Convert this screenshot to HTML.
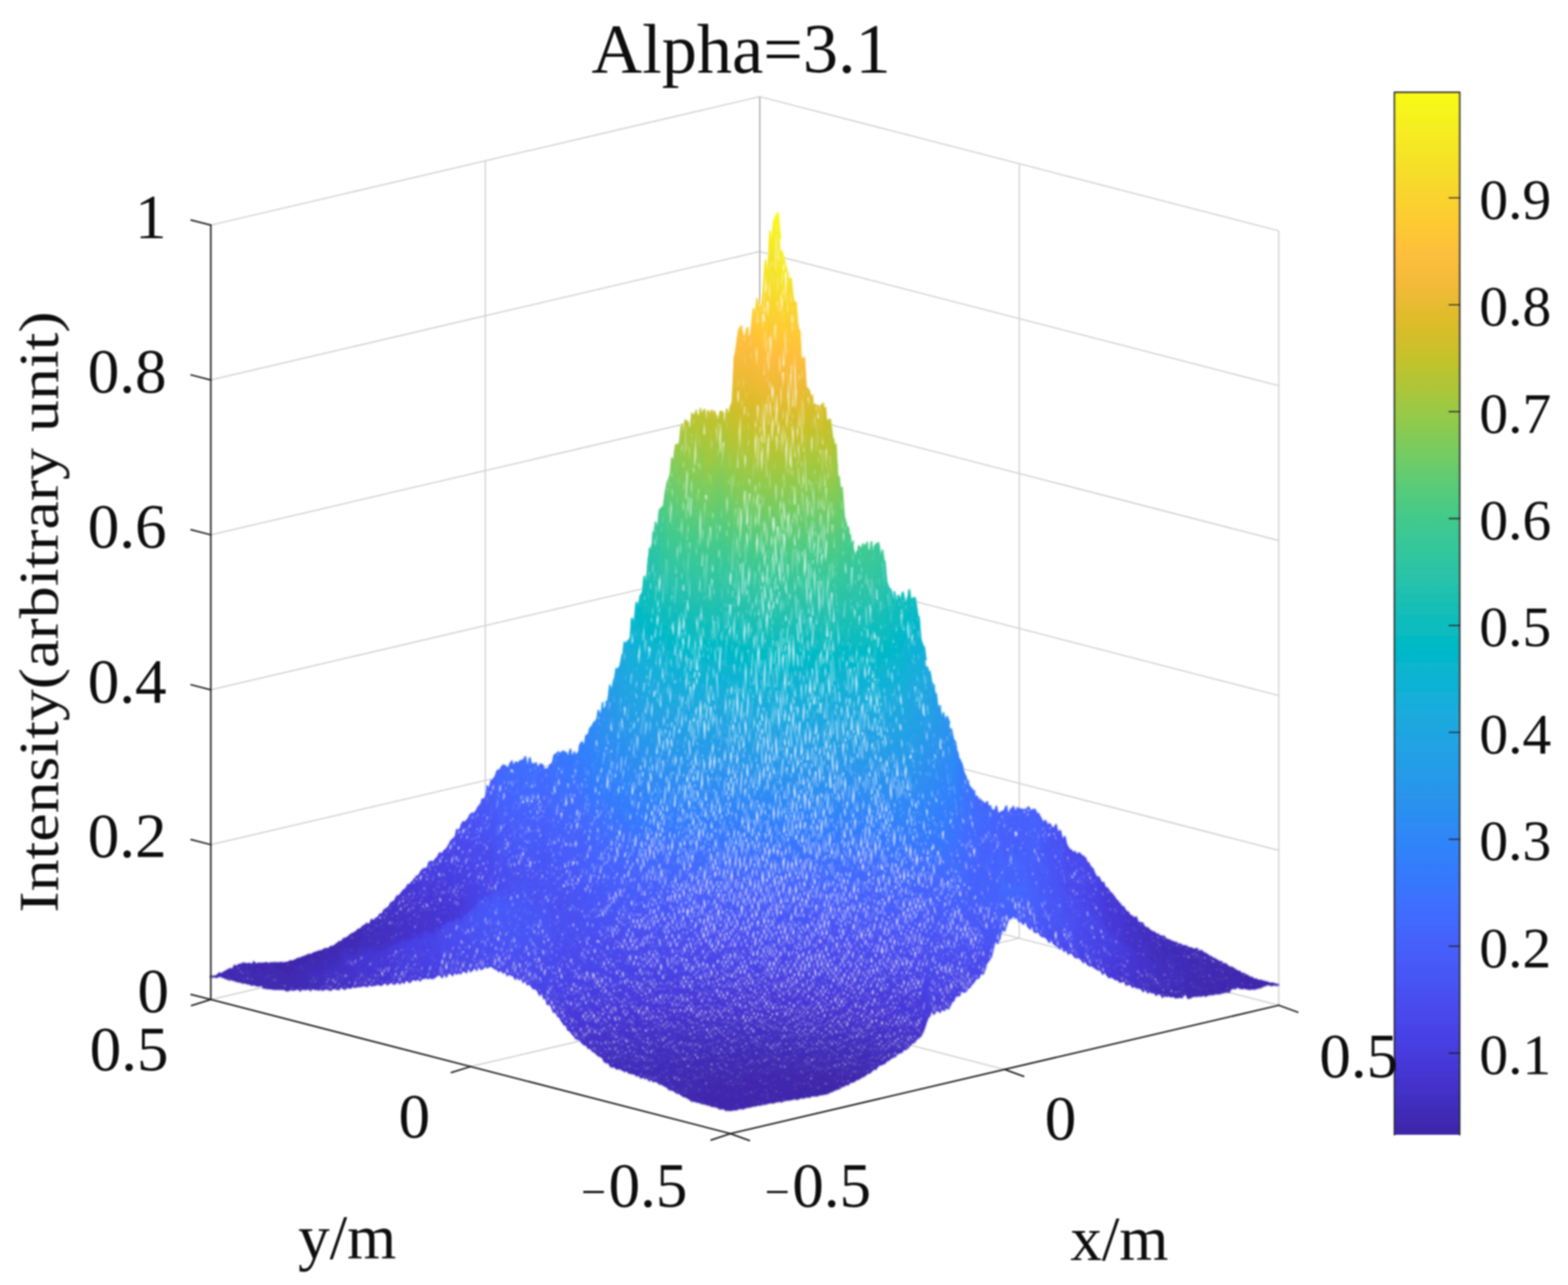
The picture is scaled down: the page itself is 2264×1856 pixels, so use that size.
<!DOCTYPE html>
<html><head><meta charset="utf-8"><title>Alpha=3.1</title><style>html,body{margin:0;padding:0;background:#fff}
svg{display:block}
.g{stroke:#d4d4d4;stroke-width:2;fill:none}
.g2{stroke:#b0b0b0;stroke-width:2;fill:none}
.a{stroke:#262626;stroke-width:2.3;fill:none;stroke-linecap:round}
text{font-family:"Liberation Serif","DejaVu Serif",serif;fill:#0a0a0a}
.tl{font-size:101.5px}
.tk{font-size:91px}
.cb{font-size:83px}
</style></head><body><svg width="2264" height="1856" viewBox="0 0 2264 1856"><defs><linearGradient id="gr" gradientUnits="userSpaceOnUse" x1="-5.87" y1="-25.02" x2="-248.42" y2="-1058.98"><stop offset="0" stop-color="#3e26a8"/><stop offset="0.03125" stop-color="#422ebf"/><stop offset="0.0625" stop-color="#4536d5"/><stop offset="0.09375" stop-color="#4741e5"/><stop offset="0.125" stop-color="#484cef"/><stop offset="0.1562" stop-color="#4757f7"/><stop offset="0.1875" stop-color="#4562fc"/><stop offset="0.2188" stop-color="#3f6efe"/><stop offset="0.25" stop-color="#347afd"/><stop offset="0.2812" stop-color="#2e85f8"/><stop offset="0.3125" stop-color="#2c90f0"/><stop offset="0.3438" stop-color="#269ae9"/><stop offset="0.375" stop-color="#21a3e3"/><stop offset="0.4062" stop-color="#1aacdd"/><stop offset="0.4375" stop-color="#0cb3d3"/><stop offset="0.4688" stop-color="#01b9c6"/><stop offset="0.5" stop-color="#12beb9"/><stop offset="0.5312" stop-color="#28c2ab"/><stop offset="0.5625" stop-color="#34c79c"/><stop offset="0.5938" stop-color="#44ca8a"/><stop offset="0.625" stop-color="#5ccc76"/><stop offset="0.6562" stop-color="#77cc60"/><stop offset="0.6875" stop-color="#94ca4a"/><stop offset="0.7188" stop-color="#afc637"/><stop offset="0.75" stop-color="#c8c129"/><stop offset="0.7812" stop-color="#debc2a"/><stop offset="0.8125" stop-color="#f1ba37"/><stop offset="0.8438" stop-color="#febe3c"/><stop offset="0.875" stop-color="#feca33"/><stop offset="0.9062" stop-color="#f9d62d"/><stop offset="0.9375" stop-color="#f5e327"/><stop offset="0.9688" stop-color="#f6ef20"/><stop offset="1" stop-color="#f9fb15"/></linearGradient><linearGradient id="gc" gradientUnits="userSpaceOnUse" x1="6.38" y1="-24.75" x2="269.99" y2="-1047.68"><stop offset="0" stop-color="#3e26a8"/><stop offset="0.03125" stop-color="#422ebf"/><stop offset="0.0625" stop-color="#4536d5"/><stop offset="0.09375" stop-color="#4741e5"/><stop offset="0.125" stop-color="#484cef"/><stop offset="0.1562" stop-color="#4757f7"/><stop offset="0.1875" stop-color="#4562fc"/><stop offset="0.2188" stop-color="#3f6efe"/><stop offset="0.25" stop-color="#347afd"/><stop offset="0.2812" stop-color="#2e85f8"/><stop offset="0.3125" stop-color="#2c90f0"/><stop offset="0.3438" stop-color="#269ae9"/><stop offset="0.375" stop-color="#21a3e3"/><stop offset="0.4062" stop-color="#1aacdd"/><stop offset="0.4375" stop-color="#0cb3d3"/><stop offset="0.4688" stop-color="#01b9c6"/><stop offset="0.5" stop-color="#12beb9"/><stop offset="0.5312" stop-color="#28c2ab"/><stop offset="0.5625" stop-color="#34c79c"/><stop offset="0.5938" stop-color="#44ca8a"/><stop offset="0.625" stop-color="#5ccc76"/><stop offset="0.6562" stop-color="#77cc60"/><stop offset="0.6875" stop-color="#94ca4a"/><stop offset="0.7188" stop-color="#afc637"/><stop offset="0.75" stop-color="#c8c129"/><stop offset="0.7812" stop-color="#debc2a"/><stop offset="0.8125" stop-color="#f1ba37"/><stop offset="0.8438" stop-color="#febe3c"/><stop offset="0.875" stop-color="#feca33"/><stop offset="0.9062" stop-color="#f9d62d"/><stop offset="0.9375" stop-color="#f5e327"/><stop offset="0.9688" stop-color="#f6ef20"/><stop offset="1" stop-color="#f9fb15"/></linearGradient><linearGradient id="gu" gradientUnits="userSpaceOnUse" x1="0" y1="1419.6" x2="0" y2="328.7"><stop offset="0" stop-color="#3e26a8"/><stop offset="0.03125" stop-color="#422ebf"/><stop offset="0.0625" stop-color="#4536d5"/><stop offset="0.09375" stop-color="#4741e5"/><stop offset="0.125" stop-color="#484cef"/><stop offset="0.1562" stop-color="#4757f7"/><stop offset="0.1875" stop-color="#4562fc"/><stop offset="0.2188" stop-color="#3f6efe"/><stop offset="0.25" stop-color="#347afd"/><stop offset="0.2812" stop-color="#2e85f8"/><stop offset="0.3125" stop-color="#2c90f0"/><stop offset="0.3438" stop-color="#269ae9"/><stop offset="0.375" stop-color="#21a3e3"/><stop offset="0.4062" stop-color="#1aacdd"/><stop offset="0.4375" stop-color="#0cb3d3"/><stop offset="0.4688" stop-color="#01b9c6"/><stop offset="0.5" stop-color="#12beb9"/><stop offset="0.5312" stop-color="#28c2ab"/><stop offset="0.5625" stop-color="#34c79c"/><stop offset="0.5938" stop-color="#44ca8a"/><stop offset="0.625" stop-color="#5ccc76"/><stop offset="0.6562" stop-color="#77cc60"/><stop offset="0.6875" stop-color="#94ca4a"/><stop offset="0.7188" stop-color="#afc637"/><stop offset="0.75" stop-color="#c8c129"/><stop offset="0.7812" stop-color="#debc2a"/><stop offset="0.8125" stop-color="#f1ba37"/><stop offset="0.8438" stop-color="#febe3c"/><stop offset="0.875" stop-color="#feca33"/><stop offset="0.9062" stop-color="#f9d62d"/><stop offset="0.9375" stop-color="#f5e327"/><stop offset="0.9688" stop-color="#f6ef20"/><stop offset="1" stop-color="#f9fb15"/></linearGradient><filter id="bl" x="-5%" y="-5%" width="110%" height="110%"><feGaussianBlur stdDeviation="1.60"/></filter><filter id="ba" x="-2%" y="-2%" width="104%" height="104%"><feGaussianBlur stdDeviation="1.00"/></filter><filter id="bt" x="-2%" y="-2%" width="104%" height="104%"><feGaussianBlur stdDeviation="0.90"/></filter></defs><rect width="2264" height="1856" fill="#fff"/><g filter="url(#ba)"><g><line x1="304.4" y1="1443.7" x2="1097.0" y2="1258.2" class="g"/><line x1="1097.0" y1="1258.2" x2="1846.4" y2="1452.0" class="g"/><line x1="304.4" y1="1220.0" x2="1097.0" y2="1034.5" class="g"/><line x1="1097.0" y1="1034.5" x2="1846.4" y2="1228.3" class="g"/><line x1="304.4" y1="996.3" x2="1097.0" y2="810.8" class="g"/><line x1="1097.0" y1="810.8" x2="1846.4" y2="1004.6" class="g"/><line x1="304.4" y1="772.5" x2="1097.0" y2="587.0" class="g"/><line x1="1097.0" y1="587.0" x2="1846.4" y2="780.8" class="g"/><line x1="304.4" y1="548.8" x2="1097.0" y2="363.3" class="g"/><line x1="1097.0" y1="363.3" x2="1846.4" y2="557.1" class="g"/><line x1="304.4" y1="325.1" x2="1097.0" y2="139.6" class="g"/><line x1="1097.0" y1="139.6" x2="1846.4" y2="333.4" class="g"/><line x1="700.7" y1="1351.0" x2="700.7" y2="232.4" class="g"/><line x1="1471.7" y1="1355.1" x2="1471.7" y2="236.5" class="g"/><line x1="1846.4" y1="1452.0" x2="1846.4" y2="333.4" class="g"/><line x1="1097.0" y1="1258.2" x2="1097.0" y2="139.6" class="g2"/><line x1="1450.5" y1="1544.7" x2="700.7" y2="1351.0" class="g"/><line x1="679.5" y1="1540.5" x2="1471.7" y2="1355.1" class="g"/></g></g><path d="M305 1410l2 0 2 0 2 0 2-2 2-2 2 0 2 0 2-1 2-1 2-2 2 0 2-2 2 0 2-1 2 1 2-4 2-1 2 1 2-2 2-1 2 0 2-1 2 0 2 0 2 0 2 0 2-1 2 1 2 0 2-2 2 0 2 2 2 0 2-1 2 1 2 0 2 0 2-1 2-1 2 0 2 2 2 0 2-1 2 0 2 0 2 0 2 0 2 0 2-1 2 0 2 0 2 2 2-2 2 0 2 0 2-2 2 0 2 0 2 0 2-2 2 0 2-2 2 0 2 0 2-1 2-1 2 0 2-1 2-1 2 0 2-1 2-1 2 0 2-2 2 0 2-1 2-1 2 0 2 0 2-2 2-1 2-1 2 0 2 0 2-2 2-1 2 1 2-2 2-1 2-1 2-2 2-2 2 0 2-2 2-2 2 0 2-2 2 0 2-2 2-2 2-1 2-1 2-1 2-1 2-2 2-2 2 0 2-2 2-2 2-1 2-1 2-2 2 1 2-2 2-5 2 1 2 1 2-3 2-1 2-2 2-3 2-1 2 0 2-4 2-2 2-2 2-1 2-3 2-4 2 0 2-2 2-2 2-4 2-2 2 0 2-2 2-2 2-4 2-1 2-1 2-4 2-2 2 0 2-3 2-3 2-2 2-2 2-2 2-1 2-3 2-3 2-3 2 0 2-1 2 0 2-5 2-5 2-1 2 0 2 2 2-4 2-3 2-1 2-4 2-2 2 2 2-4 2-2 2-2 2-2 2-3 2-5 2-2 2-2 2-2 2-3 2-9 2 1 2-3 2-4 2-4 2-1 2 0 2-3 2-2 2-4 2-2 2-2 2 2 2-3 2-3 2-4 2-2 2-2 2-8 2 0 2 0 2-13 2-6 2 5 2-9 2-5 2 0 2-3 2-5 2-6 2 2 2-2 2-4 2-2 2-1 2 2 2 1 2 1 2-5 2-4 2 1 2 3 2-2 2-2 2 2 2-2 2 0 2-2 2 1 2-5 2 2 2 11 2-11 2 0 2 8 2-1 2 1 2-2 2 4 2 2 2-4 2 0 2 0 2 7 2-1 2 1 2-3 2-4 2 0 2-4 2-9 2-1 2-2 2-2 2 2 2 0 2-3 2 0 2 1 2 2 2 4 2-6 2-4 2 8 2-1 2-2 2 3 2-2 2-3 2-10 2-3 2 2 2 2 2-13 2-1 2-4 2-6 2-2 2-4 2-4 2-1 2-1 2-14 2 3 2 1 2-14 2 6 2 0 2-8 2-4 2-18 2 0 2 0 2-8 2-6 2-12 2 1 2-3 2-6 2-10 2-4 2-16 2 2 2-4 2-1 2-5 2-24 2-1 2-1 2-21 2-1 2 2 2-12 2-4 2-6 2-18 2 1 2-3 2-24 2-12 2-2 2-7 2-19 2-10 2-2 2 4 2-20 2-4 2-2 2-3 2-16 2-11 2-8 2-5 2-10 2-18 2 3 2-16 2-10 2 2 2 2 2-14 2-16 2 8 2 0 2-14 2 1 2 1 2 10 2-12 2-10 2 2 2-4 2-3 2 9 2-4 2-8 2 7 2-4 2-1 2 21 2-19 2 2 2 2 2-6 2 10 2-8 2 5 2 6 2-1 2-10 2 0 2 2 2 16 2-12 2-8 2 7 2-9 2-4 2-22 2-44 2-13 2-15 2-14 2-4 2-2 2 5 2 8 2 0 2-9 2-3 2 15 2-7 2-16 2-19 2 13 2-17 2-11 2 7 2 6 2-10 2-18 2-28 2-12 2 22 2-32 2-28 2 10 2-20 2-11 2-5 2-4 2-1 2 21 2 37 2-2 2 7 2 8 2 8 2 7 2 19 2-7 2 9 2 16 2 8 2 0 2 24 2 14 2 9 2 33 2 0 2-2 2 39 2 5 2 2 2 4 2 15 2-10 2 13 2-2 2 4 2 0 2 4 2-4 2-3 2 17 2-7 2 15 2 0 2-2 2 6 2 14 2 8 2 10 2 2 2 32 2 11 2 16 2 1 2 16 2 24 2 8 2 7 2 3 2 8 2 14 2-4 2 13 2 6 2-5 2-8 2 2 2 3 2-7 2 4 2-2 2-2 2 10 2 0 2-14 2 12 2-2 2-5 2-1 2-2 2 5 2 15 2-7 2 8 2 9 2 12 2 18 2 5 2 3 2 4 2 8 2-7 2 7 2 3 2-5 2 2 2-2 2-5 2 7 2 8 2-6 2-14 2 4 2 12 2-4 2-2 2 0 2 12 2 17 2 3 2 23 2 12 2 4 2 7 2 12 2 14 2 4 2 1 2 15 2 2 2 10 2 7 2 9 2 6 2 3 2 13 2-6 2 4 2 7 2-5 2 2 2 7 2 8 2 9 2 7 2 3 2 12 2 2 2 10 2 3 2 5 2 8 2 6 2 5 2 5 2 6 2 4 2 2 2 2 2 8 2 1 2 1 2 6 2-2 2 2 2 0 2 2 2 2 2-4 2 9 2-3 2 4 2 2 2 2 2-6 2 0 2 10 2-1 2-3 2 0 2-2 2-4 2 0 2 8 2-2 2-3 2-3 2 0 2 4 2 0 2-4 2 2 2 0 2 2 2 0 2-1 2 1 2-3 2-1 2 2 2 3 2-3 2 2 2 2 2 4 2 0 2 2 2 4 2 4 2 0 2 0 2 4 2 4 2-4 2 2 2 4 2 0 2-4 2 0 2 8 2 0 2 1 2 7 2 4 2-4 2 9 2 5 2 4 2 2 2 0 2 4 2-2 2 3 2 1 2-2 2 1 2 2 2 2 2 1 2 2 2 5 2 1 2 4 2 2 2 2 2 5 2 5 2 2 2 1 2 1 2 4 2 3 2 0 2 5 2 2 2 2 2 3 2 3 2 1 2 3 2 2 2 3 2 1 2 4 2 2 2 3 2 1 2 2 2 3 2 3 2 0 2 4 2 1 2 1 2 2 2-2 2 3 2 5 2 0 2 1 2 0 2 3 2 3 2 1 2 1 2 2 2 1 2 2 2 1 2 0 2 1 2 2 2 0 2 2 2 0 2 1 2 1 2 2 2 1 2 1 2 1 2 1 2 0 2 1 2 1 2 0 2 2 2 0 2 0 2 2 2 0 2 0 2 0 2 2 2 1 2 0 2 1 2 1 2 1 2-2 2 2 2 2 2 0 2 0 2 2 2 1 2 1 2 1 2 1 2 2 2 0 2 2 2 1 2 1 2 1 2 1 2 1 2 0 2 2 2 1 2 0 2 2 2 2 2 1 2 1 2 0 2 2 2 0 2 2 2 0 2 1 2 1 2 2 2 0 2 2 2 1 2 1 2 1 2 1 2 0 2 2 2 0 2 0 2 1 2 1 2 0 2 0 2 1 2 1 2 0 2 0 2 1 2 1 2 0 2 0 2 0 2 2 2 0 2 0 0 0-2 0-2 0-2 0-2 0-2 0-2 0-2 0-2 0-2 0-2 1-2 1-2 1-2 1-2 0-2 0-2 2-2 0-2 0-2 0-2 0-2 0-2 0-2 0-2-1-2 0-2 1-2-1-2-1-2 0-2 0-2 1-2 0-2 0-2 1-2 4-2 0-2 0-2 0-2 0-2 0-2 2-2 0-2 1-2-1-2 0-2 2-2 0-2 0-2 0-2 0-2 1-2 1-2 0-2-2-2 2-2 0-2 0-2 0-2 0-2 0-2 0-2 0-2 2-2 1-2 0-2-3-2-2-2 2-2 2-2 0-2 0-2 0-2 0-2 1-2-1-2-2-2 2-2-1-2-1-2 0-2 0-2 0-2 1-2 0-2-3-2-1-2 0-2 2-2-1-2-3-2 1-2-2-2-1-2 2-2-1-2-4-2 3-2-1-2-2-2-1-2-1-2 0-2-1-2-1-2 2-2-2-2-4-2 2-2 0-2 0-2-4-2-2-2 2-2 0-2-2-2-1-2-1-2 0-2-2-2-1-2-1-2 2-2-2-2-2-2-4-2 1-2 1-2-4-2-2-2 0-2 0-2-2-2-2-2-1-2-1-2 0-2 0-2-2-2-4-2 0-2 2-2-3-2-3-2-2-2 1-2-1-2 0-2-2-2-4-2 0-2 1-2-1-2-4-2 0-2 0-2-5-2 1-2 2-2-2-2-2-2-1-2-2-2-3-2-4-2 4-2 0-2-4-2-2-2-2-2 0-2 0-2-2-2-4-2 0-2 0-2 0-2-4-2-6-2 5-2-1-2-2-2-4-2-2-2 2-2-2-2-2-2 0-2-2-2-5-2 1-2-2-2 2-2 2-2-2-2 6-2 6-2 6-2 2-2-2-2 6-2 8-2 4-2 1-2-2-2 7-2 8-2 7-2 3-2 3-2 3-2 5-2 7-2 4-2 0-2 0-2 5-2 1-2 2-2 2-2 3-2 1-2 4-2 2-2 0-2 4-2 2-2 0-2-1-2 1-2 6-2 0-2 0-2 0-2 4-2 3-2 5-2 4-2 2-2 0-2 0-2 2-2 0-2-1-2 4-2-1-2-2-2 2-2 2-2 2-2-4-2 2-2 6-2 4-2 6-2 5-2 5-2 4-2 4-2 1-2 2-2 2-2 3-2 1-2 1-2 2-2 1-2 3-2 2-2 1-2 0-2 3-2 1-2 1-2 0-2 1-2 3-2 2-2 0-2 2-2 0-2 3-2 0-2 1-2 3-2 1-2 1-2 0-2 1-2 2-2 4-2 0-2-1-2 3-2 2-2 1-2 0-2 1-2 3-2 1-2 1-2 0-2 1-2 2-2 0-2 2-2 2-2 0-2 0-2 1-2 2-2 1-2 0-2 2-2 0-2 0-2 2-2 2-2 0-2 0-2 2-2 0-2 2-2 1-2 1-2 0-2 1-2 1-2 0-2 1-2-1-2 0-2 2-2 0-2 0-2 0-2 0-2 0-2 2-2 0-2 0-2 0-2 0-2 1-2-1-2 1-2 1-2 0-2 1-2-1-2 0-2 2-2 0-2 0-2 0-2 0-2 0-2 2-2 0-2 0-2 0-2 0-2 0-2 1-2 1-2 0-2 0-2 0-2 1-2 0-2 1-2 0-2 0-2 0-2 2-2 0-2 0-2 1-2 0-2 0-2 1-2 0-2 0-2 1-2 0-2 1-2 0-2 1-2-1-2 1-2 1-2 0-2 0-2 0-2 1-2 1-2 0-2-1-2 0-2-1-2-1-2 0-2-1-2 0-2 0-2-2-2 0-2 0-2 0-2 0-2-2-2 0-2-1-2-1-2 0-2 0-2 0-2-1-2-1-2-1-2 0-2-1-2 0-2 0-2 0-2-2-2-2-2-1-2-1-2-1-2-1-2 0-2-2-2-2-2 0-2-1-2-1-2-2-2-1-2 0-2 0-2-3-2-2-2 0-2-1-2-1-2-1-2 0-2-1-2-2-2 0-2 0-2-2-2-2-2 2-2-1-2-3-2 1-2-1-2-2-2 2-2-2-2-2-2 1-2-1-2-2-2 0-2 0-2 0-2 0-2-3-2-1-2 1-2-1-2-2-2 0-2-1-2 0-2 1-2-3-2-1-2 0-2 0-2-4-2-2-2 0-2-1-2-1-2-4-2-2-2-1-2 0-2-2-2-3-2-1-2-1-2-2-2-2-2 0-2-2-2-3-2-1-2-1-2-1-2-4-2-1-2-1-2 0-2-2-2-2-2-2-2-4-2-2-2 0-2-6-2-2-2 0-2-5-2-2-2-4-2-1-2-4-2-3-2 1-2-4-2-5-2-3-2 0-2 0-2-8-2-1-2-1-2-6-2 3-2-2-2-5-2-2-2 0-2 0-2-3-2-3-2-1-2 1-2-4-2-2-2 2-2-4-2-2-2 2-2-2-2-2-2 4-2-4-2-2-2 0-2-1-2 1-2 0-2-4-2 0-2 0-2-2-2 0-2 0-2-2-2-1-2-1-2-1-2-1-2-1-2 0-2 1-2 0-2 0-2 3-2 0-2 1-2-4-2 2-2 3-2-3-2 0-2 3-2 1-2-2-2 0-2 4-2-1-2-1-2 0-2 4-2 0-2-2-2 2-2-1-2 0-2 3-2 0-2-3-2-1-2 4-2 2-2-4-2 4-2 0-2-2-2 0-2 0-2 2-2 2-2-1-2 3-2-2-2 0-2 1-2-1-2 0-2 0-2 1-2 2-2 1-2-2-2 0-2 2-2-2-2 1-2 1-2 2-2-1-2-1-2 0-2 3-2 0-2-3-2 4-2-1-2-1-2 2-2 0-2 1-2-2-2 0-2 1-2 2-2-2-2-1-2 1-2 2-2 0-2 0-2-1-2 1-2 0-2 0-2 0-2 1-2-1-2 1-2 1-2 0-2 0-2-1-2 1-2 0-2 0-2 1-2 1-2 0-2-2-2 2-2 0-2 0-2-1-2 1-2 2-2 0-2-2-2 0-2 3-2-1-2 0-2-1-2 0-2 1-2 2-2-1-2-1-2 0-2 0-2 0-2 1-2-1-2 0-2 0-2 0-2 0-2 1-2-1-2 1-2 1-2-2-2 0-2 0-2 0-2 0-2 1-2 1-2-1-2-1-2 0-2 1-2 1-2 0-2-2-2 1-2 1-2 0-2 0-2-2-2 0-2 0-2 0-2 0-2 0-2 0-2 0-2 0-2 0-2 0-2-1-2 0-2 0-2-1-2 0-2-3-2 0-2 1-2 0-2-1-2-1-2 0-2 0-2 0-2-2-2 1-2-1-2-1-2 0-2-1-2 0-2-1-2 1-2-1-2-1-2 0-2-1-2-1-2 1-2-1-2-1-2-1-2 0-2-1-2-1-2 0-2 0-2 2-2-1-2-1-2 0-2 0Z" fill="#fff" stroke="#fff" stroke-width="1.5"/><path d="M305 1410l2 0 2 0 2 0 2-2 2-2 2 0 2 0 2-1 2-1 2-2 2 0 2-2 2 0 2-1 2 1 2-4 2-1 2 1 2-2 2-1 2 0 2-1 2 0 2 0 2 0 2 0 2-1 2 1 2 0 2-2 2 0 2 2 2 0 2-1 2 1 2 0 2 0 2-1 2-1 2 0 2 2 2 0 2-1 2 0 2 0 2 0 2 0 2 0 2-1 2 0 2 0 2 2 2-2 2 0 2 0 2-2 2 0 2 0 2 0 2-2 2 0 2-2 2 0 2 0 2-1 2-1 2 0 2-1 2-1 2 0 2-1 2-1 2 0 2-2 2 0 2-1 2-1 2 0 2 0 2-2 2-1 2-1 2 0 2 0 2-2 2-1 2 1 2-2 2-1 2-1 2-2 2-2 2 0 2-2 2-2 2 0 2-2 2 0 2-2 2-2 2-1 2-1 2-1 2-1 2-2 2-2 2 0 2-2 2-2 2-1 2-1 2-2 2 1 2-2 2-5 2 1 2 1 2-3 2-1 2-2 2-3 2-1 2 0 2-4 2-2 2-2 2-1 2-3 2-4 2 0 2-2 2-2 2-4 2-2 2 0 2-2 2-2 2-4 2-1 2-1 2-4 2-2 2 0 2-3 2-3 2-2 2-2 2-2 2-1 2-3 2-3 2-3 2 0 2-1 2 0 2-5 2-5 2-1 2 0 2 2 2-4 2-3 2-1 2-4 2-2 2 2 2-4 2-2 2-2 2-2 2-3 2-5 2-2 2-2 2-2 2-3 2-9 2 1 2-3 2-4 2-4 2-1 2 0 2-3 2-2 2-4 2-2 2-2 2 2 2-3 2-3 2-4 2-2 2-2 2-8 2 0 2 0 2-13 2-6 2 5 2-9 2-5 2 0 2-3 2-5 2-6 2 2 2-2 2-4 2-2 2-1 2 2 2 1 2 1 2-5 2-4 2 1 2 3 2-2 2-2 2 2 2-2 2 0 2-2 2 1 2-5 2 2 2 11 2-11 2 0 2 8 2-1 2 1 2-2 2 4 2 2 2-4 2 0 2 0 2 7 2-1 2 1 2-3 2-4 2 0 2-4 2-9 2-1 2-2 2-2 2 2 2 0 2-3 2 0 2 1 2 2 2 4 2-6 2-4 2 8 2-1 2-2 2 3 2-2 2-3 2-10 2-3 2 2 2 2 2-13 2-1 2-4 2-6 2-2 2-4 2-4 2-1 2-1 2-14 2 3 2 1 2-14 2 6 2 0 2-8 2-4 2-18 2 0 2 0 2-8 2-6 2-12 2 1 2-3 2-6 2-10 2-4 2-16 2 2 2-4 2-1 2-5 2-24 2-1 2-1 2-21 2-1 2 2 2-12 2-4 2-6 2-18 2 1 2-3 2-24 2-12 2-2 2-7 2-19 2-10 2-2 2 4 2-20 2-4 2-2 2-3 2-16 2-11 2-8 2-5 2-10 2-18 2 3 2-16 2-10 2 2 2 2 2-14 2-16 2 8 2 0 2-14 2 1 2 1 2 10 2-12 2-10 2 2 2-4 2-3 2 9 2-4 2-8 2 7 2-4 2-1 2 21 2-19 2 2 2 2 2-6 2 10 2-8 2 5 2 6 2-1 2-10 2 0 2 2 2 16 2-12 2-8 2 7 2-9 2-4 2-22 2-44 2-13 2-15 2-14 2-4 2-2 2 5 2 8 2 0 2-9 2-3 2 15 2-7 2-16 2-19 2 13 2-17 2-11 2 7 2 6 2-10 2-18 2-28 2-12 2 22 2-32 2-28 2 10 2-20 2-11 2-5 2-4 2-1 2 21 2 37 2-2 2 7 2 8 2 8 2 7 2 19 2-7 2 9 2 16 2 8 2 0 2 24 2 14 2 9 2 33 2 0 2-2 2 39 2 5 2 2 2 4 2 15 2-10 2 13 2-2 2 4 2 0 2 4 2-4 2-3 2 17 2-7 2 15 2 0 2-2 2 6 2 14 2 8 2 10 2 2 2 32 2 11 2 16 2 1 2 16 2 24 2 8 2 7 2 3 2 8 2 14 2-4 2 13 2 6 2-5 2-8 2 2 2 3 2-7 2 4 2-2 2-2 2 10 2 0 2-14 2 12 2-2 2-5 2-1 2-2 2 5 2 15 2-7 2 8 2 9 2 12 2 18 2 5 2 3 2 4 2 8 2-7 2 7 2 3 2-5 2 2 2-2 2-5 2 7 2 8 2-6 2-14 2 4 2 12 2-4 2-2 2 0 2 12 2 17 2 3 2 23 2 12 2 4 2 7 2 12 2 14 2 4 2 1 2 15 2 2 2 10 2 7 2 9 2 6 2 3 2 13 2-6 2 4 2 7 2-5 2 2 2 7 2 8 2 9 2 7 2 3 2 12 2 2 2 10 2 3 2 5 2 8 2 6 2 5 2 5 2 6 2 4 2 2 2 2 2 8 2 1 2 1 2 6 2-2 2 2 2 0 2 2 2 2 2-4 2 9 2-3 2 4 2 2 2 2 2-6 2 0 2 10 2-1 2-3 2 0 2-2 2-4 2 0 2 8 2-2 2-3 2-3 2 0 2 4 2 0 2-4 2 2 2 0 2 2 2 0 2-1 2 1 2-3 2-1 2 2 2 3 2-3 2 2 2 2 2 4 2 0 2 2 2 4 2 4 2 0 2 0 2 4 2 4 2-4 2 2 2 4 2 0 2-4 2 0 2 8 2 0 2 1 2 7 2 4 2-4 2 9 2 5 2 4 2 2 2 0 2 4 2-2 2 3 2 1 2-2 2 1 2 2 2 2 2 1 2 2 2 5 2 1 2 4 2 2 2 2 2 5 2 5 2 2 2 1 2 1 2 4 2 3 2 0 2 5 2 2 2 2 2 3 2 3 2 1 2 3 2 2 2 3 2 1 2 4 2 2 2 3 2 1 2 2 2 3 2 3 2 0 2 4 2 1 2 1 2 2 2-2 2 3 2 5 2 0 2 1 2 0 2 3 2 3 2 1 2 1 2 2 2 1 2 2 2 1 2 0 2 1 2 2 2 0 2 2 2 0 2 1 2 1 2 2 2 1 2 1 2 1 2 1 2 0 2 1 2 1 2 0 2 2 2 0 2 0 2 2 2 0 2 0 2 0 2 2 2 1 2 0 2 1 2 1 2 1 2-2 2 2 2 2 2 0 2 0 2 2 2 1 2 1 2 1 2 1 2 2 2 0 2 2 2 1 2 1 2 1 2 1 2 1 2 0 2 2 2 1 2 0 2 2 2 2 2 1 2 1 2 0 2 2 2 0 2 2 2 0 2 1 2 1 2 2 2 0 2 2 2 1 2 1 2 1 2 1 2 0 2 2 2 0 2 0 2 1 2 1 2 0 2 0 2 1 2 1 2 0 2 0 2 1 2 1 2 0 2 0 2 0 2 2 2 0 2 0 0 0-2 0-2 0-2 0-2 0-2 0-2 0-2 0-2 0-2 0-2 1-2 1-2 1-2 1-2 0-2 0-2 2-2 0-2 0-2 0-2 0-2 0-2 0-2 0-2-1-2 0-2 1-2-1-2-1-2 0-2 0-2 1-2 0-2 0-2 1-2 4-2 0-2 0-2 0-2 0-2 0-2 2-2 0-2 1-2-1-2 0-2 2-2 0-2 0-2 0-2 0-2 1-2 1-2 0-2-2-2 2-2 0-2 0-2 0-2 0-2 0-2 0-2 0-2 2-2 1-2 0-2-3-2-2-2 2-2 2-2 0-2 0-2 0-2 0-2 1-2-1-2-2-2 2-2-1-2-1-2 0-2 0-2 0-2 1-2 0-2-3-2-1-2 0-2 2-2-1-2-3-2 1-2-2-2-1-2 2-2-1-2-4-2 3-2-1-2-2-2-1-2-1-2 0-2-1-2-1-2 2-2-2-2-4-2 2-2 0-2 0-2-4-2-2-2 2-2 0-2-2-2-1-2-1-2 0-2-2-2-1-2-1-2 2-2-2-2-2-2-4-2 1-2 1-2-4-2-2-2 0-2 0-2-2-2-2-2-1-2-1-2 0-2 0-2-2-2-4-2 0-2 2-2-3-2-3-2-2-2 1-2-1-2 0-2-2-2-4-2 0-2 1-2-1-2-4-2 0-2 0-2-5-2 1-2 2-2-2-2-2-2-1-2-2-2-3-2-4-2 4-2 0-2-4-2-2-2-2-2 0-2 0-2-2-2-4-2 0-2 0-2 0-2-4-2-6-2 5-2-1-2-2-2-4-2-2-2 2-2-2-2-2-2 0-2-2-2-5-2 1-2-2-2 2-2 2-2-2-2 6-2 6-2 6-2 2-2-2-2 6-2 8-2 4-2 1-2-2-2 7-2 8-2 7-2 3-2 3-2 3-2 5-2 7-2 4-2 0-2 0-2 5-2 1-2 2-2 2-2 3-2 1-2 4-2 2-2 0-2 4-2 2-2 0-2-1-2 1-2 6-2 0-2 0-2 0-2 4-2 3-2 5-2 4-2 2-2 0-2 0-2 2-2 0-2-1-2 4-2-1-2-2-2 2-2 2-2 2-2-4-2 2-2 6-2 4-2 6-2 5-2 5-2 4-2 4-2 1-2 2-2 2-2 3-2 1-2 1-2 2-2 1-2 3-2 2-2 1-2 0-2 3-2 1-2 1-2 0-2 1-2 3-2 2-2 0-2 2-2 0-2 3-2 0-2 1-2 3-2 1-2 1-2 0-2 1-2 2-2 4-2 0-2-1-2 3-2 2-2 1-2 0-2 1-2 3-2 1-2 1-2 0-2 1-2 2-2 0-2 2-2 2-2 0-2 0-2 1-2 2-2 1-2 0-2 2-2 0-2 0-2 2-2 2-2 0-2 0-2 2-2 0-2 2-2 1-2 1-2 0-2 1-2 1-2 0-2 1-2-1-2 0-2 2-2 0-2 0-2 0-2 0-2 0-2 2-2 0-2 0-2 0-2 0-2 1-2-1-2 1-2 1-2 0-2 1-2-1-2 0-2 2-2 0-2 0-2 0-2 0-2 0-2 2-2 0-2 0-2 0-2 0-2 0-2 1-2 1-2 0-2 0-2 0-2 1-2 0-2 1-2 0-2 0-2 0-2 2-2 0-2 0-2 1-2 0-2 0-2 1-2 0-2 0-2 1-2 0-2 1-2 0-2 1-2-1-2 1-2 1-2 0-2 0-2 0-2 1-2 1-2 0-2-1-2 0-2-1-2-1-2 0-2-1-2 0-2 0-2-2-2 0-2 0-2 0-2 0-2-2-2 0-2-1-2-1-2 0-2 0-2 0-2-1-2-1-2-1-2 0-2-1-2 0-2 0-2 0-2-2-2-2-2-1-2-1-2-1-2-1-2 0-2-2-2-2-2 0-2-1-2-1-2-2-2-1-2 0-2 0-2-3-2-2-2 0-2-1-2-1-2-1-2 0-2-1-2-2-2 0-2 0-2-2-2-2-2 2-2-1-2-3-2 1-2-1-2-2-2 2-2-2-2-2-2 1-2-1-2-2-2 0-2 0-2 0-2 0-2-3-2-1-2 1-2-1-2-2-2 0-2-1-2 0-2 1-2-3-2-1-2 0-2 0-2-4-2-2-2 0-2-1-2-1-2-4-2-2-2-1-2 0-2-2-2-3-2-1-2-1-2-2-2-2-2 0-2-2-2-3-2-1-2-1-2-1-2-4-2-1-2-1-2 0-2-2-2-2-2-2-2-4-2-2-2 0-2-6-2-2-2 0-2-5-2-2-2-4-2-1-2-4-2-3-2 1-2-4-2-5-2-3-2 0-2 0-2-8-2-1-2-1-2-6-2 3-2-2-2-5-2-2-2 0-2 0-2-3-2-3-2-1-2 1-2-4-2-2-2 2-2-4-2-2-2 2-2-2-2-2-2 4-2-4-2-2-2 0-2-1-2 1-2 0-2-4-2 0-2 0-2-2-2 0-2 0-2-2-2-1-2-1-2-1-2-1-2-1-2 0-2 1-2 0-2 0-2 3-2 0-2 1-2-4-2 2-2 3-2-3-2 0-2 3-2 1-2-2-2 0-2 4-2-1-2-1-2 0-2 4-2 0-2-2-2 2-2-1-2 0-2 3-2 0-2-3-2-1-2 4-2 2-2-4-2 4-2 0-2-2-2 0-2 0-2 2-2 2-2-1-2 3-2-2-2 0-2 1-2-1-2 0-2 0-2 1-2 2-2 1-2-2-2 0-2 2-2-2-2 1-2 1-2 2-2-1-2-1-2 0-2 3-2 0-2-3-2 4-2-1-2-1-2 2-2 0-2 1-2-2-2 0-2 1-2 2-2-2-2-1-2 1-2 2-2 0-2 0-2-1-2 1-2 0-2 0-2 0-2 1-2-1-2 1-2 1-2 0-2 0-2-1-2 1-2 0-2 0-2 1-2 1-2 0-2-2-2 2-2 0-2 0-2-1-2 1-2 2-2 0-2-2-2 0-2 3-2-1-2 0-2-1-2 0-2 1-2 2-2-1-2-1-2 0-2 0-2 0-2 1-2-1-2 0-2 0-2 0-2 0-2 1-2-1-2 1-2 1-2-2-2 0-2 0-2 0-2 0-2 1-2 1-2-1-2-1-2 0-2 1-2 1-2 0-2-2-2 1-2 1-2 0-2 0-2-2-2 0-2 0-2 0-2 0-2 0-2 0-2 0-2 0-2 0-2 0-2-1-2 0-2 0-2-1-2 0-2-3-2 0-2 1-2 0-2-1-2-1-2 0-2 0-2 0-2-2-2 1-2-1-2-1-2 0-2-1-2 0-2-1-2 1-2-1-2-1-2 0-2-1-2-1-2 1-2-1-2-1-2-1-2 0-2-1-2-1-2 0-2 0-2 2-2-1-2-1-2 0-2 0Z" fill="url(#gu)" fill-opacity="0.22"/><g fill="none" stroke-width="2.50" stroke-linejoin="round" stroke-linecap="round" filter="url(#bl)"><g stroke="url(#gr)"><path transform="translate(304.7 1443.6)" d="M0 -33l3 0 3 0 3-1 3-4 3 2 4-3 3-2 3-2 3-1 3 2 3-7 3 2 3-3 3 0 3-2 3 0 4 1 3-1 3 3 3-5 3 4 3-2 3 1 3-1 3 0 3-1 3 2 4 0 3-1M102 -53l3 1 3-1 3 0 3-2 3 0 4-1 3-2 3-1 3-1 3 0 3-2 3-2 3-1 3 1 3-3 3-1 4-1 3-1 3 0 3-2 3-1 3 0 3-3 3 0 3-2 3-2 3-3 4 0 3-4 3-1 3-2 3-3 3-2 3-1 3-2 3-1M229 -107l3-8 3 2 3-4 3-1 3-5 3 0 3-6 3-2 4-2 3-6 3 0M275 -153l3-4 3-2 3-6 3-1 4-4 3-3 3-5 3 0 3-6 3-4 3-1 3 1 3-10 3-1 3 1 4-5 3-3 3-5 3 1 3-5 3 0 3-5 3-8 3-2 3 0 3-15 4 1 3-7M393 -289l3 4 3-23 3 10M414 -327l3-5"/><path transform="translate(307.6 1444.4)" d="M0 -34l3 0 3 0 3-2 3 0 3-4 4 1 3 0 3-3 3-2 3-1 3-2M43 -49l3-1 3 0 4 0 3 0 3-3 3 3 3-1 3-2 3 1 3 0 3-1 3 2 3-2 4 0 3 0 3 0 3 0 3-1 3 1M117 -56l4-2 3-1 3-1 3-2 3-1 3 1 3-3 3 1 3-2 3-1 3-1 4 0M161 -72l3-2 3 1 3-1 3-2 3-2 3-3 3-2 3 0 4-4 3-1 3-2 3-1 3-1 3-3 3-1 3-6 3 1 3-5 3-2 4 0 3-1 3-4 3 2 3-1 3-4 3 1 3-3 3-6 3-4 3-4 4-4 3-5 3-2 3-7 3 3M275 -158l3-2 3 0 3-5 3-2 4 3 3-4 3-9 3-6 3-1 3-5 3 2 3-3 3-2 3 5M325 -199l3-13 3 3 3 0 3 0 3-14 3-3 3-6 3-2 3-3 3 8 4-18 3-10 3 0 3-4M389 -283l4-7 3-5 3-7 3-15 3-1 3 2"/><path transform="translate(310.6 1445.1)" d="M0 -34l3 0 3-2 3 0 3-3 3 0 4-2 3 1 3-5 3 1 3-4 3-2 3-2 3 3 3 0 3-3 3 4 4-3 3 2 3 0 3-2 3 0 3 0 3 2 3-3 3 0 3-2 3 3 4-1 3-2 3 0 3 1 3-1 3 0 3 0 3 0 3-2 3-1 3 0 4-1 3-2 3-2 3 0M142 -65l3-3 3 2 3-4 4-1 3-3 3 2 3-1 3-2 3 1 3-4 3-2 3 1M185 -86l4-3 3 1 3 0 3 0 3-4 3-6 3-1 3-4 3-3 3 0 3-2 4 0 3-2M232 -111l3-3 3 0 3-1 3-10 3 4 3-8 3-1 4-4 3-10 3-1 3-6 3-4 3 4 3-9 3 1M287 -166l4-7 3 3 3 0 3-10 3-2 3-2 3-3M315 -186l3-13 3-4 4 7 3-5 3-9 3-9 3 12 3-2 3-17 3-7 3 3 3-9 3-4 4-10 3 1M389 -285l4-10 3-5 3-9 3-4 3-10 3-2"/><path transform="translate(313.5 1445.9)" d="M0 -37l3 0 3 1 3 1 3-1 3-1 4-1 3-4 3-1 3-4 3-4 3-1 3-2 3 5 3-2 3 0 3 3 4 1 3-1 3-2 3 1 3-1 3 0 3-1 3-1 3-3 3 3M87 -50l3-2 3-2 3 1 3-2 3 0 3-1 3-1 3-1 3 1 3 0 4-1 3-2 3-3 3-2 3 0 3-2 3-1 3 2 3-2 3-1 3-2 4-1 3-2 3 2 3-2 3 0 3-3 3-3 3-1 3-1M195 -88l3-1 3-6 3-4 3-3 3 0 3-5 3-5 3 3 4-1 3-2M244 -121l3-6 3-2 3-8 4-2 3-3 3-10 3 1 3-6 3-2 3 1 3-5 3-4 3 7M291 -168l3 0 3-7 3-5 3-7 3 2 3-4 3 6M321 -189l4-9 3-8 3 0 3-5 3-6 3-3 3 0 3-18 3 13 3-5 3-9 4-9 3-13 3-6 3 7M386 -286l3 0 4-9 3 2 3-5 3-21 3-14 3 4 3-9 3-3"/><path transform="translate(316.4 1446.6)" d="M0 -37l3 0 3 0 3 1M15 -37l4-3 3-3 3 0 3-2 3-6 3 1 3 1 3 1 3-1 3 0 3 2 4 0 3-1 3-2 3 1 3-1 3-1 3-2 3-2 3 1 3 0 3 2 4 0 3 0 3-1 3 0 3-3 3 0 3-1 3-1 3 1 3-1 3 0 4-1 3-2 3-2 3 0M136 -65l3 0 3-3 3-1 3-2 3 0 4-3 3 0 3 1 3-3 3 1 3-5 3 1 3-6 3-4 3 1 3-1 4 0 3 2 3 1 3-4 3-8 3-2 3-2 3-4 3-2 3-1M226 -113l3-1 3 2M244 -123l3-8 3-1 3-5 4-2 3-10 3-1 3-8 3 2 3 1 3-8M287 -167l4 1 3-4 3-9 3-1 3-1 3-3 3-6M325 -202l3-6 3-3M340 -217l3-11 3-11 3 12M359 -253l3-5 3-14 3 1M386 -278l3-9 4 1 3-11 3-12"/><path transform="translate(319.3 1447.4)" d="M0 -38l3 2 3-1 3 1M15 -38l4-4 3-1 3-4 3-1 3-2 3 1 3 2 3 1 3-3 3 4 3-1 4 1 3-2 3-1 3-1 3 0 3-5 3 0 3 0 3 1 3 1 3 1 4 0 3-2 3 2 3-1 3-3 3-1 3-1 3 0 3-1 3-3 3 1 4-1 3-1M130 -66l3-1 3 2 3-1 3 0 3-3 3-2 3-3 4 1 3-1 3-2 3 2 3-3 3-1 3-5 3-3M182 -89l3-1 4 1 3 1 3-2 3-4 3-4 3-5 3-3 3-1 3-2 3-5 3 3M235 -119l3-3 3-3 3-3 3-3 3-5 3-2 4 2 3-11 3-2 3-2 3-2 3-11 3-1 3 5 3-11 3 7M297 -173l3-5 3-2 3-12 3-4 3 0M318 -193l3-11 4 6 3-12 3 1M337 -214l3-9 3-4 3 2M359 -248l3-10 3-11 3-6 3-6 3-4 3-3 3 9 3-6 3 5 3-15 4-7"/><path transform="translate(322.3 1448.1)" d="M0 -37l3-1 3 0 3-1 3 0 3-3 4 0 3-1 3-5 3 1 3 1 3-3 3 1 3 0 3 3 3-1 3 2 4-2 3-3 3 3 3-1 3-3 3-4 3 1 3-1 3 1 3 0 3 2 4 1 3-1 3 0 3-1 3-1 3-5 3 1 3 0 3-2 3-2 3 2 4-4 3-2 3-1 3 0 3 0 3 1 3-1 3-1 3-2 3-5 3 0 4 0 3-1 3-1 3-1 3-2 3-4 3-3 3-3 3-1 3 1 3 1 4-1 3-1 3-2 3-3 3-4 3-5 3-1 3-5 3 2 3-4 3-5 4 2 3 1 3-5 3 0 3-2 3-6 3 1 3-2 3-4 3-3 3-4 4-3 3 0 3-6 3-5 3 0 3-4 3-11 3 1 3-3 3 2M294 -169l3-6 3 0 3-10 3-4 3-2 3-6 3 7 3-8 3-3 4 1 3-13 3-10 3 8M343 -224l3-13 3 3M359 -250l3-14 3-1M386 -278l3-27 4 5M399 -325l3-12 3-4 3 15"/><path transform="translate(325.2 1448.9)" d="M0 -36l3-2 3 0 3 1 3-3 3-4 4 0 3 1 3-4 3 1 3 0 3-2 3 2 3 3 3-2 3-2 3 1 4-1 3 1 3-3 3 0 3-2 3 0 3-3 3 1 3 0 3 3 3-2 4 2 3-1 3-2 3-1 3-2 3-1 3 4 3-4 3-1 3-3 3-1 4-3 3-1 3 2 3-1 3-1 3 1 3-2 3-2 3-1 3-3 3-1 4 2 3-4 3-1M170 -85l3-2 3-5 3 3 3-2 3 2 4-1 3-2 3-2M201 -100l3-2 3-2 3-6 3 1 3-2 3-5 4 3 3-6 3-1 3-1 3-7 3 4 3-5 3-8 3 4 3-5 3-3 4-1 3-1M266 -150l3-10 3-3 3 2 3-1 3-4 3-10M300 -174l3-12 3-4 3-4M315 -199l3-1 3 7 4-12 3-11 3-3 3 2M343 -229l3-14 3 0M355 -250l4-9 3 4M368 -271l3-23 3 14M402 -324l3-18 3 13"/><path transform="translate(328.1 1449.6)" d="M0 -36l3-4 3 3 3 0 3-3 3-2 4-1 3 1 3-1 3 0 3-2 3-2 3 3 3-1 3 1 3-2 3 0 4-2 3 0 3-2 3-2 3 0 3 1 3 0 3-1 3 1 3-1 3 1 4-1 3 0 3-1 3-3 3 1M105 -55l3-4 3-2 3-2 3 0 4-4 3 1 3 1 3 0 3 1 3-3 3-3M145 -73l3 0 3-2 4 1 3-5 3-1 3-4 3-1M173 -87l3-2 3 2 3-1 3-1 4-3 3-3 3-5 3 1 3-6 3 2 3-5 3-1 3 1 3-3 3 1 4-1 3-11 3-1 3 0 3-1 3 1 3-6 3-5 3 2 3-11 3 3 4-6 3-3 3-2 3-5 3 0 3-1 3-10 3 1 3-7 3-5 3 9 4-4 3-1 3 0 3-8 3-5 3-6 3-3 3 7 3-7 3 4 3-7 4 7 3-18 3-11 3 2 3-6 3-8 3-3 3-13 3-4 3 3M362 -260l3-18 3-1 3-9 3 13M383 -298l3-1M396 -318l3-13 3-5 3-4"/><path transform="translate(331.1 1450.4)" d="M0 -35l3-1 3-1 3-1 3-1 3-3 4-1 3 1 3 1 3-1 3-2 3 0 3 0 3-1 3 0 3-2 3 0 4-1 3-1 3-4 3 2 3-2 3 2 3 0 3 2 3-2 3 1 3-2 4 2 3-5 3 1 3-4 3 1 3 2 3-1 3-4 3-1 3-3M130 -65l3-2 3-4M148 -73l3-3 4-3 3-1 3-2 3-6 3 1 3-2 3 1 3 1 3-1 3-2 3-3 4-1 3-4 3 1 3-6 3 1 3-2 3-1 3-4 3-1 3-1 3-1 4-6 3 1 3-7 3 0 3 1 3-5 3 2 3-4 3-4 3-2 3-3 4 3 3-8 3-7 3 0 3-5 3-6 3-7 3 0 3-1 3-6 3 3 4 5 3-8 3-3 3 2 3-5 3-3 3-14 3 4 3 5M321 -197l4-15 3-6 3 7 3-6 3-14 3 1 3-4 3-5 3-15 3-1M383 -301l3-24 3-1 4 5 3-1 3-7 3-7"/><path transform="translate(334.0 1451.1)" d="M0 -38l3 1 3-1 3-1 3-5 3 2 4 0 3 0 3 0 3 0 3-1 3-1 3-1M43 -46l3-2 3 2 4-3 3-2 3-3 3 2 3 2 3-1 3 0 3 1 3 0 3-1 3 0 4-3 3-2 3-1 3 0 3 0 3 0 3-1 3-3 3-2 3-3 3-2 4 3 3-1 3-1 3 0 3-3 3-3 3 1 3-4 3 2 3-2 3 0 4-4 3-1 3-2 3-5 3-1M176 -85l3-3 3-2 3-6 4 1 3-2 3-2 3-3 3-2 3-3 3 0 3-1 3 0 3-2 3-4 4-2 3-7 3-1 3 0 3-4 3 1 3-2 3-1 3-3 3-2 3-6 4-3 3-5 3-1 3-3 3-8 3-3 3-1 3-7 3 0 3-1 3 6 4-1M300 -181l3 0 3-4 3-5 3 3 3-13 3 5 3-5 4-2 3-17 3 1 3-9 3 3 3-15 3-1 3-4 3-13 3-5 3-9 4 2 3-4 3-5 3-8M399 -324l3-22 3 5 3-4 3-5"/><path transform="translate(336.9 1451.9)" d="M0 -36l3 0 3-3 3-1 3-1 3-1 4 0 3-2 3 1 3 0 3-1M46 -44l3-6 4-1 3-1 3 1 3-1 3 2 3 0 3-1 3 2 3-3 3 0 3-2 4-1M105 -59l3-4 3-1 3-2 3-1 4 1 3 0 3-2 3-1 3-2 3-4 3 3 3-2 3 0 3-3 3-2 4-2M161 -84l3-7 3 2 3 1 3 2 3-1 3-3 3-3M189 -95l3-5 3-3 3 0 3-1M207 -106l3-1 3 1 3-4 3-5 4-5 3-2 3-5 3 0 3 0 3-2 3-1 3 0 3-6 3 2 3-9 4-1 3-7 3-3 3 3 3-7 3-2 3-3 3-5 3 0 3 1 3-2 4-11 3-6 3 5 3-1 3-2 3 1 3-10 3 2 3 0M325 -203l3-9 3-5 3-2 3-15 3 4 3-17 3-6 3-4 3-7 3 3M402 -352l3 13 3-12M414 -350l3-4"/><path transform="translate(339.8 1452.7)" d="M0 -37l3-1 3-2 3-1 3-2 3 0 4 0 3-1 3 3 3-4 3-2 3 1M43 -47l3 0 3-3 4 0 3-1 3 0 3 1M68 -47l3-2 3 0 3-2 3-2 3-4 4 0M93 -58l3-2 3 1M105 -61l3-2 3 0 3-2 3 2 4-1 3-4 3-3 3-2 3 0 3-2 3 1 3-1 3-1 3-2 3-2M158 -87l3 0 3-2 3 2 3 0 3-1 3-2 3-4 3-1M192 -99l3-2 3-7 3-1 3 1 3 3 3-3 3-1 3-3 3-6 4 4 3-10 3 1 3-9 3 4 3-6 3 4 3-2 3 3 3-5 3-6 4-4 3-8 3 1M278 -164l3 0 3-3 3-4 4-5 3 1 3-6 3-3 3 1 3-3 3 1M340 -242l3-2 3-13 3-2 3-2 3-17 4-9 3 3 3-1 3 2"/><path transform="translate(342.8 1453.4)" d="M0 -36l3-1 3-3 3-1 3-1 3-1 4-1 3 2 3 0 3-3 3-3 3-4 3 6M43 -47l3-3 3-1 4 0 3 1 3 2 3-1 3 0 3 0 3 0 3 0 3-2 3-4 3-3 4 0 3-1 3 0 3 0 3-2 3 0 3-1 3 1 3-3 3 3 3-3 4-2 3-2 3-3 3-3M139 -75l3-3 3 2 3-8 3-3 4-1 3 2 3-1 3 4 3-3 3-2 3-2 3-3 3-3 3-1M189 -98l3-4 3-1 3-5 3 1 3-1 3 2 3-3 3-1 3-6 3-1 4 1 3-6 3-5 3-2 3 1 3 1 3-5 3 4 3-4 3-3 3-2 4-7 3-9 3-9 3 1 3-7 3 6 3-5 3 7 3-6 3-7 3 3 4-5 3-2 3-2M303 -183l3-5M343 -250l3-13 3 1 3-13 3-11 4 3 3-2M393 -340l3-13 3 7 3 3 3-5 3-6"/><path transform="translate(345.7 1454.2)" d="M0 -37l3-2 3 2 3-5 3-2 3 4M22 -41l3-3 3-3 3-3 3 3 3-2 3 1 3-2 3-2 3 2 4 0 3 0M62 -48l3-1 3 0 3 0 3-2 3-2 3-3 3-3 4 0 3-1M102 -61l3-2M111 -61l3-3 3-2 4-3 3-2 3-2M136 -76l3 1 3-3 3-3 3-3 3 0M158 -87l3 0 3 2 3-3 3-1 3-4 3-2 3-3 3-3 3 0 4 0 3-1 3-4 3 3 3-2 3-4 3 4 3-4 3-6 3-1 3 2 4-4 3-7 3-1 3-2 3-2 3 1M253 -135l4-13 3-6 3-5 3 0 3 0 3-1 3 6 3-13 3 3 3-9 3 6 4-8 3-3 3-7 3 5M306 -192l3-10 3-2 3-4 3 1 3-7M340 -251l3-3 3 0 3-23 3 5 3-6 4-3 3-5"/><path transform="translate(348.6 1454.9)" d="M0 -37l3 0 3-1 3 0 3-3 3-2 4 1 3-2 3 1 3-6 3 1 3 2 3-2 3-3 3 1 3-2 3 3 4-2 3 2 3 0 3 0 3 0 3 2 3-3 3 0 3-5 3-4 3 1 4-3 3 0 3-2 3 1 3 1 3-3 3 2M111 -63l3-2 3-3 4-1 3-6 3 0 3 1M148 -85l3-2 4-1M161 -86l3-1 3 3 3-7 3-6 3 2 3-5 3 0 3-1 4 0 3-1 3-2 3 1 3-1 3 0 3-6 3 1 3-8 3 5 3-7 4-4 3-1 3-1 3-3 3-1 3-3M260 -153l3-5 3-1 3-1 3 6 3-7 3-6 3-2 3-2 3 0 4-7 3 6 3-14 3 2 3-13 3-1 3-4 3 1 3-1 3-15 3 2 4-13 3-6M340 -249l3-5 3-13 3 1 3-12 3 1 4-13M393 -343l3-7"/><path transform="translate(351.6 1455.7)" d="M0 -36l3-3 3-1 3 2 3-1 3-1 4-4 3-1 3-2 3 2 3 0 3-4 3 0 3-2 3 1 3 1 3-1 4-4 3 6M62 -49l3 0M71 -49l3-4 3-3 3-2 3-3 4 1 3-4 3 2M102 -63l3 0 3 0 3-1 3-2 3-6 4-1 3-2 3 1M136 -78l3-2 3-3 3-2 3-3 3 0 4 1 3 0 3 2 3-2 3-5 3-2 3-3 3-2 3 0 3-3 3 2 4-2 3-1M201 -105l3-4 3-5 3 5 3-9 3 1 3 0 4-4 3-5 3 0 3-2 3-5 3 1 3-3 3-6M253 -149l4-2 3-5 3 1 3-5 3 4 3 0 3-12 3 4 3-4 3-3 3 1M294 -175l3-14 3 3M306 -196l3-1 3-7 3-5 3-15 3-7 4-1 3-5 3-2 3-12 3 3M346 -256l3-20 3 13 3-18 4-18 3-5M389 -325l4-24 3-4 3 11"/><path transform="translate(354.5 1456.4)" d="M0 -37l3 0 3-2 3 1 3-2 3-1 4-4 3-1 3 3 3-2 3-2 3-2 3 0 3-2 3 3 3-1 3-2 4 2 3-3 3 4 3-2 3 0 3-3 3 1 3-4 3 0 3-1 3-2 4-3 3 0 3-2 3 0 3 0 3 1 3-2 3 1 3-2 3-5 3-1 4-2 3-2M145 -87l3-1 3 3 4-2 3 3 3-4 3-5 3 3 3-2 3-6 3 0 3-3 3-1 3-1 4-2 3 0 3 1M201 -107l3 0 3-7 3 3 3-2 3-6 3-2 4-1 3-8 3 3 3 0 3-5 3-2 3-8 3 3 3-7 3-3 3 5M263 -155l3-3 3 2M275 -159l3-5 3-2 3-10 3 6M294 -181l3-12 3-5M306 -189l3-15 3-6 3-9 3-7 3-4 4-14 3 10M334 -247l3-7M346 -264l3-2 3-4 3-24 4-11 3-15 3-14 3 6M393 -343l3-8 3 6"/><path transform="translate(357.4 1457.2)" d="M0 -36l3-3 3 1 3-2 3 1 3-4 4 2 3-3 3 3M31 -45l3-4 3 1 3 0 3 1 3-3 3 0 4-1 3 0 3 4 3-3 3-3 3 1M74 -54l3-2 3-4 3-1 4-2 3-2 3 1 3-2 3 4 3-2 3 1M117 -75l4 2M145 -87l3-1M158 -87l3-4 3 0 3-4 3 0 3 0 3-6 3-2 3 0 3-1M198 -107l3-2 3-3 3-1 3-3 3 3M226 -122l3-6 3-6 3-2 3 0 3-8 3 0 3 1 3-8 3-2 4-2 3-6 3 9 3-5 3-5 3 1 3 0 3-7 3-9 3 4 3-5 4-9 3 3 3-11 3-10 3 12 3 4 3-12 3-8 3-13 3-5 3-6 4-1 3-10 3-2 3-9 3 6 3-17 3 0 3 14 3-7 3-14 3-25 4-16 3-9 3-16 3 24M389 -346l4 0"/><path transform="translate(360.3 1457.9)" d="M0 -37l3 1 3-5 3-1 3 0 3-4 4 5 3-2 3-1 3-2 3-3 3 0 3 1 3-1 3 1 3 1 3-4 4 3 3-3 3 1 3-3 3 1 3-2M74 -56l3 0 3-4 3-3 4 1 3-1 3-2 3 1 3 1 3-2 3-2 3-3 3-3M158 -90l3-3 3-1 3 0 3-3 3 0 3-3 3-2 3-5 3-3 4 5 3-1 3 2 3-6 3-3 3 1 3-2 3-4 3-1M219 -121l4-5 3 6 3-12 3-1 3-2 3-6 3-1 3-6 3 1 3-5 3-7 4 5 3-1 3-5 3-1 3 1 3-1 3-2 3 0 3-11 3-3 3-4 4-3 3-5 3-2 3-4 3 0 3-3 3-7 3-16 3-2 3-2 3-5 4-15 3 2 3-3 3-7 3-10M346 -255l3-12 3-26 3-17 4-2M368 -332l3-2M383 -344l3-5"/><path transform="translate(363.3 1458.7)" d="M0 -36l3-2 3-3 3 0 3-3 3 2 4-1 3 1 3-2 3-4 3 1 3-2 3 2 3 0 3-1 3 0 3-1 4-2 3 2 3-3 3 0 3-2 3-2 3 0 3 2 3-3 3-3 3-3M93 -64l3 0 3 0 3-4 3-1 3-6 3 0 3 0M121 -78l3-3M161 -93l3-1M170 -98l3-1 3-5 3 1 3-3 3 2M192 -108l3 0 3-4 3 1 3-4 3-1M216 -121l3-4 4-1 3 1M238 -140l3-1 3-7 3 2 3-4 3-9 4 5 3 3 3-5 3 0 3-5 3 10 3-7 3-2 3-13 3-7 3-1 4-10 3-2 3 2 3-4 3-2 3-2M312 -219l3-2 3-3 3-20 4 13 3-12 3-8 3-13 3-2 3 8M346 -260l3-15 3-31 3-13 4-17 3 7M380 -338l3 4"/><path transform="translate(366.2 1459.4)" d="M0 -38l3 0 3-1 3-5 3 1 3 1 4-2 3-1 3-2 3-1 3 1 3-2 3 1 3 1 3-1 3 0 3-1 4-2 3 0 3-2 3-3 3 1 3-1 3-1 3 0 3-2 3-5 3-1 4 0M99 -67l3-3 3-2 3-3 3-2 3-4 3 1 4 1M130 -86l3-3M158 -94l3-1 3-6 3 5 3-4 3 1 3-6 3-1 3 1 3 1M195 -108l3-4 3-2 3-2 3-5 3 5M216 -118l3-9 4 2 3-5 3-6 3 2M241 -143l3 1 3-4 3-2 3 0 4 0 3-9 3 6 3-6 3 4 3-3M278 -165l3-12 3-4 3-7 4-9 3 11 3-6 3 0 3-10 3-4 3-10 3-9 3 4 3-13 3-2 4-8 3-2 3-14 3 0 3 2 3-6 3 9 3-10 3-25 3-20 3-1 4-10 3-20 3 17 3-8 3-12 3 9M383 -346l3-5"/><path transform="translate(369.1 1460.2)" d="M0 -37l3-2 3-4 3-2 3 4 3 0 4-4 3 0 3-3 3 1 3-1 3 2 3-2 3 2M46 -49l3 0 4-2 3-2 3 0 3-1 3-2 3-2 3 1 3-1 3-2 3-2M96 -69l3-1 3-5 3 0 3 1 3-4 3 0 3-3 4 0 3-7 3 3 3-5 3-1 3 2M148 -90l3-4 4 2 3-2 3 0 3-3 3-1 3-1 3-2 3-5 3 0 3 1 3-2M192 -110l3 0M201 -116l3 0 3-5M216 -123l3 0 4-7 3 0M232 -139l3-2 3 2 3-5 3 1 3-2 3 2 3 1 4-11 3-1 3 2 3-2 3-3 3-11 3 1 3-2 3-4 3-11M291 -193l3 6 3-8 3-5 3-11 3 2 3-8 3-6 3-3 3-2 3-14 4 5 3-16 3 0 3-3 3-3 3 2M346 -282l3-10 3-8 3-14 4-8 3-13 3-10M374 -345l3 12M386 -358l3-9 4 22M408 -350l3-6 3 1 3 18"/><path transform="translate(372.1 1461.0)" d="M0 -37l3-3 3-5 3 8 3-4 3-2 4-2 3-4 3 0 3 2 3 2 3-2 3 0 3-2 3 0 3 1 3-1 4-5 3 0 3 1 3 1M68 -55l3-3M77 -63l3-3 3-2 4 3M99 -74l3 1 3-2 3-1 3-1 3-2 3 0 4-7 3 0 3-5 3 0 3 2 3-2 3 2 3 2 3-6 3 1 3 1 4-3 3-2M170 -98l3-6 3 2 3-1 3-8 3 3 4 0 3-3 3-1 3-4 3-1 3-5 3-3 3 2M216 -120l3-11 4 3 3-9 3-4 3 1 3-4 3 2 3-1 3 0 3 1 3 6 3-11 4-4 3 1M266 -152l3-10 3 1 3-3 3-10M284 -190l3-2 4 6 3-7 3 2 3-15 3-6 3 4 3-16 3 0 3-10 3-3 3-2 4-9 3-13 3 11 3 2 3-16 3-3M346 -285l3-24 3-1 3-10 4-12 3-14M377 -330l3-28 3 1 3 7 3 3 4-19 3 16"/><path transform="translate(375.0 1461.7)" d="M0 -38l3-7 3 6 3-2 3-2 3-1 4 0 3 2 3-3 3-1 3 2 3-2 3 0 3 0 3-2 3-3 3-3M56 -52l3-2 3-2 3 0 3-3 3-1 3-6 3 2 3 0M99 -72l3-2 3 0 3-3 3 0 3-6 3 2 4-5 3-1 3-3 3 2 3 1 3 2 3-6 3 1 3-3 3-3 3 4 4-5 3-3 3 1 3-2 3 1 3-4 3 2 3-3 3-2 3-2 3-3 4 2 3-4 3-3 3 2 3-3 3-2 3-4 3 0 3 2 3-3 3 0 4-9 3-1 3 1 3-6 3-2 3 1 3-5 3 5 3 6 3-8 3-1 4-8 3-1 3-4 3-2 3-2 3-5 3-6 3-12 3-7 3 7 3-3 4-3 3-5 3-4 3-1 3-11 3-13 3-1M315 -230l3-12 3 3M328 -242l3-17 3 3 3-17 3-9 3-4 3-15 3 4 3-29 3-5 4-15 3 6 3-5 3 2 3 10M377 -334l3-20"/><path transform="translate(377.9 1462.5)" d="M0 -40l3 4 3-4 3-1 3-1 3 1 4-4 3 0 3 1 3-2 3 1 3-3 3 1 3 2 3-5 3-5 3 1 4 1 3-2M62 -57l3-1M74 -64l3-1 3 1 3-5 4-2M99 -73l3-1 3-2 3 0 3-3 3 1 3-7 4-3 3-1 3 4 3 1M136 -88l3-2M151 -92l4-6 3-1 3-1 3-1 3 4 3-2 3-4 3-2 3 1 3-7 3 3 4-5 3-1 3-4 3-5 3 5 3-4 3-1 3-2 3 3 3-3 3-5 4-2 3-2 3-1 3-5 3 2 3-8 3 6 3 5 3-6 3-1 3-8 4-3 3-1 3-6 3 5 3-8 3-3 3-5 3-12 3-2 3 5 3-9 4-5 3 2 3-14 3 4 3-6 3-17 3-8 3-4 3 4 3-8 3-14 4 8 3 5 3-18 3-4 3-5 3-22 3-6 3-10 3 2 3-5 3-12 4-11 3-8 3 16M393 -357l3-3 3 10"/><path transform="translate(380.8 1463.2)" d="M0 -37l3 0 3-2 3-1 3-1 3-4 4 1 3 0 3 0 3-4 3 3 3-2 3-1 3-1M46 -51l3-2 4-2 3-3 3 3M74 -65l3-4 3 2 3-3 4-2M99 -71l3-3 3-5 3 3 3-6 3 0M121 -89l3 5M130 -88l3 1 3-4M148 -91l3-7 4 0 3 0 3-3 3 1 3 2M176 -104l3-5 3 1 3-7 4 2 3-3 3 0 3-4 3-3 3 1 3-2 3 1 3-2 3-4 3-1 4-7 3 3 3-7 3-1 3 1 3 4M244 -139l3-4M253 -146l4-10 3-1M269 -159l3-8 3-2 3-8 3-4 3-5 3-4 4-9 3-1 3-6 3-6M306 -224l3-5 3-8 3 2M321 -229l4-10 3-5 3-20 3-4 3-13 3-14 3-6 3-1 3-9 3-6 3-13 4 6 3 1M368 -338l3-15 3 8 3-16 3 13 3 4M402 -345l3-2"/><path transform="translate(383.8 1464.0)" d="M0 -37l3 0 3-4 3 1 3-2 3 0 4-1 3-2 3-1 3-1 3 1 3-1 3-3 3-2M46 -52l3-2 4 0 3-4 3-1M65 -62l3-4M74 -67l3 2 3-5 3-4 4-2 3 4 3-4 3 4 3-2 3-1 3-3 3-2M121 -83l3-4 3-1 3 3 3-7 3-3 3 3M145 -95l3-2M158 -99l3 1 3-2 3-4 3 1 3-4 3 0 3 0 3 0 3 0 4-4 3-8 3 1 3-2 3 0 3-3 3 1 3-7 3 2 3-5 3 1 4-4 3-1 3-3 3 0 3 1M241 -140l3-2M250 -149l3-6 4-4 3 1 3-5 3 3 3-3 3-6 3-10 3-2 3 4 3-13 3 2 4-12 3-5 3-8 3-5 3-10 3 6M321 -231l4-16 3 1M346 -301l3-29 3 11 3 2M374 -350l3 12M383 -355l3-6 3 5M396 -345l3-3"/><path transform="translate(386.7 1464.7)" d="M0 -37l3-3 3-1 3 1 3-4 3 1 4 0 3-1 3-1 3-1 3-1 3-2 3-5 3 1 3 2 3-3 3-2 4-1 3-3 3-2 3-2M68 -66l3 1 3 0 3-3 3-3 3-6 4 5 3-3 3 4 3-1 3-4 3-2 3-3M133 -92l3-5 3 0 3 0 3 1M155 -97l3-4 3 1 3 2 3-2M173 -107l3-5 3 5M185 -109l4-6 3 1 3-2 3-2M204 -121l3-2 3-5 3-1M219 -133l4-5 3-1 3 4 3-5 3-3 3 8M244 -147l3-3 3 0 3-7 4-1 3-1 3 3 3-9 3-5 3 2M294 -205l3-14 3 2M306 -232l3-9 3 15M318 -232l3-9 4-7M343 -306l3-4M352 -311l3-19 4-2M365 -330l3-11M374 -337l3-17 3-7 3 9M393 -329l3-17 3 9 3-17 3 4"/><path transform="translate(389.6 1465.5)" d="M0 -38l3-2 3-1 3-1 3-1 3 3 4-3 3-3 3-1 3-1 3-1 3-4 3 0M43 -54l3-2 3-1 4-5 3 0 3-2 3-1 3-2 3 3 3 0 3-4 3-2 3-3 3-2 4 1 3 1M105 -82l3-9 3 2 3 1 3 4 4-2 3-1M130 -92l3-3 3 2 3-4 3 4M164 -101l3-2 3-6 3 0 3 2M204 -122l3-6 3-3 3 3 3-4 3-4 4 1M229 -136l3-2 3-3 3-3 3-4M250 -150l3-5 4-1 3 0 3-3 3-8 3 0 3-8 3-3 3-3 3-5M291 -196l3-17 3-3 3-11 3-4 3 1 3-13 3 17M334 -299l3-3 3-2 3-7 3-8 3 9 3-20 3 10M386 -343l3-15 4 33 3-24 3 12 3-15 3-9 3 3"/><path transform="translate(392.6 1466.2)" d="M0 -38l3-2 3-1 3 1 3 1 3-2 4-4 3-1 3 0 3-2 3-2 3-2 3-2 3-1 3 1 3-1 3-4 4-1 3-4 3 0 3-1 3 3 3-3M77 -66l3-7 3 1 4 0 3-4 3 2M108 -87l3 1M136 -94l3-4 3-1 3 1M170 -105l3-4 3-3 3 1 3-4 3 4 4-6 3 0M216 -134l3 0 4-6 3 1 3 6 3-8 3 2 3-11 3 5 3-1 3-5 3-2M257 -157l3-3 3 1 3-9 3 1 3-6 3-6 3-4 3-13 3 5 3-10 4-3 3-15 3 0 3-3 3-6 3 5 3-15 3 1 3 3 3-17 3-4M331 -290l3-6M340 -308l3-1 3 11 3-18 3-5 3-36 4 18 3 2 3 4 3-19 3 7 3-6 3 8M396 -336l3-13 3 0 3-11 3-7"/><path transform="translate(395.5 1467.0)" d="M0 -39l3 0 3 0 3-1 3 1 3-1 4-3 3-2 3-2 3-5 3 1 3-4 3 2 3-2 3-3 3 0 3 0 4-6 3-2 3 0 3 2 3 1 3-1 3-5M105 -84l3-3M136 -93l3-6 3-1 3-1 3 1M173 -106l3-3 3-2 3-4 3 0 4-3M213 -132l3 1M223 -135l3 1 3-5M235 -144l3 0 3-4 3-7 3 2 3-5 3-1 4 3 3-5 3 3 3-8 3-5 3-12 3-4 3 3 3-13 3-7 3 6 4-11 3-3 3-5 3-10M312 -227l3-10 3-30 3-16 4-8 3 2 3-6M340 -300l3-3 3-4 3-18 3-7 3-8 4 7M371 -335l3-22 3 8 3-11 3 11 3 13 3 3M402 -352l3-24 3-2 3 11"/><path transform="translate(398.4 1467.8)" d="M0 -39l3-1 3 1 3-2 3 2M19 -42l3-5 3-3 3-2 3 0 3-2 3-2 3-2 3 1M56 -64l3 0 3 0 3-3 3 0 3-6 3 3 3-3 3-2 3 0 4-2 3 0M111 -87l3-2M145 -99l3-3 3-2 4 3 3-2 3-6M173 -108l3-5 3-1 3-1 3-4M192 -125l3 1M204 -125l3-10 3 9 3-10 3 3 3-3 4 6M235 -143l3-5 3 0 3-1 3-7 3 2 3-4 4 1 3 0 3 3 3-13 3-6 3-7 3-9 3-5 3-6M291 -209l3-7 3-10 3-5 3 8 3-9 3 8 3-12 3-9 3-29 3-11 4-15 3 17M365 -347l3 4 3-5 3-4 3-8 3 21 3 12M389 -334l4-11 3 0"/><path transform="translate(401.3 1468.5)" d="M0 -40l3-1 3 0 3-1 3 0 3-4 4 2 3-2 3-4 3-3 3 3 3-5 3-1 3-2M59 -64l3-5 3 2M74 -71l3-1 3-2 3-1 4-3 3-6 3-4 3 0 3 2 3-2 3-2M148 -99l3-4 4-1M182 -118l3-6 4 0M201 -128l3-2 3-4 3 2 3-3M235 -147l3 2 3 0 3-4 3-6 3 7 3-15 4 5 3 0 3-6 3-5 3-6 3-6 3-10 3-11 3 1M291 -217l3-6 3-1 3-1 3-7 3 11M315 -254l3-22 3-14 4-1 3-17 3 8 3-5M349 -327l3-13 3-13 4 13M368 -348l3-8 3 15 3 0 3 12 3-6 3 1 3-7 4-12 3 0 3-8M408 -378l3-5"/><path transform="translate(404.3 1469.3)" d="M0 -42l3 1 3 0M15 -45l4-4 3 2 3-3 3-3 3-3 3 1M53 -65l3 0 3 0 3-4 3-1 3-4 3 2 3-1 3-1 3 2 3-8 4 1 3-6 3-5M145 -103l3 1 3-5 4-1 3-3 3 4M173 -111l3-5 3-3 3-2 3-5 4 6M198 -129l3 0 3-2 3-1 3-2M216 -133l3-5 4-6 3-1M232 -144l3-1 3-4 3 2 3-6 3-1M257 -157l3 1 3-8 3-11 3-7 3-5 3-5 3-8M294 -213l3-15 3 13 3-18 3 5M315 -246l3-39 3 8 4-11 3-19 3 4 3 6M349 -329l3-20 3 2 4-5 3 23M389 -346l4-20 3 15"/><path transform="translate(407.2 1470.0)" d="M0 -41l3-1 3 1M12 -47l3-1M22 -49l3-5 3 2M34 -60l3 2 3-7 3 0 3-1 3 0 4 0 3 2M80 -75l3-5 4-4 3-6M102 -88l3-2 3-3M139 -99l3-3 3 4 3-4 3-5 4-2 3-2 3 3M182 -121l3-6 4-2 3 8M198 -129l3-2 3 1 3-7 3 4 3-2 3-1 3-6 4-7 3 3M232 -144l3-2 3-3 3 1 3-6 3-6M253 -161l4 4 3-5 3-8 3-3 3-11 3-7 3-5 3-18 3 6M294 -220l3 3 3-4 3-12 3-13M318 -277l3-7 4-5M340 -320l3-19 3 2 3-5 3 13 3-10 4 0M368 -337l3-7"/><path transform="translate(410.1 1470.8)" d="M0 -43l3-1 3-1 3-1 3-2 3-2 4 2 3-4 3-2 3-2 3-1 3-5 3 0 3-3 3-1 3-1 3 2M56 -70l3 0 3-1 3-1 3 0 3 2M83 -82l4-6 3-5 3 3 3-1 3 0 3 1 3-4 3-8 3 5M124 -100l3-2 3 2M136 -101l3-1M148 -105l3-4 4-3 3 2 3-2M167 -114l3-1 3-6 3-1 3-1 3 3 3-5 4-1 3-7 3 4 3 7M204 -130l3-7 3 9 3-4 3-7 3-2 4-6 3 1 3 5 3-3 3-3 3-2 3 1 3-10 3-1M253 -155l4-11 3-1 3-1 3-18 3-3 3-7 3-4 3-14 3-2 3-2 3 1 4-4 3 4 3-1 3-9 3-12 3-16 3-8 3-2 3-5 3 4 3-24 4-4 3-8 3-11 3-11 3 9M352 -330l3-3 4-17 3 2 3-1 3 16M383 -351l3-12"/><path transform="translate(413.1 1471.5)" d="M0 -41l3-2 3-4 3-2 3 0 3-2 4 2 3-2 3-2 3-7 3 0 3-5 3 0 3-1 3-1 3 3 3-3 4-3 3 2 3-5 3 5 3-3 3-2M77 -78l3-5 3-5 4-2 3 2 3-5 3 3 3 0 3-2M124 -99l3-5 3-2 3 5 3-1 3-1 3-5 3 4 3-5 3 1 4-1 3 0M164 -113l3-2 3-3 3-2M185 -122l4-4 3 6 3-9 3-4 3 1 3 3M210 -130l3-5 3-4 3-2 4-1 3-5 3 7 3-4 3-5 3-2 3 0 3-8M260 -171l3-8 3-5 3-13 3-2 3-6 3-6 3-3 3-7 3 12M294 -205l3-22 3-3 3-25M309 -257l3-17M318 -274l3-28 4 13 3-4 3-26 3-4 3-5M359 -320l3-24 3 13M380 -338l3-26 3 7"/><path transform="translate(416.0 1472.3)" d="M0 -42l3-4 3-1 3-1 3-1 3-2 4 1 3-2 3-7 3 1 3-5 3-3 3 2 3-2 3 3 3 0 3-7 4 0 3 0M71 -74l3-7 3-1 3-3 3-6 4 2M93 -90l3 1 3-4 3-5 3-2 3 0M121 -102l3 1 3 1 3-4 3 2M142 -105l3-6 3 0 3 1 4 2M167 -113l3-10 3 0 3-1M185 -124l4-2 3-1 3-2 3-1 3-2 3 5 3-4 3 4 3-4 3-8 3 1 4-1 3 1 3-8 3 0 3 3 3-6 3-11 3-1 3 5M253 -163l4-10M263 -172l3-20 3-1 3-11 3-6 3-10 3 4M297 -225l3-35 3-1 3-3 3-5 3 1M318 -288l3-8 4 4 3-18 3-2 3-14 3-2M362 -329l3-8 3 10M374 -339l3-10"/><path transform="translate(418.9 1473.0)" d="M0 -45l3-4 3 2 3-1 3-2 3-2 4 0 3-4 3-4 3 0 3 0 3-6 3 3 3-1 3-1 3-3M53 -71l3-1 3 0 3-1 3-4 3 0M80 -89l3 2M99 -93l3-4 3-3M124 -100l3-3 3 1 3-3 3 0 3 3 3-3 3-3 3 1M164 -113l3-7 3-2 3-5 3 6 3-7 3 3 3 1 4-5 3 2M226 -142l3-1 3-1 3-8 3-2 3-1 3-5 3 1 3 2 3-17 4 1M263 -183l3-12 3-2 3-4 3-6 3-12 3 6 3-3 3 2M297 -241l3-25 3 5 3 3 3-19 3-5 3-4 3-9 3-7 4-3 3-3 3-14 3-10 3 0 3-5 3 10M352 -333l3-4 4 10 3-8 3 9M371 -330l3-16 3 0 3-13 3-9 3-5 3-12 4 10"/><path transform="translate(421.8 1473.8)" d="M0 -44l3-1 3-2M12 -51l3-2 4 1 3-4 3-6 3-2 3 0 3-2 3 3M56 -71l3-4 3 0 3-5 3 1 3-3M99 -93l3-6 3-4 3 1 3 1 3 0M124 -103l3 1 3-1 3 0 3-4 3 3 3 1 3-7 3-2M161 -115l3-4 3-1 3 0 3-5 3-2 3 0 3 1 3 3M192 -133l3 1M216 -139l3 1 4-3 3-1 3-3 3-5M266 -195l3 1 3-11 3-7 3-5 3 13 3-13 3-5M300 -251l3-16 3 2 3-2 3-14 3-3 3-1M325 -300l3-17 3-16 3 7 3-4M359 -327l3 8 3-28 3-2 3 17 3-23 3 5M386 -375l3 4 4-17 3 12M405 -359l3-28"/><path transform="translate(424.8 1474.5)" d="M0 -45l3-3 3-3 3 0 3 1 3-1 4-5 3-4 3-4 3 0 3 1 3-2 3 0 3-4M53 -71l3-2M62 -75l3-4M99 -96l3-5 3 3 3-2 3-4 3 6M121 -103l3 3 3-1 3-1 3-2M164 -115l3-4 3-5 3 0 3-3 3 5M189 -131l3 0 3-2M210 -136l3-2M260 -190l3-7 3 4 3-10 3 4 3-14 3 2 3-6M306 -265l3-8M315 -288l3-1 3-16 4 7 3-21 3-2 3-6 3-4 3-2 3 7M365 -335l3 0 3-6 3-11 3-17 3 1 3 1 3-15 3 18 4-23 3 8 3-13 3 28"/><path transform="translate(427.7 1475.3)" d="M0 -47l3-2 3-2 3-1 3 0M19 -59l3-2 3-5 3 2 3-1 3 3 3-7 3-3 3-1M59 -77l3-2 3-4 3-3 3-5M99 -97l3-2 3-3 3 3M121 -101l3-1 3-1 3-1 3-6 3 3M148 -115l3-1M182 -126l3-9 4 5M232 -151l3-9 3-4 3 0 3-2M250 -183l3 1M272 -205l3-7 3-1 3-6 3-11 3-17M315 -282l3-15 3-9 4-5 3 8 3-14 3-24 3 14 3-6 3 0M355 -321l4-15 3 8 3 1 3-18 3-15 3 3M386 -372l3-7 4 3"/><path transform="translate(430.6 1476.1)" d="M0 -48l3-3 3 1 3-3 3-3 3-1 4-4 3 0 3-2 3 2 3-1 3-9 3 0M96 -97l3-3 3 2 3-1 3-4M133 -110l3 2M145 -112l3-6 3 2M182 -125l3-7 4-1 3 0 3 1M207 -135l3-8 3 5 3-2 3-6 4-2M232 -156l3-6 3 1 3-9 3-9 3 1 3-11 3-4 4-3 3 1 3-3M278 -209l3-22 3-11 3-10 4 3M303 -262l3-22 3-7 3 12M331 -316l3-2 3-7 3-15 3 12M352 -306l3-14 4 5 3-16 3-14 3-4 3-9 3-23 3 12 3-7 3 7M396 -385l3 13"/><path transform="translate(433.6 1476.8)" d="M0 -46l3-3 3-4 3-2 3-4 3 3 4-4 3-2 3 3 3-6 3-1 3-5 3 0M49 -78l4 2M96 -100l3 0 3-1 3-2M142 -118l3 5M182 -128l3-3 4 4 3-4 3-10 3 2M204 -135l3-8 3 2M219 -148l4-9 3 7M235 -161l3-7 3-5 3-9 3 1M257 -190l3-13 3 8M269 -206l3-3 3-7 3-6 3-17 3-4 3-15 4 3 3-8M303 -262l3-15M312 -291l3-12 3 7 3-19 4-2 3 5 3 4 3 1 3-14 3 8 3-30 3 9M365 -341l3-12 3-15 3-7 3 8 3-17 3 7 3 8 3-16 4 23"/><path transform="translate(436.5 1477.6)" d="M0 -51l3 0 3-2 3-4 3 0 3 1 4-1 3-4 3-5 3 3 3-5 3-8 3 1 3 3M49 -78l4-2 3-6 3-2 3-4 3 0M105 -103l3-3M139 -116l3 1M148 -114l3-8 4 3M182 -125l3-5 4-3 3-8 3 6M207 -140l3-7 3 1 3-1 3-5 4-4 3 2 3 0 3-9 3-4 3-6 3-6 3-8 3 3 3-11 3 1 4 3M287 -242l4-25 3-2 3 0M303 -274l3-13 3 2 3-14 3 10 3-20 3-7 4 15M331 -303l3-12 3-1 3-5 3-4 3 2 3 8M371 -358l3 3 3-8 3-7 3-10 3 13 3-17 4 24"/><path transform="translate(439.4 1478.3)" d="M0 -49l3-3 3-3 3-1 3-2 3-1 4 2 3-4 3-7 3-2 3-2 3-2 3-2 3 2M53 -77l3-9 3 0 3-8 3-1 3 0 3 0M96 -101l3-3 3-1 3 1M117 -106l4 0M130 -110l3-8 3-2 3 5M148 -118l3-3M164 -128l3-2M182 -125l3-3 4-9 3-2 3-5 3 9M210 -145l3-6 3 3 3-7 4 5M232 -166l3-9 3 5 3-13 3-5 3-6 3 4M272 -215l3-17 3-9 3-4 3-2 3-2 4-11 3-12 3 7 3-3 3-26 3 3 3 8 3-24 3 9 3-11 3 7M334 -310l3-4 3-2 3-1 3 4 3-3M374 -356l3-14"/><path transform="translate(442.3 1479.1)" d="M0 -50l3-5 3-2 3 2 3-3 3-2 4-1 3-3 3-2 3-9 3 3M46 -73l3-9 4 1 3-7M62 -96l3-2 3 3 3-2 3 1M87 -101l3-1M99 -104l3-1 3-1 3 1 3 1 3-4 3 2M151 -125l4 0M189 -136l3-2 3-3 3-1M216 -146l3-12 4 1M235 -174l3-7 3-1M275 -226l3-18 3 5M287 -251l4-2 3 2 3-23 3-12M315 -296l3-7 3-4 4-12 3 14M337 -301l3-6 3-5 3 4 3-24 3 1 3-20 4 1M365 -366l3 18 3-7M377 -357l3-19 3 5"/><path transform="translate(445.3 1479.8)" d="M0 -52l3-2 3-1M12 -57l3-3 4-2 3-6 3 0 3-6 3-4 3 3M40 -79l3 2M49 -77l4-9 3-9 3 0 3-1 3 2 3-2 3-4M93 -103l3-1 3 4 3-8 3 3M111 -105l3-2 3-5 4 0M158 -127l3-3M207 -149l3-2 3 4 3-4 3-10 4 3M229 -170l3-2 3-9 3 0 3-11 3 0 3-4M272 -223l3-22 3 7M287 -251l4-1 3-5 3-30 3 1 3-5 3-4 3 0 3 3 3-13 3 1 3 6 4-12 3 7M334 -296l3-10 3 3M346 -306l3-29 3-9 3-6 4-4 3-10 3 23"/><path transform="translate(448.2 1480.6)" d="M0 -50l3-5 3-4 3 4 3-6 3-3 4-3 3 1 3-6 3-2 3-1 3-6 3 4M49 -80l4-6 3-10 3 2M77 -100l3-3 3 0M90 -101l3-5 3 3 3-1 3-1M117 -112l4-4 3 0 3 2M151 -126l4-6 3 3M216 -157l3 0 4-9 3-1 3-7 3-2 3-9 3-3 3-6M247 -200l3-12 3 5 4 0 3-10M269 -223l3-16 3-1M287 -245l4-7 3-11 3-22 3 9 3-18 3-4 3-5 3 15 3-3 3-14 3 1 4-6 3-7 3 15 3 6 3-7 3-5 3-6 3 1 3-18 3 6M359 -332l3-26 3 8 3-18M374 -362l3-10 3 1 3-19 3 7"/><path transform="translate(451.1 1481.3)" d="M0 -55l3-1 3-3 3 1 3-4 3-3M28 -77l3 4 3-8 3 1 3 0 3 0 3-5 3 2 4-6 3-5 3-2 3-1 3-3 3 1M80 -101l3-8 4 7M93 -102l3-2M111 -111l3-3 3-2 4-3 3 7M151 -131l4 4M219 -153l4-18 3-2 3 3 3-11 3-7 3-5 3-2 3-12 3 10 3-5 3-10 4-2 3-7 3-6 3-1 3 1 3-8 3-10 3-6 3 1M287 -247l4-15 3-15 3 4 3-8 3-12 3 8 3-12 3 7 3-6 3 14 3-25 4 6 3-8 3 11 3 12M359 -353l3 10M380 -378l3-15 3-4"/><path transform="translate(454.1 1482.1)" d="M0 -53l3-4 3-3 3-3M25 -70l3-8 3 4 3-1 3-3 3-3 3 0M49 -85l4-3 3-4 3-6 3 1 3-5 3 1 3-4 3 2 3-2M114 -109l3-7M151 -130l4-6 3 6M185 -144l4-1M223 -169l3-2 3-8 3-5 3-7 3 3 3-8 3 3 3-4 3-11 3 2 4-9 3 4 3-13 3 1M275 -232l3-19 3 4M287 -256l4-7M303 -282l3-16 3 9M318 -301l3-1 4 9"/><path transform="translate(457.0 1482.8)" d="M0 -54l3-4 3-6 3-2 3-5 3 1M31 -74l3-7 3 2M56 -88l3-10 3 0 3-7 3 4M74 -102l3-6 3 8 3-6M167 -130l3-4M176 -136l3-9 3 4 3-6M219 -159l4-17 3 6 3-9 3-11 3 1 3-3 3-6 3-1M253 -204l4-14 3-1 3-10M272 -246l3 6M284 -252l3-18 4-1 3-12 3 6 3-10 3-3 3-3 3 0 3 5M325 -284l3-18 3 2 3-20 3 10M377 -371l3-35 3-5 3 19 3-28 4 7"/><path transform="translate(459.9 1483.6)" d="M0 -54l3-7 3-5 3-3 3-5M37 -80l3-3 3-4 3 3M59 -90l3-6 3-5 3 0 3-3 3 1M189 -151l3 2M219 -168l4-8 3-4 3-11 3 5 3-12 3 4 3-10M257 -216l3-6 3-16 3 1 3-7 3 6M281 -259l3 10 3-22 4 8 3-21 3-2 3-4 3 12 3-4 3-17 3 14M321 -293l4 11 3-7 3-23 3 8M377 -374l3-22 3-7 3 1 3-19 4 0"/><path transform="translate(462.8 1484.4)" d="M0 -57l3-4 3-9 3-3 3-3 3-1 4 2M37 -82l3-5 3 4M62 -98l3-4 3 4 3-7 3 2 3-1 3-5 3 8M179 -145l3-6 3 4 4-6 3-1 3 2 3-8 3 6 3-12M219 -173l4-2 3-8 3-2 3-13 3 5M253 -215l4-8 3 6 3-14 3-1M278 -251l3-3M306 -276l3-24 3 9M318 -289l3 14M328 -302l3-7 3-14M340 -330l3-20 3 1 3 5 3-25 3-2 4 5 3-5 3-6M371 -369l3-25 3 9 3-11M386 -403l3-29 4-4 3-5"/><path transform="translate(465.8 1485.1)" d="M0 -55l3-10 3-6 3-4 3 3 3-7 4 3 3-2 3-1M34 -80l3-5M56 -95l3-5 3 1 3-3 3-4 3 2 3-2 3 0 3-1M121 -125l3 0 3-3 3 0M185 -150l4-4 3 1 3-4 3-1 3-1 3-9 3 0 3 3M219 -167l4-17 3-3 3-7 3 6 3-18 3 0 3 0 3-2M250 -213l3-8 4 4 3-6 3-14 3-7 3-9 3 0 3-6 3 8M297 -275l3-6 3 0 3-8 3-7M315 -286l3 4 3-14 4-8 3-1 3-21 3-6 3-6 3-4M352 -356l3-22 4 15 3-9 3-20 3 20"/><path transform="translate(468.7 1485.9)" d="M0 -57l3-8 3-3 3-1 3-6 3 2 4-5 3-2 3-3 3-2 3 4 3-3 3 0M43 -93l3 1M62 -99l3-5 3-1 3 1 3-2M127 -130l3-8 3 6M195 -155l3-9 3-6 3 9 3-9 3 2M223 -186l3-1 3-5 3-7 3 3 3-1 3-12M247 -218l3 4M257 -220l3-8 3-7 3-15 3-2 3 0 3-1 3-13 3-10M297 -280l3-3 3 4 3-20 3 5 3 2 3 15M321 -292l4-12 3-20 3-7 3 1 3-16 3 5 3-1 3-15 3-20 3 13 3-2 4-8 3-4 3 1M371 -382l3-6"/><path transform="translate(471.6 1486.6)" d="M0 -59l3-6 3-3 3 1 3-5 3-1 4-3 3-5 3-1 3-3 3 4 3-9 3 0 3 6M59 -104l3 4 3-6 3 3M74 -108l3-2M124 -127l3-1 3-6 3 0 3-3 3 6M151 -129l4-10M192 -155l3-7 3 1M204 -162l3-11 3-3 3 0M223 -184l3-11 3 4 3-1 3-5 3-12 3-2 3-8M250 -217l3-2 4 0 3-15 3 0 3-15 3 6 3-5 3-10 3-15 3 2 3-6 3-4M303 -283l3 5 3-10 3 9 3-5 3-2 3-14 4-26 3 11 3-16 3-3 3 4 3-27 3 4 3-5 3 2 3-11M359 -361l3-14M389 -437l4-23 3 13 3-24"/><path transform="translate(474.6 1487.4)" d="M0 -58l3-8 3 0 3 1 3-4 3-4 4-3 3-6 3-5 3 7 3-6 3 2 3-9 3 0M53 -98l3-8 3 6 3-4 3 0 3-1M130 -129l3-4 3-5 3-1M148 -138l3 5M185 -157l4-3 3 1 3-7 3-1 3 1 3-6 3-1 3-3 3 1 3-12 3-1M229 -195l3 2 3-6 3-6 3-12 3 1 3 0 3-4M263 -244l3 2M272 -254l3-19 3-1 3 0 3-2 3-1M300 -283l3 12 3-7 3 4 3-6 3-13 3-9 3-6 4-10M331 -342l3 10 3-5 3-14M346 -334l3-33 3 12 3 3 4-17 3-17 3 14 3-18M386 -447l3 1 4-4 3-12"/><path transform="translate(477.5 1488.1)" d="M0 -58l3-5 3 0 3-5 3-3 3-5 4-4 3-3 3 2 3 0 3-6 3 2 3-9 3-7 3 7M53 -100l3-2M62 -106l3 3M130 -133l3 0 3 1 3-12 3 9M216 -184l3-8 4 7M241 -206l3-11 3-4 3-4 3-3 4-4 3-14 3 4 3-11M272 -255l3-12 3-1 3 1 3-18 3 5 4 0 3 2M306 -267l3-11 3-3 3-13 3-3 3-33 4 6M331 -323l3-3M359 -358l3-34 3 18 3-34 3-13 3 8M380 -443l3-1 3 0"/><path transform="translate(480.4 1488.9)" d="M0 -61l3-1 3-5 3-6 3 1 3-3 4-1 3-3 3-3 3 0M40 -98l3-3M108 -127l3-5 3 6M238 -203l3-9 3-8 3-10 3 8 3-13 4 3 3-9 3-14 3-1 3-6 3 2M278 -270l3 0 3 5 3-2M303 -271l3 2M312 -286l3-14M321 -311l4-27 3 3 3 12 3-19 3-9M365 -382l3-22 3-17 3-4M380 -432l3-14 3-3 3-2 4-13 3-7"/><path transform="translate(483.3 1489.6)" d="M0 -63l3-3 3-6 3 1M19 -74l3-4 3-8 3-3 3 0 3-6 3-6 3 9M139 -139l3 3M223 -196l3 5M247 -223l3-5M257 -241l3-8 3 6 3-19 3 3 3-13 3 2 3 3 3 7 3-14 3-8 4-6 3 11 3 0 3 4 3 5 3-14M312 -288l3-27 3 7 3-2 4-12 3 0 3-1 3-34 3 12 3 1 3-21 3 0 3 5 3-6 3-18 4 27M371 -423l3-12M386 -445l3-21 4 13"/><path transform="translate(486.3 1490.4)" d="M0 -62l3-3 3-6 3-4 3-1 3-1 4 0 3-1 3-8 3-8 3-2 3-1 3-2M219 -193l4-1 3-9 3 3M247 -229l3-5 3-4 4 0 3 1 3-20 3-2 3-2 3-4 3-2 3 13M291 -263l3-7 3 15M306 -294l3 4M321 -317l4-1 3-7 3 3 3-7 3-28 3 15 3-3 3-17 3 3M362 -385l3-32 3-7 3-10 3-2"/><path transform="translate(489.2 1491.1)" d="M0 -62l3-5 3-5 3 0 3-5 3 1 4-8 3 3 3-8 3-3 3 0M43 -104l3-1M56 -105l3-9 3 4M247 -223l3-12 3 0M260 -236l3-10 3-2 3-12 3 3 3-10 3 2M287 -265l4-3M309 -298l3 4M328 -319l3-11 3-8 3-6 3-13 3 11 3-20 3-12 3 7M359 -391l3-9 3-21M386 -478l3 13"/><path transform="translate(492.1 1491.9)" d="M0 -68l3-2 3-2 3-4 3-1 3-5 4 2 3-3 3-11 3 2 3-12 3-1 3 4 3-3 3 0M56 -108l3-8 3-4 3 7M87 -129l3-6 3 2M226 -206l3-7M250 -235l3-3 4 5 3-12 3 2 3-14 3 2M275 -260l3-11 3-4 3 13M309 -301l3-10 3-5 3 13M343 -348l3-15 3-6 3-43 3 19 4-6"/><path transform="translate(495.1 1492.7)" d="M0 -65l3-6 3-2 3-3 3-4 3 0M31 -96l3-11 3 5 3-2 3-8 3 4 3-6 4 6 3-6 3 0 3-3 3-7 3 4M83 -124l4-9 3 1M182 -173l3-2M210 -193l3 1M241 -219l3-7 3-11 3 4 3-10 4 2 3 0 3-6M275 -264l3-1 3-9 3 11 3-1M294 -276l3-9 3-13 3-1 3 4 3-8 3-9 3 10 3-14 3 6M328 -334l3 15 3-15 3-14 3 9 3-26 3-11 3-15 3-4 3-1 4-28M371 -441l3-2 3-1"/><path transform="translate(498.0 1493.4)" d="M0 -65l3-6 3 2 3-7 3-8 3-9 4 4 3-3 3-4 3-5 3 0 3-2 3-2 3-1 3-2 3-9 3 10 4-7 3 3 3-4 3-2 3-7 3 1 3-5M83 -127l4-6 3 0 3 2M219 -212l4 3 3-1M241 -221l3-2 3-9M253 -240l4-2 3-5 3-10M269 -256l3-10 3 7 3 3 3-6 3-4 3-7 4 1 3-12 3-2 3-3M309 -303l3 4 3-5 3-24 3 11M337 -344l3-15 3-9 3-7 3-11 3-1 3-19 4-21 3-15 3 16 3-16 3 1 3-8"/><path transform="translate(500.9 1494.2)" d="M0 -70l3-2 3-2 3-4 3-4 3-3 4-5 3-4 3-2 3-4 3-1 3-6 3 0 3-1 3 1 3 1 3-7 4 1 3 1 3-4 3-10 3 1 3-2M219 -200l4-20 3 17 3-21 3 2M244 -229l3-13 3 2 3 3M269 -257l3-2 3 7 3-12 3 14 3-12 3-9M294 -274l3-28 3 15 3-12 3-6 3 12M328 -337l3-10 3 3 3 7 3-7M349 -395l3-24 3 2M380 -481l3-20"/><path transform="translate(503.8 1494.9)" d="M0 -68l3-3 3-5 3-9 3-1 3-4 4-5 3-3 3-1 3 2 3 4 3-15 3 3 3-1 3-5 3 4M59 -119l3-4 3-1M223 -215l3-1 3-11 3-3 3 7 3 1M250 -242l3-5M269 -259l3 9 3-5 3-2 3-12 3 13 3-31 4 3 3 3 3-14 3-9 3 10 3 0 3-17 3-8 3-7 3-1 3-2 4-5 3 2 3-21 3 26 3-21 3-28 3 6 3-29 3 5 3-21 3-20 4-4 3-9 3 13 3-5 3-33 3-5 3-27M383 -508l3-21 3 10"/><path transform="translate(506.8 1495.7)" d="M0 -69l3-4 3-11 3-2M15 -92l4-5 3-1 3 2 3-4 3 0 3-8 3-4 3 11 3-6 3-1 3-6 4-1 3-4 3 0 3-8 3 0M77 -131l3-5 3 6M142 -162l3 1M219 -201l4-22 3 13 3-14 3 2 3 6 3-17 3 3M275 -252l3-4 3 5 3-20 3-5 4-15 3 7 3-9 3-7 3-3 3 14 3-29 3 10 3-27 3 14 3-9 4-6 3-5M340 -375l3 12 3-12 3-35 3-13 3-10 4 15 3-19 3-16 3-7 3-10 3-30 3 17 3-29 3-8"/><path transform="translate(509.7 1496.4)" d="M0 -73l3-11 3-1 3-8 3-1M22 -94l3 0 3-7M34 -100l3-4M43 -102l3-4 3-4 4-2 3-4 3-5 3-5 3-5 3-3 3 1 3 3 3 0 3-4M117 -148l4-9M226 -216l3-5 3-3 3-5 3-3 3-1 3-9 3-4 3-3M257 -264l3 14 3-10 3 6 3-5 3 12 3-4 3-6 3-2 3-14 3 1 4-18 3-3 3 1 3-8 3 2 3-18 3-2M315 -326l3-1 3-3 4-14 3-5 3 11M346 -402l3-14 3-1 3 1M368 -462l3 1 3-34"/><path transform="translate(512.6 1497.2)" d="M0 -71l3-9 3-7 3-6 3-2 3-1 4 2 3-1M40 -103l3-2 3-3 3 2 4-12 3 4 3-4 3-6 3-3 3-1 3-6 3 2M161 -178l3-1M195 -197l3-2 3-9M229 -225l3 3 3 3 3-10 3-7 3-2 3-19 3-10 3 12 4-7 3 8 3 2 3 4 3-7 3-1 3 10 3-12 3-8M287 -267l4-14 3-11 3-5 3 1 3-10 3-4 3-15 3-3 3 25 3-28 3-8 4-12 3 14M346 -401l3-15M368 -470l3 5 3-50 3-1 3-15 3 1 3-7 3-32 4 48"/><path transform="translate(515.6 1497.9)" d="M0 -73l3-9 3-3 3-9 3 3 3-4M46 -112l3 0M59 -119l3-4 3 1 3-9 3-1M99 -138l3-12 3 4M192 -191l3-11 3 0M207 -217l3 4M232 -223l3-5 3 0 3-12 3-4 3-3 3-16 3 7 4-3 3 3 3 10M272 -242l3-24 3 8M287 -275l4-23 3 4 3 10M303 -302l3-13 3 5 3-12M365 -454l3-31 3-19 3 20 3-42 3-9 3-17 3 12"/><path transform="translate(518.5 1498.7)" d="M0 -74l3-9 3-3 3-7 3-1 3-2 4-3 3-8 3 0 3 7M34 -102l3-6 3 6M71 -133l3-6 3 1M105 -145l3-4M201 -210l3 6 3-11 3-2 3-4 3-3 3 10M232 -227l3 5 3-14 3-2 3-10 3 9 3-14 3 13 4-17 3 10 3-6 3 4M272 -253l3-9 3 1M287 -281l4-4 3-13 3 1 3-4 3 2 3-12 3 0M321 -326l4-38 3 9 3-12 3-28 3-3 3-14 3 1M368 -472l3-36 3 7 3-25 3-20"/><path transform="translate(521.4 1499.4)" d="M0 -75l3-9 3-5 3-2 3-3 3-1 4-9 3 0 3 1 3-7 3 10M49 -114l4-4M77 -140l3-5 3 4M158 -176l3-12 3 4M198 -204l3-11 3 10M223 -222l3-12 3 12M238 -231l3-9 3 5 3-11 3-5 3 5M260 -250l3-3 3 2 3-7M281 -274l3-4 3-2 4-13 3-8 3 11 3-19 3 15 3-15 3-32 3 10M328 -368l3-17 3-1M343 -417l3-29 3 19M362 -478l3 22 3-38 3-26 3-5"/><path transform="translate(524.3 1500.2)" d="M0 -77l3-8 3-3 3-4 3-1 3-5 4-5 3-2 3-1 3 1 3 1 3-3M46 -115l3-4M90 -146l3 0M148 -174l3-6M201 -208l3-8 3 6 3-12 3 2M219 -224l4-3 3 4 3-5 3-3 3-9 3 14 3-17 3 4 3-3 3 1 3-9 4 2M297 -295l3-1 3 1 3-30 3-13 3-14 3 17 3-19 3-18 4-1 3 11M334 -400l3-16 3-7 3 13M362 -478l3-5"/><path transform="translate(527.3 1501.0)" d="M0 -77l3-6 3-8 3 2 3-4 3-8 4 7 3-13 3 2 3-2 3 1 3-4 3-8 3 2 3-2 3 2M71 -143l3 3 3-3 3-2 3-2 4-9 3 12 3-10 3 10M195 -207l3-6 3-1M223 -216l3-13 3-2 3-3 3 9 3-13 3 2 3-4 3-10 3 4 3-1 4 0M263 -260l3 4 3-12 3-13 3 7 3 2 3-11 3-2M300 -296l3-14 3-5 3-18 3-4 3-7 3-9 3-14 4 3 3-25 3-7 3-15 3-2M362 -492l3-15 3-29 3 27 3-11 3-51 3-5 3 18"/><path transform="translate(530.2 1501.7)" d="M0 -77l3-7 3-2 3-6 3-5 3-1 4 0 3-2 3-5 3-2 3-5 3 6 3-14 3 4 3-2 3-6 3-3 4 0 3-4 3-4 3-3M77 -143l3-2 3-2 4 8 3-14 3 7M114 -164l3-6 4 6M195 -210l3-5M226 -230l3 0 3 4 3-6 3 2 3-4 3-11 3 6M263 -257l3-6 3-12 3 4 3-8 3 3 3-7 3-23 3 18 4-6 3 2M300 -298l3 5 3-21 3-13 3-22 3-6M328 -382l3-17M355 -474l4-15 3-21 3-14 3 15M408 -686l3-28"/><path transform="translate(533.1 1502.5)" d="M0 -82l3-3 3-4 3-2 3 1 3-2 4 4 3-9 3-1 3-10 3-1 3 0 3-9 3 1 3-3M49 -129l4-2M68 -138l3-5 3-1 3 4 3-9 3 4 4-4 3 1 3-4 3 1M111 -160l3-11 3 5M195 -217l3-6 3 11M226 -233l3 6 3-1 3-3 3 3 3-10 3 1M253 -241l4-18M272 -260l3-18 3 4 3-9M287 -286l4-15 3 1 3 9 3-13 3 5M309 -332l3-29 3 1 3 7M325 -384l3-14 3-11 3-19 3 7M355 -480l4-31 3 7"/><path transform="translate(536.1 1503.2)" d="M0 -80l3-3 3-4 3 4M15 -90l4-1 3-6 3 1 3-10 3-6 3-3 3-4 3 0 3-7 3-1 3-5 4-8 3 7 3-12 3 3 3-2 3 6M83 -143l4-11 3 7 3-7 3-5 3 0M127 -174l3 7M198 -215l3-11 3 13M238 -235l3-1 3-19 3 12M266 -251l3-27 3 13 3-2 3-13 3-18 3 2 3 2M297 -295l3-6 3-14 3-20 3-14 3-2 3 2 3-28M331 -398l3-49 3 3 3-24 3 3 3-6M359 -504l3-35 3-5M402 -678l3-17"/><path transform="translate(539.0 1504.0)" d="M0 -81l3-5 3 1 3-5 3-2 3 3 4-4 3-6 3-3M31 -110l3-11 3 6 3-1 3-13 3 2 3-13 4 2 3 2 3-7 3 7M68 -138l3-9 3 8M87 -148l3-5 3 0 3-6 3 6M105 -165l3-3 3-1M124 -169l3-6 3 7M158 -196l3-10M192 -209l3-11 3-1M223 -226l3-6 3 3M260 -254l3-20 3 23 3-16 3 4 3-20 3 10 3-12 3-4 3-11 4 2 3 2 3-2 3 12 3-34 3-11 3-13 3-6M325 -398l3-27 3 4 3-13 3-33 3 21 3-26 3 1 3-13 3-21 3 8 4-32 3 0 3-21"/><path transform="translate(541.9 1504.7)" d="M0 -82l3-2 3-2 3-4 3 1 3-5 4 3M31 -110l3-5M40 -114l3-17 3 3 3-5 4-7 3 6 3-4 3-5M68 -138l3-10 3-3 3 8M192 -213l3-3M223 -226l3 0 3-10 3 10 3-7 3-9 3-7 3-1 3 1M269 -260l3-10 3-12 3 4 3-14 3 4 3-5 4-5 3 2M300 -315l3-13 3-14M321 -392l4-18 3 1 3-32 3-6 3-13 3 16 3-5 3-15M355 -510l4-11 3-18 3-22 3-15M374 -602l3-32 3 50M393 -669l3-43 3 36"/><path transform="translate(544.8 1505.5)" d="M0 -85l3-3 3 4 3-2M19 -103l3-8 3-7 3 2 3 6M40 -117l3-15 3-6 3 2 4-3 3 3 3-2 3-8 3 9M71 -149l3 4M198 -228l3-1M226 -232l3 9 3-8 3-3 3 2 3-9 3-15 3-9 3 24M278 -269l3-21 3 0 3-5 4-3 3-10 3 5 3-8 3-33 3-8 3-20 3-13 3-8 3 1M328 -439l3-16 3 7 3 12M343 -455l3-43 3 0M365 -565l3-47 3 16 3-13M399 -726l3-24 3 19"/><path transform="translate(547.8 1506.2)" d="M0 -84l3-1 3-1 3-8 3 0 3-3 4-15 3-1M49 -131l4-11 3 6M74 -150l3-2M185 -216l4 2 3-16 3-4 3 14M226 -227l3-10 3 11M238 -236l3-10 3-3 3-14M281 -287l3-17 3 13 4-14M297 -321l3-5 3-12 3-11 3-30 3-1 3-25 3 6M325 -425l3-8 3-14 3 16 3-18 3-15 3-12M359 -538l3-46 3 23 3-23 3-14 3-29 3-18 3 31M396 -737l3 1 3-3 3-31 3-1"/><path transform="translate(550.7 1507.0)" d="M0 -84l3-5M12 -100l3-8 4-1M49 -135l4-4M59 -147l3 12M71 -144l3-11 3 7 3-10 3 8M155 -207l3 2 3 0M185 -213l4-10 3 4 3-1 3-12 3 9M223 -238l3 10 3-6 3 0 3-6 3-2 3 1 3-18 3-9 3 20M275 -281l3-5 3 14 3-8 3-17 4-13 3-3 3-14 3-2 3-12 3-34M312 -400l3 6 3-41 3 9 4-7 3 3 3 5 3-25 3 10M346 -529l3 43M368 -583l3-17 3-16 3-34 3-3 3-9M405 -772l3-4"/><path transform="translate(553.6 1507.7)" d="M0 -88l3-6 3 1 3-12 3 3 3-12 4-5 3 6 3-11 3 9M49 -136l4-10M74 -149l3-1M179 -215l3-1M189 -213l3-9 3 1 3-10 3-3 3-2M226 -226l3-7 3-2 3 1 3-2 3-16 3 0 3-9M284 -288l3-9 4-18 3 1 3-8 3-34 3-9 3-19 3-14 3 2 3-4 3-29 3 8 4-6M334 -455l3-22M349 -535l3-12M380 -655l3-47M393 -699l3-16M405 -775l3-24"/><path transform="translate(556.6 1508.5)" d="M0 -90l3-3 3-4 3-9 3-3 3-5 4-2M37 -133l3-2M46 -131l3-17 4 5 3 0M71 -154l3 5M204 -235l3 7 3-3M235 -235l3-8 3-10 3 0M253 -259l4-14 3-6M266 -285l3 11M278 -285l3-4 3-6 3-6 4-8M297 -327l3-25 3-36 3 16 3-10 3-3 3-18 3-16M346 -505l3-36 3-33 3 19M371 -643l3-33 3 33 3-54 3 12 3-22"/><path transform="translate(559.5 1509.3)" d="M0 -87l3-9 3-1 3-10 3-7 3-1 4-7 3 4 3-10 3 1M37 -132l3-8 3 4M53 -143l3-5 3-3 3 9M198 -238l3 0 3 11M235 -235l3-8 3-15 3-6 3-5 3 12M266 -281l3 2 3-4 3-7 3 12M284 -300l3-8 4-25 3-3 3-11 3-9 3-12 3 1 3-20 3-7 3-23 3-11 3 6M346 -530l3-25 3-23 3 32 4-42 3 13M368 -620l3-55 3 21M380 -688l3-8 3-25 3 22 4-45 3-17"/><path transform="translate(562.4 1510.0)" d="M0 -90l3-5 3-7 3-6 3-1 3-4 4-10 3 1 3-6 3-7 3-2 3 4 3 0M46 -138l3-8 4 7 3-1 3-13 3 3 3 3M111 -185l3-6M195 -224l3-7 3 2 3 2M216 -233l3 2M241 -246l3-15 3-6 3 11 3-12 4-11 3 2 3-2M275 -285l3-9 3-2 3-9 3-26 4-6 3 7 3-34 3 7 3-25 3 2 3-4 3-19M318 -431l3-9 4-8 3-12M334 -488l3-17 3-21 3 3 3-28 3-27 3 1 3 10M371 -653l3-12 3-17 3 13 3-29 3 20 3-44 4-55 3 8 3-32 3-12"/><path transform="translate(565.3 1510.8)" d="M0 -93l3-3 3-2 3-6 3-8 3 0 4-6 3-10 3 0 3-2 3-2 3-1 3-6 3-3 3-3 3 11 3-13 4 0M59 -138l3-14 3 0 3 2 3-13 3-1M114 -191l3-4 4-5M216 -225l3-14 4 0 3 2M232 -240l3-5 3-9 3-2 3 7 3-12 3-13 3-1 4 4M266 -268l3-17 3 0 3 1 3-18 3 3M287 -322l4-10 3-1 3-29 3 2M306 -381l3-26 3-9M318 -438l3 7M334 -488l3-25 3-2M349 -581l3 26 3-41 4-45 3 10 3-6 3-6 3-2 3-5"/><path transform="translate(568.3 1511.5)" d="M0 -90l3-3M9 -105l3-17 3 10 4-11 3-4 3 1 3-4 3 5 3-6 3-7 3-5 3 7M56 -148l3 2 3-3 3-13 3 7 3-19 3 6M114 -194l3-7 4-4 3-7 3 8M151 -208l4-12 3 1 3 2 3-7 3 14M195 -221l3-13 3 7 3-8 3 4 3-2 3 11 3-10 3-3 4-4 3-2 3 11 3-16 3 0 3 0M244 -257l3 3 3-3 3-25 4 8M272 -278l3-17 3-3 3-20 3-3 3-9 4-27 3 13 3-10 3-13 3-14M309 -421l3-6M334 -503l3-7 3-47 3 6 3-21 3 12 3-22 3-22 4-19 3-18 3-8 3 7 3-9 3-18"/><path transform="translate(571.2 1512.3)" d="M0 -92l3-18 3 4 3-6 3-3 3-10 4 3M34 -134l3 1 3-9 3-2 3 0 3 0 4-11 3 11M68 -156l3-18 3-4 3 9M111 -190l3-6 3 5M124 -206l3-1M155 -213l3-16 3 13 3 0 3-5M192 -217l3-6 3-17 3 11M223 -243l3 6 3-4 3 2 3-12 3 4M244 -251l3-8 3 3 3-18 4-9 3 8M275 -277l3-35 3-7 3 9 3-32 4-3 3 0 3-23 3-8 3-28 3 4M312 -432l3-7 3-29 3-33 4-16 3 25M334 -494l3-62 3-3 3-3 3 11M368 -630l3-44 3-20 3 7 3-16"/><path transform="translate(574.1 1513.0)" d="M0 -96l3-9 3-10 3 1 3-6 3-4 4 4M28 -124l3-10 3 5 3-4 3-2 3-12 3 0 3 2 4 1M68 -160l3-18 3 12M133 -202l3-9M151 -210l4-4M161 -215l3-7 3 1M173 -225l3 0M189 -227l3 12 3-14 3 2 3-1M219 -233l4-7 3 7 3-4 3 6 3-22 3-5 3 19 3-5 3-12 3-9 3-7 4-9 3 12M284 -320l3-14 4-9 3-3 3-31 3-12 3-31 3-3 3-2 3 0 3-16 3-30 3-3 4-26 3 4 3-2M337 -542l3-5 3-19M365 -633l3-30 3-8 3-16 3-11"/><path transform="translate(577.1 1513.8)" d="M0 -93l3-7 3-11 3-2 3-3 3-8 4-1 3-4 3 4 3-6 3 4 3-4 3-6 3-2 3-2 3-1 3-6 4-5 3-4 3 0 3-3M74 -176l3-5 3-1 3-2 4 3 3 1M111 -199l3-4M148 -207l3-4M164 -218l3-4 3-2M176 -234l3-6 3 14M195 -215l3-15 3-7 3 15M210 -237l3 3 3-10 3 16M253 -270l4-4 3-7 3-7 3-1 3 2M287 -322l4-33 3-6 3-16 3-36 3 9 3-19 3 7 3-10 3-47 3 0 3-12 4 23 3-29 3-38 3-25 3 17 3-25 3-14M374 -678l3-68 3 9 3-54 3 23 3-31 4-53 3 41"/><path transform="translate(580.0 1514.5)" d="M0 -99l3-1 3-8 3-1 3-11 3 2 4-8 3 2 3-5 3 4 3-2 3 1 3-13 3 1 3-3 3-6 3 2M65 -165l3-9 3-9 3 9 3-8 3-5 3 8M90 -191l3 0M105 -194l3-6M130 -209l3-15 3-4 3 19M161 -211l3-6 3-10 3 4 3-13 3-2 3 7M192 -217l3-12 3-3 3 0 3 3M247 -261l3-6 3 11 4-17 3-16 3 10M284 -333l3 4M297 -361l3-23 3-17 3-15 3-26 3 4M318 -445l3-11 4-33 3-26 3-3 3-23 3 0 3-31 3-19 3-21M371 -710l3 2 3-37 3-8 3-63 3-7 3-8 4-13 3-16"/><path transform="translate(582.9 1515.3)" d="M0 -96l3-5M9 -113l3-5 3-1 4-3 3-4 3-1 3 5 3-12 3-1 3-7M49 -149l4-5M68 -175l3-1 3-3 3-2 3 3 3-4 4-11 3 4 3-5 3-2 3-1M108 -200l3-5 3-5M130 -211l3-3 3-12 3 8M145 -205l3-21M164 -212l3-8 3-15 3 7 3-2 3 8M189 -217l3-7 3 4M204 -240l3 7 3-7 3 10 3-3 3-5 4-5 3-1 3-1M241 -251l3-13 3 10 3-5 3-10 4-7 3-6 3-8 3-9 3-2 3-16 3 8M281 -332l3 0 3-10 4-16M297 -363l3-19 3-18 3-18 3-30 3 3M318 -434l3-41 4-27 3-24 3 1 3-26 3-15 3-30 3 9 3-55 3 22 3-25 3 5M383 -809l3-17 3 19"/><path transform="translate(585.8 1516.0)" d="M0 -101l3-7 3-5 3-1 3-2 3-3 4-2 3-6 3 3 3-3M34 -142l3-4 3 4M65 -174l3-4 3 6M77 -181l3 0 3 0M96 -196l3 1M105 -195l3-19 3 7 3-10M133 -215l3-4 3 1 3 14 3-16 3-2 3 12M164 -210l3-17 3 5 3-5 3 5 3-3 3 5M201 -238l3 4 3 1M213 -228l3 0 3-9 4-9 3 6M241 -247l3-18 3 2 3-3 3-5 4-7 3-15 3-2 3-1 3-16 3-5 3-13 3-1 3 8 3-16 3-19 4-5 3-7 3 2 3-25 3-15 3-12 3-23M315 -427l3-22 3-15 4-45 3 3 3-36 3 9 3-4 3-41 3-51 3-12 3 61 3-64 3 6M386 -822l3-29 4-23 3 5"/><path transform="translate(588.8 1516.8)" d="M0 -101l3-8 3 0 3-1 3-13 3 5 4-5 3-1 3-1M31 -145l3 4 3-5 3-4 3 6 3-13 3-3M77 -175l3-10 3-3 4-3 3-8M108 -191l3-30 3 2M139 -211l3-4M164 -217l3 0 3-1 3-11 3 8 3-1M185 -211l4-17 3 0 3-1 3-7M210 -225l3-5 3 1 3-8 4-5 3-9 3 1M241 -257l3-1 3-6 3 0 3-15 4 0 3-23 3 5 3-4 3-7 3-9 3-17 3 10 3-18 3-6 3-30 4 21 3-8 3-18 3-10 3-1 3-44 3-27 3 21 3 13M321 -490l4-27 3-4M334 -552l3 0 3-28 3-24 3 18M352 -652l3-12 4-22M383 -785l3-80 3 13 4-5 3-46 3 52"/><path transform="translate(591.7 1517.6)" d="M0 -99l3-13 3 2 3-5 3-4 3-1 4-5 3 3 3-11M37 -143l3-11 3 8 3-18 3 2M77 -181l3-12 3 6M108 -197l3-25 3 10M136 -213l3-1 3-4M151 -214l4-6 3 15M167 -217l3-11 3 8 3 1 3-2 3 3 3-2 4-13 3 12 3-20 3 4 3 4M210 -230l3 2 3-1 3-10 4-4 3-12 3 0 3-12 3 17M241 -253l3-16 3 5 3-13 3 8M260 -279l3-17 3-14 3-9M275 -316l3-22 3-14 3-16 3 21 4-28 3 25M321 -496l4-39 3-10 3 20 3-42 3-24 3 30M349 -647l3-1 3-29 4-24M365 -705l3-45 3-6M383 -803l3-64 3-6 4-13 3 11"/><path transform="translate(594.6 1518.3)" d="M0 -103l3-6 3-3 3-8 3 3 3-10 4 10 3-15 3-12 3 4M34 -144l3-6M43 -158l3-11 3-8 4 9 3-12 3 6M80 -187l3-11M108 -202l3-19 3 12M155 -214l3-8 3 18 3-8 3-6 3 7 3-7 3-8 3 8 3-4 3 2 4-6 3-2 3-1 3-6 3 2M219 -223l4-17 3-6 3-1 3-13 3 4 3 4M244 -259l3-12 3 4 3-11 4-2 3-13 3-4 3-24 3-8 3 8 3 5 3-35 3-11 3-8M303 -429l3 0 3-15M325 -516l3-39 3 7 3-30 3 16M343 -616l3-29M352 -683l3-12 4 5 3-46 3 14 3-72 3-15 3-7 3 0M383 -832l3-31 3-25 4 18"/><path transform="translate(597.6 1519.1)" d="M0 -105l3-1 3-9 3-1 3 1M19 -128l3-10 3-6 3 1 3 8 3-13 3-5M46 -162l3-4 4-10 3 7M170 -211l3-7 3 6 3-6 3-9 3 6 4-8 3-2 3-1 3-5 3 12M207 -230l3 1 3-3 3-5 3 3 4-4 3-6 3-1 3-1 3-10 3 3M250 -274l3 9 4-8 3-30 3-5 3-5 3-3 3-13 3-14 3-5 3-22 3 19M321 -495l4-31 3 2 3-43 3 13 3-35 3-40 3-7 3-17 3-31 3-10 3 3 4-27 3-12M368 -761l3-52 3-4 3-23 3 20 3-57 3 53"/><path transform="translate(600.5 1519.8)" d="M0 -104l3-7 3 1 3-8 3-5 3-6 4-4 3-10 3-3 3 0 3 7 3-11M40 -168l3 4 3 1 3 6M173 -214l3 2 3-10 3 2 3-4 4-4 3-3M210 -224l3-14 3 5M226 -238l3-5 3-6 3-13 3 3 3-10 3-1M257 -285l3-16M269 -323l3-18 3-3 3-15 3-4 3-8 3-18M303 -446l3-15M340 -603l3-16 3-14 3-40 3-49 3 47M368 -757l3-31 3-26 3-2 3-46 3 27M396 -876l3-46 3 5 3-10"/><path transform="translate(603.4 1520.6)" d="M0 -107l3-9 3 7 3-2 3-13 3-8 4-10 3 2 3 2M31 -147l3-10 3-10 3 4 3 6 3-4 3-12 4-8 3-9 3 8M170 -221l3 8M182 -212l3-6 4-12 3-3 3-1 3 9M204 -226l3-1 3-5 3 3 3-11 3 5M235 -246l3-11 3-14 3 5 3-9 3-12 3 5 4-15 3 4M272 -330l3-29 3 9 3-22 3-16 3 4M315 -499l3-10M331 -587l3-24 3-11 3 14 3-26 3-33 3 15M368 -760l3-42 3-31 3-6 3-10M389 -912l4 16 3-13M405 -900l3-30"/><path transform="translate(606.3 1521.3)" d="M0 -105l3-3 3-7 3-8 3-3 3-14 4-3 3 6 3-6 3-1 3-6 3-14 3 3 3 1 3 10 3-19 3-3 4 0 3-12M77 -200l3 0 3-9M93 -212l3-2M114 -219l3-1 4-1 3 10 3-10 3 10 3-11M167 -207l3-6M189 -212l3-10 3-9 3 1 3 12 3-6 3-7 3 1 3 3M223 -233l3-10 3 1 3 2M253 -289l4-18 3 0M272 -333l3-20 3-16 3-1 3-24 3-20 4-36 3 26 3-12 3-37 3-25 3 19M312 -508l3 4 3-25M325 -548l3-47 3 2 3 3 3-7 3-27 3-15 3-10 3-34 3-15M365 -758l3-5M374 -801l3-59 3-14 3-40 3 8M393 -899l3 11"/><path transform="translate(609.3 1522.1)" d="M0 -110l3-10 3 0 3-3M28 -156l3-4M43 -165l3-3 3-8 4-5 3-7 3 5 3-7 3 1M155 -208l3-4M164 -208l3-4M189 -213l3-8 3 5 3-13 3 14 3-12 3-2 3 18 3-32 3 5 3 1 4-2M229 -250l3-6 3 3M247 -289l3-3 3 9 4-30 3 0 3-17 3 4M275 -336l3-27 3-17 3-10 3-5 4-23 3-14 3-20 3-23 3-16 3-30 3 9 3 17 3-34 3-26 3-1M340 -607l3-22 3-24 3-66 3 4M359 -752l3-4 3 8 3-96 3 65M380 -843l3-68 3 27 3 17 4-40 3-19 3 7 3 12 3-18"/><path transform="translate(612.2 1522.8)" d="M0 -110l3-5 3-13 3-9 3 3 3 3 4-2 3-11 3-8M31 -166l3 11M49 -183l4-5 3 1 3 5 3-13 3 9 3-22 3 11 3-4 3-5 3-3M93 -214l3-1 3-7 3 16M179 -211l3-13 3 7 4 2 3-9 3 14 3-11 3-3M210 -230l3 0 3-5 3-2 4 3 3-18 3 12M250 -293l3 1 4-28 3 1M275 -341l3-31 3 8 3-23 3-35 4-19 3-3 3-3 3-24 3-13 3-18 3-1 3-10 3-40 3 15 3-32 4 8 3-19 3 3 3-10 3-25 3-1 3-30 3 12 3-111 3-18 3-6 4 36M399 -893l3-3 3-35 3 47"/><path transform="translate(615.1 1523.6)" d="M0 -112l3-10 3-13 3 10 3-9 3-2 4-3 3-16 3-7 3-3 3 8M37 -157l3-11 3-5 3-10 3 4 4-7 3-3 3 7 3-13 3-11 3 8M90 -210l3-8 3 6M108 -205l3-14 3 7M151 -212l4-6 3 1M164 -215l3-3M185 -203l4-11 3-8 3-3 3 2 3 0M210 -230l3 0 3-6 3-3 4-8 3 6 3-19 3-22 3 11M247 -290l3 0M257 -309l3-33 3 23M269 -345l3 4M278 -356l3-34 3-3 3-14 4-25 3-32 3 5 3-46 3 26M309 -490l3-36 3-20 3-10 3 3 4-8 3-34 3 15M340 -641l3 15 3-34 3-63 3-11M359 -739l3-39M402 -883l3-19 3-25 3 1"/><path transform="translate(618.1 1524.4)" d="M0 -111l3-9 3-9 3 0 3-2 3-13 4-3 3-9 3-7 3 8 3-7 3 1M40 -159l3-21 3 4 3-14 4 4 3-4 3 1 3 3 3-19 3 4 3-1 3-5M155 -216l3 3 3-1 3-5 3-5 3 6 3 12 3-15 3 16M189 -212l3-2M198 -218l3-13 3-2 3 14 3-13 3-6 3-1 3 0 4-10 3-7 3-1M250 -303l3-6 4 1 3-40 3 26M275 -364l3-24 3-2 3-9 3-23 4-13 3 4 3-38 3-5 3-28 3 11 3-9 3-16 3-27 3 2 3-33 4 5M331 -595l3-23M346 -667l3-63 3-26 3-3 4 19"/><path transform="translate(621.0 1525.1)" d="M0 -114l3 2 3-11 3 0 3-16 3-3 4-19M28 -153l3-17 3 7M43 -178l3-11 3 7 4-9 3 5 3 6 3-23 3 13M96 -228l3 5 3 13M111 -216l3-8 3 6M161 -215l3 2M173 -211l3 0M185 -209l4-4 3-5M201 -223l3-7 3-2 3-3 3 5 3-10M223 -244l3-13 3-17 3-4 3-17 3 20M244 -292l3-13 3 6 3-18 4 3 3-22 3-6 3-4 3-11M278 -378l3-11M287 -425l4-22 3-8 3-22 3 13M315 -530l3-5 3-26M328 -602l3 2 3-6 3-36 3-12 3-1 3-41 3-69 3 37M359 -796l3-33 3-21 3 19M377 -862l3-28 3-20"/><path transform="translate(623.9 1525.9)" d="M0 -125l3-3 3 0 3-2 3-15 3-11M34 -165l3-10 3 7 3-11 3-4 3-2M62 -189l3-14 3-3M111 -216l3-6M167 -222l3 15M179 -212l3 2 3 0M198 -226l3 0 3-4M219 -246l4-3 3-19 3-11 3-3 3 4 3-16M253 -304l4-25 3-18 3 8 3-24 3-6 3-11M284 -408l3-22 4 12 3-37 3-26 3-5 3-21 3-16 3 3M318 -543l3-60 4-1 3 6M346 -694l3-46 3-11 3-55 4 6 3-21M371 -810l3-75 3 32 3-66 3-1 3 63"/><path transform="translate(626.8 1526.6)" d="M0 -114l3-9 3-3 3-19 3-13 3-1 4 0 3 3M31 -167l3 0 3-14 3 9 3-5 3-11 3-1 4 2M62 -196l3-11 3-7 3 11M80 -217l3 0M93 -217l3-4 3 5M117 -217l4-5 3-6 3 9M133 -213l3-14 3 16M148 -207l3-13 4 16M164 -210l3-5 3 8M179 -211l3 9M201 -224l3-13 3 8 3-5 3-14 3 5 3-10 4 2 3-20 3 5 3-24 3 1 3-1M250 -307l3-15 4 6M263 -352l3-3 3-20 3 1M281 -428l3 10 3 9 4-22 3 7 3-31 3-46 3 1 3-37 3 2 3 2 3-11 3-30 3-14 4-11M337 -638l3-45 3-59 3 61 3-70 3-40 3 14 4-50 3-21 3-15M377 -849l3-22 3-45 3 17 3 62 4-56 3-40 3 38"/><path transform="translate(629.8 1527.4)" d="M0 -117l3-10 3-13 3-17 3-5 3 5 4 5 3-9M37 -175l3 1M46 -170l3-18 4-9 3 2 3-4 3-5 3-2 3-11 3 8M105 -215l3-7 3-10 3 9M130 -227l3 6 3 10M179 -212l3-7 3-7 4 4M201 -227l3-3 3-11 3 17M223 -246l3-18 3-1 3-20 3 6 3-27 3 11M253 -321l4-16 3-17 3 10 3-10 3-28 3 10 3-36 3-34 3 27 3-1 3-12 4 15 3-46 3 6 3-47 3-28 3 3 3 30M315 -534l3-18 3-47 4-56 3 46M337 -653l3-51 3 2M349 -740l3-23 3-55 4 5 3-64 3 33M380 -833l3-41 3 11"/><path transform="translate(632.7 1528.1)" d="M0 -120l3-18 3-9 3-9 3 6 3-2 4-7 3-4 3 0 3-5 3-5 3 2 3 0M49 -179l4-5 3-4 3-13 3-6 3 1 3-13 3 12M93 -219l3-3 3 3M108 -214l3-11M117 -224l4-1M130 -220l3 3 3 3M176 -198l3-21 3 4M195 -212l3-26 3 19 3-5 3-9 3-8 3 8 3-4 3-14 4-4 3-2 3-12 3-17 3 5 3-14 3-14 3 14M250 -323l3 3 4-24 3-6 3-23 3 11 3-19 3-12 3-7 3-6 3-11 3-1 3-14 4-4 3-15 3-17 3-27 3 10 3-38 3-32 3-8 3 22 3-33 3-13 4-38 3-2M337 -672l3-34 3-18 3 28 3-75 3-31 3-6 4 9 3-46 3 35M476 -1118l3-76 3 42"/><path transform="translate(635.6 1528.9)" d="M0 -121l3-11 3-8 3-12 3 8 3-16 4 7 3-15 3 5 3-8 3-8 3 10 3-10 3 10M49 -171l4-16 3 1 3-18 3 7 3-12 3-16 3 18M105 -210l3-20 3 13 3-16 3 13M139 -217l3 4M176 -208l3-10 3-3 3-6 4 8M201 -217l3-23 3 8 3-6M219 -243l4-18 3-3 3-8 3-12 3 1 3-7 3-26 3 12 3-23 3 7 3-16M263 -355l3-15 3 8 3-45 3-11 3 13 3 4 3-28 3 7M294 -459l3-6 3-19 3-20 3-26 3-2 3-11 3-9 3 18 3-79 4 7 3-64 3 16 3-4 3-11 3-70 3-22 3 41 3-11M359 -776l3-76 3 15 3-9M393 -897l3-37 3 8 3 8"/><path transform="translate(638.6 1529.6)" d="M0 -118l3-14 3-17 3 6 3 1 3-4 4-13 3-12 3 7 3 2 3-6 3-3 3 3M53 -185l3-20 3 10 3-17 3 5 3-6 3 5M105 -210l3-11 3-12 3 8 3-1 4 8M155 -206l3-6 3-6 3 4 3 3 3 1 3-2 3 8 3-16 3 1 3-9 4 0M210 -233l3-4 3-4 3-11 4-7 3-13 3-10 3 0 3-8 3-8 3-9 3 1 3-4 3-27 3-1 4-16 3 21 3-25 3-21 3-9 3-11 3-9M291 -460l3 8 3-11 3-43 3-19 3 23M318 -572l3-22 4-33 3-1 3-31 3 2 3-44 3 1 3-11 3-11M359 -732l3-102 3-12M374 -821l3-80 3 65M396 -870l3-32 3-33 3 43"/><path transform="translate(641.5 1530.4)" d="M0 -127l3 0 3-5 3-6 3-15 3-1 4-10 3-3 3 6 3-8 3 5 3-16 3-1M59 -197l3-6 3-1M105 -219l3 9M114 -219l3-7M133 -211l3-7M155 -207l3-2 3-8 3 3M173 -213l3 3 3 0 3-17 3-1 4-1 3-1 3 5M201 -227l3-13 3 2 3 10 3-16 3-7 3 4 4-12 3-4 3-18 3 4 3-21 3-6 3 9 3-12 3-21 3-2 3-14 4-11 3 15 3-22 3-13 3-18M281 -420l3-49 3 15 4 8 3-31 3 10 3-13 3-40 3-8 3-35 3 5M321 -597l4-36 3 3 3-10 3-15 3-41 3 4 3-46 3-55 3 73M355 -777l4-17M374 -851l3-49 3-7M399 -835l3-100 3 30 3-29M467 -1116l3-44"/><path transform="translate(644.4 1531.1)" d="M0 -121l3-5 3-17 3-5 3-5 3-9 4 3 3-1 3-5 3-1 3-10 3-3M59 -188l3-23 3-5 3-5M155 -200l3-14 3-3 3 7 3 3 3-7 3 7 3-6 3 5 3-6 3-13 4 3 3 4M201 -228l3-5 3-2 3-2M229 -278l3 2M238 -282l3-16 3-23 3-8 3-8 3-16 4 18 3-7 3-23 3-22 3-27 3 2 3-7 3-19 3 6M291 -471l3 9 3-23 3-9 3-28 3-4 3-24 3-32 3 3 3-17 3-8 4-29 3-25 3 24 3-34M340 -704l3-26 3-37M355 -781l4-69 3-8 3 29 3-14 3-22 3-1 3-46 3-2M402 -892l3-48 3 13 3-6M467 -1139l3-41 3-31 3 19"/><path transform="translate(647.3 1531.9)" d="M0 -127l3-11 3-10 3-5 3-5 3-2 4 1M25 -156l3-15M56 -196l3 2 3-13 3-13 3-8 3-2 3 8 3 10M114 -224l3 5 4-1 3-7 3 7 3 5 3-5 3 1M145 -216l3 6 3 2 4 1M164 -214l3 9M207 -235l3-18 3-3 3 9M226 -257l3-26 3 1 3-11 3 11 3-22 3-12 3 1 3-14 3-21 4 12 3-16 3-22 3-1 3-13 3-2 3-41 3-5 3-5 3-22 3 0 4 3M309 -547l3-6 3-43 3 4 3-33 4-19 3 8 3 2 3-52 3-37 3 35 3-63 3-36 3 12 3-14 3-5M368 -813l3-70 3 5 3-42 3 75 3-75 3 15 3 95 4-25 3-14 3-37 3-21 3-10 3-29M467 -1135l3-12 3-73 3 16"/><path transform="translate(650.3 1532.7)" d="M0 -127l3-10 3-9 3-14 3 4 3-1 4-8 3 4 3-4 3-16 3-5 3 0 3 7M59 -193l3-19 3-10 3-1 3 8 3-9M111 -208l3-11 3 2 4 6 3-10 3 10 3-6 3-1 3-3 3-5 3 7 3 8 3 7M158 -213l3-2 3 11M170 -204l3-12 3 3M185 -223l4-11M216 -257l3-10M238 -283l3-8 3-4 3-23 3-17 3 3 4-17 3-19 3 9 3-28 3 0 3-37 3-10 3 15 3-31 3-6 3-13 4-8 3-4 3-44 3 35M306 -530l3-13 3 8 3-79 3 4 3 3 4-13 3-24 3-74 3 32 3-17 3 5 3-49 3-8 3-16 3-21 3-50 4-9M371 -870l3-20 3-50 3 84M396 -888l3 20M470 -1116l3-109 3 36"/><path transform="translate(653.2 1533.4)" d="M0 -125l3-15 3-11 3-6 3 6 3-4 4-4 3-1 3 1 3-14 3-14 3 6 3-12 3 7M56 -194l3-7 3-4 3-10 3-7 3 15 3-7 3-14 3 6 3-4 4 13M96 -212l3-12 3 0 3 11M114 -217l3 5M127 -211l3-7 3-7 3 1 3 10M145 -210l3 1 3-8 4 6 3 11 3-2 3-17 3 8 3-1 3-7 3 12 3-13 3-7M189 -233l3-3 3 5 3-8 3 5 3-9 3 1 3-1 3-18 3-4 3-10 4 2M232 -279l3-7M241 -281l3-28 3 1M260 -350l3-5 3-36 3 15 3-38 3-13 3 11 3-11 3-35 3 19 4-33 3-18 3-10 3-60 3 19 3 24 3-35 3-10 3-50 3 35 3-39 4-30 3-29 3 30 3-6 3-15 3-81 3-22 3 35 3-17 3-49 3-37 4 31M368 -838l3-66 3 27 3 26 3-5 3-16 3-8 3 69 4-60 3-19M470 -1155l3 3"/><path transform="translate(656.1 1534.2)" d="M0 -131l3-8 3-13 3 13M15 -153l4-6 3 2 3-13 3-12 3 3 3-8M40 -201l3 4 3 2 3-1 4 0 3-3M65 -214l3 3 3-9 3 5 3-10 3 11M96 -216l3 5 3-14 3 0 3 13M114 -204l3-13 4 3 3-2 3 4 3-2 3 3M139 -208l3-3 3 5 3 2M158 -206l3-1 3-5 3 3 3 3 3-9 3-8M185 -238l4 5 3-1M207 -254l3 1 3-11 3-18 3 13 4-10 3-16 3 7 3 10 3-14M247 -313l3-40 3 14 4 2 3-29 3-5 3-28 3 8 3-14 3-15 3 8 3-40M287 -462l4-40 3-9 3 6 3-7 3 3 3-29 3-45 3-14 3 7 3-28 3 1 4-47 3 7 3-23 3 18M340 -730l3 0 3-62 3 21 3-37 3-20 4 1 3-15M371 -853l3-7 3-13 3 55M396 -893l3-54"/><path transform="translate(659.1 1534.9)" d="M0 -129l3-10 3-8 3-8 3-2 3 10 4-1 3-21 3-2 3 5 3-20 3-9M40 -200l3 10M71 -210l3-14 3 5 3 2 3-4M96 -212l3-6 3-1 3 8 3 1 3-6 3 6 3-2M139 -200l3-1 3-3 3-5 3 5 4-6 3 9M164 -202l3-11 3 4 3-16 3 0 3-9 3-1M195 -229l3-19 3 11M207 -247l3-16 3-1 3-5 3-20 4 20 3-2 3-7M235 -290l3-14 3-3 3-26 3 0 3-15M257 -344l3-24 3-20 3-5 3-6M278 -442l3-22 3 17 3-40M297 -497l3-33 3-6 3-17 3-18 3 4 3 14 3-43 3-4 4-29 3-35 3 2 3-20 3-54 3 75 3-119 3 27 3-6 3-81 3 19 4-11M368 -881l3 56"/><path transform="translate(662.0 1535.7)" d="M0 -132l3-10 3-8 3 0 3 5M22 -164l3-12 3 2 3-18 3-10 3 7M43 -196l3 1M53 -209l3-5M68 -214l3 1M77 -214l3-8 3 0M102 -210l3-7 3 7 3 3 3-5 3-5 4 1 3 8M133 -206l3 5 3 4 3 2M148 -201l3 1M161 -205l3-6 3-4 3 7M176 -226l3-6 3-5 3 3 4 7M213 -270l3-7 3 0 4 1 3 1 3-15 3-3 3-1 3-10 3-30 3 15 3-28 3-7 3 1 4-1 3-7 3-18 3-13 3-15 3-29 3-2M281 -432l3-54 3-34 4 6 3 8M303 -520l3-43 3 42 3-67 3 38 3-39 3-21 4-11 3-12 3-8 3-10 3-76 3-4 3-37 3-15M359 -880l3 26M386 -859l3-69 4 2 3-30 3-59 3-23 3-21 3-5 3 14M420 -1047l3-2"/><path transform="translate(664.9 1536.4)" d="M0 -130l3-5 3-5 3-5M25 -178l3-9 3-8 3-5 3 4 3 8 3-5 3-9 3-11 4 0M59 -212l3-17 3 32M74 -222l3 4 3-7 3 12M99 -208l3-1M114 -212l3-1 4 7 3-6 3-2 3 2 3 20 3-3 3-3 3-1 3-13 3 12 3-1M164 -204l3-17 3 10 3-17 3-2 3-2 3 13 3-25 4 18 3-13 3-2 3-14 3 7 3-9 3-1 3-11 3 9 3 9 3-22 4 1 3-7 3-19 3 15 3-21 3-18 3-1M257 -359l3 0 3-19 3-2 3-31 3-26 3-15 3 11 3-32 3-11M294 -505l3-18 3-2 3 16 3-32 3-8 3 6M325 -605l3-44 3-8 3-3 3-33 3-74 3-9 3-52 3 46 3-69 3 28 4-52 3-12 3 48 3 21 3-37 3 54 3-41 3-25 3-8M393 -932l3-90 3 21 3-44 3 18 3 3 3-24 3-15 3 25 3-20 3-32 4 52"/><path transform="translate(667.8 1537.2)" d="M0 -138l3 0 3-6 3-12 3-5 3-7 4 3M25 -181l3-14 3-5 3 7 3-1 3-1 3-6M53 -198l3-20 3 8M68 -211l3-12 3 3M87 -220l3 12M114 -203l3-12 4 4 3 6 3 0 3 2 3 9 3-6 3-5 3 8M148 -203l3-9 4 4M161 -205l3-3M170 -218l3-10 3 9 3-17 3 11 3-14 4 6M195 -243l3-11 3 4 3 4 3-4 3-2 3-20 3 14 3-19 4-11 3 1 3 1 3-18 3-4 3-14 3-23 3-6 3-1 3 7M260 -359l3-34 3-13 3-14 3-7 3-28 3-12 3-9 3-29 3-1 4-9 3 14 3-30 3 20 3-14 3-22 3-1M328 -622l3-60 3-17 3-34 3-4 3 28 3-82 3-28 3-58 3 35 4 12M368 -785l3-12 3-22 3-4 3-42 3-53 3 15 3-18 4-63 3-5 3-20 3-49 3 26 3-7 3 65"/><path transform="translate(670.8 1537.9)" d="M0 -135l3-12 3-7 3 1 3-3 3-19 4-2 3 0 3-12 3 2 3-7 3 3 3-3 3-5 3-19 3 4M56 -206l3-13 3 7 3-5 3-2 3 8M90 -207l3-9 3 9 3-2M114 -204l3 2M130 -192l3-9M148 -201l3-2 4-4M170 -213l3-12 3 7 3-8 3-6 3-3 4-11 3-3 3 0M201 -234l3-23 3-1M213 -254l3-13 3-1 4-9 3-4 3-11 3 1 3-19 3-6 3-20 3 9 3-27 3-4 3-2M263 -392l3 11 3-20 3-14 3-34 3-30 3-21 3 11 3 10 4-18 3 4 3-16 3-15 3-19M325 -641l3-22 3-39 3-23 3 11 3-35 3 5 3-26 3-42 3 5M368 -759l3-18 3-35 3-39 3-22 3 30 3-90 3-18 4-52 3 4 3-31 3-16 3 80 3-35 3-20"/><path transform="translate(673.7 1538.7)" d="M0 -134l3-17 3-8 3 3 3-13 3-2 4 3 3-26 3 6 3 5 3-3 3-5 3 1 3-11 3-10 3-3M53 -208l3-7 3 7 3-14 3 17 3-7 3-16 3 22M80 -201l3-18 4 11M114 -202l3-6M145 -189l3-7 3-5M170 -223l3-14 3 18M182 -227l3-12 4 5 3-17 3 12M201 -235l3-20 3 1 3-9 3 12 3-16 3 0 4-28 3 17 3-21 3-2 3-10 3-13 3-13 3-13 3 3 3-5M266 -394l3-13 3-24 3-16 3 0 3-20 3-15 3-14 4 21 3-38 3 17 3-41 3-2M309 -569l3-5M331 -709l3-33 3 34M343 -747l3-43 3-27 3-16 3-1 4 14 3 20 3 43 3 1M374 -840l3-29 3-40 3 13 3-29M402 -982l3-64 3 91"/><path transform="translate(676.6 1539.4)" d="M0 -144l3-11 3-3 3-8 3-7 3-2 4-12 3 2 3 0 3 11 3-16 3 3 3-17 3 5 3-18 3 4 3 1 4 12 3-2 3-8 3 2M68 -212l3-9 3 4 3 1M83 -217l4 11M108 -204l3 2 3 2 3-21 4 23M142 -201l3 13 3-15 3-11 4 8 3-7M164 -210l3-16 3 3 3 0 3-2 3-13 3 8 3-5 4-11 3-1M207 -261l3 3M219 -275l4-14 3 12 3-9 3-10 3-23 3-1 3-22 3 5 3-29 3-13 3 15M266 -370l3-48 3 8 3-43 3-8 3-12 3-5 3-3 4-11 3-30 3 15 3-37 3 1M321 -628l4-52M334 -723l3-35 3 18 3-3 3-83 3 21 3 40M362 -747l3-10 3-52 3-41 3-12 3-72 3 81 3-87 3-9M408 -1033l3-38 3 32"/><path transform="translate(679.6 1540.2)" d="M0 -137l3-13 3-6 3 1 3-16 3-4 4-6 3-7 3 16 3-13 3 7 3-18 3-8 3 2 3-2 3 0 3 0 4-3 3 7 3-8 3-15 3 0 3 7 3 12 3-17 3 10 3-5M145 -197l3-1M155 -213l3-2 3-6 3 10 3-2 3-11 3-10 3 16 3-4 3-8 3-16 4 6M210 -262l3 2 3-21 3-3 4 0M232 -301l3 1 3-2 3-28M247 -351l3-16 3-17 4-6 3-4M269 -397l3-20 3-30 3 4 3-31 3-4 3-18 4 21 3-41 3 6 3-60 3-8 3 13 3-44 3-8 3-17M325 -652l3-63 3 2 3 14 3-39 3-22 3-34 3 13 3 2 3-19 3 47 4-11 3 12 3-3 3-76 3-15 3-62 3 22 3 2 3-87 3-53 3 22 4-33 3 45"/><path transform="translate(682.5 1541.0)" d="M0 -141l3-9 3-6 3-12 3-5 3-5 4 8 3 3 3-8 3-13 3-8 3 1 3-8 3 0M46 -203l3-4 4 5 3-5 3-5 3 7 3-9 3-3 3 2M77 -213l3 1M102 -205l3 2 3 0 3 1M124 -207l3 6M151 -207l4-6 3-1 3 10M167 -214l3-7 3 4 3-6 3 3 3-12 3 1M198 -246l3-14 3 5 3 1 3-12 3-12 3-7 3 2M226 -290l3-14 3 8M238 -321l3-36 3-1 3 4 3-22 3-8 4-9 3-13 3 23M275 -403l3-53 3 10 3-23 3-13 4-20 3-11 3-34 3 4M309 -603l3-37 3-19 3-4 3-45 4 48 3 5 3-67 3 42 3-76 3 16 3 9 3-51 3 22 3 9 3 30 4-20 3-34 3-40 3-28 3 12 3-50M380 -945l3-6 3-10 3-57 4 15M402 -1005l3-21"/><path transform="translate(685.4 1541.7)" d="M0 -146l3-7 3-7 3-11 3-2 3 2 4-3 3 3 3 1 3-14 3-7 3-7 3-1M43 -196l3-12 3 10 4-11 3 7M65 -195l3-18 3-2M105 -205l3 4M117 -196l4-13 3 15 3-17 3 23M139 -202l3 4 3-9 3-7 3 8 4-7 3 7M167 -214l3-11 3 8 3-5 3-8 3-6 3-13M192 -250l3-16 3 19 3-16 3 0 3 3 3-22 3 6 3-8 3-4 4-3 3-3M232 -306l3-18 3-5 3-1M247 -353l3-8 3-25 4-4 3-5M284 -456l3-8 4-28 3-42 3-13 3 11 3-55 3-21 3 20 3-26 3-36 3 1 3 3 4-37 3 2 3 21 3-19 3-56 3-19 3 21 3 2 3-3 3 30 3-34 4-9M368 -795l3-98 3 36 3-96 3 21 3-35 3-25 3-22 4-1 3 30"/><path transform="translate(688.3 1542.5)" d="M0 -141l3-12 3-6 3-17 3 10 3-4M22 -175l3 2 3-14 3-8 3-5 3 5M49 -198l4-15 3 8 3-4 3-3 3 10 3-12 3-1 3 1 3 6 3 1 3-17 4 16M105 -203l3 0 3 5 3-3 3 7 4-9 3 2M133 -191l3-17 3 12 3-3 3-5 3 1 3-4 4 9 3-19 3 1M167 -215l3 1 3 1 3-14 3-5 3-21 3 1 4 3 3-17 3 15 3-4 3-5 3 0 3-15 3-5 3 14 3-12 3-11 4-9 3-3 3-18 3 11 3-14 3-20 3-5 3-8 3 7 3-33 3 8 4-23 3-1 3-18 3 13M287 -482l4-8 3-30 3-52 3 15 3-19 3 5 3-27 3-31 3-38 3 14 3-27M328 -661l3-12M337 -709l3-28 3-54 3 100M352 -712l3-28 4-49 3 12 3-59 3 36 3-75 3-63 3 21 3-25 3-37 3 23 3-47 4 19M402 -1071l3-40 3 28"/><path transform="translate(691.3 1543.2)" d="M0 -150l3-19 3 6 3-12 3 8M28 -177l3-10 3-14 3-9 3 11 3-5 3 8M62 -196l3-12 3 0 3 1 3-5 3 0 3-6 3 4 4-5 3 1 3 6 3 10M114 -188l3-22 4 10M142 -189l3-16 3 4 3-9 4 0 3-7 3 4 3-1 3 3 3-2M176 -221l3-16 3 3 3-4 4 0 3-9 3-9 3-8 3 15 3-17 3 5 3-7 3-7 3 7 3-17 4 6 3-26 3 0 3-18 3-16 3 10 3-27 3 3 3-14 3-12 3-13 4-1 3 10 3-35 3 1 3-17M278 -448l3-19M287 -489l4-13 3-16 3-22 3 8 3-43 3 6 3-18 3-63 3-1 3-5 3-27 4 32 3-26 3-17 3-39 3 26 3-13 3 30 3-20 3 6 3-9 3-85 4 9M368 -790l3-93 3-70 3 4M386 -1003l3 20 4-39 3 22 3-64 3 21 3-56 3 0 3-19"/><path transform="translate(694.2 1544.0)" d="M0 -144l3-20 3 4 3-7 3-7 3 5M22 -185l3 1 3 9 3-15 3-2 3-10 3 0 3 4M49 -209l4-10 3 21 3-3 3-6M71 -205l3-1 3-13 3 1 3 1 4-4M96 -197l3-8 3 9 3-3 3-2 3 4 3 6M139 -197l3-4M164 -207l3-10 3 6M176 -219l3 3 3-10 3-2 4-9 3 2 3-4 3-11 3 4 3-11 3-6 3-4 3-5 3-8 3-1 4-23 3 17 3-17 3-13 3-2 3-13 3-17 3 0 3-9 3-12 3-2 4-7 3-20 3 4 3-35 3-9 3-9 3-9 3 3 3-22 3 13M291 -474l3-55 3-10 3-15 3 0 3-23 3-69 3 33 3-29 3 4 3-2 4-24 3-44 3-2 3-2 3 5 3 25M346 -670l3-54 3-20 3-53 4 1 3-13M368 -839l3-93 3-31 3 25 3-40 3-17 3 31 3 22M399 -982l3-86M408 -1124l3-44 3 38"/><path transform="translate(697.1 1544.7)" d="M0 -146l3-3 3-21 3 0 3-4 3 0M28 -179l3-14 3 15 3-12 3-12 3 5M49 -205l4-1 3 9M71 -199l3-7 3 8 3-20 3-1 4 4 3 11M99 -198l3-5 3 3M114 -201l3-4 4-8 3 14 3-4M139 -198l3-5M155 -214l3-4 3 9 3 0 3-10 3-2 3 3 3 3 3 7 3-15 3-13 4-4 3 7 3-9 3 5 3-10 3-4 3-13 3 8 3-12 3-5 3-20 4 17 3-15 3-13 3-6 3-11 3-5 3-10 3-17 3 16 3-31 3 1 4-12 3-8 3-31 3-19 3 10 3-18 3-11 3 1 3-31 3 2 3 31 4-53 3-18 3 13 3 4 3-61 3-10 3-37 3 2 3-30 3-8 3 23M331 -680l3-35 3 58 3-38 3 17 3 15 3-66 3-40 3 3 4-11 3-64 3 29M371 -842l3-104 3 44 3-53 3-35 3 73 3-119 4 3 3 30 3-28 3-58 3-7 3-21 3-10 3-36 3 6 3 27 3-2"/><path transform="translate(700.0 1545.5)" d="M0 -155l3-3 3 6 3-18 3-9 3-4 4-2 3 2M28 -176l3-16 3-6 3 2 3-8 3-9M68 -198l3 3 3-1M80 -201l3-8M96 -200l3 2 3-1 3-1 3 13M114 -188l3-14 4 4 3-3 3 0M142 -201l3-2 3 4M155 -204l3-4 3-5 3 0 3-1 3-4 3 6M179 -216l3-20 3 1 4 9 3-7 3-12 3 4 3-15 3 0 3-12 3 12 3-17 3-8 3-6M229 -287l3-8 3-26 3-12 3-6 3-3 3-11 3-12 3 3 4-11 3-1 3-32 3-28 3-3 3 5 3-36 3 12 3 1M303 -559l3-15 3-3 3-18 3-17 3-6 3-63 4 19 3 4M334 -678l3-3 3 27 3-11 3-69 3 2 3-19 3-19 4-24M365 -845l3-35 3-35 3-31 3 26 3-59 3 48 3-73 3-14 4-59 3 76M405 -1090l3 26 3-38"/><path transform="translate(703.0 1546.2)" d="M0 -149l3-6 3 0 3-20M15 -176l4-4M25 -171l3-18 3-2M37 -193l3-16 3 3M71 -196l3-9 3 3 3-6 3-1 4 1 3 15 3 2 3-6 3-5 3 3 3 9 3-15 3 6 3 6M121 -194l3-10M139 -203l3 1 3 0 3-9 3 14 4-8 3-6 3 7 3-15 3 3 3 5M176 -215l3-12 3-3 3 2 4-15 3 6 3-9 3-3 3 0M207 -258l3-14 3 2 3-9M235 -295l3-20 3-8 3-2 3-13 3-11 3-6 4-16 3-27 3 6 3-14 3-3 3-30 3-7 3-22 3-27 3 10 3-16 4 2M306 -560l3-12 3-47 3-10 3 16 3-22 4-55 3 39 3 0 3-16 3 30 3-25 3-24 3-72M352 -750l3-52 4-27 3-40 3 10 3 30 3-90 3 22 3-47 3 10 3 13 3-92 3 7 4 1 3-70 3 13"/><path transform="translate(705.9 1547.0)" d="M0 -152l3-6 3-15 3-1 3 0 3-7 4 14M25 -179l3-18 3 2 3-9 3 10 3-15 3 6 3-2 3 0 4 3M71 -194l3-9 3 11 3-9 3 1 4-6 3 11M99 -188l3-2 3-4 3-2 3 8 3-9 3 0 4-4 3-3 3 2 3 7M136 -202l3 0 3 2M151 -203l4-2M176 -219l3-7 3-5 3-1M192 -243l3-4 3-2 3-12 3 7M210 -261l3-20 3-1 3 2 4-7M232 -301l3-2M241 -307l3-19 3-11 3-2 3-5 4-30 3 0 3-42 3-11 3 5M278 -458l3-20 3-8 3-28 4-8 3 1 3-28 3 22 3-39 3 2 3-33 3 16 3-81 3 10 3-1 4-34 3 10 3 64 3-35 3 0 3-37 3-12M352 -789l3-49 4-16 3 2 3-13 3-31M374 -912l3-27 3 14M386 -1015l3 2 4-36M405 -1061l3-83 3 91"/><path transform="translate(708.8 1547.7)" d="M0 -153l3-1 3-16 3-3 3 4 3-15 4 8M31 -198l3 0 3 3 3 1 3 1M71 -189l3 0 3-3 3 4 3-9 4-3 3 13M96 -187l3-1 3 2 3-2 3-10 3 9M117 -196l4 1 3 1 3-9 3 2M148 -189l3-22 4 8 3-7 3-5M170 -216l3-6 3-3 3-1 3-7 3-8 4-6 3 1 3-3 3 10 3-23 3 6 3-10 3-1M232 -299l3-7M244 -321l3-12 3-12 3-13 4-16 3 0 3-46 3-8 3-14 3-19 3 0 3-2 3-3 3-26 3-25 4-3 3-2 3-36 3 1 3 18 3-35 3-22 3-25 3-40 3 42 3-1 4-6 3-3 3-7M340 -673l3-113 3 40 3-29 3-66 3 16M362 -874l3-14 3-34 3 8M377 -892l3-114 3-2M396 -1048l3-42M405 -1096l3-35M430 -1111l3-34 3 26 3 12"/><path transform="translate(711.8 1548.5)" d="M0 -152l3 2 3-12 3-13 3 13 3-16 4-7 3 7M40 -198l3-2M74 -181l3-5 3-1 3-4 4 0 3 2 3-3 3 6 3-4 3 4 3 2 3-5 3-3 3-1 3 1 4 3 3-4 3 0 3-18 3 11 3-5 3 1 3-1 3 10 3-5 3-12 4 0 3 0 3-5 3 1M173 -219l3-5 3-10 3-1 3-2 4-8M198 -253l3-9M207 -256l3-25 3 5 3-17 3-2M241 -309l3-5 3-17 3-9 3-22 4-8 3-19 3-23 3 5 3-16 3-4 3-41 3 40M284 -486l3-20 4-17 3-9 3 5 3-38 3 30M309 -600l3-13 3 54 3-43 3-23 4 31 3-35 3-25 3-47 3 25 3-46 3-3 3-64 3-34 3-28 3 26 4-53 3-1 3 36 3-40 3-33 3-12M386 -1021l3-35M402 -1112l3 12M430 -1105l3-11 3 37"/><path transform="translate(714.7 1549.3)" d="M0 -150l3-7 3 1 3-9 3 0 3-9 4-12 3-11 3 0M37 -183l3-15 3-12 3 6 3 3 4 8 3-6 3 3 3 6 3 10 3-6 3 2 3 6 3-8 3-2 3-10 4-2 3 18 3-5 3 8M117 -186l4-7 3 2 3-9 3-1 3-4 3 6 3-3 3-5 3 10 3-3 3-12 4 6 3-4 3-18 3 5 3 7 3-8 3 4 3-9 3 7 3-6 3-19 4 4 3-7M198 -260l3 6 3-14 3 16 3-20 3 3 3-23 3 1 4-5 3-11M244 -310l3-20 3-17 3-16 4-3 3 2 3-38 3-25 3 10 3-26 3-9 3-27 3-11 3 17 3-31 4-5 3-25 3-22 3 29 3-53 3-20 3 9 3-6 3-24 3 47 3-15 4 30 3-55 3-56 3-5 3-7 3 4 3-42 3-63 3-33 3-4M365 -905l3 13 3-32 3-52M380 -964l3-57 3-9 3-54 4 11M399 -1099l3 3 3-40 3-38 3 45 3-58M430 -1099l3-5 3 19 3 32"/><path transform="translate(717.6 1550.0)" d="M0 -150l3 3 3-8 3-7 3-9 3-1 4-16 3-14 3 3 3-6 3 13 3 5 3 4 3-21 3 14M68 -182l3-3 3 0 3-5M83 -191l4 7 3-1 3 6M102 -183l3-13 3-2 3 8 3 4 3-5 4-3 3-2 3-2 3 2 3-5 3 7 3-5 3 2 3 4 3-21 3 9 4-5 3-3 3-3 3 3 3-6 3 2 3-1 3-4 3-9 3-3 3-7 4-6 3-8 3 3 3-15 3-2 3 14 3-3 3-11 3 4 3-34 3-8 4 6 3-4 3-3 3-2 3-10 3 8 3 0 3-7 3-24 3-12 3 1 4-29 3 4 3-21 3-14 3-12 3-3 3-23 3 4 3-15 3 5 3-40 4 19 3 1 3-56 3-3 3-61 3 9 3 1 3 30 3-17 3-25 3 38 4-23 3-36 3-51 3 3 3-35 3 1 3-19 3-73 3-39 3-8 3-27 4 3 3-31 3 38 3-48 3-27 3-60 3-4M386 -1037l3-29 4-17 3-13 3 28 3-52 3 4 3-35 3-10 3-17M436 -1073l3 41 3 3M702 -385l3-4"/><path transform="translate(720.5 1550.8)" d="M0 -150l3-1 3 5 3-16 3-4 3-8 4-15 3 5 3-9 3 10 3-13 3 8 3-8 3 6 3-20 3 3 3 15 4 4 3-9M71 -181l3-7 3-4 3 11 3 5 4-6 3 0 3 8 3-20 3 7 3 0 3-2M111 -177l3-14 3 14 4-21 3 11 3 7 3-8 3-17 3 10 3-1 3 2 3-7 3-3 3-3 4 0 3-8 3-2 3 0 3 5 3-9 3 9 3-11 3-1 3-5 3-17 4-1 3-13 3 9 3-1M207 -250l3-30 3 11 3-17 3-3 4-18 3-1 3-8 3 6M238 -297l3-30 3-16 3 17M253 -347l4-34 3-19 3-11 3-12 3-6 3-9 3-9 3-9 3-16 3-5 3-9 4 14 3-37 3-7 3-24 3-35 3-12 3 19 3 8 3 24 3-2 3-48 4 1 3-57 3 1 3-7 3-30 3-18 3-50 3-21 3-89 3 25 3-31 4 10 3-39 3 7 3-51 3-23 3-67 3 32 3-33 3-22 3 13 3-24 4-47 3 64 3-5 3-45 3-37 3 2 3-28 3-10 3 10 3 61 3-7 4 14M677 -413l3-1 3 4"/><path transform="translate(723.5 1551.5)" d="M0 -151l3-5 3 4M12 -156l3-20 4 3M25 -179l3-3 3-5M37 -200l3 1 3 0 3 5 3-6M68 -178l3-4 3 0 3-7 3 15 3-7 4 11 3-15 3 0 3 8 3-7 3-5 3-2 3 1M124 -182l3-5 3-9 3 10 3-14 3 5 3-2 3 4 3-14 3 7 4-3 3-14 3 1 3 2 3-5 3 4 3 0 3-5 3 0 3-23 3-2 4 9 3-6 3-12 3 1 3-2 3-2M210 -256l3-24 3 2 3-1 4-27 3 0 3-4 3 6 3 0 3 0 3-14 3-10 3-29 3-9 3-1 4-9 3-28 3-1 3-21 3-15 3-2 3-1 3-10 3-24 3 6 3 5M294 -458l3-45 3-30 3 1 3-38 3 1 3 32M325 -582l3-52 3 34 3-51 3-47 3 6 3-56 3-17 3-36 3 24 3-89 4 26 3-30 3-71 3-20 3-35 3 17 3-25M402 -1043l3-37 3-37 3 38 3-77 3 41 3 4M442 -978l3-9 3 52M689 -381l3-16M698 -374l4-19 3 26"/><path transform="translate(726.4 1552.3)" d="M0 -148l3-6 3-9 3-2 3-3M22 -177l3 4 3-13 3-2 3-12 3 13 3 1 3-11 3 2 3 10 4-16 3 19 3 1 3-4 3 3 3 6 3-7 3 5 3 0M87 -175l3 0M96 -185l3 4 3 8 3-20 3 9M114 -188l3-4 4 8 3-2M139 -195l3 4 3-9 3-2 3-4 4 1 3 15 3-11 3-9 3-3 3 0 3 1 3-10 3-2 3-18M189 -234l3-9 3 2 3 1 3-18 3 1 3-1 3-8 3-2 3-11 3-21 4-1 3-7 3-5 3 15 3-4 3 1 3-12 3-3 3-11 3-22 3-5 4-30 3-3 3 5 3-35 3-9 3-2 3-10 3-2 3-8 3-15 3-23M300 -485l3-55 3 4 3-4 3-4 3-26 3 11M325 -595l3-36 3-16 3-22 3 0 3-75 3 5 3-3 3-46 3-4 3-5 4-50 3-69 3-14 3 5 3-54 3 4 3-12 3-44 3 26 3-12 3-40M396 -989l3-113 3 47 3-30 3-28 3 64M436 -1000l3 39 3 47 3-54M677 -411l3 12M698 -382l4 0 3 1 3-1"/><path transform="translate(729.3 1553.0)" d="M0 -151l3-7 3-6 3-4M19 -168l3-13 3 3 3-11 3-3 3 9 3-8 3 8 3-9 3 0 3 0 4 5 3 3 3 14 3-8 3 1 3 3 3 3 3-10 3 6 3-4 3 6M96 -178l3-1 3 1 3-4M117 -185l4 0M136 -189l3-3 3-2 3 0 3 3 3-8 4 8 3-9 3 2 3-9 3-1 3-1 3-6 3 2 3-30 3-2 3 7 4 2 3 2 3-14 3 2 3-4 3 1 3-7 3-15 3 8 3 3 3-38 4 4 3-12 3 5 3 0 3 2M241 -302l3-30 3 6 3-32 3-6 4-3 3-20 3-9 3-6 3-21 3 4 3-8 3-21 3-25 3-9 3 3 4 9 3-26 3 10M306 -530l3-9 3 3 3-55 3 18 3-47 4 32M331 -595l3-87 3 12 3-15 3-104 3 65 3-15 3-34 3-61 4-13 3-15 3-74 3-4 3-47 3-7 3-7 3 6 3-30 3 25 3 9 4-69 3 64M405 -1080l3-16 3 83M479 -826l3-38 3 31"/><path transform="translate(732.3 1553.8)" d="M0 -145l3-5 3-17 3-10 3-8 3 18 4-3 3-1 3-15 3-9 3 10 3 1 3 0 3-1 3-2 3-5 3 10M56 -171l3-2 3-3 3 3 3-5 3 13 3-16 3 8 3-3 3-1 4 7M96 -173l3 3M105 -188l3-7M117 -184l4-10 3 5 3 4M145 -191l3-2 3 6 4-14 3-2 3 8 3-9 3-11 3 7M179 -226l3-12 3 5 4-12 3 9 3-5 3 2 3-5 3-17 3 2 3-7 3-15 3 0 3 9 4-7 3-12 3-7 3-2 3-7 3-16 3 14 3-25 3-5 3-12 3-12 4-3 3-22 3 12 3-18 3-26 3-7 3 14 3-25 3-35 3-3 3-12 4 10 3 6M300 -517l3-18 3 23 3-12 3-40 3-18M328 -612l3-46 3 14 3-40 3 12 3-65 3 4 3-8 3 7 3-119 4-36 3 46 3-78 3-16 3-73 3 37 3-14 3 4 3-52 3-24 3 37 4-30 3 24 3-48 3-41 3 64 3-23 3-10"/><path transform="translate(735.2 1554.5)" d="M0 -148l3-5 3-18 3 0 3-9 3 15 4 3 3-15 3-3 3-1 3-1 3 8 3 2 3-1 3-9 3 3 3-13 4 14 3 12 3-8 3 1 3 5 3 5 3-12 3 7 3-11 3 7M87 -172l3-11 3 13 3 2 3-20 3 0 3-1 3 3M114 -185l3-1 4 2 3-9 3 5M136 -187l3-7 3-2 3 8 3-3 3-4 4-3 3-6 3 0 3-3 3-5 3-8 3-6 3 1 3-5 3 0 3 2 4-12 3 9 3-1 3-12 3-12 3-5 3-3 3-3 3 0 3 2 3-9 4-5 3-12 3 1M238 -312l3-13 3-18 3 3 3-19 3-2 4 1 3-17 3-11 3-5 3-19 3-13 3 13 3-48 3 0 3-2 3-3 4-22M297 -474l3-11 3 9 3-18 3-42 3-36 3-12 3-11 3-4 4-29 3 7 3-12M337 -678l3-6 3-27 3-40 3-17 3-47 3-14 4-27 3-43 3-11 3-1 3-4 3-55 3-16 3 29 3-30 3 2M393 -1031l3 12 3-9 3 3 3-34 3 17M556 -699l3 21M593 -639l3 34M757 -383l3 1"/><path transform="translate(738.1 1555.3)" d="M0 -147l3-6 3-11 3 2 3-7 3 1 4 0 3-10 3 9 3-9 3 8 3-3 3 1 3-2 3-3 3 4 3-3 4 5 3 9 3-7 3 6M68 -166l3-6 3 3 3-9 3 3 3-8 4 6M93 -164l3-14 3 4 3-9 3-7 3 3 3 2 3 6 3 2 4-15 3-1 3 1 3 4 3-5 3 5 3-13 3 13 3-1 3 1 3-3 4-9 3 3 3-9 3-10 3-2 3 2 3-8 3 8 3-8 3-7 3 1 4-4 3-7 3 2 3 0 3-15 3-9 3 4 3 2 3-10 3-7 3 6 4 3 3-27 3-9 3-6 3-9 3-1 3-21 3-5 3-7 3-3 3-16 4-7 3-12 3 5 3-14 3 3 3-12 3-7 3-9 3-27 3 2 3-33 4-22 3-11 3 51 3-1 3-12 3-19 3-81 3 13 3-46 3 36 3-6 4 3 3-60 3-12 3-49 3 32 3-19 3-16 3-24 3-33 3-75 3-21 4-16 3 32 3-78 3 9 3-36 3 10 3-36 3 21 3-60 3 8 3-20 4-1 3-3M408 -1082l3-36 3 42 3 31M556 -670l3-25 3 9M661 -416l3 0 4 20"/><path transform="translate(741.0 1556.0)" d="M0 -148l3 6 3-20 3 9 3-7 3-8 4-6 3 4 3-5 3 14 3-5 3-4 3-10 3 5 3 9 3-6 3 11M56 -163l3-8 3 5M71 -168l3 0 3-7 3 2 3 0 4-9 3 12 3 4 3-7 3 0 3-7 3-7 3 0 3 6 3 0 3 5 4-5 3-3 3-4 3 4 3-2 3-17 3 17M148 -187l3-5 4-4 3-9 3-3 3-2 3-11 3 9 3-3 3 1 3 1 3-15 3-4 4-3 3-1 3-1 3-12 3-4 3-8 3-3 3 10 3-5 3-11 3 0 4-17 3 9M235 -311l3-10 3 0 3-13 3-17 3 0 3-19 4 4 3-20 3 2 3 4 3-7 3-22 3 2 3-32 3 0 3 5 3-18 4-25 3 24 3-17 3 9 3-35 3-24 3-11 3-35 3-30 3 26M325 -597l3-35 3-50 3 1 3-14 3 37 3-47 3-58 3-27 3-11 3-36 4-35 3-13 3 27 3-9 3-54 3 21 3-42 3 14 3-34 3 26 3-35 4-56M399 -1019l3-58 3 50 3-88 3 89M420 -1028l3 60M556 -668l3-13 3-19 4 27M618 -496l3-30"/><path transform="translate(744.0 1556.8)" d="M0 -146l3-13 3 9 3 5 3-21 3-3 4-1 3-2 3 5 3 5 3-3 3 0 3-2 3-5 3 11 3-11M71 -158l3-11 3 5 3-14 3 5 4 0 3-1 3 7 3 3 3-7 3-10 3 13 3-13 3 0 3 3 3 1 4-3 3 1 3-3 3 3 3-5 3 2M142 -180l3-7 3 1 3-3 4-7 3-12 3 12 3-10 3-10 3 2 3 11 3-15 3 8 3-9 3-6 4-4 3-7 3-15 3 9 3-11 3-2 3 2 3-5 3-5 3 9 3-22 4-10 3-2 3-7 3-20 3 18 3-27 3 2 3-13 3 2 3-22 3-9 4 3 3-8 3-23 3 3 3 3 3-8 3-37 3 25 3-24 3-9 3 6 4-29 3 17 3-17 3-18 3-12 3-41 3-25 3-12 3-8 3-1M325 -607l3-33 3-35 3 11 3-12 3-7 3-33 3-53 3-28 3 16 3-42 4-32 3 38 3-29 3-58 3 17 3-32 3 60 3-66 3-13 3-53 3-9 4-45M399 -1040l3-34 3-1 3 43M417 -1009l3 28M448 -916l3-33 3-2 3 22M485 -752l3-23M655 -414l3-4"/><path transform="translate(746.9 1557.6)" d="M0 -147l3-2 3-1 3-6 3-7 3-3 4-4 3 4 3 2 3 15 3-10 3 12 3-9 3-14 3 3M62 -163l3-8 3 17 3-7 3-4 3-1 3-3 3 1 4-4 3 4M96 -161l3-9 3-7 3-2 3 2 3-1 3-1 3-1 4 3M133 -179l3-11 3 10M145 -183l3-3 3 1 4-5 3-12 3 3 3-14 3-1 3 0 3 4 3 11 3-18 3 7 3-20 4-1 3 0 3-14 3-1 3 0 3-10 3 13 3-8 3-16 3 1 3-3 4-30 3-4 3-8 3 13 3-7 3-1 3-21 3-3 3-10 3-10 3 2 4-4 3-22 3-3 3 4 3-6 3-21 3 2 3-13M284 -419l3-32 4 10 3 5 3-25 3-27 3-10 3-33 3-11 3-19M318 -578l3-35 4-20 3 22 3-36 3-27 3-12 3-5 3-58 3 25 3-49 3-48 3 15M368 -856l3-44 3 2 3 1 3-23 3-29 3 7 3-105 4 24 3-19M402 -1070l3 54 3 31 3-49 3-7 3 108M451 -917l3-10 3 34M562 -672l4-33 3 27M581 -634l3 6 3 5M615 -512l3-4M664 -406l4 10 3-4M726 -389l3 6"/><path transform="translate(749.8 1558.3)" d="M0 -144l3-3 3-4 3-14 3 6 3-3 4-2 3 1 3 5M31 -153l3-1 3-7 3-5 3-8 3 8 3 1 4 4 3-13 3 7 3 9 3-10 3 14 3 0 3-13 3 8M93 -168l3 4 3-2 3-6 3-7 3 3 3 1 3-9 3 14M145 -185l3-2 3 6 4-9 3-6 3 2 3-5 3-10 3 5 3-4 3-3 3 0 3 1 3-9 4-4 3-19 3-7 3 3 3 12 3-17M216 -265l3-11 4-10 3-19 3 21 3-27 3 9M241 -302l3-38 3 5 3 0 3-7 4-13 3-14 3-6 3-4 3 9 3-13 3-22 3-25 3-5 3 7 3 15 4-8 3-26 3-7 3-14 3-56 3 5 3-43 3-21 3-26 3 31M328 -628l3 7 3-45 3 7 3-42 3-31 3-27 3-37 3-26 3-22 4-20 3 36 3-71 3 49 3-40 3 21 3-37 3 28 3-80 3-28 3-51 4 3 3-29 3-13 3 58 3-62 3 96 3-32 3 46 3-3 3 25 3 20 4-46 3 3M439 -848l3-121 3 44M451 -892l3-30M581 -611l3-5 3 10M661 -403l3 12M723 -387l3 2M779 -355l3-1"/><path transform="translate(752.8 1559.1)" d="M0 -149l3-3 3 0 3-8 3-3 3 2 4 0 3 0 3 6 3 2 3 5 3 3 3-14 3-8 3 5 3-6 3 0 4 3 3-2 3 10 3-8 3 4 3 2 3-4 3 0 3-5 3 7 3-7 4-5 3 12 3-5 3 5 3-13 3 7 3-7 3-4 3 6 3-4 3-4 4-13 3 10 3-2 3 8 3-10 3 14 3-13M145 -178l3-5 3-1 4 0 3-2 3-3 3-6 3 1 3-12 3 0 3 0M185 -211l4-13 3-11 3-11 3 9 3-11 3-7 3 4 3-3 3-4 3-14 3-3 4-5 3-10 3 5 3-18 3 5 3-6 3-4 3-14 3-7 3-12 3 35 4-30 3-25 3-15 3-1 3 18 3-26 3-34 3 17 3-23 3 1 3 18 4-30 3-14 3-2 3-18 3-41 3-6 3-30 3-50 3 31 3-28 3-13 4 4 3-3 3-29 3-16 3-41 3-17 3-61 3 24 3-51 3-23 3 1 4 43 3-87 3-18 3 3 3 43 3-57 3 2 3-22 3-17 3-26 3 2 4-109 3-17 3 53 3-32 3 66M417 -915l3-73 3 70M430 -915l3-57M559 -688l3 1 4-8 3 3 3 22M578 -619l3 17M612 -503l3-21 3 24M661 -385l3-9 4-1 3 8 3 1 3-9 3 12 3-2 3-9 3 18M723 -387l3-3 3 1"/><path transform="translate(755.7 1559.8)" d="M0 -141l3-7 3-3 3-10 3 1 3 2 4 1 3 3 3 4M31 -144l3-5 3-1 3-12 3 2 3 3 3-1 4-8 3 7 3-5 3 6 3-1 3 4 3 3 3-13 3-2 3-3 3 11M102 -160l3-21 3 14M117 -174l4-4 3-1 3 0M142 -176l3-6 3-9 3 14M164 -181l3-14 3-13 3 2 3-9 3 2 3 2 3-11 4 4 3-13 3-4 3-1 3-14 3 4 3 2 3-8 3-2 3-12 3-7 4-6 3-2 3-12 3-1 3 0 3-7 3-1 3-5 3-17 3 9 3-28 4 4 3-4 3-7 3-24 3 3 3-11 3-14 3-6 3-13 3 4 3-19 4-8 3-7 3-25 3-11 3-12 3-20 3 3 3-30 3-32 3-15 3-38 4 38M337 -670l3-59 3-10 3-15 3-11 3-71 3 70 4-59M365 -807l3-61 3-2 3 0 3-27 3 49 3-84 3-28 3-11 4 34 3-60 3 0 3 3M430 -918l3-59 3 66 3-26 3-14 3 32 3 21 3-20 3 56M507 -770l3-4M562 -691l4 19M575 -623l3 27M612 -504l3-13M624 -464l3-9 3 21M723 -377l3-12 3-5 3 5 4 1 3-2 3 11M782 -341l3 2"/><path transform="translate(758.6 1560.6)" d="M0 -147l3 0 3 0 3-7 3 0 3-7 4 12 3-7 3 7 3 1 3 2 3-14 3 5 3-5 3 1 3-2 3 11 4-13 3 12 3-4 3 2 3 2 3 3 3-7 3-3 3 2 3-4 3-8 4 7 3-8 3 5M99 -170l3 8 3-14 3-2 3 4 3-4 3 8 4-7 3-6 3 4 3 0 3-6 3-4 3 4 3 5 3-2 3 0M173 -196l3-23 3 7 3-4 3-2 4-7 3 3 3-8 3-4 3-6 3 2 3-9 3 8M216 -248l3-23 4 0 3-6 3-3 3-13 3-5 3-4 3-6 3-4 3-10 3-10 3 12 4-30 3-4 3-8 3-6 3-14 3 5 3-10 3 1 3-32 3 23 3-51 4 6 3 8 3-14 3-25 3 0 3-47 3-11 3-26 3-46 3-21 3 36 4-11 3-50 3-18 3-9 3-19 3-33 3-20 3 23 3-47 3-24 3-8 4-49 3 25 3-1 3-18 3-33 3-27 3 72 3-61 3-54 3 1 3-24 4 22 3-62 3 24 3 1 3 56 3-9 3 71 3-25 3-25 3-40 3-17M501 -762l3 7 3 4M535 -668l3-25 3 34M553 -688l3 14M562 -681l4 11M621 -483l3 16M714 -387l3-4 3 12 3-7 3-1M754 -361l3-9M776 -341l3-11 3 17"/><path transform="translate(761.5 1561.3)" d="M0 -139l3-4 3-1 3 9 3-4 3-6 4 4 3-1 3 3 3-9 3-3 3-4 3 3 3 1 3-4 3 8M71 -148l3-11 3 3 3-2 3-4 4-1 3 5 3-16 3 6 3 0 3 6 3-6 3 0 3-12 3 14 3-1 4-3 3-13 3 1 3 3 3 2 3 1 3 4 3-5 3-9 3 3M161 -189l3-4 3 3 3-6 3 0 3-12 3-9 3 0 3 0 4-9 3-6 3 8 3-5 3-4 3-2 3-8 3-14 3-1 3 3 3 0 4-13 3 8 3-12 3-20 3 5 3-22 3 4 3 6 3-27 3-3 3 1 4-11 3-3 3-26 3 8 3-6 3 0 3-20 3 3 3-5 3-16 3-25 4-9 3-8 3-13 3 1 3-35 3-3 3-7 3-43 3 18 3-66 3 7 4-51 3-10 3-14 3-36 3-8 3-6 3-12 3-36 3-2 3 8 3-26 4-24 3 2 3-62 3-8 3 32M377 -866l3-16 3-3 3-50 3 23 4-29 3 46 3-36 3-34 3 92 3-45 3 45 3-62 3 52 3-72 3 4M433 -920l3-14M442 -901l3 20M451 -825l3-32 3 53M473 -753l3-10 3 1M504 -712l3-65 3 24M544 -688l3-2 3 4M559 -692l3 36M569 -608l3 1M590 -559l3 35M692 -389l3 7M751 -358l3-13 3 5 3 6 3-10 3 14 4 5 3 1"/><path transform="translate(764.5 1562.1)" d="M0 -142l3 4M9 -139l3-2 3 2 4 0 3 1 3-8 3-2 3-8 3 2 3 6 3-1 3 1 3 1M74 -146l3-4 3-7 3-5 4-2 3 0 3 6 3-7 3 7 3-6 3 3 3-4 3-4 3 5 3-5 4-5 3 1 3-10 3 14 3-5 3 8 3-17 3 1 3-6 3 0 3-1 4 1M170 -190l3-19 3 8 3-15 3 5 3-7 4 8 3-22 3 5 3-1 3-8 3 6 3-14 3-4 3 8 3-19 3-1 4-2 3 1 3-15 3-9 3-1 3-9 3-17 3-2 3 3 3-13 3 8M263 -340l3-18 3-18 3 1 3 8 3-5 3-8 3-32 3-2 4-9 3-15 3-22 3 5 3-10 3-14 3-37 3-15 3-56 3 19 3-3 4-38 3-58 3-5 3 0 3 21 3-33 3-17 3-42 3 23 3-5 3-5 4-26 3-62 3-16 3-15 3-4 3 2 3-23 3 13 3 0 3-27 3-2 4 23 3-41 3-2 3 31 3 9 3 4 3 1 3-4 3-49 3 4 3-35 4 28M442 -856l3 1 3 26 3 3 3 10M513 -751l3 36M541 -665l3-3 3-32 3 37M556 -682l3 42M575 -591l3-1 3 34 3-6 3 9 3 24M606 -508l3-1 3 15 3 4 3 31M630 -427l4-7M689 -383l3-2M702 -381l3-14M714 -382l3 3 3 4M751 -360l3-6 3 5 3-2M773 -337l3-3 3 4 3 3 3 3 3 1 3 1"/><path transform="translate(767.4 1562.8)" d="M0 -140l3 5 3 0 3 2M25 -140l3-15 3 11 3-1 3 5 3-4 3-4 3 0 3-6 4 1 3 14M80 -142l3-15 4-4 3 2 3-7 3 5M114 -161l3-4 4-5 3-1M130 -165l3-8M139 -167l3-1 3-10 3-8 3 2 4-6 3-5 3 3 3 0 3-6 3 1 3-5 3-4 3 3 3-9 3-12 4 10 3 5 3-7 3-7 3 0 3-4 3 2 3-8 3-9 3-1 3-17 4 7 3-9 3-9 3-9 3-7 3-19 3-6 3-7 3 2 3-8 3-18 4-4 3-3 3 5 3-15 3 2 3 11 3-15 3-28 3-6 3-4 3-11 4 18 3-42 3-7 3-3 3-38 3 4 3-7 3-25 3-38 3-22 3-41 4-9 3-22 3 3 3-24 3-5 3-19 3-20 3-19 3 16 3-24 3-5 4-31 3-21 3-6 3-19 3-7 3-33 3 37 3-82 3 38 3 28 3-14 4-10 3 16 3-12 3 16 3-62 3 26 3 30 3-35M442 -818l3-41 3 69 3-12 3-5 3 12 4 26M538 -692l3 37 3-28 3 10 3-14 3 22 3 12 3-19 3 34 4 37M572 -596l3 19 3 1M584 -547l3 24 3-11 3 24 3-9 4-1 3 29M612 -460l3-8 3 2 3 6 3 18M643 -407l3 8 3 8M689 -379l3-15 3 1 3 2 4 14M717 -379l3-13 3 14M751 -358l3-9 3 5 3 7 3-8 3 13 4 9 3 5 3 7"/><path transform="translate(770.3 1563.6)" d="M0 -144l3-6 3 17M28 -146l3 5 3 1 3-3 3-2 3 3 3 5M74 -139l3-5 3 0 3-11 4-10 3 5 3-9 3 10 3-2M108 -158l3-8 3 2 3 2 4-11 3 2 3-1 3 4 3-11 3 9 3 8 3-8 3-10 3-8 3 4 4-1 3-2 3-2M167 -193l3-5 3-2 3 2 3-7 3-8 3 12 4 0 3-2 3-9 3-7 3-1 3-6 3-12 3 0 3 1 3-6 3-4 4-9 3-2 3-9 3 1 3-25 3-4 3 0 3-18 3-13 3-5 3 4 4-11 3 9 3-7 3-6 3 1 3-17 3 2M281 -381l3-8 3-6 4-13 3-13 3-26 3-19 3 1 3-6 3-25 3-17 3-41 3-19 3 40 4-38 3-53 3 14 3-56 3 40 3-46 3-14 3-11 3-7 3-25 3 15 4-13 3-12 3-49 3 38 3-84 3 17 3-17 3 7 3-36 3 39 3 10 4 17 3-4 3-16 3-33 3-27 3 49 3-62M445 -764l3-7 3-5 3 20M522 -703l3 33M538 -616l3-19 3-9 3-5 3-34 3 33 3 28 3 10 3 9 4 3 3 10 3 12 3 14 3-10 3 32 3 18 3-13 3 24 3-9 3 10M615 -447l3-3 3 2 3 6M646 -391l3-14M702 -394l3 9M711 -382l3 6 3-6 3-3 3 6 3-7M751 -353l3-5 3-4 3 14M776 -331l3 6"/><path transform="translate(773.3 1564.3)" d="M0 -137l3 2 3 8 3-6 3-15 3 8M34 -137l3 0 3-3 3-1 3-2 3-9 4 3 3 2 3-5 3 12M74 -140l3-2 3-6 3 4 4-12 3 4 3-11 3 5M108 -153l3-9 3 6 3-12 4-1 3-2 3 9 3-9 3 1 3 8 3-2 3-3 3-7 3-8 3-3 4 0 3-5 3-1 3-6 3 4 3-1 3-8 3-5 3 18 3-12 3-2 4 1 3-7 3-6 3-3 3 8 3-9 3-15 3 16 3-7 3-16 3 15 4-24 3-10 3-8 3-4 3-2 3-23 3 1 3-21 3-3 3 7 3-3 4-6 3-10 3-4 3-5 3-12 3-6 3-25 3 7 3-10 3-24 3 19 4-31 3 3 3-49 3 3 3 4 3-26 3 5 3-34 3-38 3-3 3-2 4-29 3-20 3-6 3-11 3-6M343 -640l3-57 3-15 3 1 3 1 4-5 3-30 3-39 3 2 3-16 3-15 3 31M383 -772l3-38 3 37 4-16 3-40 3 14 3 0 3 17 3-86 3-19M439 -825l3 67 3 13 3-51 3 67M513 -712l3 13 3 26M538 -615l3-21 3 17 3-36 3 36 3-21 3 37 3 14 3-4 4-7 3 33 3-1 3 17 3 30M584 -511l3-3 3-11 3 22M609 -444l3-9 3 12 3-6 3 7M627 -423l3 10M643 -391l3-13 3 19M705 -387l3 10 3-1M717 -384l3-11 3 16 3-10 3 6 3 13 4-9 3 6 3 11M773 -328l3 0"/><path transform="translate(776.2 1565.1)" d="M0 -137l3-4 3 1 3 0 3-2M19 -143l3-5 3 5 3 8 3-2 3 4 3-7 3 6 3-1 3 1 3-9 4-9 3 6 3-4 3 9 3-10 3 4M80 -137l3-6 4-11 3-2 3 2 3-11 3 6 3 2 3 0 3 0 3-2 3 3 3-2 4-5 3-3 3-4 3 7 3-5 3 1 3 3 3-5 3-9 3 1 3-8 4 2 3-5 3 6 3-4 3-9 3 1 3-1 3 3M182 -200l3 4 4-1 3-16 3 12 3-19 3 10 3-11 3 5 3-7 3 4 3-20 3 3 4-4 3-14 3-11 3-9 3 7 3-13 3-4 3-19 3 1 3-1 3 2 4-11 3-4 3-25 3-2 3-16 3-18 3-9 3 6 3 0 3-23 3 8 4-28 3 18 3-41 3-13M306 -481l3-5 3-59 3 21 3-29 3-30 4-2 3-50 3 37 3-57 3-11 3-19 3 39 3-16 3-23 3-34 3 51 4-37 3 0M374 -790l3-28 3 6 3 28M389 -772l4 7 3 2 3-34 3-5 3-58 3-32 3 13M430 -836l3-25 3 40 3 75 3-3 3-24 3 34 3-53 3 38M479 -755l3-27M494 -735l4-35 3 27 3 25M522 -681l3-13 3 0M535 -622l3 1M544 -632l3 4 3 29M559 -566l3-1M584 -500l3-30 3 26 3-8 3 19M606 -460l3 14 3-3 3 12 3-6 3 8 3 20 3-7 3 29 4-22 3 25M683 -370l3-16 3 8M726 -364l3-13 3 0 4 17 3-5 3-2 3 10 3 12M770 -325l3-6 3-4 3 13 3-11 3 3 3 15 3-10"/><path transform="translate(779.1 1565.9)" d="M0 -138l3 0 3 6 3-17 3 1 3 4 4-3 3 12 3-5 3 0 3 11M37 -136l3 12 3-7 3-1 3-3 4-14 3 2 3-1 3-1 3 4M71 -136l3-10 3 16 3-7 3-3 4-9 3-9 3-3 3 2 3 0 3 3 3-1 3 0 3 4 3-1 3-5 4-10 3 7 3-9 3 11 3-4 3 3 3-5 3-2 3-6 3-3 3 4 4-9 3 0 3-3 3-7 3-5 3 3 3 6 3-10 3 0 3 7 3-8 4 6 3-9 3 1 3-8 3 2 3-6 3-4 3 1 3-8 3-1 3-4 4-7 3-12 3-20 3 9 3-14 3-2 3 4 3-21 3-4 3-4 3 7 4-11 3-10 3-28 3-7 3-28 3-2 3 16 3-20 3-5 3-10 3 9 4-22 3-19 3-19 3-38 3 5 3 8 3-33 3-13 3-4 3-16 3-9 4 5 3-59 3 4 3-50 3-9 3 0 3-35 3 44 3-18 3-51 3 39 4-25 3-58 3-25 3-25 3 18 3 19 3-23 3 28M393 -758l3-7 3-13 3-22 3-41 3-82 3 5 3-31M420 -913l3 7M436 -777l3 30 3-20 3 5 3 10 3 4M457 -716l4-61 3 3 3 36 3-41 3 16M491 -713l3-32 4-2 3 22 3 8M513 -696l3 17 3-3 3 52 3-46 3 17 4 38 3 19M584 -528l3 23M609 -428l3-14 3 18 3-5 3 2 3 15 3 6 3-3 4 19 3-3 3 9M683 -378l3-6 3-6M729 -358l3-2 4-5 3-1 3 14M766 -330l4 8 3-3 3-4 3 0 3 1"/><path transform="translate(782.0 1566.6)" d="M0 -137l3 7 3-11 3-4 3-2 3 1 4 8 3-2 3 5 3 1 3-1 3 4 3 2 3 7 3-3 3-11 3-3 4 0 3-8 3 2 3-1 3 0 3 8 3 3 3-2 3 10 3-5 3-7 4-2 3-12 3-11 3 9 3-5 3 4 3 10 3-7 3 1 3 0 3 1 4-3 3-13 3 9 3-7 3 3 3-1 3-2 3-5 3 0 3-7 3 6 4-1 3-5 3-2 3-9 3-7 3 0 3 3 3 4 3-7 3-3 3 3 4-6 3 4 3 2 3-6 3-5M210 -212l3-12 3-3 3-7 4-17 3-2 3-2 3-10 3-7 3 4 3-2 3-7 3-18 3 0 3-4 4 3 3-18 3-37 3-2 3-21 3-1 3 15 3-15 3-1 3 8 3-46 4-11 3-5 3-9 3-8 3-37 3 19 3-52 3-11 3-3 3-11 3-17 4-15 3 6 3-7 3-41 3-33 3 7M349 -660l3-28 3-2 4-3 3-16 3-65 3-4 3 4 3 6 3-14 3-6M393 -760l3 8 3-71 3-13 3-18 3-59 3-28 3 36 3 60 3-72 3 39 4 33 3 21 3 53 3 45M442 -726l3 0 3-55 3 12 3 22 3 3 4-7M470 -763l3-9 3 25M495 -714l3 7 3-10 3 3 3 52M522 -650l3 0 3 54 4-18 3-8 3-2 3 7 3 17 3-22 3 58 3-13M593 -495l3 9 4 27M612 -423l3-14 3 17 3 7 3-11 3 29 3 8 4-1M643 -396l3 5M652 -391l3 6 3-7 3 4 3-6 4-1 3-7 3 23M686 -384l3-14 3 17M732 -353l4-11 3 11 3-1 3 8M766 -328l4 2 3-2 3 0 3 4 3 1 3 4"/><path transform="translate(785.0 1567.4)" d="M0 -125l3-9 3-7 3-2 3-4 3 4 4 7 3 7 3-4 3 6 3-9 3 12 3-6 3 3 3-2 3-1 3-2 4-4 3-3 3 5 3 1 3-4 3 6 3-1M77 -141l3 7 3-6 4-5 3-8 3 3 3 7 3-4 3-11 3 2 3 5 3-3 3 5 3-8 4-1 3 7 3-11 3 5 3 0 3-4 3 10 3-19 3 3 3-5 3 0 4 5 3-6 3-7 3-5 3-7 3 1 3 15 3-13 3-5 3 6 3 0 4-3 3-8 3 3 3-11 3-5 3-7 3 7 3-9 3 4 3-8 3-16 4-1 3-2 3 2 3-3 3-14 3-15 3 9 3-13 3-8 3-13 3 1 4 0 3-25 3-4 3-31 3-3 3 2 3-26 3 20 3-17 3-9 3-25 4 12 3-28 3-7 3-15 3 6 3-36 3-23 3-3 3-10 3-6 3-28 4 18 3-14 3-59 3-25 3-28 3-16 3 8M349 -668l3-3M359 -661l3-90 3 14 3 0 3-22 3 19 3-68 3 36 3 7M396 -738l3-53 3-31 3-41 3-2 3-52 3-10 3 51 3 43 3 10 4 12 3 39M436 -726l3-13 3 45 3-1 3-65 3 32 3-26 3 12 4-39 3 27 3-30 3 37M476 -755l3 3M491 -715l3 18 4 19 3 23 3-20 3-17 3 6 3 37 3 20 3-27 3 11 3 34 3 8M535 -612l3-1 3 1M559 -545l3-4 4 10 3 2 3-11 3 47 3-5 3 9M593 -472l3 14 4 11M609 -420l3-1 3 20 3-20 3 22 3 5M634 -394l3-5 3 7M658 -383l3-9 3-1 4 16 3-8 3-3 3 12 3 9 3-24 3 3 3-2M736 -353l3 2 3-1 3-4"/><path transform="translate(787.9 1568.1)" d="M0 -128l3-1 3-4 3-6 3-4 3 7 4 8 3 2 3 3 3-3 3-2 3 2 3 4 3-4 3-7 3 2 3 2 4-9 3 3 3 3 3-8 3 6 3 3 3-4 3-3 3 3 3 1 3-3 4-5 3 2 3-8 3 9 3-3 3-3 3 4 3-5 3 0 3 5 3-3 4-7 3-4 3 4 3-3 3-1 3 6 3-9 3 1 3-14 3 2 3 5 4-1 3-6 3 2 3-15 3 4 3 4 3-5 3-11 3 8 3-4 3 0 4-4 3-2 3-6 3-8 3 1 3-9 3-3 3 4 3-11 3 2 3-7 4 5 3-12 3-9 3-12 3 0 3-10 3 3 3-16 3-4 3-7 3-6 4 2 3-11 3-16 3-18 3-2 3-4 3-20 3-7 3-4 3-17 3-7 4-19 3-3 3 5 3-47 3 0 3 1 3-26 3-8 3-10 3-49 3 6 4 25 3-31 3-43 3-26 3-32 3-13 3-5 3 13 3-5 3-20 3-21 4 5 3-13 3 16 3-61 3 24 3 13 3-20 3-23 3 13 3 8M393 -739l3-25 3-7 3-59 3 25 3-64 3 22M423 -794l4 29M442 -707l3-20 3-31 3 35 3 0 3-10M473 -760l3 15M482 -764l3 38 3 19 3 17M501 -659l3-14M528 -604l4-4M575 -500l3-5M590 -473l3 10 3 30 4-13 3 19 3 15 3 0 3 0 3 14M621 -388l3-7 3 9 3-10 4 19 3-21 3 14M658 -372l3-16 3 3 4-2 3 14 3-3 3-3 3 1 3 5 3-20 3-1 3 25 3-12 3-3M736 -350l3 3 3-3 3-6M773 -325l3-6 3 19"/><path transform="translate(790.8 1568.9)" d="M0 -118l3-11 3-9 3 7 3 5 3-4 4 9 3-2 3 3 3 6 3-6 3-9 3 7 3-10 3 6 3 1 3-8 4-1 3 7 3 1 3-3 3 0 3-5 3 6 3-10 3 6 3 0 3 2 4-9 3-2 3 2 3-3 3 1 3 0 3-2 3-1 3 7 3-11 3 0 4 3 3-5 3 2 3-7 3 3 3-2 3-6 3-1 3 6 3-7 3-8 4 14 3-8 3-11 3-6 3 0 3 6 3 7 3-5 3-1 3-5 3-3 4-8 3 2M198 -206l3-7 3-5 3 5 3-5 3 10 3-20 3 10 4-19 3-10 3-5 3-1 3-12 3-1 3-8 3-3 3-5 3-6 3-3 4-5 3-9 3 0 3-23 3 4 3-24 3 0 3-23 3 3 3-14 3-28 4 4 3-10 3-12 3-5 3-5 3-41 3 29 3-19 3-30 3-30 3-11 4 41 3-76 3 0 3 3 3-47 3-9 3-14 3-29 3-27 3-1 3 4 4 26 3-9 3-43 3 31 3 2 3 13 3-34 3-13 3-17 3-26 3 55M396 -731l3-41 3-33 3-72 3 34 3-5 3 10M448 -701l3-29 3 3 3-35 4 19 3 10 3-29M473 -734l3-32 3 16 3 32 3-11 3 45M513 -620l3-1 3 22 3-25 3 22M562 -515l4 3M572 -502l3-2 3-10 3 25M596 -426l4-1 3-2 3 24M624 -382l3-3M655 -377l3-1 3-7 3 10 4-8 3 4M677 -384l3 7 3-7 3 6 3-8 3 18M698 -379l4-21 3 25M732 -347l4-6 3 3 3-1 3-6 3 26"/><path transform="translate(793.8 1569.6)" d="M0 -121l3-9 3 7 3-4 3 1 3 2 4-4 3 11 3-1 3 3 3 3 3-13 3 2 3-1M46 -123l3 1 4-5 3 7 3-8 3-1 3 3 3 1 3-6 3 1 3 2 3-2 3-1 4-9 3 4 3 3 3-6 3-2 3-3 3 4M114 -139l3-5 4 3 3-1 3-2 3-6 3-4 3 3 3-6 3 2 3-1 3-3 3-9 4 6 3 3 3-3 3-13 3 2 3 7 3-7 3 7 3-7 3 1 3-14 4-6 3-9 3-8 3 0 3 1 3-8 3 11 3-8 3-1 3-3 3-2 4-10 3-14 3-10 3-6 3 0 3-1 3-10 3 4 3-13 3-3 3 2 4-4 3-2 3-2 3-18 3 5 3-42 3 3 3-24 3-7 3-3 3-41 4 28 3-31 3 4 3-1 3-10 3-24 3 16 3-27 3-17 3-11 3-10 4-21 3-26 3-16 3-36 3 10 3-38 3-11 3-28 3 11 3-36 3 54 4 10 3-20 3-15 3-57 3 38 3-4 3 3 3-45 3 41 3-65 3 8 4 4 3-27 3 19 3-42 3-46 3 20 3-1 3-16 3 36 3 26 3 69 4-42 3 43M445 -680l3-28M513 -613l3-12 3 47 3-24 3 6 3-14 4-4M566 -492l3-25 3 28M578 -497l3-8 3 25M661 -372l3-6M671 -376l3-4 3-2 3 6 3-11M695 -386l3-2 4 7 3-7M720 -359l3-3 3 7M736 -342l3-13 3 7 3 9"/><path transform="translate(796.7 1570.4)" d="M0 -117l3-5 3 1 3 3 3-5 3 9 4-3 3 0 3 10 3-1 3-10 3 1 3-9 3 1 3 1 3 3 3 5 4-7 3 1 3 2 3-3 3-5 3 8 3-4 3 0 3 0 3-6 3 1 4-10 3 3 3 3 3-1M102 -140l3-3 3 2 3-2 3 3 3 6 4-2 3-5 3 2 3-5 3-3 3-2 3 0 3-9 3-2 3-6 3 10 4 0 3-3 3-10 3 4 3 1 3-5 3 10 3-6 3-11 3 4 3-12 4-6 3 0 3-7 3-8 3 8 3-3 3-5 3 0 3-3 3-5 3 5 4-13 3-9 3-19 3-3 3-2 3 1 3-11 3-2 3 8 3-11 3-10 4 16 3-6 3-21 3-21 3-19 3-15 3 23 3-34 3-10 3 4 3-8 4-24 3-19 3-15 3 14 3-21 3 3 3-14 3-4 3-10 3-11 3-27 4-25 3 20 3-30 3-2 3-24 3-28 3-1 3-44 3-41 3 41 3-12 4 20 3-6 3-39 3 25 3-12 3 13 3-37 3 12 3-63 3-7 3-2 4-24 3 40 3-46 3-38 3 43 3-60 3 27 3 30 3 37 3-22 3 20 4 49M433 -698l3-30M445 -703l3-12 3-18 3-22M482 -686l3 2 3 17M495 -655l3-35 3 20M510 -610l3 8M569 -496l3 2 3-8 3 13 3 22 3 15 3-2 3 15 3 16M637 -395l3 10M658 -376l3-1M677 -378l3-7M686 -374l3-15M698 -381l4-4 3 9M717 -361l3 0 3 8 3 0 3 5 3 6 4-5 3-2 3 9 3 6"/><path transform="translate(799.6 1571.1)" d="M0 -109l3-8 3-5 3 2 3 4M22 -107l3-6 3 2 3-2 3-2 3-1 3-3 3 3 3-3 3-2 4 2 3 0 3-4 3 7 3-5 3-1 3 1 3 3 3-6 3-5 3-3 4-1 3 1 3-6 3 0 3-3 3 0 3-2 3 1 3 3 3 3 3-3 4 5 3-5 3 2 3-6 3-4 3 1 3-2 3-7 3-4 3 1 3-5 4 9 3 0 3-5 3-6 3 1 3 5 3-3 3-1 3-6 3-9 3 2 4-11 3-10 3 2 3 7 3-4 3-6 3-3 3-2 3 4 3-15 3 11 4-10 3-16 3-8 3-7 3 12 3-5 3-18 3-3 3-3 3-6 3 8 4-9 3-21 3 4 3-18 3-3 3-15 3-23 3-7 3-5 3-8 3-20 4-12 3-14 3-1 3-26 3 24 3-16 3 6 3-9 3-25 3-14 3 12 4-29 3-35 3-4 3 10M340 -553l3-68 3 36 3-40 3 53M374 -619l3-50 3-43 3 66 3-55 3-41 4-4M402 -760l3-19 3 28 3 8 3 8 3-19 3 45 3-4 4-3M442 -683l3-14 3-19 3-51 3 13 3 3 4 15M473 -740l3 57 3-12 3 21 3 11 3-7 3 10 3 10 4-16 3 10 3 13M528 -591l4 0 3 21M547 -509l3-32 3 29M584 -450l3 6 3 26 3 0 3 4M621 -377l3-21 3 7M634 -401l3 25 3-4 3-15 3 19M655 -379l3 5 3-12 3 11M677 -378l3-5 3 6 3-3 3-15 3 14 3-10 3 15 4-7 3 12M732 -341l4-7 3 16 3-8 3 2 3 12M788 -300l3 4"/><path transform="translate(802.5 1571.9)" d="M0 -112l3-3 3 6 3-6 3-2 3 7 4 0 3 5 3-1 3-5 3 2 3-10 3 2 3-4 3 4 3 3 3-3M59 -114l3-2 3-2 3-5 3 6M83 -128l4 2 3-6 3-7 3 3 3-1 3-2 3-4 3-1 3 11 3 0 3 1 4-4 3-1 3 0 3-5 3 4 3-11 3 5 3-9 3-2 3 2 3-6 4 5 3 0 3-7 3 5 3-11 3 4 3 1 3-1 3-11 3 1 3-14 4-3 3 1 3 7 3-8 3-6 3-1 3-4 3 1 3-7 3-2 3 2 4-14 3 0 3 5 3-16 3-5 3-2 3-6 3-13 3-4 3 1M257 -257l3-25 3-2 3-14 3-18 3 1 3-17 3 4 3-30 3-1 3-13 4 1 3-23 3-24 3-9 3 0 3 15 3-4 3-24 3-10 3-3 3-15 4-12 3-46 3 3 3-17 3-40 3 16 3-35 3 18 3-20 3-10 3 7 4-7 3-8M371 -631l3-21 3-17M386 -670l3-84 4 5 3-71 3 28 3 45 3-3 3 12 3 19 3 37 3-26 3-7 3 2 4-1M448 -712l3-40 3 21 3-29M482 -664l3 5M498 -654l3 8 3 35 3 15 3-8 3-13 3 38 3-15M525 -567l3-32 4 38M600 -400l3-3M618 -391l3 3 3-1 3-18 3 9 4 13 3 1 3 10M658 -374l3 3 3-9 4-6M674 -376l3-2 3 0 3-1 3 1M723 -348l3-8 3 10 3 9 4 1 3 8 3-4 3 8 3-10 3 6M785 -302l3 6 3-1"/><path transform="translate(805.5 1572.7)" d="M0 -105l3 0 3 0 3-5 3-1 3 8M22 -103l3-11 3 1 3 2 3 2 3-9 3 6 3-10 3 5 3-4 4 0 3 7 3-3 3 1 3-6 3 4M77 -125l3-3 3 1 4 1 3-3 3 0 3-7 3 4 3-7 3 3 3 7 3-4 3 3 3-4 4 3 3-5 3 2 3-2 3 1 3-8 3-1 3-2 3-1 3-2 3 1 4-3 3-9 3-3 3 5M170 -161l3-2 3-2 3-3 3-7 3-5 4-6 3 3 3-2 3-11 3 2 3-11 3 6 3-5 3-5 3 10 3-5 4-12 3 3 3-10 3-10 3 3 3-10 3-9 3-7 3-1 3-11 3 5 4-2 3-13 3-12 3-19 3 2 3-3 3-8 3-29 3 8 3-25 3-6 4-6 3-15 3-11 3-6 3 16 3-45 3 30 3-46 3 7 3-5 3-27 4-25 3-11 3-21 3-17 3-15 3-2 3-25 3 41 3-26 3-20 3 39 4-75 3 5 3 6 3-6 3 12 3-43 3-4 3-32 3 18 3-8 3-76 4-12 3 51 3-19 3 12 3 12 3 19 3 29 3-1 3-39 3 8 3-10 4 15M433 -719l3 25M448 -715l3-27 3-8 3 7 4 10 3 35M479 -661l3 16M488 -647l3-6 3-5 4 22 3 20M510 -593l3-3 3 14M522 -607l3 29M544 -512l3-21 3 20M556 -495l3-2M578 -441l3 6M627 -390l3 16M637 -370l3-22 3 32M661 -379l3-4M671 -380l3 10M683 -385l3-3M695 -378l3 10M736 -322l3-2 3-5 3-1 3-6 3 7 3 2M782 -300l3 5 3 2"/><path transform="translate(808.4 1573.4)" d="M0 -105l3 7 3-4 3-4 3 2 3-1M22 -106l3-8 3 9 3 0 3-8 3-3 3 0 3-1 3-3 3 2 4 0 3 4 3 0 3-6 3 0 3-6 3-3 3 5 3 1 3 0 3-1 4 3 3-14 3-1 3 2 3 4 3 3 3-6 3 5 3-2 3-1 3 2 4-6 3 7 3-4 3 0 3-9 3 0 3 4 3-15 3 2 3 5 3 7 4-12 3 1 3-12 3 0 3-4 3 7 3-10 3-3 3 4 3 1 3-8M198 -190l3-7 3 13M213 -203l3-1 3 4 4-8 3-2 3-14 3-4 3-7 3-4 3-8 3-6 3 1 3-7 3-6 4 6 3-12 3-14 3-8 3-11 3-13 3 7 3-21 3-12 3-7 3-11 4-6 3-33 3 11 3-15M306 -400l3-23 3-12 3-18 3 0 3-34 4-4 3-10 3-25 3-8 3-17 3-8 3-20 3 18 3 15 3-22 3 14 4-47 3-25 3 12 3-14 3-16 3 3 3-5M386 -700l3-30 4 12 3-5 3 28 3-3 3 32 3-22 3 55M417 -668l3-11 3-39 4-11 3-6 3 46M442 -699l3-25 3 22 3 4 3 10 3 21 4-48 3-25 3 67 3-15M476 -657l3 16 3-38 3 24 3 19 3 14 3-14M510 -587l3 1 3-25 3 7 3 22 3 11 3-6 4 16M544 -505l3 6 3-29 3 34 3-5 3 5M575 -459l3 25 3 1M590 -408l3 0M606 -383l3-4 3-8 3 9 3-11 3 9 3 18 3-22 3 6 4 7 3 1 3 0 3 0 3-10 3 31 3-16 3 0 3-1 3-11 3 8 4-10 3 19 3-16 3 12M695 -364l3-9 4 9M708 -344l3-15 3 7M723 -346l3 3 3 10 3 6 4 7 3-16 3 12 3-7 3 1 3 1 3-4 3 11M779 -300l3 6"/><path transform="translate(811.3 1574.2)" d="M0 -101l3 2 3-3 3-1 3-5 3-2 4 4 3-8 3 10 3 6 3-3 3-5 3-4 3-1 3-5 3 4 3-1 4-2 3 3 3-1 3-4 3 2 3-4 3-1M77 -122l3 1 3-1 4-2 3-2 3-2 3-1 3 0 3-2 3 2 3-3 3 11 3-8 3 3 4 2 3 1 3-10 3 0 3-8 3 7 3-10 3 2 3-3 3-5 3 7 4-1 3-6 3-3 3 0 3-1 3-7 3-5 3-2 3 1 3-7 3-3 4-9 3 2 3-6 3 1 3-4 3 4 3-13 3-3 3 11 3-2 3-2 4-2 3-3 3-11 3-13 3-1 3-1 3-3 3-19 3 5 3-15 3 12 4-15 3-6 3-14 3-13 3-1 3-21 3-9 3 0 3-15 3-1 3-12 4-26 3 9 3-23 3-8 3 23M309 -394l3-47 3 5 3-6 3-32 4 7 3-25 3 6 3-12 3-47 3 17 3-19 3 11 3-42 3 25 3-23 4-39 3 6 3-18 3-9 3 7 3-10 3-44 3 30M389 -665l4-62 3 33 3 12 3-4 3 36 3-7M417 -651l3-39 3-12 4 23 3-19 3 4 3-20 3-16 3 21 3-1 3 15 3 27 3-39 3 32M464 -667l3-11 3 8 3 29 3 18 3-22 3 23 3-22 3 39M504 -576l3-3 3 19 3-25 3 5 3 4 3-4 3 26 3-19M547 -466l3-35 3 9 3-5 3 1 3-4 4 37M581 -414l3 3M612 -382l3-3 3 9 3-17 3 29M630 -379l4 5 3 0 3 2 3-1 3 10 3-13 3 3 3-11 3 10 3-20 3 24M671 -385l3 16M683 -390l3 3M692 -360l3-2 3 0 4 2M723 -340l3 6M736 -321l3-4 3 0 3 0 3-4 3-5 3 8 3-3 3 9M782 -292l3 0"/><path transform="translate(814.3 1574.9)" d="M0 -95l3 0 3-6 3 2 3-8 3-2 4 1 3 0 3 8 3 0 3 2 3-5 3-1 3-3 3-8 3 6 3 1 4-2 3 4 3-4 3-1 3-5 3-4 3-4 3-1 3 5 3 2 3 1 4-4 3-5 3 3 3 1 3-3 3 0 3 3 3-6 3-4 3 8 3-2 4 2 3-5 3 5 3-12 3 0 3-5 3-2 3 0M148 -146l3 2 4 4 3-10 3-6 3-5 3 8 3-8 3-9 3 4 3-6 3 5 3-2 4-5 3-3 3-13 3 2 3-2 3 4M210 -187l3-12 3 1 3 3 4-6 3-9 3-5 3 6 3-8 3-11 3-9 3 2 3-9 3-9 3 6 4 6 3-25 3-9 3-16 3 0 3-5 3-17 3-15 3-11 3 1 3-29 4 14 3-16 3-22 3-2 3 19 3-15 3-38 3-2 3 8 3-38 3 17 4-28 3 10 3-30 3-17 3-18 3-13 3 4 3 11 3-24 3-8 3-10 4-13 3-43 3-10 3 2 3-8 3-7 3-60 3 5 3 23M389 -665l4 2 3 35 3-25 3 19 3-10 3-46 3 42M427 -662l3-30 3 36 3-10 3-7 3 22 3-46 3 16 3 23M467 -653l3-10 3 32M488 -624l3-6 3 31 4 15 3-22 3 46 3 0 3-1 3 29 3-19 3-21 3 15 3-5 3-10 4 42M547 -472l3-14 3-13 3-11 3 42 3-9 4-1 3 26 3 20 3 4 3 23 3-8 3 0 3 14M609 -381l3-5M646 -374l3 13M655 -373l3-12 3-1 3 14M671 -370l3-17 3-3M702 -360l3 6M720 -339l3 3 3 7 3 8 3-3 4 2 3-3 3 1M751 -322l3-2 3-4 3 7 3 3 3 8M776 -294l3-2 3 5 3 0 3 7 3 0"/><path transform="translate(817.2 1575.7)" d="M0 -96l3 0 3 7 3-5 3-11 3-1 4 5 3 4 3 2 3 1 3-5 3 0 3-3 3 0 3-5 3-2 3 6 4-1 3-2 3-5 3 0 3 2 3-1 3 1 3-8 3 4 3 1 3-8 4 0 3 0 3 4 3 2 3-6 3-3 3 0 3-2 3-2 3 2M124 -124l3-1 3 5 3-16 3-7 3 1 3-3 3 0 3 4 3-8 4 5 3-2 3-12 3 14 3-6 3-8 3-5 3-7 3 2 3 2 3-5 4-4 3-1 3-5 3-13 3 8 3-7 3 9 3-9 3 5 3 0 3-3 4-9 3 1 3-10 3-3 3-2 3-9 3 2 3-12 3-1 3-3 3-11 4-6 3-9 3-9 3-8 3-1 3-37 3 10 3 2 3-31 3-14 3-6 4-9 3 3 3-13 3-3 3-21 3 17 3-18 3-10 3-39 3 9 3-15 4 9 3-9 3-6 3-31 3 8 3-47 3 25 3-30 3 3 3 5 3-31 4-16 3 7 3-24 3 2 3-50 3-14 3-44 3 26M399 -608l3-16 3-29 3-45 3 51M423 -657l4-30 3 23 3 14M439 -657l3-19 3 10 3-9 3 2M476 -624l3 1M485 -600l3-15 3 29 3-7 4 11 3 32M519 -547l3 9 3 0 3-17 4 36M550 -477l3 3 3-13 3 24 3-15 4 23 3 31 3-12 3 13 3 18 3-2 3-2 3 6 3 6M609 -384l3-1 3 10 3 0 3-3M637 -364l3-10 3 1 3 8 3 0 3-3M661 -363l3-24 4 18M677 -398l3 12 3 10 3 8 3 10 3 0 3-3 3 0 4 13M714 -348l3 4 3 8 3 8 3 1 3 9M739 -322l3-4 3 3 3-6 3 8 3-3 3 0 3 3 3 8 3 4 4 3M779 -285l3-7 3 5 3 3 3 5"/><path transform="translate(820.1 1576.4)" d="M0 -89l3-2 3-7 3 2 3-10 3 8 4 2 3 1 3-1M43 -96l3-5 3-4 4-4 3 0 3 9 3-7 3 1 3-7 3 2 3-5 3 8 3-1 3-9 4-1 3 4 3 4 3 0 3-6 3-5 3-1 3-5 3 2M124 -121l3-4 3-1 3-5 3-4 3-4 3-3 3 0 3-1 3-1 4-5 3 0 3 5 3-5 3 3 3-5 3-11 3 1 3-2 3 1 3-6 4-2 3-6 3-3 3-4 3-6 3 0 3 3 3-12 3 13 3-15 3 5 4-10 3 0 3 0 3-13 3 1 3-8 3-6 3 1 3-2 3-11 3-10 4 13 3-32 3 6 3-12 3-8 3-9 3-15 3-4 3-8 3-10 3-12 4-12 3 6 3-28 3 8 3-17 3 7 3 1 3-43 3 7 3-7 3-4M334 -477l3-5 3-7 3-2 3-11 3-38 3-19 3 39 4-52 3-4 3-30 3 14 3-31 3-32 3 0 3-18 3-4 3 30 3 10 4 2 3 49 3-31 3-7 3-9 3-27 3-20 3 3 3 15 3-10 3 22 4-1 3 8M436 -665l3 38M464 -648l3 7 3 20M491 -552l3-18 4 32 3-22 3 9 3 6 3 33 3-30 3 3 3 14 3-20 3 29 3-20 4 22 3 24M575 -398l3-11 3 1 3 13 3-10 3 19 3-20 3 21M621 -378l3 3 3-1 3 9M646 -364l3-4 3-8 3 8 3 1 3-13 3 7 4-8 3-7 3-2 3 8 3 6 3 20M695 -353l3 3 4-10M708 -356l3 12M717 -327l3-4 3 3 3 11M739 -322l3-8 3 3 3 11 3-6 3 7 3 1 3 1 3 6 3-2 4 15M779 -283l3-2 3 0 3 4 3 4"/><path transform="translate(823.0 1577.2)" d="M0 -89l3 1 3-4 3-7 3 2 3 2 4-2 3 3M31 -99l3 1 3-1 3 5 3-3 3-6 3 6 4-11 3 9M65 -99l3-4 3-9 3 4 3-1 3 1 3 4 4-5 3-11 3 7 3-1 3 9 3-11 3-5 3-5 3-2 3 2 3 2 4 1 3 4 3-6 3 0 3-5 3-3 3 1 3-10 3 9 3-5 3-6 4-2 3-1 3 2 3-4 3 4 3-7 3-8 3-4 3-3 3 7 3-4 4-10 3 1 3-2 3 1 3-8 3 2 3-9 3 2 3 7 3-8 3-8 4-10 3-2 3 0 3 4 3-9 3-9 3-1 3-6 3-1 3-5 3-9 4-17 3 7 3-9 3-2 3-13 3 0 3-30 3-25 3 16 3-9 3 0 4-24 3-17 3 7 3-8 3-22 3 18 3-29 3-1 3-5 3-22 3-25 4-6 3-6 3-7 3 0 3-6 3 3 3-36 3 20 3-21 3-46 3 10 4-15 3 1 3-54 3 26 3-15 3-26 3-5 3-35 3 45 3 17 3 21 4-30 3 23 3-47 3 19 3-11 3-18 3 25 3-68 3 47 3-6 3 23 4-16 3-2M442 -636l3-57 3-2 3 15 3 14 3-10M464 -607l3-31 3 1 3 20 3-28 3 17 3 34 3-8 3 37 3 2 3 9 4 8 3 15 3 18 3-43 3 37 3-4 3-3 3 24 3-15 3 8 3 1 4 12 3 3 3 13 3 8M569 -412l3 6 3 3 3-5 3 7 3 1 3 0 3 27 3-1 3-14 4 12M618 -368l3-5 3 4 3-3 3 6M637 -360l3-11M661 -375l3-9 4 9 3-17 3 10 3-6 3 32M692 -347l3 2 3-13 4 8M729 -319l3-13M739 -319l3-6 3 5 3 1 3-3 3 11 3 1 3 2 3 0 3 11 4 2 3 5 3 7 3-1M785 -281l3 3"/><path transform="translate(826.0 1577.9)" d="M0 -85l3-6 3-3 3 1 3-2 3-1 4 1 3-6 3 4 3-4 3 5 3 2 3-4 3 4 3-2 3-4 3 1 4-4 3 0 3 3 3 1M68 -103l3-3 3 3 3 0 3-5 3-7 4 0 3 2 3 3 3-1 3-3 3-8 3 1 3-7 3 2 3-1 3 5 4 1 3-6 3 4M133 -124l3-10 3 0 3 1 3-4 3-8 3 4 4-5 3 3 3-5 3 4 3-3 3 1 3-8 3-5 3 4 3-8 3 3 4-5 3 3 3-4 3-8 3-8 3 6 3-6 3 4 3-1 3-16 3-5 4-3 3 0 3-6 3 2 3 1M244 -221l3-8 3 5 3-15 4-10 3 2 3-9 3-17 3-12 3-1 3-4 3-14 3-11 3-13 3-15 4 5 3-11 3-7 3-15 3 22 3-24 3-4 3-25 3-2 3-29 3-23 4 19 3-1 3-8 3-20 3 12 3-25 3 0 3-25 3-13 3-29 3 1 4 35 3-58 3-9 3-10 3-35 3-9 3-4 3 8 3 11 3 21 3-6 4 37 3-47 3-7 3 5 3-30 3-19 3-2 3 18 3 14M442 -632l3-26 3-7 3 6 3-13 3 29M476 -581l3-20 3 30 3 7 3 6 3 25 4-2 3 31 3-31 3 20 3 4 3-5 3-15 3 19 3 1 3 8 3 11 3-11 4 21M572 -391l3 2 3-7 3 4M587 -387l3 0 3 9 3-7 4 7 3-11M621 -357l3-13 3 3 3-2 4-4 3 16M661 -369l3 1 4-24 3 17 3-3 3 20 3 2 3 6 3-5 3 5 3 7 3-5M720 -316l3-8M745 -311l3-4 3 5 3 2 3 0 3 6 3 7 3 4 4 5 3-1 3 5"/><path transform="translate(828.9 1578.7)" d="M0 -83l3-9 3 6 3 2 3-7 3 3 4-4 3-5 3 0 3 2 3-5 3 5 3 3 3-3 3-1 3-4 3 1 4-3 3-3 3 8M65 -101l3-1 3 1 3-2 3-3 3-3 3 3 4-4 3 1 3 1 3 2 3-5 3 1 3-5 3-6 3 3 3-3 3-1 4-4 3 0 3-1 3 0 3-3 3 3 3 3 3-11 3-1 3-8 3 2 4-4 3 1 3 1M170 -141l3-13 3 4 3-6 3 5 3-9 4-1 3 0 3-4 3 2 3-9 3 1 3-15 3 17 3-14 3-5 3-8 4-4 3-6 3 9 3-12 3-2 3-2 3-15 3 7 3-4 3-1 3-3 4-2 3-16 3-6 3-2 3-10 3-12 3-15 3-11 3-2 3-4 3-16 4-23 3 15 3-16 3-7 3 3 3-13 3-6 3-23 3-3 3-17 3-13 4-8 3-8 3 3 3-4 3-19 3-13 3 0 3-19 3-17 3-9 3-25 4 12 3-49 3-5 3 25 3-16 3-7 3-8 3 16 3-5 3 7 3 24 4-28 3 8 3-3 3-45 3 5 3-51 3 41 3-11 3-23 3 32 3-23 4-7 3 18M436 -629l3-13 3 2 3-26 3 26 3-29 3 20 3 36M464 -625l3 5M476 -560l3-28 3 41M488 -543l3 14 3-13 4 22M504 -523l3 9 3 28 3-37 3 31 3-8M525 -488l3 4 4 27 3-28 3 11M544 -472l3-4 3 22M575 -377l3-5 3-16 3 19 3-3 3 10 3-7 3-5M606 -378l3-1M627 -361l3-5 4 0 3 5M643 -375l3 2M655 -366l3-3 3 5 3-10 4 7M674 -358l3-4 3 20 3-9 3 3M732 -318l4-1 3 3 3 8 3 2 3-3 3 9 3-4 3 5 3 7 3-3 3 7 4 6 3 1 3-7 3 5 3 5 3 2 3 4 3 4"/><path transform="translate(831.8 1579.4)" d="M0 -80l3-5 3 0 3 1 3-6 3-3 4 9 3-5 3-1 3-8 3 10 3-3 3 4 3 0 3-9 3 1 3 1 4-2 3-4 3-4 3 4 3-2 3 4 3-2 3-1 3 2 3-10 3 4 4-3 3 2 3-4 3 6 3-5 3-3 3-2 3-6 3 6 3-6 3 1 4-4 3 2 3-5 3-3 3 6 3 0 3-1 3-5 3-6 3 4 3-4 4-7 3-5 3-6 3 9 3 0 3-3 3 6 3-11 3 1 3-1 3-2 4-1M195 -160l3-7 3 4 3-7 3 2 3-5 3-5 3-7 3-2 4-3 3-10 3 13 3-16 3-9 3 10 3-16 3 4 3-5 3 2 3-21 4 0 3-11 3-4 3-5 3-12 3 1 3-15 3-16 3-9 3-1 3-8 4 2 3-27 3 7 3-9 3-21 3 9 3-13 3 22 3-36 3-13 3-12 4-22 3-4 3 0 3-12 3-6 3-9 3-13 3-18 3 0 3-28 3 20 4-39 3 2 3-4 3-31 3-4 3 16 3-6 3 20 3-21 3 2 3 9 4-13 3-4 3-2 3-23 3-22 3-18 3 73 3-36 3-35 3-5 3-16 4 13M433 -646l3 29 3-24 3-29 3 49 3-32 3 28 3-10 3 20 4-18 3 16 3 3 3 19 3 14 3 20M501 -507l3 3 3 4M528 -464l4-5M544 -469l3 11 3 6 3 22 3 14M572 -366l3-20 3-9 3 21 3-15 3 18 3-17 3 9 3-6 4-3 3 13 3-1M624 -363l3 5 3-4 4-4 3-3 3-3 3 0M668 -364l3 10M677 -344l3-1 3-6 3 3 3 4 3-14 3 11M751 -304l3 3 3 11 3 6 3-2 3 4 4-1 3 2 3 2 3 0 3 4 3 1 3 6"/><path transform="translate(834.8 1580.2)" d="M0 -79l3-7 3 9 3-5 3-1 3-2 4-1 3 3 3-3 3-1 3 5 3-6 3 4 3-6 3 1 3 0 3-7 4-3 3 4 3-5 3 2 3-1 3-1 3 6 3-4 3-2 3-4 3-2 4 7 3-5 3 0 3-1 3 1 3-6 3-4 3-2 3-3 3 0 3 3 4-4 3-1 3 0 3 4 3 0 3-6 3-2 3 0 3 2 3-7 3 0 4-12 3 2 3 0 3-8 3 11 3-4 3-5 3-4 3 1 3-1 3-5 4 1 3-6 3 1 3-1 3 0 3-1 3-6 3-6 3-4 3-2 3-6 4 2 3-2 3-4 3-13 3-10 3 0 3 1 3 3 3-6 3-15 3-12 4 2 3 3 3-14 3-21 3 6 3-4 3-12 3-16 3 2 3 3 3-13 4-13 3 1 3 5 3-30 3-8 3 11 3 0 3-33 3-6 3-9 3-25 4 3 3 15 3-37 3 2 3-27 3-18 3 7 3-22 3-22 3 7 3-2 4-17 3-1 3-41 3 10 3 16 3-13 3-13 3 33 3-23 3 37 3-16 4-14 3-23M402 -563l3-32 3-17 3 0 3 22 3-17 3-19 3-16 4-14 3 1M436 -644l3 14 3-18 3 16 3-27 3 43 3 1M464 -603l3-6 3 52M485 -531l3-7 3 21M498 -529l3 26 3 8 3-25 3 36M519 -477l3 4 3-5 3 18M535 -466l3-13 3 15 3 9 3 5 3 21 3 6M572 -374l3-9 3 14 3-19 3 13 3 0 3-5 3 11 3 0 4 9 3-7 3-15 3 13 3 2M627 -351l3-2 4-10 3-4 3-5 3-1M668 -355l3-4M677 -334l3-24 3 16M689 -347l3-6 3-4 3 7 4 17 3 4 3-1 3 10M757 -286l3 3 3 5 3-5 4 2 3 1 3 1 3 0 3 6 3 3 3 1 3 7"/><path transform="translate(837.7 1581.0)" d="M0 -79l3 4 3-2 3-5 3 1 3-5 4-1 3 2 3 1 3 2 3-3 3 6 3-8 3 1 3 0 3-6 3 2 4-4 3-5 3 4 3 2 3-3 3-3 3 3 3-6 3 5 3-9 3 0 4 8M96 -98l3-10 3 3 3-2 3-7 3-1 3 0 3-4 4-2 3 3 3 2 3-2 3 1M139 -118l3-3 3-8 3 7 3-11 4 3 3-10 3 4 3-5 3-3 3 8 3-3 3-4 3-8 3-4 3 2M198 -155l3 4 3-13 3 4 3-8 3-13 3 2 3 3 4-11 3 0 3 1 3-13 3-2 3-6 3-6 3 10 3-16 3 1 3-16 4 11 3-19 3-10 3-12 3-1 3-15 3 6 3-3 3-8 3-4 3-11 4 3 3-17 3-12 3-26 3 20 3-19 3-9 3 6 3-21 3 2 3-12 4-22 3-4 3 19 3-30 3-21 3 15 3-42 3-19 3-6 3 12 3-9 4-13 3-3 3-3 3-13 3 23 3-13 3 9 3-6 3-11 3-11 3 1M396 -556l3-17 3-6 3-14 3 20 3-15 3-14 3 2 3-16 3-34 4-5 3 30 3-6M439 -629l3 23 3-24 3 18 3-8 3-9 3 26 4-1 3 21 3-7 3 33 3-12 3 23M488 -521l3-8M501 -497l3 5 3-1 3-4M516 -487l3 20 3-13 3 19 3-39 4 23 3 12 3 10 3-15 3 24 3 19 3 8M556 -410l3 10M569 -367l3-5 3 1 3-7 3 4 3 9 3-1 3 3 3 6 3-6 4 6 3-12 3 2 3-2 3 1 3-4 3 5 3 7 3 12 3 2 3-16 4-3 3-11 3 3 3 1 3 10 3-3 3-7 3-9 3 9M689 -352l3 9 3 11 3-5 4 4 3 8 3 3 3-3 3 1M757 -278l3-4 3 7 3-1 4 0 3 1 3 1M788 -261l3-2"/><path transform="translate(840.6 1581.7)" d="M0 -77l3 3 3-4 3 0 3-5 3 0 4 0 3-2 3 1 3 4 3-4 3-4 3 7 3-5 3 0 3-4 3-3 4 0 3 2 3-6 3 2 3-4 3 3 3 0 3-3 3-4 3 4 3-1 4-1 3 0 3 2 3-4 3-3 3-2 3 0 3 1 3-6 3-3 3 0 4-3 3 1 3 6 3-4 3-1 3-1 3 1 3-2 3-1 3-8 3-1 4-4 3-3 3-3 3 4 3 4 3-3 3-11 3 1 3-6 3-2 3-4 4 4 3-3 3-2 3 4 3-3 3-5 3-3 3-6 3-2 3-9 3 1 4-5 3-7 3-6 3 6 3-10 3-4 3 5 3-1 3-13 3 8 3-18 4-4 3-12 3-1 3-10 3-5 3 1 3-14 3-5 3-9 3 5 3-14 4 9 3-22 3-12 3-17 3-7 3-23 3 17 3-6 3-13 3-21 3 10 4-16 3-14 3-8 3-2 3-23 3-1 3 3 3-20 3-6 3-19 3 7 4-12 3-30 3 5 3 18 3 10 3-8 3 24 3-39 3-1 3-14 3-55 4-5 3 43 3-10 3-26 3-16 3 10M430 -642l3 16 3 2 3 9 3-16 3 23 3-12 3 28 3-13 3 9 4 6 3 14 3 18 3 3M491 -531l4 33 3 6 3-10 3-7 3 20M513 -479l3 10 3 2 3 13 3-15 3-6 4 5 3-3 3 24 3-3 3 36 3-8 3-1 3 14 3 9 3 14 3 4 4 15M578 -360l3-6 3 16 3-21 3 12M600 -352l3-17 3-1 3 9 3 0M618 -355l3-1 3 4 3-5 3-2 4-13 3 1 3 5 3-9 3 13M680 -338l3-19 3 11 3 6M698 -332l4 13 3-7 3 7 3-12 3-1 3 0 3 10M748 -288l3 1 3 10M770 -273l3-3M782 -270l3 4 3 4 3 3"/><path transform="translate(843.5 1582.5)" d="M0 -74l3 1 3-2 3-7 3 0 3 1 4-3 3 3 3 1 3-1 3-2 3-1 3 5 3-3 3-2 3-5 3-1 4 0 3-4 3 2 3 1 3 0 3 0 3 4 3-13 3 2 3-2 3 1 4-2 3-1 3 1 3-2 3-4 3-2 3-1 3 2 3-3 3-2 3 4M127 -116l3 2 3 2 3-1 3-3 3-4 3 1 3 1 3-7 4-5 3-4 3 3 3-5 3 3 3 0 3-3 3-8 3-4 3-1 3 0 4 3 3 3 3-9 3-2 3 2 3-12 3-1 3-5 3 6 3-7 3-4 4-3 3-8 3-7 3-6 3 0 3 11 3-15 3 4 3-4 3-14 3 0 4-9 3-1 3-11 3-8 3-7 3-5 3-3 3 15 3-18 3-8 3-7 4-17 3-8 3-5 3-9 3-16 3-34 3 8 3 17 3-17 3-8 3-6 4-25 3 6 3-14 3-23 3-8 3-10 3 10 3-4 3-16 3 2 3-29 4 31 3-22 3-26 3 0 3 18 3 8 3 6 3-17 3-10 3-29 3-4 4-30 3 1 3-10 3-1 3-28 3 3M423 -604l4-38 3 36 3-15 3 6 3 23 3-5 3 15 3-14 3 14 3 10 3-17 4 15 3 15 3 4 3-1 3 35M482 -504l3-25M501 -468l3-23 3-17 3 20 3 30 3-3 3 0 3-5 3-1 3 15 4 4 3-8 3 22 3 10 3 19 3 3 3 0 3 2 3 20M606 -351l3-5 3-10 3 3M637 -368l3 5 3 7 3-16 3 2M671 -341l3-9 3 7M683 -343l3-1 3 7 3 1 3 10 3 6 4 4 3-7 3-5 3-4 3 6M729 -303l3-3 4 6 3-6 3 4 3 12 3 4 3 5 3 2 3 0 3 2 3 5M773 -270l3-3 3 1 3 9 3 1 3 3"/><path transform="translate(846.5 1583.2)" d="M0 -76l3 3 3-1 3-2 3-2 3-3 4 2 3 0 3 0 3-2 3-2 3 0 3 2 3-3 3 3 3-6 3 1 4-6 3 4 3-4 3 3 3 0 3 4 3-4 3-6 3 1 3-2 3-1 4-1 3-5 3-2 3 3 3-1 3-1 3-2 3 1 3-3 3-3 3 0 4-3 3-1 3 5 3 0M136 -109l3-8 3 2 3-3 3-3 3 5 4-11 3-1 3-6 3 0 3 1 3-2 3-5 3-4 3 0 3 3 3-5 4 5 3 0 3-5 3-3 3-6 3-5 3-3 3-7 3 1 3 3 3-10 4 3 3-8 3-8 3-7 3 7 3 0 3-2 3-12 3 3 3-7 3-8 4-8 3 1 3-13 3-9 3 2 3-5 3-3 3-2 3-1 3-12 3-11 4-21 3-18 3 14 3-19 3-10 3-1 3-29 3 13 3 7 3-14 3-30 4 9 3-17 3-4 3-8 3-31 3-18 3 18 3-38 3 26M355 -451l4-4 3-6 3-14 3 8 3-2 3-4 3 10 3-51 3-1 3-3 3-12 4-29 3-4 3-6 3-5 3-17 3-5 3-6 3-23 3 19 3-15 3 10M433 -588l3-15 3 16 3 35 3-64 3 17 3 39 3 0 3-7 4 18 3 6 3 6 3-9 3 17 3-13 3 27 3-1 3-15 3 25 3 10 3 4 4 15 3-4 3-5 3-1 3 33M516 -452l3-6 3 9 3 0 3 5 4 11 3 4 3 21 3 13 3 9 3-12 3 11 3-7 3 21M600 -353l3-13 3 20M621 -355l3-8 3 1 3-8 4 7M646 -369l3-2 3 1M668 -349l3 7 3-9 3 11 3-5 3 3 3 2 3 14M705 -315l3-6 3-3 3-2 3 6M723 -316l3 7M732 -305l4-5 3 11 3 8 3 7 3 8 3-3M757 -274l3-3M773 -265l3-3 3 3 3 5 3 2 3-2 3 5"/><path transform="translate(849.4 1584.0)" d="M0 -70l3-1 3-1 3-4 3 1 3-2 4 4 3-3 3 3 3-6 3-3 3 2 3-3 3 2 3-2 3-2 3-2 4-2 3-3 3 0 3 5 3 1 3-6 3-1 3-1 3 0 3-1 3-6 4-3 3 4 3-4 3 0 3-1 3 4 3-4 3-2 3-2 3-3 3 2 4 0 3 6 3-9 3 1 3-2 3 4 3-4 3-1 3 0 3-1 3-1 4-6 3-4 3 1 3-2 3-3 3-7 3 2 3 3 3-4 3-5 3-1 4 4 3 0 3 0 3-10 3-7 3 1 3-5 3-5 3-4 3-4 3-1 4-1 3 1 3-6 3-4 3-3 3-4 3 8 3-5 3-7 3-18 3-5 4-1 3-8 3-7 3-4 3-2 3-5M284 -260l3-19 4-2 3-22 3 0 3-15 3-5 3-12 3-5 3-1 3-10 3 5 3-33 4 11 3-22 3-9 3-5 3-27 3 0 3-14 3-4 3 13M355 -429l4-12 3 0 3 2 3-15 3-16 3 19 3-32 3-21 3 13 3-5 3-14 4-17 3-1 3-44 3 3 3-5 3-20 3-9 3-3 3-7 3-12 3 5 4 17 3-2 3 19 3 12 3 13 3-17 3 28 3-19 3 6 3 20M473 -521l3-9 3 24 3-7 3 14 3 15 3-16 3 18 4 25 3-22 3 8 3 22 3-21 3 38 3-13 3 5 3-2 3 22 3-12 4 0 3 36 3-6 3 11 3 6 3 2 3-2 3-4 3 17 3-2M572 -365l3-1 3 4 3 5M615 -351l3-4 3-1 3-12 3 5 3 2 4 4 3-4M671 -344l3 8 3-7 3 11 3-13 3 18 3-7 3 15M698 -312l4-4 3 4M711 -317l3-7 3 2 3 0 3 19M729 -298l3-11 4 10 3 14 3 3 3 8 3-9 3 7 3 3 3-4 3 2M773 -261l3-3 3 1 3 3 3 3 3 0 3 0"/><path transform="translate(852.3 1584.7)" d="M0 -71l3-3 3 0 3 0 3 1 3 3 4-2 3-4 3 4 3-1 3 1M37 -79l3 2 3-2 3-2 3-7 4-1 3 1 3 5 3-4 3 2 3 0 3-9 3 1 3 0 3 3 3-6 4 0 3-7 3 4 3 0 3-2 3 1 3 0 3-2 3-4 3-1 3-3 4 0 3 4 3-6 3 2 3 2 3-3 3 0 3-3 3 0 3-3 3-1 4-7 3-1 3-3 3 1 3-2 3 3 3-9 3-2 3 1 3 1 3 1 4-4 3-2 3 6 3-8 3-7 3-9 3 4 3 0 3-7 3-4 3-2 4 0 3-4 3-14 3 6 3-7 3-4 3 7 3-8 3-8 3-3 3-5 4-14 3-3 3 1 3-15 3-3 3-16 3-5 3 3 3-9 3 12 3-25 4-4 3-14 3-18 3 8 3-7 3 9 3-9 3-15 3 2 3-20 3 8 4-34 3-3 3-11 3-19 3-17 3 7 3-30 3 7 3-5 3 16 3 3 4 8 3-12 3 7 3 1 3-31 3 4 3-29 3 12 3-25 3-10 3-13 4 0 3-11 3-25 3-5 3 12 3-29 3-23 3-6 3-6 3 19 3 12 4-8 3 38 3 7 3-13 3 3 3-19 3 6 3 16M467 -492l3-31 3 2 3 12 3-27 3 63 3-30 3 35 3-16 3 9 4 16 3 12 3-15 3 23M519 -425l3-16 3 28 3 14 4-4 3 36 3-4 3-23 3 11 3 9 3-11 3 7 3 12 3 1 3-8 4 14 3 8M575 -356l3 2M615 -349l3-5 3-15 3 9 3-6M655 -352l3 2 3 4 3 1 4 11 3-2 3 2 3 3M689 -319l3-2 3 11 3-5 4 0M717 -310l3-2 3 7 3 8 3-1 3 0 4 3 3 14 3 10 3-5 3-2 3 2 3 2 3-4 3 2 3-4 3 15 4 1 3 5M785 -250l3-10 3 10"/><path transform="translate(855.3 1585.5)" d="M0 -68l3 2 3-4 3 3 3-1 3-1 4-4 3 0 3-4 3 6 3-6 3-2 3 4 3-7 3 2 3-2 3-6 4 2 3 2 3-3 3 3 3-3 3-3 3 2 3-4 3-2 3 1 3 0 4-3 3-2 3 0 3 2 3-2 3-1 3 2 3-3 3 0 3-5 3-3 4 0 3 3 3-3 3-1 3 4 3-3 3 0 3-5 3-4 3 4 3-1 4-1 3-6 3-3 3-6 3 7 3-6 3-4 3-4 3 3 3-4 3 5 4-3 3-4 3 1 3-6 3-8 3 2 3-2 3-1 3-7 3-1 3 3 4-5 3-7 3-6 3-3 3 0 3-2 3 1 3-8 3-9 3-3 3-5 4-15 3-5 3 2M269 -239l3-7 3-12 3-3 3 1 3-5 3-12 4 2 3-13 3-12 3 3 3 3 3-6 3-7 3-11 3 3 3-23 3-9 4-24 3 1 3 10 3-38 3-15 3 9 3-32 3 5 3 1 3 22M359 -415l3 0 3-11 3-5 3-37 3 12 3-17 3-20 3 24M393 -488l3-47 3 11 3-10 3-32 3-8 3-23 3 1 3 18 3 17 3 8 4 10 3-1 3 11 3-8 3-16 3 10M448 -535l3-31 3 28M476 -487l3-9 3 14 3 11 3-3 3 22 4-1 3 1 3-2 3 4 3-7M556 -374l3 18M572 -344l3-24M584 -358l3-1M624 -361l3 2M646 -365l3 3 3 11 3 1 3 5 3 0 3-1 4 15 3-10 3 15M686 -309l3-4 3-2 3 8 3-4M711 -313l3 1 3 7 3 3 3-2 3 6 3 9 3 4 4 2 3 10 3 3 3-3 3-2 3 3 3-2 3-5 3 7 3 1 3 6 4 6M776 -259l3 0 3 3 3 2 3 2 3-1"/><path transform="translate(858.2 1586.2)" d="M0 -68l3 2 3 1 3-3 3 0 3 0 4-1 3 1 3-2 3 0 3-8 3 5 3-3 3 4 3-8 3 2 3-1 4-3 3-2 3-1M65 -84l3-3 3-2 3-2 3-1 3-1 3 4 4-7 3 0 3 4 3-3 3 3 3-3 3-1 3-6 3 1 3 2 3-2 4-1 3-1 3-6 3-1 3 9M139 -104l3-10 3 4 3-4 3 2 4-4 3-2 3-2 3-2 3 0 3-3 3-7 3 1 3 1 3-7 3 3 4-2 3-8 3-1 3 0 3-2 3-10 3 11 3-6 3-3 3-5M223 -162l3-4 3-11 3 7 3-20 3 3 3 4 3-7 3-3 3-7 3 0 4-19 3-8 3-5 3-11 3 10 3-6 3-17 3 1 3 0 3-20 3 10 4-20 3 0 3 1 3-13 3 8 3-8 3-17 3 2 3-20 3-9 3-1 4 8 3-26 3-23 3 5 3-33 3 2 3 4 3-9 3 17 3-21 3-7 4 20 3 2 3-5 3-21 3-31 3-11 3-2 3-15 3-2 3 26 3-29 4 10 3-29 3-22 3-22 3 6 3-9 3-8 3-12 3 17 3 12 3-7 4 33 3-30 3 15 3 17 3-36 3 9M498 -437l3-2 3-24 3 28 3-7M525 -401l3 24M538 -377l3 2M550 -362l3-15 3 23M569 -347l3-16 3 2M587 -358l3 3M609 -345l3-9 3 3 3-10 3 6 3-6 3-1M643 -352l3-3 3-10 3 25M658 -339l3 2 3 5 4-10 3 16M689 -305l3-7 3 6 3-22 4 6 3 6 3 1M717 -298l3 6M726 -293l3 9M745 -267l3-6 3-2 3-3 3 6 3 6 3 1 3 6M773 -257l3-3 3 9M785 -252l3 5 3-6"/><path transform="translate(861.1 1587.0)" d="M0 -65l3-1 3 3 3-2 3-1 3 1 4-1 3-1 3 1 3-1 3-10 3 6 3-4 3-2 3-2 3-2 3 0 4 1 3-4 3-3 3 3 3-3 3-3 3 2 3-2 3-2 3-3 3 2 4-1 3 2 3-1 3-4 3 0 3 3 3-4 3 1 3 0 3-1 3-1 4-1 3-4 3-2 3 1 3-1 3-2 3 2 3-2 3-4 3-1 3 4 4-4 3-2 3-7 3 7 3-2 3-8 3 0 3-7 3 5 3-8 3 1 4 1 3-7 3-3 3-4 3-2 3 3 3-5 3-3 3-4 3-2 3 0 4-3 3 4 3-10 3-6 3-1 3-2 3-10 3-1 3-2 3-14 3 5 4-15 3-8 3 8 3-13 3 0 3-3 3-13 3 1 3-12 3-5 3 5 4-23 3 8 3-11 3-6 3-5 3-20 3 8 3-9 3-11 3-1 3-17 4-13 3 2 3-30 3-4 3 0 3-3 3-16 3 11 3-18 3 28 3-6 4-9 3 0 3-18 3-13 3-36 3-1 3 4 3-5 3-13 3 1 3-19 4 0 3-21M402 -517l3-37 3 6 3-19 3 0 3 15 3 11 3 16M436 -539l3-16 3 7 3 7 3-7 3 20 3 6M470 -493l3 7 3-4 3 22M501 -436l3-18 3 26M522 -404l3 23 3-4 4-2M572 -361l3-12 3 26M584 -365l3 11M615 -354l3-9 3 6 3-4 3-15 3 11M646 -355l3 3M661 -323l3-19 4 14M689 -306l3-3 3-19 3 20 4-6 3 0M729 -279l3 0 4 9 3-3 3 2 3 6 3-6 3-2 3 2 3-1 3 12 3-2 3 1 4-2 3 7 3 5M788 -249l3 1"/><path transform="translate(864.0 1587.7)" d="M0 -63l3 0 3 0 3-3 3 4 3-4 4 2 3-1 3 0 3-8 3 2 3-3 3 1 3-6 3 1 3 0 3-4 4 1 3-1 3 1 3-2 3-3 3 1 3-9 3 5 3 3 3-5 3 2 4-2 3-2 3 2 3-4 3 4 3-8 3 3 3 1 3 1 3-1 3-5 4 1 3 0 3-1 3-2 3-2 3-4 3 1 3 0 3-3 3 1 3-1 4 1 3-3 3-2 3-2 3-2 3-5 3 3 3-8 3-5 3-2 3 0 4-3 3-3 3 3 3-3 3-2 3 3 3-5 3-9 3 0 3 0 3 0 4-3 3-14 3 1 3-1 3-6 3-3 3 5 3-1 3-11 3-8 3-8 4-6 3-1 3-10 3 0 3-3 3 3 3-14 3-1 3-19 3-2 3-6 4 5 3-9 3-8 3 8 3-20 3 3 3-19 3-3 3-7 3-16 3-13 4-15 3 3 3-16 3-29 3 12 3-7 3 24 3-28 3 26 3-7 3-22 4-12 3 9 3-21 3 6 3-18 3-7 3-2 3-18 3-21 3 1 3-7 4-33 3-8 3 9 3-6 3-7 3-12 3 19 3-4 3-13 3 15 3-7 4-16M439 -530l3-10 3 21 3-1 3-3M467 -477l3-16 3 34 3-10M494 -428l4-14 3 2 3 0M528 -383l4 12M556 -357l3 0 3 2 4 3 3-9 3-1M603 -352l3 1M615 -352l3 5M652 -330l3-11M692 -311l3 7 3-7 4-6 3 6 3 4 3 12 3 3 3-2M729 -272l3-7 4 5 3 4 3-2 3 6 3-3 3-1 3 7 3-1 3 8 3 0 3-5 4 7 3-1 3 2 3-1 3 5 3-1"/><path transform="translate(867.0 1588.5)" d="M0 -63l3 2 3-1 3 2 3-4 3 4 4-3 3-2 3 0 3-5 3 1 3-3 3-4 3-5 3 3 3 3 3-5 4-4 3 5 3-3 3 1 3-3 3-2 3-1 3-1 3-1 3 0 3 0 4 0 3-2 3-3 3 1 3 1 3 0 3-1 3-2 3 0 3-1 3-1 4 0 3 0 3-1 3-3 3 1 3-4 3-1 3-2 3-2 3-3 3-1 4 3 3 0 3-2 3 0 3-4 3-4 3 3 3-8 3 2 3-5 3-4 4-3 3-2 3 4 3-4 3-5 3 0 3-4 3 0 3-9 3-2 3 2 4-7 3-1 3-2 3-6 3-2 3-2 3 1 3-2 3-9 3-2 3-8 4-6 3-3 3-6 3 5 3-8 3-11 3 1 3-14 3-3 3-18 3-6 4 1 3 11 3-8 3-15 3-3 3-13 3 1 3-25 3-4 3 0 3-25 4 10 3-23 3 1 3-20 3 4 3-1 3-17 3 21 3 6 3-14 3 1 4-15 3-18 3-12 3 11 3-37 3 18 3-27 3-9 3-25 3-7 3-14 4-9 3 1M405 -517l3-7 3-7 3 3 3-2 3 9 3-35 4 21 3 2 3 13M439 -513l3-22 3 24 3-2 3-16 3 18 3-7M467 -478l3 21 3-11M479 -459l3 1 3 22M510 -431l3 21 3 4 3 20M525 -368l3-12M559 -354l3 0 4-5 3-7 3 15 3-13 3 2M609 -354l3 3 3 5 3-19 3 10M643 -343l3-10 3 20M658 -333l3 9M695 -304l3-5 4 8 3 2 3-3 3 7 3 7 3-13 3 13M729 -273l3-2 4 6 3 0 3 2M748 -267l3 2 3 2 3 8 3 2 3-3 3-3 4 6 3 2 3 0"/><path transform="translate(869.9 1589.3)" d="M0 -63l3 2 3 4 3 0 3-2 3 1 4-1 3-4 3-4 3-3 3 0 3-3 3-2 3 0 3 3 3-3 3-5 4 4 3-1 3-2 3-1 3 2 3-7 3-2 3 1 3-2 3 5 3-3 4 5 3-6 3-1 3-1 3-4 3 1 3-4 3 3 3 4 3-4 3 0 4-1 3-5 3 0 3-2 3-2 3 0 3-1 3-1 3 1 3-2 3 0 4-4 3 0 3-1 3-1 3-5 3 2 3-2 3 2 3-11 3 2 3-5 4-2 3 3 3-7 3 5 3-9 3 0 3 0 3-8 3-4 3-5 3 5 4-10 3 5 3-11 3-2 3 2 3-4 3-2 3 4 3-11 3-3 3-12 4-1 3-11 3 7 3-16 3-4 3 3 3-8 3-2 3-21 3-5 3-2 4-7 3-6 3 3 3-10 3 0 3-15 3 6 3-22 3 0 3-28 3-4 4-14 3 9 3-10 3-2 3-19 3-5 3 25 3-5 3-4 3-6 3-23 4-6 3-5 3-10 3-3 3 11 3-44 3 12 3-43 3 3 3-25 3 9 4-27 3-6 3 0 3 28 3-9 3 4 3-11 3 5 3 17 3-38 3-6 4 13 3-4M439 -507l3 9 3-4 3-20 3 9 3-3 3 23 4-6M467 -457l3-11 3 7 3 7 3 3 3 9M495 -436l3-2 3 6M513 -385l3-3 3 3M544 -367l3 15 3-8 3 4 3-7 3 14 3-18 4 14 3-1 3-8 3-6 3 14 3-6 3 6M612 -350l3-8M624 -371l3 1M643 -345l3 0M658 -330l3-8 3 5M680 -305l3-5M692 -297l3-9 3 2 4-1 3 9M711 -288l3-4 3 5 3 2 3 7 3 4M736 -269l3 2 3-1 3 4M754 -253l3-6 3 5 3 1 3 1 4 3 3-1 3 3 3-3 3-1 3 3 3 5 3-2"/><path transform="translate(872.8 1590.0)" d="M0 -57l3-3 3 0 3 3 3 0 3-2 4-2 3 1 3-6 3-3 3-5 3 1 3-4 3 5 3-2 3-2 3 0 4-4 3-2 3 5 3-4 3 3 3-3 3-3 3-1 3 2 3 0 3 3 4-3 3-5 3-1 3-1 3 2 3-5 3 4 3-6 3-1 3 6 3-2 4-2 3 3 3-8 3 4 3-5 3 1 3-3 3 3 3-3 3-7 3 4 4-4 3 3M167 -111l3-4 3-2 3-2 3-5 3 0 3 0 4-1 3-5 3 2 3-2 3-7 3-4 3-2 3-3 3-3 3-5 3 4 4-5 3-7 3-5 3-3 3 5 3 0 3-1 3-9 3-6 3-6 3-8 4-6 3 3 3-11 3 8 3-11 3-8 3-11 3-3 3-11 3-3 3-16 4 8 3-2 3-5 3 0 3-17 3-10 3-6 3-9 3-8 3-19 3-5 4 15 3-30 3 7 3-2 3 5 3-19 3-1 3 6 3-5 3-29 3 19 4-17 3 8 3-26 3 21 3-36 3-28 3 15 3-37 3-10 3-12 3-5 4-12 3 20 3-28 3 21 3 5M417 -518l3 15 3-12 4-20 3 6 3 0 3 17 3 28 3 16 3-32 3-5 3-8 3 24 3-6 4 14 3 17 3 1 3 26 3-37 3 31 3-1 3-19 3 27 3-2M494 -424l4-13 3 20M507 -393l3-13 3 22 3-5 3 12M544 -354l3-7 3 9M572 -360l3 6M581 -357l3-4M606 -348l3-10 3 11 3-19 3-7 3-6 3 12M640 -337l3-9 3 9 3-6 3 9 3 7 3-6 3-3 3 2 4 7 3 10 3 9M683 -312l3 5M698 -292l4-9 3 8 3 1 3 10 3-4M720 -273l3-4 3 4 3 8M742 -265l3 0 3 9 3 3 3-1 3 2 3-1 3 6 3-2 4-2 3 4 3 1 3-5 3 3 3-1 3 7"/><path transform="translate(875.8 1590.8)" d="M0 -56l3-2 3 1 3 0 3 1 3-4 4-1 3-5 3 3 3-4 3-3 3 0 3-1 3-3 3 1 3-1 3-3 4 4 3-7 3 5 3-2 3-3 3-2 3 2 3-4 3 10 3-6 3-2 4-4 3-1 3-2 3-2 3 3 3 0 3-2 3 0 3 3 3-3 3-1 4-2 3-1 3 0 3-2 3 1 3-3 3 5 3-8 3 2 3-3 3-3 4-3 3-1 3-5 3 6 3-1 3-3 3-3 3-2 3-2 3 1 3-10 4 3 3 2 3-5 3-3 3 0 3-8 3 2 3-10 3 1 3-2 3-8 4 3 3-10 3 1 3-4 3 4 3 0 3-3 3-10 3 1 3-9 3-10 4-2 3-3 3-2 3-8 3 0 3-12 3-9 3-2 3-9 3-6 3-9 4-8 3 7 3-6 3-12 3 8 3-20 3 2 3-25 3-14 3 2 3-8 4 8 3-28 3 10 3 7 3-19 3 13 3-16 3 1 3-10 3-9 3 13 4-23 3-15 3 20 3-26 3-16 3-5 3-11 3-32 3-2 3-26 3 8 4-2 3 1 3-4 3 3 3-20 3 9 3-9M420 -507l3-20 4 33 3-43 3 37 3 0M442 -483l3-9 3 2 3 7 3 2 3 14 4 5 3-2 3 11 3-6 3 14 3-3 3 9 3 5 3 0M491 -440l3 17 4-8 3 17 3 8M535 -367l3 6 3 0 3 12M559 -335l3-26 4 9 3-10 3 8 3-3 3 4M590 -355l3 6M609 -355l3-10 3-2 3-4 3 5 3-10 3 27 3-5M640 -331l3-6 3-1 3 4 3 10 3 4 3-10 3 1 3 10 4 7 3-1M695 -295l3 3 4-2 3 5 3 1 3 4 3 3 3 7 3 5 3-3 3 2 3-2 3 5M748 -249l3-5 3 4M760 -246l3 1 3-4 4-3 3 7 3-5 3 2 3-2 3 5 3 0"/><path transform="translate(878.7 1591.5)" d="M0 -58l3 6 3 0 3-1 3-3 3-5 4 0 3-5 3-2 3 0 3-2 3 0 3 2 3-6 3-2 3 1 3 3 4-1 3-2 3 0 3-3M68 -79l3 2 3-3 3 3 3 1 3-5 4 0 3-2 3-2 3-3 3 3 3-3 3-2 3 0 3 1 3 2 3-3 4 1 3 0 3-6 3 2 3-2 3-1 3-4 3 3M155 -101l3-9 3-4 3 2 3 3 3-4 3 2 3-7 3 3 3-2 3-4 4-2 3-4 3-4 3-3 3 1 3-1 3-2 3-7 3-7 3 0 3-1 4-6 3-5 3 5 3-6 3 3 3 3 3-4 3-6 3-11 3-13 3 9 4-7 3-1 3-10 3-2 3-15 3-2 3-2 3-7 3-12 3-5 3 1 4-10 3 6 3-13 3 2 3-11 3-16 3-3 3-10 3-16 3-6 3-4 4 4 3-24 3 4 3 4 3 6 3 6 3-29 3 3 3 12 3-29 3 8 4-21 3 16M368 -399l3-31 3-14 3 3 3-27 3-6 3-19 3 27 4-3M399 -462l3-17 3-7 3-18 3-11 3 16 3-12 3-3 3-18 4 19 3 11 3 2M439 -481l3 2 3-26 3 27 3-1M473 -418l3-17 3 2 3 13 3-26 3 16 3 17 3-24 4 1 3 45M541 -353l3-5M581 -365l3-2 3 16 3-4M612 -355l3-19 3 9 3 1 3 11 3-1 3 4M646 -324l3 2 3-8 3 8 3 8 3 1 3 4 4-8 3 4M692 -294l3 1 3 4 4-5 3 7 3 7M714 -278l3 12M745 -255l3 4M757 -248l3 6 3-3 3 0 4 3 3-2 3-1 3-6 3 6"/><path transform="translate(881.6 1592.3)" d="M0 -54l3 2 3-5 3 3 3-4 3-1 4-5 3-3 3-4 3 3 3-4 3 5 3-3 3-3 3 0 3 1 3-1 4 4 3-4 3-7 3 0 3 1 3 4 3-4 3 5 3-4 3 1 3 1 4-7 3 0 3-2 3 1 3 2 3 0 3-4 3-2 3-2 3 0 3 2 4 2 3-5 3 0 3-1 3-3 3-1 3-2 3 1 3-2 3-3 3-2 4 2 3-3 3 0 3-3 3 3 3-2 3-6 3-3 3-2 3 2 3-3 4-5 3-6 3 4 3-1 3-4 3 2 3-7 3-4 3 0 3-3 3-4 4-5 3-4 3 1 3-1 3 0 3-3 3-1 3-7 3-15 3 5 3-3 4-9 3-10 3 1 3-11 3-2 3-7 3 5 3-18 3-11 3 0 3 0 4-13 3 5 3-6 3-12 3-9 3-5 3-20 3-2 3 3 3-27 3 2 4 6 3 3 3-15 3-4 3-5 3 2 3 9 3-5 3-19 3-12 3 7 4-16 3-29 3 8 3-21 3-35 3 13 3-4 3-4 3-4M393 -468l3 0 3 17 3-17 3-12 3-5 3-18 3-17 3 14 3 8 3-19 4 12 3 8 3 7 3 7 3 21 3-25 3 16 3 9 3-3 3-9 3 37 4-7 3 4M479 -412l3-15 3-4 3 25 3-10 3-14 4 28 3 5 3 13 3-3 3 4 3 5 3-5 3-1 3 10M538 -358l3 5M581 -358l3 4M596 -354l4 5M606 -353l3-12 3 9 3-7 3 0 3 3 3 13M640 -330l3 0M652 -316l3 1 3 8 3 5 3-9 4 2 3-1 3-1 3 4 3-4 3 10M695 -292l3 0 4 7 3 2 3-1 3 10 3-1 3 14 3-6 3 3 3-5 3 1M736 -262l3-1M757 -241l3-6 3 6 3-3 4-2 3 4 3-2 3-1 3 1 3-2 3 5"/><path transform="translate(884.5 1593.0)" d="M0 -55l3 1 3 0 3-3 3-2 3-3 4 0 3-7 3 4 3-2 3-2 3-2 3-2 3 2 3-1 3 0 3 5 4-2 3-1 3-3 3-3 3 1 3 0 3 1 3-1 3 1 3-2 3-3 4 2 3-2 3-2 3 1 3-2 3-3 3 2 3-3 3-3 3 0 3 3 4-4 3-1 3 1 3-2 3 0 3 1 3-1 3 0 3-6 3 3 3-5 4 1 3-4 3-6 3 6 3-5 3-1 3-2 3-2 3-3 3 1 3-4 4 2 3-10 3 0 3 1 3-4 3-4 3 0 3-2 3-3 3-4 3 0 4-8 3 1 3-6 3 5 3-7 3 3 3-4 3-5 3-3 3-6 3-13 4 3 3-8 3-3 3-4 3-2 3-14 3-8 3 1 3-1 3-23 3 11 4-2 3-7 3-10 3-12 3-17 3 0 3 0 3-16 3-14 3 7 3-13 4 13 3-14 3-2 3-11 3 11 3-9 3-17 3-1 3 9M355 -347l4-13 3-17 3-36 3-9 3-24 3 21 3-20 3-6 3-10 3-3 3-14 4 39M399 -452l3-39 3 7 3 10 3-42 3 12 3 18 3 9 3-18 4 6 3-7 3 32 3-9 3-3 3 17M454 -451l3-4 4 22 3-5 3 5 3 5 3 1 3-2 3 12 3-3 3 11 3-3 3-1 4 8 3 6 3 17 3-3 3 6 3-3 3 14 3-2 3-7 3 6M587 -367l3 6M600 -351l3 2M609 -353l3-3 3-3 3 8 3 1 3-5 3 8M640 -325l3 4M661 -306l3 5 4-5 3-1 3 7 3-6 3 3 3 2 3 0 3 8 3-6 3 10M702 -277l3-9 3 10 3 7 3 1 3 3 3-6 3 5 3 0 3-5 3 6 4 4 3 2 3 7M754 -245l3 1 3 2 3 0 3 0M773 -243l3-2 3-1 3 3 3-1 3 2 3 2"/><path transform="translate(887.5 1593.8)" d="M0 -54l3 1 3-2 3-2 3 0 3-3 4-5 3 3 3-5 3 2 3 2 3-8 3 0 3 1M53 -72l3 2 3-5 3 2 3 0 3-1 3-1 3-2 3 3 3-1 3 3 4-1 3-7 3 1M99 -81l3 0 3-1 3 1 3-1 3-2 3-8 4 5 3-1 3-3 3-2 3 1 3 1 3-2 3 0 3-1 3-3 3-2 4 1 3-4 3-1 3 0 3-5 3-1 3 2 3-6 3 0 3-2 3 3 4-3 3-5 3-6 3-3 3 5 3-7 3-1 3 1 3-10 3 7 3-5 4-5 3-5 3 5 3-2 3-6 3 3 3-8 3-10 3 3 3-6 3-11 4-7 3-3 3 4 3-15 3-5 3-1 3-8 3-8 3 1 3-10 3 1 4-7 3-4 3-4 3-10 3-17 3-3 3-3 3-13 3 3 3-12 3-7 4-4 3 9 3-8 3-10 3 17M346 -334l3-14 3-3 3 10 4-12 3-17 3-29 3-7 3-16 3-8 3 12 3-16 3-10 3-15 3-2 4 3 3 11 3 17 3-16 3-12 3-10 3-6 3 8 3-8 3 20 3-27 4 2 3 7 3-3 3 21 3-2 3-16 3 2 3 10 3 17 3-6 3 12M467 -425l3-12 3 16M479 -398l3-1 3 10 3-23 3 16 3 5 4 0 3 12M507 -365l3-1 3-3 3 5 3-14 3-4 3 21 3 5 4 2 3-3 3 0 3 18 3-32 3 15M559 -365l3 19M578 -348l3-9 3-3 3-6 3 20 3-9 3 7 4-2M612 -344l3-7 3 10 3-10M630 -336l4 3M646 -318l3 4 3 7M668 -297l3-6 3-14 3 21 3-5 3 4 3 9 3-9 3 7M711 -271l3 5 3-1 3 0 3 4 3 0 3-5 3 8 4 4 3 3M751 -244l3-1 3 4 3-2 3 1 3 1 4-4 3 0 3 1 3 4 3-1 3-3 3 3 3 0"/><path transform="translate(890.4 1594.5)" d="M0 -51l3-5 3 2M12 -60l3-1 4 0 3-1 3 2 3-6 3 1 3 0 3-8 3 0 3 3 3-1 3 1 4 2 3-2 3-3 3 3 3-1 3 0 3-3 3 1 3-2 3 1 3-2 4 5 3-8 3-2 3 0 3 4 3-4 3 0 3 4 3-3 3-3 3 3 4-8 3 1 3-4 3 1 3 2 3-4 3 2 3-1 3-6 3 1 3 0 4 0 3-5 3 2 3-4 3-2 3-6 3 5 3-7 3 0 3 3 3-3 4-3 3-1 3-3 3-4 3 3 3-2 3-7 3-4 3 5 3-5 3-3 4-2 3-9 3-5 3 7 3-3 3-2 3-5 3 2 3-17 3-1 3-6 4-1 3-9 3 8 3-6 3-8 3-14 3-10 3-8 3-4 3 12 3-19 4-3 3 0 3 0 3-5 3-18 3-4 3 2 3-17 3-8 3 10 3-8 4 4 3-14 3-1 3-13 3-8 3-16 3-5 3-1 3 15M355 -330l4-14 3-21 3-9 3-18 3-24 3 20 3-14 3-22 3-11 3-18 3 13 4 2 3 21 3-13M411 -433l3-18 3-4 3 3 3 2 4-3 3 2 3 13 3-25 3 5 3-4 3 19 3-22 3 26M464 -422l3 7M479 -396l3-8 3 9 3-2 3 17 3-4 4 5M504 -364l3-2 3 1 3-1 3 19 3-18 3 0M532 -355l3-3 3 7 3-1 3-4 3 7 3-10 3 2M559 -351l3-8 4-4 3-9M581 -363l3 3 3 2 3 12M606 -350l3 3 3 10M618 -347l3-6 3 13 3 2 3 3M637 -321l3-5 3 3 3 10 3 4 3 6M668 -295l3-4 3-5 3 4 3 6 3 1 3 6 3-6 3 0 3 8 3 1M708 -272l3 8M726 -261l3 3 3-3 4 7 3-2 3 1 3 7 3 5 3-1 3-1 3 5 3 1 3-6 3 3 4-2 3 5 3-1 3 1 3 1 3 0 3 2 3-5"/><path transform="translate(893.3 1595.3)" d="M0 -52l3-4 3-4 3-2 3 3 3 0 4-1 3-1 3 1 3-1 3-3 3-1 3-2 3-4 3 1 3 3 3-5 4 3 3-3 3 2 3 1 3-4 3 2 3-2 3 0 3-2 3 1 3 2 4 0 3-2 3-8 3 1 3 2 3-1 3 1 3 0 3-2 3 0 3 1 4-4 3-5 3 1 3-2 3 0 3-1 3 0 3-3 3 0 3 0 3 0 4-2 3-2 3-3 3 0 3-5 3-2 3 2 3-4 3 4 3 1 3-5 4-3 3 1 3-9 3 3 3 1 3-11 3 5 3-4 3-4 3 2 3-6 4 2 3-8 3-3 3 0 3-3 3 1 3-3 3-10 3-5 3-5 3-1 4-2 3-4 3-2 3-3 3-5 3-15 3-12 3-8 3 0 3-1 3-7M294 -236l3 0 3-6 3-4 3-19 3 11 3-15 3 2 3-5 3-12 4 0 3 1 3-20 3-6 3-16 3-8 3 3M355 -323l4-26 3-13 3-8 3-29 3 0 3-1 3-10 3-4 3-10 3-21 3 2 4 16 3-1 3-24 3 23M408 -420l3-28 3 14M420 -432l3-18 4 8 3 4 3-25 3 19 3 20 3-29 3 6 3 9M461 -404l3-8 3-5 3-1 3 7 3 20M485 -393l3 3 3 16 3-6 4-1 3 19M507 -351l3-9 3 8 3 3 3-20 3 19M532 -350l3-10M541 -355l3-2 3 16 3-28 3 12 3-3 3 14 3-10 4-14M572 -356l3 3 3-20 3 23M600 -355l3 2 3 11 3 0 3-16 3 23 3-19 3 13M640 -317l3 9M664 -292l4-9 3 11 3-2 3 4 3-7 3 15 3-3 3-9 3 9M720 -266l3 2 3 7M732 -254l4-2 3 2 3 2 3 6 3 4M754 -241l3-1 3 1 3 0 3-1 4 3 3 0 3-2 3 4 3 1 3-1 3 2"/><path transform="translate(896.3 1596.0)" d="M0 -52l3-1 3-5 3 1 3-2 3 2 4 1 3-5 3 1 3 0 3-3 3 2 3-5 3-1 3-1 3 2 3 0 4-3 3-2 3 0 3 0 3 0 3 1 3-3 3 0 3-1 3 4 3-2 4-3 3 1 3-4 3-1 3 2 3 1 3-3 3 3 3-4 3 0 3-1 4-3 3-1 3 0 3-1 3 0 3-4 3 1 3 0 3-3 3 1 3-5 4 6 3-8 3-1 3 1 3-8 3 3 3-7 3 8 3-2 3-5 3 1 4-9 3 2 3 2 3-5 3 1 3-7 3-1 3-1 3 0 3-5 3-6 4 2 3-1 3-3 3-8 3-3 3 5M244 -153l3-11 3 0 3-9 4-2 3 2 3-9 3 3 3-13 3-1 3-8 3-7 3-17 3-4 3-3 4-2 3 1 3-10 3-3 3-1 3-21 3 9 3 3 3-5 3-13 3-7 4-7 3-3 3 0 3-19 3-22 3 5 3-11 3 0 3 6 3-4 3 5 4-14 3 16 3-46 3-17 3 2 3-18 3-4 3 4 3-14 3 0 3-7 4 2 3-3 3 7 3-20 3 4 3 11 3-10 3-3 3 3 3 13 3-7 4-13 3 1 3 6 3 2 3-11 3 6 3-5 3-1 3 18 3 12M473 -399l3-2 3 13M488 -369l3-10 3 0 4 15M513 -352l3-5 3-2M553 -352l3-3 3 4M566 -364l3 7 3 2 3-3M615 -345l3-2 3 7 3 10 3-6 3 13M668 -293l3 2 3 1 3 0 3 10 3-8 3 10 3-6 3 0 3 2 3 13M720 -263l3 3 3 2 3 6 3-6 4 8M742 -246l3 3 3 2 3-3 3 6 3 4 3-8 3 3 3-1 4 0 3 0 3 3 3 3 3-1 3-2 3-2 3 4"/><path transform="translate(899.2 1596.8)" d="M0 -51l3-2 3-3 3 3 3-2 3-6 4 5 3-6 3-1 3 2 3-1 3 0 3 2 3-1 3-7 3 1 3 0 4 0 3-2 3 0 3 0 3 0 3 0 3 1 3-2 3-1 3 2 3-2 4-2 3-2 3-3 3 1 3 1 3-4 3 4 3 0 3-2 3-2 3 0 4-3 3-2 3 1 3-1 3-2 3 0 3-2 3-5 3 3M151 -93l4-1 3-3 3 0 3-4 3-2 3-2 3 4 3-4 3 3 3-7 3 2 4-5 3-1 3 1 3 0 3-5 3-2 3-2 3 1 3-4 3-2 3-7 4-5 3 0 3 0 3-5 3-5 3-7 3 4 3-9 3-1 3-3 3-8 4 0 3 2 3-2 3-15 3 5 3-8 3-19 3 2 3-10 3-7 3-2 4 0 3-14 3 11 3 1 3-26 3 10 3-1 3-16 3-2 3-1 3-3 4-1 3-19 3-9 3-3 3-13 3-4 3 1 3 10 3-1 3-16 3-8 4-2 3-23 3 10 3-28 3-17 3 5 3 7 3-24 3-3 3-5 3-23 4 28 3-12 3-7 3-15 3 13 3-12 3 17M423 -427l4 0 3-9 3 1 3 0M442 -422l3-10 3 13M457 -404l4-3 3-11 3 22M473 -387l3-13 3 9 3 6 3 7 3 3M513 -352l3 2 3-4M550 -360l3 12M562 -358l4 3M593 -356l3 5M618 -334l3 11 3 2 3-4M634 -312l3-1 3 9M658 -301l3 9 3 0 4 4 3-4 3 8 3 5M686 -281l3 0 3 6 3 0M702 -269l3 0 3 3 3-1 3-3 3 7 3 2 3 3 3 4 3 0 3 4M739 -247l3 3 3 2 3 0M754 -241l3 2 3 2 3 0 3 2M776 -235l3 1 3-1M788 -239l3 2"/><path transform="translate(902.1 1597.6)" d="M0 -50l3-5 3 1 3 0 3 1 3-4 4-2 3 0 3-3 3 3 3 1 3-6M40 -62l3-4 3 0 3-1 4 1 3 0 3-3 3 0 3 0 3-1 3 4 3-2 3-2 3 2 3-5 4 0 3 1 3-3 3-2 3-1 3 0 3 0 3 2 3-3 3-1 3-1 4-3 3 2 3-6 3 0 3 0 3 1 3-3 3-2 3 0 3-2 3 7 4-3 3 0 3-8 3-3 3 0 3-3 3-1 3 6 3-4 3-1 3 2 4-8 3 1 3 2 3-5 3-3 3-1 3-4 3-2 3 0 3-8 3 2 4-4 3 0 3-10 3-8 3 4 3-9 3 1 3-1 3-3 3-3 3-4 4 0 3-4 3-3 3-10 3-3 3-9 3-11 3 11 3-5 3-19 3-3 4 2 3-7 3 3 3-12 3 0 3-22 3 11 3-6 3-10 3 5 3-3 4-11 3-5 3-26 3 10 3-8 3-17 3 16 3 0 3-10 3-5 3-12 4-6 3-15 3-21 3 9 3-22 3-13 3 11 3-6 3-5 3-9M396 -426l3 4 3-10 3 7 3-13 3-3 3 12 3-1M430 -428l3-6 3-3 3 2 3 15 3 1 3-7 3-1 3 15 3 14M470 -392l3 1M482 -373l3-2 3 11 3-5 3 14M513 -339l3-24 3 13M572 -348l3-13 3 18 3-6 3-5 3-4M612 -341l3 4 3 21 3-6 3-2 3 1 3-1 4 14 3-1 3 2 3-1 3 11 3 5 3-11M668 -283l3-6 3 9M686 -273l3-1 3-1 3-3 3 10 4-3 3 5 3 0 3 1 3 2 3 3 3 1 3 6 3 0 3 1 3-1 4 2 3 9 3-4 3 3 3-1 3 4 3 2 3-3 3 5 3-1 3-1 4-2 3 4 3 4 3-6 3 1 3-2 3 1 3 3"/><path transform="translate(905.0 1598.3)" d="M0 -52l3 2 3-1 3 0 3-1 3-5 4 0 3-3 3-1 3-3 3 2 3-3 3 1 3 1M46 -66l3-1 4 2 3 1 3-3 3 1 3-3 3 3 3-3 3 4 3 1 3-2 3-7 4 0 3-1 3 0 3 0 3-5 3 3 3-1 3 0 3-2 3-1 3-1 4-1 3 0 3-2 3 1 3-3 3 0 3-2 3-4 3 3 3 0 3-2 4 1 3-1 3-6 3-1 3 1 3-1 3-1 3-1 3-7 3 4 3-1 4-4 3-3 3 6 3-3 3-6 3 0 3-5 3 0 3-4 3-1 3-4 4-4 3-1 3-8 3-1 3-3 3-4 3-1 3-5 3-3 3-4 3 6 4-3 3-11 3-9 3 1 3-4 3-1 3-7 3-10 3-1 3-3 3-12 4 2 3-5 3 2 3-19 3-4 3-1 3 3 3-4 3-6 3-7 3-3 4-9 3-12 3-6 3-6 3-12 3 4 3-5 3-6 3 6 3-15 3-7 4-5 3-28 3 5 3-27 3 2 3 8 3-9 3 1 3-31 3-4 3-19 4 26 3 2 3-36 3 18 3 1M411 -428l3 1 3 0 3 7 3 7 4-13 3 5 3 14 3-18 3 16 3 1 3-11 3 8M464 -394l3 5M479 -376l3 7 3-5 3 8M634 -304l3-4 3 1 3 9 3-1 3-1 3 0M658 -292l3 6M683 -271l3-2 3 3 3 7 3-8 3 4 4 3 3 3 3-1 3 0 3 7 3 2 3 7 3-2 3-4 3 1 3 6 4-1 3 3 3 1 3 3 3-8 3 7 3 1 3 3 3-2 3 0 3 4 4-2 3 1 3-1 3 0 3-5 3 4 3-1 3 1"/><path transform="translate(908.0 1599.1)" d="M0 -50l3 1 3-2 3-2 3 1 3-2 4-2 3-7 3 1 3 3 3-2 3-2 3-2 3-2 3 1 3 2 3 0 4-3 3 4 3 1 3-2 3 1 3-1 3 0 3-2 3-1 3 1 3-2 4-1 3-2 3-2 3 1 3-4 3 3 3-4 3-3 3 1 3 1 3 0 4 1 3-3 3-2 3-1 3-4 3 2 3-2 3 0 3-2 3 0 3 1 4-1 3-5 3-2 3 1 3 1 3-5 3-2 3-4 3 2 3-1 3-5 4 2 3-3 3 2 3-2 3-3 3 0 3-5 3-3 3 1 3-5 3-3 4 0 3 0 3-7 3-3 3-7 3-10 3 4 3-5 3-1 3-1 3 1 4-5 3-3 3-3 3-4 3-1M281 -195l3-8 3-11 4-1 3-3 3-7 3 5 3-14 3 0 3-7 3-4 3-2 3-17 3 6 4-13 3-12 3-5 3-19 3 14 3-5 3-2 3-11 3 5 3-11 3-7 4-15 3-9 3-8 3-11 3-4 3 8 3-5 3-15 3-29 3 8 3-15M399 -415l3-2 3-30 3 18M417 -403l3-36 3 26 4-7 3 11 3-4 3 4 3 1 3 6 3-18 3 12M464 -393l3 0M482 -370l3 4 3 12M525 -352l3-1M562 -350l4-9 3 9M578 -349l3-10 3 3M630 -308l4 1 3 10 3-9 3 0 3 6 3 0 3 3 3 3M661 -291l3 8M680 -270l3 0M689 -261l3-5 3-4 3 9 4 3 3-1 3-1 3 4M717 -247l3 1 3-4 3 5 3-2 3 6 4-2 3 1 3 3 3-1 3 0 3 1 3 1 3 0M763 -233l3-4 4 4 3-1 3 1 3-7 3 2 3 2 3 1 3-2"/><path transform="translate(910.9 1599.8)" d="M0 -51l3 0 3 1 3-4 3 0 3-2 4-1 3-2 3-2 3 0 3 1 3-2 3-1 3 0 3 2 3-3 3 4 4-5 3 2 3 0 3 1 3 0 3 2M74 -63l3-1 3-2 3-1 4-4 3-1 3 3 3 1 3-2 3-4 3-2 3 1 3-2 3 1 3 3 4-3 3-2 3-5 3 2 3-2 3-1 3 0 3-2 3-4 3 4 3-5 4-1 3 0 3-1 3 0 3-5 3-1 3 1 3-2 3-4 3-2 3-2 4 1 3 1M198 -108l3-5 3 1 3-5 3-1 3-2 3-4 3-2 4 0 3-4 3 1 3-4 3-10 3-2 3-4 3 0 3-2 3-8 3-1 4-7 3 2 3-3 3-5 3-14 3 1 3-6 3-2 3-1 3-4 3-5 4-9 3-10 3-2 3 3 3-3 3-10 3-7 3-7 3-10 3 14 3-8 4-8 3-17 3-9 3 0 3-4 3-1 3-8 3-5 3-15 3 2 3-16 4-3M365 -347l3-20 3-3 3 2 3-5 3 13 3-28 3-33 3 5 4-7 3 1 3 35 3-31 3-13 3 11 3-7 3 20 3-1 3-8 3-8 4 15 3-4 3 6 3 2 3 5 3-5 3-1M467 -384l3-2 3 9 3 13 3-12 3 26M528 -356l4-4M569 -348l3-21 3 21 3-7 3-5 3 4 3 11 3 1M618 -313l3-6M640 -302l3 9 3 0 3 1 3 1M668 -284l3 0 3 2M705 -251l3-6 3 4 3 3 3 3 3 0 3 3 3 2M732 -240l4 5 3-2 3-1 3-4 3 3 3 6 3-3 3-1 3 3 3 2 3-1 4 1 3-3 3-2 3 0 3 7 3-2 3 1 3-4"/><path transform="translate(913.8 1600.6)" d="M0 -50l3 0 3-1 3-3 3 2 3-2 4 2 3-3 3-2 3-2 3-6 3-2 3 7 3-4 3 1 3-1 3-1 4 2 3 0 3 0 3 3 3-2 3-1 3-2 3 0 3 2 3-3 3-1 4-1 3-1 3 1 3-2 3 0 3-1 3-3 3 1 3-2 3 0 3 1 4-2 3 0 3-3 3 0 3-5 3 4 3-3 3 0 3-4 3 1 3-2 4-2 3-2 3-2 3-3 3 1 3 2 3-4 3-5 3-2 3-1 3-1 4-1 3-1 3 1 3-2 3-1 3-1 3 0 3-6 3-1 3-3 3 0 4-4 3-2 3-6 3 0 3-10 3-1 3-1 3-6 3-5 3 6 3-5 4-6 3-5 3-4 3-8 3-2 3-9 3 4 3-8 3 8 3-9 3-9 4-4 3-11 3 7 3-5 3-16 3 4 3-6 3-12 3 7 3 1 3-15 4-4 3-23 3 3 3 1 3-14 3-8 3 6 3-20 3 1 3-21 3-8 4-2 3 0 3-2 3-19 3 9 3-29 3 16M383 -378l3-35 3 6 4-1 3 6 3-10 3 8 3-5 3-10 3 6 3 10 3 3 3-32 3 28 4-1 3 0 3-6 3 7M442 -419l3 16 3 1M457 -395l4 4 3 2 3 8 3 0 3 7 3 13M482 -368l3 5 3 12 3-9 4 3 3 2 3 4M507 -350l3-13 3 12M581 -344l3-10 3 18M658 -281l3-2 3-1 4 6 3-3 3 3 3 11M702 -252l3-3 3 6 3 3 3 0 3 0 3 1 3 4 3 0 3 2M742 -238l3 0 3 3 3-1 3 3 3-2 3 3 3-1 3 0 4-2 3 0 3-2 3 5 3-1 3 1 3-2 3-3"/><path transform="translate(916.8 1601.3)" d="M0 -51l3 1 3-2 3-1 3 1 3-1 4-3 3 1 3-4 3 0 3-1 3 0 3-2 3 2 3-2 3 4 3-4 4 2 3-2 3 1 3-2 3 3 3-4 3 0 3 2 3-4 3 0 3 1 4-3 3 0 3-1 3 1 3-3 3 1 3-2 3 0 3 0 3 2 3-4 4 0 3-2 3-1 3-1 3 0 3-1 3 1 3-2 3-4 3-1 3-2 4 0 3-3 3-1 3-3 3 2 3-1 3-4 3-4 3 2 3-4 3 0 4-1 3-2 3 0 3-3 3 1 3 0 3-4 3-4 3-5 3-2 3-4 4 6 3-6 3-9 3 0 3-5 3-2 3-1 3-9 3 7 3-12 3 2 4-11 3 3 3-7 3-3 3-10 3-4 3 2 3 1 3 0 3-9 3-7 4-16 3 9 3-10 3-5 3-5 3 0 3-5 3-6 3-5 3 0 3-10 4-12 3-6 3 0 3 1 3-15 3-3 3-6 3-17 3 2 3-4 3-11 4 6 3-19 3-10 3-2 3-8 3-8 3-16 3-16 3 18 3-7 3-26 4 22 3-1 3-14 3 0 3 1 3-16 3 28 3-22 3 21 3-11 3 6 4-10 3 24M436 -400l3-11 3 12 3-4 3-6 3 14 3 0 3 24 4-2 3-9 3 7M473 -359l3-7M482 -343l3-15 3 1 3 5 3-1 4-2 3 13 3-22 3 17M525 -351l3-19 4 13 3 1 3-4M569 -355l3 10 3-13 3 20M584 -344l3-9 3 6M603 -328l3-6 3 12M634 -301l3 8M664 -273l4-12 3 10M717 -240l3-5 3 4 3 3M739 -235l3-2 3 1 3 4 3 1 3-6 3 6 3-1 3 1 3 0 4-5 3 1 3 2 3-1 3 2 3-2 3 3 3-4"/><path transform="translate(919.7 1602.1)" d="M0 -48l3-4 3-1 3 1 3-4 3 3 4-1 3-1 3-2 3-2 3-1 3 1 3 1 3-3 3 0 3 1 3-2 4 0 3 1 3 1 3 0 3 0 3-2 3-1 3-3 3 3 3-2 3-1 4 2 3-5 3 0 3 0 3-1 3 0 3-1 3-1 3 0 3 1 3 1 4-2 3-5 3-2 3 0 3 1 3 1 3-3 3 0 3-4 3-1 3 1 4-5 3-2 3-2 3 1 3 1 3-3 3-1 3-3 3-1 3 0 3-3 4 0 3-2 3-2 3 0 3-6 3 4 3-4 3-5 3-6 3 3 3-3 4 0 3-2 3-5 3-7 3 0 3-3 3-3 3-6 3-4 3 1 3-2 4-6 3-1 3-8 3-9 3-5 3 2 3-2 3 1 3-4 3-7 3-3 4-3 3-7 3-1 3-6 3-3 3-2 3-10 3-10 3 6 3-5 3-13 4-17 3 3 3 1 3-9 3-12 3-16 3-10 3 10M352 -310l3-8 4-14 3-7 3-3 3-21 3 2 3 5 3-16 3 0 3-10 3-27 3 7 4 17 3-9 3-3 3 3 3-18 3 12 3-6 3 16 3 2 3-16 3 24 4-26 3 22M442 -372l3-32 3-7 3 30 3-5 3-6 4 24 3-4 3 0 3 23M482 -344l3-7 3-5 3 6 3 11 4-11 3-5 3-3 3 0M525 -347l3-18 4 7 3-2 3-8M547 -355l3-7M569 -338l3-8 3-6 3 13M668 -277l3 5 3 3 3 4 3-3 3 1 3 3 3 3 3-2 3 5 3 3M711 -242l3 1 3 2 3 3 3-3 3-2M742 -231l3-4 3 3 3 1 3-4 3 6 3-1 3-3 3-1 4-1 3 4 3 0 3 0 3 0 3-3 3 2 3-3"/><path transform="translate(922.6 1602.8)" d="M0 -51l3 4 3-7 3 1 3 1 3-1 4-1 3 0 3-3 3-1 3 1 3-1 3 0 3-2 3-2 3 0 3 1 4 1 3 0 3 0 3-2 3 2 3 0 3 1 3-4 3 0 3-1 3-4 4 0 3 1 3-1 3-1 3-2 3 1 3 0 3 2 3-4 3 0 3 1 4-1 3-4 3 2 3-6 3 5 3-3 3 0 3-3 3-5 3 3 3 0 4-4 3-2 3-1 3 3 3-4 3 1 3-4 3-5 3 3 3-6 3 0 4 1 3-8 3 5 3-2 3-1 3-4 3 0 3-2 3-7 3 2 3-4 4-2 3-4 3-1 3-2 3-3 3-3 3-5 3-2 3-1 3-3 3-7 4-5 3-3 3-3 3-6 3-4 3-1 3-1 3-8 3 6 3-7 3-6 4-2 3-10 3 4 3-13 3-4 3-4 3-10 3-1 3-9 3-4 3 5 4-12 3-4 3-15 3 3 3-20 3-6 3-9M349 -311l3-6 3 9 4-22 3-17 3 23 3-33 3 0 3-1 3 2 3-11 3-9 3-17 3 15 4-19 3 19 3-18 3 8 3 3 3-9 3 9 3-12 3 11M423 -387l4-10M439 -389l3 17M451 -376l3-2 3 19M464 -365l3 2 3 3 3-3 3 1 3 21M488 -339l3-11 3 10 4-8 3-7 3-5 3-7 3 3M528 -356l4-3M544 -343l3-19 3 4 3 8 3 8 3-18 3 12M569 -337l3-3 3-7 3 1 3 11 3-20 3 6M634 -291l3-5M649 -289l3 9M668 -266l3-8 3 9 3 1M695 -251l3-4 4 11 3 0 3 1 3 1M717 -233l3-8 3 1 3-1 3 3M745 -229l3-2 3 0 3 1 3 0 3 0 3-1 3 0 4-1 3 2 3 1 3-2 3-2 3 2 3-2 3-3"/><path transform="translate(925.5 1603.6)" d="M0 -47l3-5 3 1 3-2M15 -53l4-3 3 1 3-3 3 0 3 0 3 2 3-4 3-2 3 2 3 2 3 0 4 2 3-3 3 2 3-1 3-2 3 2 3-2 3-3 3 2 3-3 3-1 4 0 3-3 3-1 3-1 3 1 3-2 3 1 3 0 3-1 3 0 3-1 4-2 3 0 3-2 3 0 3-2 3 0 3-2 3-2 3 2 3-3 3-3 4 0M161 -87l3-4 3 1 3 1 3-5 3 0 3-4 3-1 3-4 4 1 3-1 3-2 3-4 3 3 3-5 3 1 3-2 3-5 3-1 3-4 4-2 3-3 3-1 3-3 3 0 3-5 3 1 3-8 3-4 3-4 3-2 4-7 3 0 3-2 3-6 3-2 3-5 3 3 3-3 3-11 3 0 3-3 4-10 3 0 3-8 3 1 3-17 3 11 3-17 3 5 3-15 3-4 3 0 4-5 3-7 3-6 3-10 3-16 3-11 3-16 3 6 3 0 3 1 3 0 4-8 3-24 3 10 3-16 3-11 3 4 3-24 3 7 3 0 3-5 3-20 4 24 3-14 3 7 3-19 3 8 3 4 3-12 3 16 3-16 3 4M442 -365l3-14M454 -367l3 2 4-3 3 20M473 -350l3 3 3 2M488 -332l3-10 3 3 4 3 3-19 3-6 3 8 3-5 3 6M525 -362l3 9 4-10M550 -356l3 1 3 7M569 -335l3-18 3 15 3-2 3 0 3-6 3-5 3 16 3 3 3-2 4 4 3 4M658 -274l3-5 3 11M671 -265l3-1 3 2 3 2 3 2M695 -246l3-3 4 6 3-6 3 7 3 2 3 5 3-1 3-5 3 7 3-4 3-2 3 6M739 -228l3-4 3 6 3 1 3-4 3 0 3 0 3 1 3-4 3 2 4 1 3 1 3-1 3-3 3 0 3 1 3-1 3-2"/><path transform="translate(928.5 1604.3)" d="M0 -50l3-2 3-2 3 1 3-2 3 3 4-4 3 0 3 0 3-2 3 0 3 3 3-4 3 1 3 0 3 3 3 0 4-3 3 0 3 3 3-5 3 4 3-1 3-2 3-2 3-2 3-1 3-1 4-1 3 0 3-2 3 1 3-4 3 4 3-1 3-3 3 1 3 1 3-2 4-1 3 0 3-1 3-5 3 2 3-3 3-1 3 1 3-5 3 0 3-3 4 0 3-2 3 3 3-4 3 4 3-3 3-7 3 0 3-3 3 0 3 0 4-5 3 2 3-4 3 1 3-4 3-5 3 3 3-3 3 2 3-7 3 2 4-4 3-2 3-3 3 1 3-6 3 1 3-12 3 0 3-2 3-3 3-3 4-5 3 0 3-8 3-6 3 7 3-6 3-14 3 2 3 5 3-2 3-4 4-5 3-13 3-2 3-3 3-5 3-12 3-8 3-12 3 15M321 -230l4-20 3 10 3-22 3-16 3-7 3-7 3-13 3-6 3 4 3 2 3-18 4 3 3-9 3 3 3-10 3-15 3 3 3-9 3-7 3 5 3 8 3-22 4-10 3 7 3-7 3 15 3-23 3 11 3-4 3 8 3-24 3 11 3-14 4 26M442 -369l3-10 3 15 3 10 3-10 3 17 4-13 3 2 3-10 3 12 3 17 3-11 3-7 3 22 3-6 3 3 3-8 4 11 3-19 3-12 3 18 3-9 3 9M519 -352l3-9 3 4 3-3 4-18 3 13M544 -352l3-5 3 2 3 6 3 2 3 2 3 8M572 -334l3-10 3 7 3 7 3-3 3 8 3-8 3-2 3 11 4 2 3 3M668 -265l3 1 3-2 3 5 3-1 3-4 3 5M695 -244l3 0 4 3 3 3 3-2 3 4M717 -235l3-4 3 2 3-5 3 5 3 0 4 6 3 1 3-1 3 2 3 1 3 0 3 3 3-6 3 0 3 0 3 4 4-2 3 1 3 0M782 -232l3 3 3-2 3-4"/><path transform="translate(931.4 1605.1)" d="M0 -48l3-2 3-4 3 0 3-1 3 2 4-5 3 1 3 4 3 0 3-4 3-1 3-1 3 3 3 0 3 1 3 2 4-1 3-3 3 1 3-1 3-1 3-1 3-2 3 3 3-2 3-1 3-5 4 1 3-1 3-2 3 4 3-3 3 0 3 2 3-3 3 1 3-1 3-3 4 0 3 0 3-2 3-1 3-3 3-1 3 0 3 0 3-6 3 0 3-2 4-2 3 1 3-3 3 2 3 4 3-8 3 0 3 0 3-5 3-2 3-2 4-4 3 5M198 -103l3-1 3-4 3-3 3-2 3-1 3 1 3-6 4-3 3 1 3-4 3-5 3-1 3-1 3-4 3-4 3-2 3-5 3 3 4-7 3-5 3-1 3-11 3-3 3-6 3-1 3 3 3 0 3-8 3 3 4-13 3-6 3-4 3-8 3-8 3-2 3-2 3-12 3 0 3-4 3 4 4-7 3-3 3-10 3-15 3-9 3-18 3-3 3-7 3 4 3 10 3-15 4-12 3 15 3-20 3-7 3-7 3-23 3 10 3-12 3 16 3-11 3-3 4-19 3 8 3 4 3-28 3 29 3-18 3 8 3-7 3-8 3 22 3-22 4 12 3-5 3 12 3-11 3 11 3 11 3-5 3 3 3 6 3 8M461 -347l3 0 3-1 3 3 3 1 3 7 3-12 3 17 3-6 3 6 3-18 3 10 4-10 3 10 3-11 3 2 3-17 3-1 3 19M522 -348l3-14 3 9 4-8M550 -338l3-6 3 2 3 9 3-2 4-7 3 7 3 3 3-8 3 11 3 3 3-9 3 14 3-4 3 9 3-12 4 12M612 -308l3 9M652 -279l3 2M664 -265l4 3M674 -259l3-1 3-4 3 1 3 5 3 5M698 -239l4-3 3-2 3 7 3 2 3 2 3-5 3-1 3-3 3 7M739 -228l3 0 3 1M751 -227l3-4 3 2 3 1 3 1 3-1 4 2 3-5 3 3M782 -228l3-4 3 0 3-2"/><path transform="translate(934.3 1605.9)" d="M0 -50l3-1 3-2 3 2 3-1 3-5 4 3 3 0 3 1M37 -57l3 1M53 -51l3-3 3-4 3 0 3 1 3-1 3-2 3 0 3 1 3-1 3-3 4 0 3-2 3 1 3-2 3 0 3-1 3 0 3-1 3 0 3-3 3 1 4 0 3-2 3 2 3-4 3-1 3-3 3 0 3-3 3-1 3 0 3-3 4 0 3-3 3-1 3 1M170 -88l3-4 3 1 3-6 3-3 3-1 4-2 3-2 3 1 3 0 3 0 3-2 3-2 3-2 3-3 3 2 3-4 4-3 3-5 3 0 3-2 3-6 3-5 3 0 3-1 3-1 3-4 3 2 4-9 3-1 3-13 3 1 3-7 3-1 3-9 3 6 3-4 3 0 3-4 4-6 3-8 3-10 3-5 3-4 3-1 3-3 3-5 3-5 3 3 3-10 4-2 3-9 3-16 3-15 3-3 3-7 3-3 3-13 3 9 3 3 3-10 4-20 3-1 3 0 3-7 3 3 3-13 3-21 3 18 3-3 3-8 3 7 4-19 3 12 3-19 3 2 3 0 3-2 3-2 3 15 3-31 3 12 3-18 4 14 3 5 3-2 3 17 3-6 3 19 3-14 3 14 3-9 3 0 3 7 4 11 3-8 3 12 3-10 3 5 3-2 3 2 3 7M504 -347l3-4M538 -356l3 1M547 -355l3 17 3 1 3-1M584 -321l3 2 3-1 3-1 3 1 4-6 3 19 3-8 3 6M621 -304l3 8M646 -281l3 0 3 8M668 -261l3 6 3-4 3 0 3 8 3-7 3 6 3 6 3 3M705 -234l3-4 3 1 3 1 3 0 3-4 3 5 3-3 3 6 3 1 4 2 3 2 3-2 3-2 3 3 3-1 3 1 3-1 3-1 3 4 3-4 4 2 3-3 3 0 3 1 3 1 3-3 3-3 3 1"/><path transform="translate(937.3 1606.6)" d="M0 -46l3-3 3-2 3-3 3-1 3-1 4 3 3 0 3-4 3-1 3 0 3 0 3 4M53 -52l3-5 3 0 3 3 3-4 3 2 3-1 3-1 3-5 3 3 3-2 4 0 3-4 3 2 3 1 3-3 3-1 3 1 3-1 3 2 3-1 3-4 4-1 3-2 3 0 3 0 3-2 3-1 3-1 3-1 3-1 3-4 3 0 4 1 3-5 3-3 3 1 3 0 3 1 3 0 3-1 3-5 3-2 3-5 4-3 3 4 3-2 3 1 3-3 3-1 3-1 3-3 3 0 3-7 3-2 4-3 3-3 3 0 3 2 3-11 3 5 3-5 3-7 3 1 3-1 3-5 4 4 3-12 3 1 3-10 3-10 3-1 3-2 3 3 3-5 3 3 3-3 4-13 3-2 3-9 3-1 3-10 3 6 3-8 3-10 3 1 3-11 3-4 4-2 3-11 3-11 3-24 3 1 3 8 3-17 3 10 3-19 3-5 3 14 4-17 3-1 3-4 3-2 3-16 3-5 3 3M386 -331l3-27 4 9 3-13 3 4 3 9 3-20 3 13 3-24 3 6 3-15 3 15 3-2 4-13 3 16 3 9 3 6M498 -340l3-16 3 7 3-10 3 5M532 -354l3-11 3 22M640 -290l3 11 3-3 3 6M655 -269l3 0 3 4 3 8 4-4 3 3M677 -252l3-6 3 2 3 8M692 -242l3 2 3 3M705 -234l3-3 3 3M717 -238l3 0 3 0 3 5 3 1 3 1 4 4 3 2 3-1 3-4 3 2 3-2 3 1 3-1 3 1 3-1 3 2 4-4 3-3 3 5 3 0 3 1 3-5 3 2 3-4"/><path transform="translate(940.2 1607.4)" d="M0 -50l3 4 3-2 3-4 3 1 3 1 4 0 3-4 3 0 3 0 3-3 3 1 3-2 3 2 3 1M53 -53l3-1 3 0 3-3 3 1 3-1 3 0 3-2 3 0 3-3 3 1 4 1 3-2 3-1 3 0 3 1 3-5 3 2 3 0 3 0 3-3 3-1 4-3 3-1 3-2 3-2 3 2 3 0 3-2 3-2 3-1 3-2 3 0 4-2 3-2 3 1 3 0 3-5 3 4 3-3 3 0 3-3 3-3 3-2 4-1 3-3 3-5 3 3 3 1 3-3 3-2 3 1 3-4 3-4 3-1 4-2 3-5 3-1 3-2 3-2 3-4 3-3 3 0 3-6 3 8 3-9 4-5 3-8 3-4 3 3 3-9 3-4 3 1 3-2 3-2 3-2 3-6 4-5 3 0 3-8 3 0 3-17 3 2 3-9 3-8 3-2 3-12 3-1 4-8 3-4 3-14 3-2 3-14 3-2 3-9 3 5 3-7 3 12 3-11 4-16 3 1 3-10 3-17 3 14 3-19 3 9 3-5 3 0 3 9 3-1 4-17 3-9 3 15 3-11 3-12 3-11 3-5 3 18 3-15 3-6 3 14M430 -360l3-4M454 -348l3 7 4-4 3 8M494 -349l4 8M504 -345l3-13 3-2 3 12M562 -341l4 16 3-16 3 17 3 1M618 -296l3-4 3 4 3-1M634 -286l3-2 3 6 3 1 3 4M655 -268l3 9M680 -248l3-4 3 10 3-1 3 4M705 -238l3 5 3-6 3 1 3 1 3 2 3 2 3 2 3 1 3 1 4 3 3 2 3-3 3-1 3-5 3 4 3-1 3 2 3-1 3 0 3 1 4-1 3 2 3-1 3-2 3-2 3-2 3 2 3 1"/><path transform="translate(943.1 1608.1)" d="M0 -46l3-1 3-4 3 1 3-1 3 1 4 1 3-4 3-1 3 0 3-1 3 0 3-2 3 1 3-2 3 3 3 2 4 0 3 1 3-1 3-3 3-1 3 1 3 1 3-2 3-2 3 0 3 0 4 1 3-1 3-2 3-1 3 0 3-1 3-2 3 1 3-1 3-3 3-1 4 0 3-5 3-2 3 0 3 0 3-2 3-1 3 1 3-3 3 1 3-3 4 1 3-2 3-2 3 2 3-4 3 0 3-1 3-1 3-1 3-1 3-6 4 0 3 1 3-3 3-1 3-2 3-1 3-3 3 3 3-5 3 0 3-2 4-7 3-1 3-6 3-2 3-1 3-2 3 1 3-3 3-4 3-1 3-3 4-7 3 0 3-4 3-4 3-6 3-7 3 0 3-2 3-7 3 4 3-2 4-7 3-6 3-3 3-7 3-10 3 0 3-2 3-16 3-5 3 3 3-5 4-16 3-15 3 6 3-19 3-4 3 1 3-1 3 4 3-15 3 5 3-19 4 4 3-15 3 5 3-14 3 3 3-14 3 12 3-3M386 -324l3-19 4 12 3 1 3-1 3-31 3-4 3 12 3 7 3 4 3-28 3-7 3 18 4-3 3 1 3 1M454 -344l3 5M467 -326l3-22 3 16M491 -339l4-1 3-7 3-2 3 9 3-15 3-1 3 1 3-3 3 5M544 -329l3-14 3 10M559 -332l3-3 4 5 3 0 3 10M590 -317l3-5 3 10M615 -294l3-3 3 12 3-4 3-12 3 16 4-4 3 8M652 -267l3 5 3-2 3 5M668 -259l3 3 3-1 3 6 3 7 3-1 3 4M692 -237l3-5 3 6M705 -230l3-7 3-2 3 3 3 3 3 1 3 3 3 1 3-2 3 2 4 5M748 -228l3-3 3 2 3-1 3 2 3 0 3 4 4-3 3-3 3 3 3 0 3-2 3-2 3-2 3-2"/><path transform="translate(946.0 1608.9)" d="M0 -48l3 1 3-3 3 1 3 0 3 0 4-3 3-2 3 3 3 5 3-3 3-5 3 2 3-3 3 1 3-1 3 4 4-2 3 0 3-2 3 1 3-1 3-1 3 0 3 0 3-2 3 3 3-1 4-3 3-2 3 1 3 0 3-1 3 0 3-3 3-2 3-1 3-1 3-2 4 0 3-3 3 0 3 0 3-2 3-2 3-3 3 0 3 0 3-2 3 3 4-1 3-3 3-3 3-1 3-1 3 0 3 3 3-4 3 0 3-5 3-2 4 1 3-3 3 0 3-6 3 1 3-3 3-1 3 1 3-2 3 0 3-4 4-2 3-2 3-1 3-6 3 0M241 -129l3-7 3-3 3-1 3 1 4-3 3-5 3-1 3-4 3-4 3-5 3-4 3-1 3-6 3-3 3-6 4 2 3-15 3 8 3-12 3-6 3-9 3-7 3-12 3 6 3 2 3-2 4-19 3-8 3 1 3-15 3-6 3-1 3-6 3 4 3-12 3-6 3 5 4-6 3-3 3-18 3 4 3-14 3 6 3-6 3-3 3 9M393 -315l3-20 3 18 3-17 3-16 3 1 3-9M417 -365l3-8 3 10M433 -362l3 10M457 -340l4-8 3 16M470 -331l3-15 3 5 3 1M510 -344l3-14 3 8 3-21 3 12M538 -338l3-8 3 17M556 -328l3 0 3-5 4 6 3 4 3-7 3 16M584 -313l3-11 3 18M618 -290l3 0 3-10 3 12 3 2M655 -262l3 6 3-4 3 0 4 5 3 3 3 4 3 2 3 9 3-8M689 -237l3 1 3 0M705 -233l3-4 3 3 3-1 3 5 3 0 3-1 3 3 3 3 3-2 4 0 3-1 3 0 3-1 3 0 3 1 3 3 3-4 3 3 3 4 3-3 4 2 3-3 3-2 3-1 3 3 3-4 3-3 3 1"/><path transform="translate(949.0 1609.6)" d="M0 -47l3-2 3 2 3 2 3-3 3-4 4 0 3 2 3 2 3-2 3 5 3-4 3-5 3 0 3 1 3 2 3-1 4 3 3-1 3 0 3-3 3 1 3-3 3 1 3-2 3 1 3-3 3 1 4-1 3 0 3-1 3-1 3-1 3 1 3-2 3-3 3 0 3-2 3-2 4-2 3-1 3 0 3-3 3 3 3-3 3-1 3-2 3-2 3 1 3 3 4-6 3 0 3-1 3-2 3-1 3 0 3-1 3-3 3 2 3-5 3-2 4 0 3-4 3 0 3 0 3-2 3-4 3-2 3 4 3-4 3 1 3-4 4-5 3-2 3-1 3-5 3-3 3-2 3-4 3-2 3-3 3-3 3-3 4-6 3 5 3-4 3-4 3-1 3-6 3-2 3-8 3-4 3 5 3-9 4-1 3-7 3-8 3-3 3-6 3-12 3-4 3 0 3-3 3-1 3-13 4-16 3-7 3 2 3 2 3-6M346 -262l3-17 3 4 3 1 4-21 3-8 3-13 3 2 3-1M396 -318l3-26 3 17M408 -349l3-14 3 3 3 8M439 -337l3-9 3-1M454 -338l3-1 4 4 3 3 3-1 3-10 3-4 3 10 3-8M510 -345l3-9M519 -361l3-4 3 19 3-8M535 -348l3 13 3 5 3-17 3 6 3-1 3 2 3 14 3 0 3 1 4 1 3 12 3-9 3-3 3 1 3 10M612 -290l3 2 3-1 3 6 3-3M661 -252l3-6 4 5 3 2 3 8M689 -235l3-3 3 4M705 -231l3-4 3 6 3 0 3-1 3 3 3 3 3-3 3 1 3 0 4 0 3-3M745 -229l3 0 3 3 3 0 3 1 3 0 3-1 3 2 4-2 3 1 3 0 3 0 3-4 3-2 3 1 3-2"/><path transform="translate(951.9 1610.4)" d="M0 -45l3-2 3 0 3 4 3-4 3-2 4-1 3 0 3 3 3-1 3 1 3-3 3 1 3-1 3-1 3 1 3 4 4-2 3-2 3 0 3 0 3-2 3-2 3-1 3 0 3 2 3-1 3-6 4 3 3-4 3 1 3-1 3 0 3 0 3-2 3 0 3-2 3-1 3 2 4-6 3 1 3-1 3 0 3-2 3-1 3-2 3-1 3-1 3 0 3 1 4-1 3-3 3-1 3-5 3-1 3 1 3 0 3-3 3-3 3 1 3-1 4 1 3-5 3 2 3-6 3 1 3-4 3-1 3 3 3-5 3-3 3-3 4 0 3-4 3 0 3-6 3-2 3-4 3-1 3-3 3-3 3-5 3-4 4-2 3-4 3 2 3-2 3-5 3-3 3-7 3 0 3-2 3-12 3 4 4-8 3-2 3-1 3-4 3-9 3-10 3-6 3-8 3 0 3-9 3 5 4-9 3-17 3-1 3-8 3-5 3 3 3-2 3 8 3-15 3-4 3 6 4-17 3-8 3-9 3-12 3-11 3 14M380 -322l3-7 3 10 3-9 4 0 3-4 3-4 3-13 3-2 3-8 3 3 3 1 3-3 3-9 3 8M442 -350l3 9M457 -328l4-7 3 2 3-5 3-1 3 6 3-11 3 17M507 -347l3-5 3-9 3-1 3 0 3 4 3 9 3-7 4 16M538 -330l3-11 3 2 3 3 3 3 3 10M569 -311l3-8 3 7 3-10 3 16 3-16 3 15 3-6 3 8M621 -285l3-2 3 2M643 -266l3 0M658 -262l3 10 3-1 4 5 3 4M683 -242l3 7 3 0 3-3 3 1 3 2 4 0 3 7 3-1 3 1 3 2 3-3 3 2 3 4M732 -225l4-4 3 0 3 3 3-3 3 2 3-1 3 3 3 0 3 3 3-3 3-1 4 2 3 0 3-2 3 1 3-4 3-1 3 0 3-1"/><path transform="translate(954.8 1611.1)" d="M0 -46l3 1 3-2 3-1 3-2 3 0 4 3 3 0 3 1 3-3 3 2 3 0 3-2 3 1 3 0 3 0 3-1 4 2 3 0 3-2 3-1 3-1 3-3 3 1 3-3 3 1 3 0 3-2 4-2 3-3 3 2 3 1 3-1 3-5 3 4 3-2 3-2 3-1 3-3 4 2 3-2 3-1 3 0 3-1 3-2 3-2 3 3 3-5 3 1 3 0 4-2 3 2 3-6 3 0 3-1 3-2 3-3 3 0 3-3 3 2 3-4 4 1 3-4 3 1 3 0 3-2 3 1 3-5 3 0 3-4 3-6 3 3 4-5 3-3 3-2 3-4 3-1 3-7 3 0 3-4 3 4 3-7 3 0 4-9 3 0 3-2 3-5 3-4 3-2 3-8 3 0 3-1 3-5 3 0 4 0 3-9 3 3 3-18 3 0 3 0 3-12 3-14 3 11 3-5 3-9 4-1 3-22 3 4 3-7 3-4 3 1 3-10 3 8 3-5 3-12 3 1 4-6 3-11 3-12 3-12 3-11 3-4 3 0 3 13M389 -320l4-8 3-16 3 14 3-17 3 3M411 -339l3-34 3 14 3 0 3 0M436 -344l3-6 3 5 3 12M451 -320l3-27 3 25 4-19 3 14 3-8 3 2M476 -344l3-1 3 3 3-4M510 -348l3-11 3 8 3 9 3-7 3 7 3-7 4 15M541 -323l3-18 3 29M559 -324l3 13M575 -310l3-6 3 4 3 0 3 8 3 0M612 -288l3 3M621 -283l3-1M643 -265l3-2 3 9M658 -257l3 6M668 -245l3 0M686 -235l3-2 3 5M698 -233l4 1 3 0 3 6 3 2 3-1 3-2 3 5M726 -220l3-8 3 0 4 0 3-5 3 5 3 1 3 1 3 1 3 4 3-3 3 0 3 0 3 1 4-3 3 2 3 0 3-1 3-3 3-3 3-1 3 2"/><path transform="translate(957.8 1611.9)" d="M0 -45l3-3 3-1 3-1 3 3 3 1 4 0 3-3 3 6 3-5 3 0 3 3 3-3 3 1 3 0 3-1 3 2 4-4 3 3M62 -51l3-1 3-2 3 0 3 0M80 -55l3-2 4-2 3 1 3-2 3 0 3 1 3-2 3-1 3-2 3-2 3-2 3 0 4 2 3-4 3 0 3 0 3 0 3-5 3 1 3-2 3 1 3-1 3-2 4 1 3-3 3 1 3-4 3-3 3 1 3-1 3-3 3-2 3 0 3-1 4 1 3-2 3-1 3-1 3 0 3-1 3-1 3-7 3-7 3 2 3-3 4 0 3-3 3-1 3-5 3-1 3-5 3 2 3-7 3-1 3-4 3-3 4 2 3-3 3-9 3-3 3-4 3-7 3 2 3-6 3 2 3-2 3-6 4-4 3-4 3-6 3-6 3-9 3 1 3-3 3-7 3-4 3 0 3-5 4-15 3-2 3 2 3-5 3-14 3 0 3 7 3-9 3-12 3-2 3-10 4 4 3-11 3-8 3-8 3-5 3-8 3-5 3-5 3 0M389 -315l4-8 3 5 3-14 3-29 3 8 3 6 3 0 3 1M420 -353l3-9 4 0 3 7M436 -341l3 7M470 -338l3-3 3 10 3 3 3-26 3 3 3 4 3 13 4-25 3 4M507 -355l3 14M522 -338l3-6 3 6M559 -308l3-18 4 14M575 -301l3-12 3 7 3 8 3-12 3-5 3 11M603 -282l3-12M612 -283l3-2 3 2 3 0 3-4 3 8M686 -231l3-4 3 5 3-2 3 3 4 2 3 1 3 1 3 1 3 1 3-1 3 0 3 0M729 -228l3 0 4 2 3-1 3 0 3-1 3 7 3-2 3 4 3-3 3-2 3-2 3 1 4 2 3-2 3 0 3-2 3 4 3-6 3 3 3-4"/><path transform="translate(960.7 1612.6)" d="M0 -44l3-1 3-2 3 0 3 3 3 0 4-2 3-1 3 2 3-2 3 1 3-3 3 2 3 0 3 1 3-2 3 1 4-2 3-2 3-1 3 0 3 0 3-1 3 0 3-3 3 0 3 2 3-1 4-2 3-3 3 2 3-2 3-1 3 1 3-2 3-3 3-2 3 2 3-2 4 0 3-2 3 3 3-2 3-3 3 0 3-3 3-1 3-1 3 1 3-5 4 1 3 1 3-1 3-1 3-3 3-1 3-3 3-1 3 0 3-1 3-3 4 0 3 2 3-2 3-4 3 0 3-3 3 0 3-6 3-1 3-2 3-4 4 0 3-3 3-4 3-1 3-2 3-5 3 1 3-2 3-4 3 2 3-8 4 0 3-2 3-4 3-4 3-8 3 1 3 2 3-6 3-8 3-1 3-3 4-3 3-11 3 2 3-9 3 2 3-13 3-2 3-4 3-3 3 0 3-8 4-10 3-3 3 1 3-13 3 6 3-8 3-10 3-1 3-6 3-8 3-1 4-10 3 2 3-13 3 0 3-10 3-16 3-5 3 2 3-3 3 3 3 7 4-5 3-9 3 2 3-15 3 6 3-8 3-6 3 6M420 -348l3-2 4-1 3 6 3-4 3 14 3-3 3-6 3 12M470 -323l3-18M488 -339l3-8 3 10 4-19 3 6 3 10 3 5 3-20M541 -333l3 17M553 -319l3 1M562 -313l4 0 3 5 3-4 3 15M584 -299l3-5 3-3 3-6 3 13M603 -290l3-5 3 14M618 -282l3-1 3 0 3 0 3 1 4 6 3 9M661 -242l3-6 4 4M686 -229l3-2 3 0 3 0 3 6 4 2 3-6 3 6 3-3 3 3 3 1 3-5 3 0 3 0 3 0 3 0 4 2 3-2 3 2 3 1M757 -221l3 0 3-2 3 0 4 0 3-4 3 5 3-5 3 2 3-2 3-2 3 1"/><path transform="translate(963.6 1613.4)" d="M0 -43l3-1 3 0 3-3 3 4 3-1 4-1 3-1 3 0 3 2 3-1 3-2 3 2 3-1 3 1 3-2 3-1 4 0 3-4 3 3 3-4 3 1 3-1 3 0 3-2 3-1 3 2 3-2 4 0 3-2 3 1 3-3 3-1 3-2 3 3 3-4 3 3 3-3 3-1 4 1 3-3 3 0 3-2 3-1 3-3 3 0 3-3 3 1 3-2 3-1 4-1 3 1 3-1 3-1 3-2 3-2 3 2 3-2 3-5 3 1 3-3 4 1 3-2 3-1 3 0 3-6 3-2 3-1 3 1 3-4 3-5 3-3 4 1M229 -114l3-5 3 1 3-7 3 2 3-6 3 4 3-5 3-3 4 1 3-15 3 1 3-2 3-6 3-1 3-2 3-8 3 0 3-9 3 1 4-8 3-2 3-5 3 0 3-10 3-7 3 3 3-11 3 1 3 2 3-11 4-8 3-1 3-9 3-8 3 2 3-1 3-3 3-1 3-18 3-4 3-5 4 6 3-20 3 3 3-5 3-8 3-6 3-9 3-7 3 9 3-3 3 8 4-10 3 3 3-9 3-14 3-6 3 0 3-6 3-2M420 -340l3-13 4 8 3 7M436 -334l3-5 3 2 3 7M491 -351l3-6 4 18M504 -334l3-21 3 20M516 -333l3-12M525 -334l3-3 4 7M538 -327l3 5M559 -312l3-2M572 -304l3 1M581 -303l3 2 3-8 3 10 3-8 3 14M606 -284l3 5M615 -275l3-5M624 -274l3-6 3 6M658 -247l3 1 3 0 4-1 3 2M677 -234l3 0M686 -227l3-4 3 0 3 3M705 -223l3-2 3 4 3-1 3 0 3-2 3-5 3 4 3-1 3 0 4 1 3 2 3-4 3 1 3 6 3-2 3 1 3 0 3 0 3-3 3 0 4 1 3-3 3 2 3-2 3 1 3 0 3-3 3 0"/><path transform="translate(966.5 1614.2)" d="M0 -41l3-2 3 1 3 0 3-2 3-2 4 0 3 4 3-4 3 3 3 0 3-3 3-1 3 0 3 1 3-1 3 2 4 0 3-5 3-1 3-1 3 2 3-4 3 1 3-3 3 2 3 0 3-3 4 0 3 2 3-5 3 2 3-4 3 0 3 2 3-3 3 1 3-2 3 1 4-2 3 1 3-4 3-2 3-2 3 1 3-3 3-1 3-1 3 4M155 -75l3-3 3 1 3-2 3-1 3-4 3-2 3 0 3-2 3 2 3-3 4-1 3-1 3-5 3 5 3-5 3-2 3-4 3-2 3 1 3-4 3-6 4-1 3-3 3 1 3 0 3-1 3-4 3 1 3-2 3-6 3 1 3-4 4 4 3-8 3-7 3-6 3-3 3-4 3 0 3-6 3-7 3 1 3-3 4-12 3-5 3-1 3 3 3-8 3-7 3-8 3-2 3 5 3-9 3-4 4-12 3 0 3-8 3 6 3-9 3-8 3 7 3-6 3-11 3-9 3-7 4-9 3-8 3-5 3 1 3-1 3-13 3 14 3-21 3 4 3 0 3 5 4-6 3-7M402 -325l3-17 3-12 3 1 3 1 3 15 3 1 3 1 4-15 3 17 3-9 3 7 3 15 3-7 3-4 3 8M464 -329l3-9 3-8 3 11 3-4 3-6 3 1M507 -346l3-6 3 14M522 -343l3 17M535 -323l3-4M556 -316l3 11M569 -296l3-9 3 1 3 7 3-1 3-5 3 11 3-10 3 2 3 10M630 -269l4 3 3 3M661 -248l3 3 4 3 3 2 3 2 3 5M689 -232l3 3M702 -225l3 0M720 -225l3-2 3 1 3 1 3 1 4-1 3-2 3 4 3 1 3-2 3 5M760 -221l3-4 3 3 4-1 3-2 3 2 3-1 3 0 3 2 3-4 3-1"/><path transform="translate(969.5 1614.9)" d="M0 -42l3 0 3 2 3-2 3-3 3 1 4 0 3-1 3 1 3 2 3-3 3 0 3 0 3 0M49 -48l4 0 3-2 3 2 3-4 3 0 3-1 3-3 3 1 3-2 3 1 3-1 4 0 3 0 3-1 3 1 3-3 3 0 3-1 3 0 3 1 3-4 3 2 4-1 3-2 3-1 3-2 3 1 3-5 3-2 3 1 3-2 3-1 3 0 4 0 3-2 3 0 3 0 3-3 3-1 3-1 3-3 3-2 3 1 3 0 4-3 3-2 3 1 3-4 3 0 3-1 3-5 3-1 3-1 3-3 3-6 4 0 3-1 3 0 3-3 3-5 3 6 3-8 3 3 3-2 3-8 3 0 4-3 3-7 3-6 3-1 3 0 3-3 3-7 3-8 3-3 3-4 3-7 4 7 3-12 3 1 3-3 3-7 3-3 3-1 3 2 3-11 3 2 3-10 4 0 3-14 3-8 3-1 3-7 3 3 3-3 3-7 3-5 3-13 3-8 4-10 3-4 3 6 3-4 3-2 3 3 3-16 3-5 3 7 3-10 3 8 4-15 3-12 3 4 3 3 3-16 3 2 3 0 3-5 3 8 3-6M427 -334l3 9 3-7M454 -334l3-7 4-2 3 21M479 -344l3 3 3-8 3 2 3 11M519 -336l3 1 3 3 3 2M562 -302l4-8 3 12 3 6 3-12 3 5 3 6 3-5 3 2 3 0M661 -238l3-9 4 4 3 10M686 -231l3 3 3 4 3-4 3 1 4 2M717 -225l3 2M726 -223l3-1 3-1 4-1 3 5 3-1 3 2 3-3 3 2 3-2 3 1 3 1 3-3 3 3 4 0 3-4 3 3 3 0 3 0 3-1 3-2 3-1"/><path transform="translate(972.4 1615.7)" d="M0 -41l3 2 3-4 3-1 3 2 3-2 4-3 3 5 3-1 3 0 3-1 3 0 3-2 3-1 3-1 3 0 3 2 4-1 3-3 3 0 3 2 3-2 3-4 3 1 3-1 3-2 3-2 3 2 4-1 3-2M96 -58l3-3 3 1 3-1 3 0 3-1 3-2 3 0 4 0 3 0 3-4 3-2 3 0 3 0 3-1 3-4 3-1 3 3 3-1 4 2 3-3 3-4 3 1 3-2 3 0 3-2 3-3 3-4 3 0 3-1 4-1 3 1 3-3 3 0 3-1 3-4 3 2 3-7 3-2 3-1 3-4 4-1 3-5 3-1 3 0 3-4 3 2 3 0 3-1 3-2 3-7 3-5 4-2 3-4 3-2 3-7 3 1 3-6 3-1 3-4 3-3 3-6 3-9 4 0 3-8 3 4 3 3 3-12 3-1 3-12 3 3 3 4 3-10 3 0 4-6 3-13 3-9 3-1 3-10 3 13 3-14 3-3 3 2 3-20 3-4 4-10 3 17 3-13 3 2 3-17 3-12 3 13 3-7 3-8 3-5 3-11 4 8 3-2 3-9 3-1 3-10 3 13 3-2 3-10 3 1 3 13M427 -317l3-16 3 10M451 -326l3-17 3 8 4 9M467 -333l3-9M485 -345l3 4M513 -341l3-1 3 13 3-8 3 9 3-8 4 23 3-25 3 12 3-2M649 -246l3-2 3 7 3-4 3 3 3 2M689 -227l3 0 3 2 3-1 4-1 3 4 3 1M717 -226l3 1 3-1 3 4 3-3 3 0 4 2 3 5M745 -220l3-2 3-1 3 1 3 0 3-1 3 1 3 1 4-2 3 0 3 3M782 -220l3-3 3 0 3-3"/><path transform="translate(975.3 1616.4)" d="M0 -40l3 2 3-4 3 2 3-1 3-1 4-1 3 2 3 0 3-1 3-2 3-2 3-1 3 0 3 0 3 0 3-1 4 1 3-2 3-2 3-1 3 1 3 2 3-2 3-3 3-1 3-3 3 1 4-1 3 0M96 -57l3-1 3-1 3-2 3 0 3-2 3 1 3-3 4 1 3-2 3 1 3-1 3-3 3-1 3-1 3-2 3 0 3-1 3 2 4-3 3 4 3-5 3 0 3-1 3-3 3-2 3-3 3-1 3-2 3-2 4 0 3-1 3-3 3-1 3 0 3 0 3-4 3-2 3-3 3-3 3-1 4-1 3-4 3-2 3 0 3-3 3-6 3 5 3-1 3-5 3-2 3-6 4-3 3-4 3-3 3-2 3 2 3-6 3-3 3-8 3-3 3-10 3-7 4 3 3-3 3-3 3 2 3-1 3-9 3-1 3 6 3-11 3-4 3-6 4-9 3 0 3-7 3-17 3 2 3 3 3-3 3-8 3-8 3-22 3 9 4-7 3 12 3-12 3-12 3 6 3-1 3 0 3-23 3 5 3-11 3-7 4 7 3-10 3-11 3 15M414 -323l3-10 3-6 3 21 4-8 3-4 3 2 3-1 3-3M454 -315l3-21 4-1 3-2M476 -323l3-21 3-1 3 4 3-12 3 7M504 -348l3 11 3-11 3 11 3 9 3-11M532 -322l3-8 3 11M566 -298l3 0M581 -296l3-4 3 12M603 -282l3 2M655 -243l3 1 3 0 3 4 4 2M702 -223l3 2 3-5 3 0 3 0 3 2 3 3 3 0 3-4 3 0 3 4 4 3 3-3 3 3 3-2 3 1 3-5 3 0 3 1 3 1M766 -222l4-1 3 1 3 2 3-2 3 0M788 -221l3-2"/><path transform="translate(978.3 1617.2)" d="M0 -39l3-1 3-2 3 1 3-1 3 1 4-2 3 0 3 2 3 0 3-5 3 2 3-1 3-3 3 1 3 1 3-2 4 0 3-1 3 1 3-4 3 2 3-1 3 1 3-3 3 0 3-3 3-2 4-2 3 0 3 2 3 2 3-2 3-1 3-2 3-1 3-3 3 1 3 0 4 0 3 0 3-1 3 0 3-2 3-1 3-2 3 0 3-1 3-2 3 1 4-1 3-4 3 1 3-3 3 1 3-2 3-3 3 0 3-2 3-4 3-1 4-2 3 0 3 0 3-3 3 0 3 0 3-3 3-1 3-1 3-6 3 0 4 1 3-5 3-5 3 0 3 0 3-3 3 0 3-3 3-4 3-2 3-11 4 5 3-4 3-7 3 0 3-7 3-1 3-5 3-4 3-2 3 0 3-9 4-6 3-1 3 2 3-9 3 0 3 0 3-5 3-2 3 0 3-6 3-10 4-12 3 11M343 -225l3-16 3-13 3-14 3 2 4 0 3-3 3-2 3-5 3-5M383 -304l3 1 3-8 4 6 3-15 3 0M411 -327l3 6 3 2 3-2 3 1 4-9 3-1 3 2 3-3M442 -325l3-12 3 12 3 4 3-8 3 9 4-20 3 8M476 -340l3 10 3-2 3-13 3-3 3 9M519 -325l3-9 3 8 3 7 4-11 3 17 3-10 3 0M556 -300l3 2M566 -295l3-9 3 6M581 -284l3-8 3 8M606 -287l3 9M621 -267l3 1 3 2M655 -243l3 5M664 -236l4-2 3 4 3 3M698 -221l4 0 3 0 3-6 3 1 3 4M720 -220l3-2 3 1 3-2 3 3 4 1 3-3 3 3 3-1 3 0 3-4 3 1 3-1 3 1 3 0 3 2 4 0 3 1 3-1 3-1 3 1 3-1 3-1 3-2"/><path transform="translate(981.2 1617.9)" d="M0 -39l3 1 3-3 3 4 3-3 3-1 4 0 3-2 3-1 3 3 3-3 3 0 3-1 3 2 3-3 3-1 3 0 4 0 3-2 3-1 3 1 3 1 3-1 3 0 3-3 3-4 3-1 3 1 4-1 3-2 3 1 3 0 3 0 3 0 3-3 3-3 3 1 3-2 3 2 4-1 3-1 3 0 3-1 3 0 3-2 3-3 3 1 3-2 3-3 3 2 4 0 3-2 3-1 3-2 3-1 3-1 3-2 3-1 3-3 3-3 3 1 4-2 3-2 3 1 3-5 3 1 3-1 3-3 3-4 3 3 3-3 3 0 4-5 3-1 3-3 3-2 3-1 3-2 3-2 3-2 3-3 3-3 3-8 4-4 3-1 3 1 3-2 3-2 3-11 3-2 3-8 3 6 3-5 3-10 4-2 3-1 3-1 3-5 3 4 3-21 3 8 3-4 3-8 3 0 3-6 4-5 3-7 3-7 3-7 3-1 3 7 3-3 3-2 3-18 3-1 3-7 4-6 3-9 3 1 3-7 3-13 3-4 3-6 3 3 3-1 3-4 3 4 4-13 3-2 3-8 3 8M411 -317l3-1 3 2 3-13 3 14 4-18 3 8 3 1 3-10 3-8 3 22M457 -328l4-5M510 -334l3 3 3 1 3 7 3-2M532 -325l3 2M541 -309l3-9M550 -307l3 0 3 10M566 -295l3-3 3 0M581 -286l3-8M603 -273l3-8 3-1 3 3 3 5 3 4M655 -240l3 4 3-2 3 6 4 0 3 2 3-5M695 -221l3 0 4 2 3-4 3-4 3 3 3 2 3 1 3 1 3 1 3-4 3 6 3-3 4-1 3 1 3 0 3 1 3-3 3 3 3-2 3 0 3-1 3 1 3-1 4 0 3 2 3-1 3-3 3 1 3 3 3-3 3 1"/><path transform="translate(984.1 1618.7)" d="M0 -37l3 0 3 0 3-1 3-1 3-2 4 0 3-2 3 1 3-1 3 0 3-1 3 0 3-1 3 0 3-2 3 2 4-3 3-1 3 0 3 0 3-1 3 0 3-3 3-1 3 1 3-3 3 0 4-1 3 0 3 0 3 1 3 0 3-3 3-2 3-2 3 2M117 -60l4-4 3 0 3-2 3 0 3 0 3-3 3 0 3-1 3-4 3 0 3 0 4 0 3-3 3-1 3-3 3 5 3-2 3-4 3-1 3-1 3-2 3-2 4-4 3 0 3 0 3-2 3-4 3 2 3-1 3-3 3 0 3-4 3-1 4-1 3-1 3-2 3-4 3 3 3-3 3-3 3-2 3-6 3-2 3-8 4-2 3 1 3 2 3-12 3 0 3-5 3-2 3-3 3-11 3 2 3-7 4-5 3 1 3-3M303 -186l3-10 3 2 3-7 3 3 3-5 3-3 4 1 3-12 3 0 3-6 3-7 3 0M346 -236l3-15 3-12 3-5 4 1 3-12 3 2 3-5 3-12 3 2 3-3 3 6 3-7 3-9 3-7 4-5 3 12 3-25 3 15M408 -313l3 5 3-1 3-17 3 13 3-5 4-3 3-4 3-27 3 23 3 6 3-2 3 1 3-2 3 13 3-23 3 7M550 -302l3 2M559 -296l3-4 4 5M572 -286l3-8 3 8M584 -290l3 4M603 -272l3-9 3 4 3 1 3 5 3 7 3-5 3 0 3 5 3 4M652 -239l3 3 3 4 3-5 3 7 4 0 3-6 3 3 3 1 3 4 3 1 3 0 3-1M708 -218l3-2 3 3 3-4 3 3M729 -216l3-1 4-2 3 1 3-1 3 0 3-2 3 0 3-1 3 2 3 0 3 1 3-2 4 4 3-4 3 2 3-1 3-1 3 0 3 0 3-1"/><path transform="translate(987.0 1619.4)" d="M0 -36l3-1 3 0 3-1 3-2 3-1 4 0 3-2 3 0 3 1 3 0 3 2 3-2 3-1 3-1 3-2 3 0 4-1 3 0 3 0 3 0 3-2 3-1 3 1 3-2 3-2 3 0 3-1 4-2 3-1 3 1 3-2 3 3 3-5 3 0 3-2 3-2 3 1 3 0 4-3 3 2 3-3 3 1 3-1 3 0 3-3 3-2 3-1 3 0 3 1 4-3 3 0 3-2 3 0 3-1 3 0 3-3 3 1 3-1 3-3 3-1 4-2 3-3 3-1 3-3 3-2 3 0 3-1 3-4 3 3 3-5 3-1 4-2 3-2 3-2 3-4 3 5 3-5 3-3 3 2 3-6 3-8 3 0 4-6 3-2 3-3 3-1 3-3 3-5 3 0 3-11 3 0 3-4 3-9 4 1 3-13 3-3 3 1 3 4 3-7 3-3 3-2 3-5 3-8 3-1 4-5 3-4 3 1 3-9 3-3 3-11 3 5M352 -254l3-8 4-5 3 7 3-17 3-3 3-8 3 0 3-2 3-8 3-1M389 -313l4-1M414 -311l3-9 3 9 3-11 4-6 3 8 3-8 3-1 3 6M454 -327l3-23M525 -328l3 10 4-7M547 -300l3 1M572 -285l3-5 3-1 3-4 3 9 3-3 3 4M600 -274l3 5 3-1 3-4 3 7 3-2 3 6 3 0 3-5 3 8 3 0 4 3 3 8 3 0 3-1 3 5 3 6 3 5 3-1M661 -229l3-3 4 0 3 4 3-1 3 2 3-2 3 1 3 1 3 5 3 1 3 0 3 0 4-1 3 6 3-4 3 4M732 -216l4-1 3-3 3 2 3 1 3-1 3 0 3-2 3-1 3-1 3 4 3-2 4 3 3-1 3-2 3-1 3 0 3 1 3-1 3-1"/><path transform="translate(990.0 1620.2)" d="M0 -36l3 0 3 0 3-1 3-2 3 1 4-3 3-1 3 1 3-1 3 1 3 1 3-1 3-2 3-1 3-1 3-1 4 0 3-3 3 1 3 0 3-2 3-1 3 2 3-3 3-2 3 0 3 2 4-2 3-1 3-2 3 0 3-1 3-1 3 0 3-3 3 3 3-3 3-1 4-1 3-1 3-1 3-1 3 0 3-3 3-1 3-1 3 3 3-2 3-1 4-1 3-3 3 2 3-4 3 0 3 0 3 0 3-1 3-1 3-3 3-2 4-3 3-1 3-2 3-2 3 0 3-2 3-4 3 1 3-5 3 0 3 2 4-3 3-1 3-1 3 0 3-7 3-3 3-3 3-1 3 0 3-1 3-7 4-5 3 1 3 0 3-2 3-2 3-10 3-5 3 3 3-9 3-11 3 4 4-15 3-3 3-2 3 0 3-1 3-2 3-8 3 5 3-3 3-5 3-15 4-7 3 5 3-8 3-4 3-10 3-3 3-2M349 -247l3-12 3-3 4-12 3 8 3-14 3 0 3-11 3 8 3-19 3 6 3-17 3-3 3 6 4-14 3 0 3-1 3 6 3 14 3-10M423 -324l4 2M461 -348l3 11 3 2M488 -350l3 6M498 -343l3 15M525 -322l3 1 4 0 3 5M544 -305l3 8 3-6 3 5 3 3M566 -301l3 19 3-2 3-8 3 8 3 0 3-1 3-8 3 12 3-5 3 10 4 6 3-2 3 7 3 3 3 5 3 3 3-5 3 7M627 -255l3-1M640 -251l3 9 3-2 3 7M661 -230l3 0 4 1 3 2 3 1 3 0 3 1 3 1 3-4 3 5 3 4 3-2 3-1M711 -219l3-2 3 0M729 -214l3 0 4-2 3 1 3 0 3 0 3-2 3-2 3-1 3 3 3-1 3-1 3 2 4 0 3 1 3-3 3-1 3 0 3-1 3 0 3 0"/><path transform="translate(992.9 1621.0)" d="M0 -35l3 0 3 0 3-1 3-1 3-1 4-1 3-3 3 1 3 0 3 1 3 0 3-2 3 0 3 1 3-4 3 0 4-3 3 2 3-1 3-1 3 0 3-2 3-1 3-1 3-1 3 0 3-1 4 2 3-5 3 0 3 1 3-1M105 -57l3-3 3-3 3 2 3-1 4-1 3-2 3 0 3-1 3-2 3-3 3 1 3 1 3-3 3 1 3-2 4 0 3-2 3-1 3 1 3-2 3 0 3 0 3-3 3-2 3-2 3-2 4-3 3 2 3-3 3 0 3-2 3-3 3 1 3-4 3-4 3 2M223 -102l3-2 3-3 3 0 3-7 3-3 3-2 3 4 3-6 3-1 3-5 4-1 3-1 3-2 3-5 3-7 3 2 3-5 3-5 3-5 3-5 3-7 4-5 3 3 3-13 3 8 3-9 3 0 3 5 3-11 3-11 3-8 3-2 4-1 3-11 3 9 3-5 3-18 3 2M352 -265l3 2 4-7 3 3 3-2 3-4 3-5 3-13 3-7 3-14 3 1 3-2 3-5 4-4 3 20 3-20 3 17 3 3 3-21 3 6 3 7 3-10 3-3M427 -324l3 3 3-3M473 -349l3 9 3-9 3 2M504 -340l3 34M522 -323l3 2 3-1 4 4 3 1M544 -289l3-18 3 12 3-7 3 8M562 -287l4-4 3 2 3 8 3 9 3-15 3 6 3-8 3 4 3 6 3 8 3 4 4-6 3 4 3 8 3 1 3 1M618 -248l3-13 3 5 3 1 3 2M640 -243l3 5 3 0 3 2 3-1 3 6M664 -230l4 3 3 1 3-3 3 4 3 0 3 4 3 3 3-2 3-2M698 -219l4 0 3 3M717 -222l3 1 3 4 3 0 3 5 3-4 4 1 3-2 3 3 3-2 3-2 3 1 3 0 3-1 3 0 3 1 3 2 4-2 3-2 3 0 3-3 3 0 3 2 3 0 3 0"/><path transform="translate(995.8 1621.7)" d="M0 -35l3-1 3 0 3 0 3-1 3-1 4-1 3 0 3 0 3-1M34 -39l3-3M46 -43l3-2 4-1 3-1 3-2 3 3 3-4 3 0 3-1 3 2 3-3 3-1 3 1 4-1 3-1 3-3 3 0 3-2 3 1 3-2 3 1 3-1 3-2 3 1 4-2 3 1 3-2 3-2 3-2 3-2 3-2 3 2 3 0 3-2 3 1 4-2 3-1 3-3 3 0 3-2 3-1 3 3 3-4 3-4 3 0 3-1 4 2 3-4 3 2 3-3 3-1 3-3 3-2 3-2 3-5 3 1 3-2 4 2 3-5 3-1 3-3 3-3 3 0 3 0 3-8 3 2 3-2 3-2 4-2 3-4 3-4 3-2 3 0 3-11 3-3 3-1 3-3 3-5 3-13 4 1 3-9 3 3 3-4 3 6 3-1 3-7 3 1 3-7 3-14 3-12 4 0 3 4 3-6 3-12 3-7 3-20 3-4 3 6 3-18 3 13 3-2 4-14 3 13 3-5 3-16 3 7 3-16 3-4 3-4 3-16 3-8 3 4M402 -304l3 0 3-7 3-9 3 13 3-7M423 -313l4-7 3-5 3-4 3 6 3-21 3 31M464 -338l3-7 3-3M476 -341l3-8 3-7 3 19M519 -314l3-7 3 11 3-2 4-10 3-1 3 17 3 12 3-5 3 3 3 1 3-4M562 -280l4-8 3 9M575 -279l3-3 3 5 3-3 3 6 3-4 3 9 3 5 4-4 3 9M624 -255l3 3 3 2M646 -237l3 1 3 3 3 0 3 2M674 -222l3-1 3 1 3 4 3-3 3-2 3 0 3 0 3 5 4-1 3-2 3 0 3-1 3-1 3 5 3 2 3-1 3 5 3-2 3 0 4-1 3 1 3-2 3 1 3-2 3 2 3-1 3-1 3-1 3 2 3 1 4 0 3-3 3 0 3-2 3 0 3-1 3 2 3 0"/><path transform="translate(998.8 1622.5)" d="M0 -32l3-2 3-1 3-2 3-1 3-1 4 1 3-3 3 1 3-2 3 2 3-4 3 2M43 -43l3-1 3-1 4 0 3-1 3 0M65 -47l3-3 3 0 3-2 3 1 3 0 3 0 4-3 3-5 3 4 3-1 3-3 3 1 3-2 3 0 3 0 3 0 3 0 4-2 3 0 3-4 3 2 3-3 3-3 3 0 3-2 3 3 3-1 3 1 4-6 3 4 3-5 3 0 3 1 3-2 3-3 3 0 3-2 3-3 3-1 4-1 3 0 3 1 3-1 3-3 3-3 3-3 3 0 3-4 3 1 3-3 4 0 3-1 3 0 3-7 3 0 3-3 3-3 3-3 3 1 3-3 3 0 4-7 3 2 3-3 3 0 3-9 3-8 3-5 3 1 3-7 3-7 3 1 4-7 3-5 3-3 3 8 3-2 3-9 3 2 3-7 3 0 3-16 3-4 4-10 3 6 3-7 3-6 3-9 3-7 3-12 3 0 3-9 3 1 3-6 4-2 3 0 3-1 3 2 3-8 3 0 3-7 3-9 3-17 3-6 3-6 4 17 3-11 3 20 3-7 3-14 3 15 3-4 3-6 3-24 3 9 3 13M433 -328l3-11M457 -338l4 2M476 -344l3-3 3 1M507 -325l3-5 3 7 3 2 3 7M525 -310l3-3 4 7 3-4 3 14M550 -300l3-3 3 8M566 -274l3-11 3 3 3 9 3 1 3-5 3 3 3 2 3 2M596 -258l4-6 3 3M609 -255l3 0M624 -256l3 7 3-5 4 15M640 -237l3 0 3 4 3 7M658 -229l3 0 3 2 4 3 3 1 3 0 3 3 3 1 3-3 3 0 3-2 3 3 3 2 3 0 4 1 3-3 3 1 3 1 3-1 3 4 3 0 3 2 3 3 3-2 3-1 4 3 3-4 3 0 3 1M751 -216l3-3 3 3 3-1 3 3 3-1 4-1 3 0 3-2 3-2 3 2 3-2 3 2 3-1"/><path transform="translate(1001.7 1623.2)" d="M0 -33l3-2 3 1 3-2 3-3 3 1 4-1 3 1 3-1 3 0 3-5 3 1 3-1 3 0 3 1M49 -45l4 0M65 -47l3-2 3-1 3 0 3 0 3-3 3 3 4-4 3 1 3-2 3-1 3-2 3 2 3 0 3-4 3 1 3-1 3-1 4-2 3 0 3 0 3-4 3-2 3 0 3 0 3-2 3 1 3 1 3-2 4 0 3 0 3-3 3 0 3-2 3-1 3 0 3-2 3-4 3 0 3-2 4 0 3 0 3-2 3-1 3-2 3-3 3-5 3-1 3 0 3-3 3 0 4 2 3-6 3-4 3 2 3 0 3-8 3-1 3-1 3 2 3-6 3-2 4-2 3-2 3-5 3 0 3-6 3 0 3-7 3-7 3-3 3-8 3-4 4-3 3 0 3-4 3 5 3-4 3-9 3 4 3-10 3-2 3-5 3-7 4-11 3 3 3-4 3-17 3-11 3-6 3 7 3-14 3-3 3 0 3 1 4-3 3 3 3-2 3-15 3 6 3 1 3-11M383 -292l3-20 3-4 4 18 3-8 3 12M408 -298l3-16 3-8 3 2 3 7 3-10 4-9 3 9 3-11 3 3 3 3M479 -348l3-5 3 12M510 -315l3-14 3 13 3-1 3-2 3 16M532 -302l3-1 3 20M547 -300l3 5 3 5 3-1 3 9 3 4 4 3 3 1 3 4 3-3 3 0 3 1 3 0 3 3 3 6M606 -254l3-1M618 -250l3-6 3 5 3 3 3 1 4 9M646 -232l3 0 3 0 3-1 3 5 3 2 3 4 4 1 3 1 3-2 3 2 3 2 3-3 3-1M695 -216l3-1 4 0 3 2 3 0 3-3 3-4 3 6 3 1 3 3 3 1 3 0 3 0 4 1 3-3 3-2 3-3 3 2 3 0 3-2 3 2 3 0 3 3 3-3 4 1 3-1 3 0 3-2 3-1 3 1 3-2 3 4"/><path transform="translate(1004.6 1624.0)" d="M0 -33l3-1 3-2 3-2 3 2 3-1 4 2 3-5 3 0 3-1 3-1 3-1 3 1 3-2 3-2 3 0 3 0 4-1 3-4 3 2 3 0 3 2M71 -50l3 1 3-3 3 0 3-2 4-1 3 1 3-1 3-2 3 2 3 0 3-2 3-2 3 0 3-1 3-2 4 1 3-4 3 0 3-1 3-3 3 0 3 1 3-2 3 2 3-1 3 1 4-1 3-3 3 1 3-4 3 0 3-1 3 1 3-3 3-2 3-4 3 2 4 0 3-2 3-2 3-1 3-4 3-1 3-6 3 1 3-1 3-5 3 3M226 -102l3-6 3 1 3-1 3-5 3-3 3-5 3-1 3-2 3-3 4 1M263 -133l3-2 3-4 3-5 3-6 3 0 3-8 3-4 3 0 4-9 3 1 3-3 3-2 3 3 3-10 3 1 3-6 3-8 3 2 3-5 4-7 3-10 3-9 3 3 3-24 3 3 3-7 3 6 3-6 3-8 3 13 4-12 3 6 3-7 3-4 3-3 3-18 3-15 3 3 3 7 3-15 3 2 4-4 3 7 3-12 3 10 3 2M411 -296l3-12 3-5 3-3 3-3M457 -330l4-28 3 16M510 -313l3-2 3 1 3-8 3 16M528 -304l4 10 3-2 3-2M547 -290l3-13 3 12 3 7 3 2 3 12M572 -272l3 8 3-7M584 -267l3 0M606 -254l3-6 3 0 3 1 3 7 3 4 3-1 3 1 3 5 4 3 3 9M646 -229l3-4 3 3 3 0 3 3 3 1 3 5 4-2 3 1 3 1 3 0 3 2 3 0 3-1 3-1 3 5M702 -215l3-2 3 1 3-2 3 2 3 1 3 1 3 3 3 3 3-2 3-2 4 1 3-2 3 2 3-7 3 2 3 1 3-2 3 1 3 0 3-1 3 3 4-1 3 1 3-2 3-2 3-1 3 1 3 1 3-1"/><path transform="translate(1007.5 1624.7)" d="M0 -33l3-2 3 0 3-2 3 1 3 0 4-1 3-1 3-1 3-2 3-2 3 4 3-2 3-2 3-2 3 0 3-3 4 2 3-2 3 0 3-1 3-1 3 2 3-2 3 1M80 -51l3-2 4-1 3-2 3 3 3-3 3-1 3 1 3-2 3 0 3-2 3 0 3-4 4 2 3-1 3-1 3 0 3-2 3-2 3-2 3 2 3 0 3 1 3-1 4-2 3-1 3-2 3-2 3 1 3-3 3 0 3 1 3-3 3 1 3-2 4 1 3-5 3 0 3-6 3 0 3-3 3 0 3-3 3-1 3-2 3-4 4-1 3 0 3 0 3-1 3-3 3-3 3-7 3-1 3-3 3-1 3-4 4-5 3 0 3-3 3 1 3-5 3-3 3-7 3-6 3-3 3-8 3-1 4 3 3-5 3-5 3 5 3-9 3-1 3-2 3-4 3 0 3-11 3 2 4-6 3-15 3-1 3-23 3 0 3-7 3-2 3 4 3-6 3-4 3 5 4-7 3 2 3 1 3-12 3-2 3-13 3-3 3-4 3-2 3-7 3-4 4 1M411 -292l3-22 3 14M436 -342l3-15M464 -339l3-6 3 1M507 -307l3-6 3 2 3-4 3 7M535 -300l3 4M547 -291l3 5M572 -264l3-2 3-7 3 6 3 1 3 0 3 7M606 -257l3 0 3 3 3 4 3 2 3 4 3-1 3 8 3-1 4 4 3 5M643 -229l3-5 3 3 3 5 3 2 3 2 3 1 3-1 4 5 3-3 3 1 3 0 3-3 3-2 3 5 3-1 3 3 3 1 3-2 4 6 3-5 3 0 3 5 3-1 3 0 3 0 3 2 3 1 3 1 3 0 4-2 3 1 3-5 3 0 3 2 3-4 3 1 3 1 3 2M766 -215l4 1 3-2 3 0 3-1 3 2 3-1 3 2 3-2"/><path transform="translate(1010.5 1625.5)" d="M0 -33l3-4 3 4 3-1 3-2 3 1 4-3 3-1 3-3 3 2 3-1 3 1 3-2 3 0 3-1 3-2 3 0 4-2 3-1 3-2 3-1 3 0 3 2 3 0 3-4 3 1 3-1 3-2 4 1 3-2 3 2 3-2 3 0 3-2 3-1 3-1 3 1 3-1 3-1 4 0 3-1 3-1 3-2 3 0 3-4 3 1 3 0 3 2 3 1 3-3 4 0 3-3 3 0 3-2 3-1 3-1 3-1 3-1 3 2 3-1 3-3 4-1 3-3 3 0 3-4 3-4 3 0 3-2 3-1 3-2 3 1 3-2 4-4 3 2 3-6 3-1 3 0 3-3M244 -120l3-2 3-5 3 0 4-5 3-1 3 0 3-4 3-1 3-4 3-4 3-8 3-10 3 1 3 0 4-3M297 -167l3-3 3-1 3-9 3-4 3 3 3-10 3-7 3-1 4-5 3-14 3-5 3-10 3 3 3-17 3 10 3-9 3 1 3-5M362 -233l3-22 3 5 3-7 3-21 3 3 3-8 3-16 3-2 3 1 4 0 3 17 3-19 3-1 3-3 3 25M414 -299l3-25 3-2 3-10 4 9M454 -345l3 4 4-4M485 -333l3 4M504 -320l3 13 3 2 3-8 3 6 3-5 3 0 3 15 3 3 4 2 3-11 3 2 3 15 3-8 3 14M556 -269l3-6 3 13M572 -265l3-5 3 6 3-1M587 -263l3 5 3-8 3 3 4 10 3-2 3 1 3 5 3 0 3-1 3 5 3 4 3 3 3 0 3 5 4-1 3 1 3 0 3 3M652 -223l3 2 3 1 3 0 3-3 4 5 3 5 3-7 3 1 3 2 3-3 3 3 3-1 3 2 3-2 3 3 4-1 3 0 3 7 3-3 3 0 3 2 3 3 3-2 3 1 3-2 3 1 4-3 3 0 3-3 3 3 3-3 3 1 3 0 3-2 3 0 3 0 3 4 4-2 3-3 3 1 3-2 3 1 3 2 3 0 3-1"/><path transform="translate(1013.4 1626.2)" d="M0 -33l3 0 3 0 3-1 3-2 3 0 4-3 3-1 3-3 3 3 3 0 3-1 3 0 3-3 3 2 3-5 3 2M56 -46l3-2 3-1 3 0 3-2 3 0 3-1 3-1 3-2 3 1 4-1 3 0 3 0 3 2 3-4 3 1 3-1 3-1 3 0 3-3 3-2 4-1 3 2 3-1 3-1 3-2 3 0 3-1 3 1 3 1 3 0 3-1 4-3 3-3 3 2 3-2 3-2 3-1 3 1 3-3 3 1 3-1 3-1 4-2 3-3 3 0 3-2 3-3 3 1 3-6 3 1 3-2 3-3 3-4 4 1 3 0 3-1 3-4 3-3 3-9 3-2 3 5 3-7 3-5 3-5 4 6 3-6 3-8 3 2 3-4 3-1 3-8 3-2 3-9 3 0 3-9 4 0 3 2M300 -169l3-3 3-6 3-4 3-2 3-2 3-6 3-8 4-13 3-7 3-16 3 6 3-3 3 2 3-6 3-3 3-3 3-8 3-6 4 15 3-1 3-8 3-8 3-11 3 6 3-8 3-4 3-7 3-8 3 2 4-7 3-3 3 9 3 3 3-12 3 10 3-15 3 17 3-30 3-1M442 -343l3 8M482 -327l3-4 3 1 3 5 3-4 4-1 3 17 3 3 3 8M516 -300l3-1M532 -296l3 2 3-1 3 4 3 2 3 4 3 9M572 -261l3-1 3-7 3 7M587 -254l3-5 3 9 3-8 4 1 3 9 3 0 3 0M615 -241l3 1 3 2M630 -232l4 0 3 0 3 2 3-2 3 2 3 8 3 2M658 -218l3-1 3 3 4 0 3 1 3-2 3-2 3 0M692 -216l3 1 3 0 4-3 3 8 3-2 3 1 3-1 3 4 3 0 3 0 3-3 3 3 3-2 4-2 3 0 3 1 3-3 3 1 3-1 3 0 3-2 3 1 3-1 3 1 4-1 3-2 3 2 3 0 3 1 3 0 3-1 3 2"/><path transform="translate(1016.3 1627.0)" d="M0 -33l3-1 3 1 3 0 3-3 3-1 4-2 3-2 3 0 3 0 3 0 3 0 3 0 3-3 3 1 3-4 3 0 4-1 3 2 3-3 3 0 3 0 3-4 3 1 3-1 3 1 3 0 3-3 4 0 3 0 3 0 3 2 3-3 3-1 3-2 3 1 3-2 3-1 3 0 4 1 3-1 3-3 3 1 3 0 3-2 3 1 3-2 3 1 3-1 3 0 4 0 3-3 3-1 3-1 3-2 3 0 3-1 3 0 3-1 3 2 3-4 4-3 3-1 3-3 3-2 3-1 3 1 3-2 3 0 3-6 3-2 3-4 4 0 3 1 3-6 3 1 3-6 3-4 3-5 3-3 3-1 3-1 3-2 4-2 3-7 3-3 3-4 3-5 3 6 3-6 3-10 3-5 3-3 3 1 4-13 3 9M300 -162l3-17 3 0 3-2 3 1 3-9 3-7 3 0 4-29 3 2 3-1 3-1 3-4 3-16 3 6 3 3 3-16 3 0 3 1 4 4 3-2M377 -268l3 3 3-16 3-5 3-9 4 3M399 -285l3-2 3-2 3 9M423 -335l4-7 3-7M467 -345l3-6 3 11 3 14 3-21 3 27 3-9 3-4 3 16 4-5 3 11 3 1 3 6 3-12M513 -303l3 7M528 -292l4-1 3 7 3 1 3 0 3 10 3 1 3-3 3 10M572 -251l3-14 3 1 3-2 3 10 3-2 3 2 3 10 3-9 4 0 3 5 3 3 3 0 3 4M624 -229l3-4 3 4 4-2 3 4 3-4 3 5 3-2 3 10M655 -217l3 1 3-2 3 2 4 2 3-4 3 3 3-3 3 4 3-3 3 0M698 -217l4 7 3 0 3 0 3 2 3 0 3 1 3 1 3-1 3-1 3-1 3 0 4 0 3-1 3 0 3 1 3-2 3 1 3-1 3-3 3 1 3-4 3 1 4-1 3-1 3 2 3 0 3 2 3-2 3 1 3 1"/><path transform="translate(1019.3 1627.7)" d="M0 -33l3 0 3 1 3-2 3-1 3-2 4-2 3 1 3-1 3-3 3 1 3 0 3-1 3 0 3-1 3 0 3-3 4 1 3 0 3 0 3-2 3-1 3-2 3 0 3-2 3-1 3 0 3-1 4-2 3 2 3 0 3 0 3-3 3 0 3-3 3 1 3 0 3-2 3 1 4 0 3-2 3 0 3-2 3 2 3-3 3 1 3-1 3-1 3-2 3 2 4-2 3 0 3-2 3-1 3-2 3 1 3 0 3-1 3-1 3-2 3-4 4-2 3 1 3-2 3 0 3-4 3-2 3 0 3-1 3-4 3-3 3-1 4-4 3 1 3-3 3-2 3-5 3-6 3 0 3-6 3 0 3-1 3-5 4-1 3-5 3-3 3 2M272 -144l3-1 3-6 3-7 3-7 3-4 4 0 3-5 3 9M306 -175l3-6 3-6 3-3 3-18 3 2 4-14 3 0 3-7 3-2 3 1 3-8 3 4 3-4 3-8 3-9 3 10 4-3 3-17 3 4 3-1M380 -267l3-11 3-5 3-9 4-1 3 8 3-2 3-2 3 7M414 -313l3-23 3 4M436 -337l3-5 3-1M464 -339l3-6 3 4M476 -329l3 5 3 2 3 12 3-8 3-1 3 10 4-1 3 6M522 -298l3 0 3 6 4 0 3 9 3 7M544 -275l3 3 3 0 3 1 3-3M575 -249l3-4 3-1 3 1 3 2 3 3 3-4 3 7 4-1 3 4 3-4 3 3 3 1 3 6 3-6 3 10 3 5 3-2 3 1 4-3 3 1 3 3 3 3 3 3 3-1 3 3 3 9 3-4 3 2 3-2 4-5 3 5 3 0 3-6 3 3 3-1 3-1 3 4 3-1 3-1 3 6 4 2 3-1 3 0 3 0 3 3 3 0 3 2 3-1 3-2 3 1 3-4 4 2 3-2 3 1 3 2 3-1 3-4 3 0 3 0 3-2 3 0 3-3 4 1 3 1 3 0 3 2 3-2 3 2 3-2 3 3"/><path transform="translate(1022.2 1628.5)" d="M0 -33l3-1 3 0 3-2 3-2 3-2 4 2 3 1 3-2 3-2 3 0 3-2 3 2 3 0 3-2 3-2 3 1 4 0 3 0 3-3 3 0 3 0 3-3 3-2 3 1 3-2 3 0 3 2 4-2 3-1 3 0 3 0 3 0 3-3 3 1 3-4 3 1 3 0 3 0 4-1 3 2 3-2 3-2 3 1 3-3 3-1 3-1 3-2 3 1 3 0 4 0 3-2 3-2 3 0 3 1 3 0 3-2 3-3 3 0 3-3M189 -80l3-3 3-1 3 0 3-3 3-1 3-2 3 1 3-4 3-2 3-3 4-4 3-2 3-2 3-3 3-1 3-7 3-1 3-1 3-6 3-3 3 0 4 1 3-5 3-4 3-5 3 1 3-1 3-12 3-5 3-5 3-1 3-5 4-1 3 0 3-2 3-2 3-6 3 3 3-5 3-8 3-9 3-18 3 10M331 -215l3-9 3 4 3-11 3-16 3 7 3-4 3 4 3-8 4 4 3-15 3-2 3-13 3 11M380 -255l3-16 3-13 3 2 4-8 3 8 3 1 3 0M408 -300l3-22M427 -346l3-2 3 3M439 -350l3 12 3-12 3 7M454 -337l3-20 4 9 3 9 3-5 3-1 3 11 3 13M482 -302l3-11 3-3 3-4 3 19 4-5M519 -291l3-5 3 10 3-12 4 21 3-1 3 2 3-2 3 6 3 3M553 -273l3 7M575 -245l3-3 3-8 3 9 3 1 3 1 3 4 3 0 4-3 3 4 3-7 3 12M618 -225l3-5 3 4 3-2 3 5 4-3 3 2 3 0 3 3 3 1 3 3 3 1 3 4 3-1 3 1 3-3 4 1 3 1 3-1 3-4 3 4 3 0 3-3 3 4 3-2 3 8 3-6 4 4 3 0 3 1 3 0 3 1 3 3 3-2 3-2 3 4 3-3 3-1 4 0 3-1 3 3 3-5 3 0 3-1 3-2 3 2 3-3 3-1 3 0 4 0 3-1 3 3 3-1 3-1 3 3 3 0 3-1"/><path transform="translate(1025.1 1629.3)" d="M0 -33l3-1 3 0 3-3 3 0 3-1 4-1 3 3 3-3 3-1 3-1 3 0 3-1 3 0 3-1 3-2 3 2 4-2 3 0 3-1 3-1 3-2 3-2 3 1 3-1 3 1 3-2 3 1 4-2 3 1 3-3 3 0 3-1 3-3 3 0 3 2 3 1 3-3 3 0 4 1 3-2 3-1 3 2 3-2 3 0 3-4 3-2 3-1 3 1 3 0 4-2 3 0 3-2 3 1 3 0 3 0 3-2 3-3 3-3 3-3 3-2 4 2 3-2 3 1 3-1 3-2 3-3 3-1 3 0 3-3 3-4 3-4 4-2 3-3 3-5 3 2 3-3 3-7 3 1 3-1 3-1 3-7 3 2 4-4 3-1 3-2 3-12 3 3 3-4 3-5 3-4 3-8 3-2 3-4 4 1 3 0 3-9 3 0 3-3 3 0 3-12 3-4 3-17 3 0M328 -219l3-1 3 0 3-3 3 3 3-3 3-18 3-1 3 6 3-21 4 8 3-11 3-4 3-3M377 -256l3 0 3-9 3-8 3-6 4-3 3-5 3 12 3-15 3-17 3-9 3-10 3-7 3 1 3-10 3-16 4 17M464 -340l3 9 3 1 3 5 3 6 3 22 3-7 3 7M491 -298l3-9 4 1M522 -291l3 8M535 -260l3-9 3 5 3-6 3-2 3 4 3-4 3 14 3-7M575 -243l3-5 3 4 3 1 3 6 3-1 3-6 3-1 4 7 3 1 3-2 3 2 3 4 3 6M621 -229l3 6 3-3 3 10 4-2 3 4 3 0 3-5 3 1 3 6 3-1 3 4 3-1 3-1 3 0 4-1 3 2 3-5 3-1 3 2 3 2 3 2 3-3 3 9 3-3 3 0 4-2 3 1 3 1 3 1 3 0 3 0 3 2 3-1 3 0 3 0 3-1 4-3 3 0 3 0 3-1 3-2 3 1 3-1 3-2 3 0 3 0 3-1 4 2 3 0 3-1 3-1 3 1 3 0 3 3 3-2"/><path transform="translate(1028.0 1630.0)" d="M0 -32l3-1 3-1 3-1 3-1 3-1 4-2 3 2 3-2 3 0 3-4 3 2 3-1 3-2 3 0 3 2 3-2 4 0 3-2 3-1 3-2 3-1 3 0 3-2 3 2 3-1 3 0 3-1 4 1 3 0 3 0 3-2 3-2 3-3 3 0 3 1 3 1 3-1 3-4 4 1 3 1 3 1 3 0 3-1 3-5 3 1 3-3 3-1 3 0 3 1 4-1 3-2 3 1 3-1 3 0 3-2 3-3 3-1 3-3 3-4 3 1 4-3 3 2 3-1 3 0 3-3 3-1 3-2 3 0 3-5 3-1 3-7 4-3 3-3 3 1 3-5 3-1 3 0 3-2 3-3 3-5 3 0 3-5 4-2 3 0 3-1 3-7 3-2 3-6 3-2 3-4 3-2 3-6 3 0 4-1 3-5 3-6 3-1 3-2 3-12 3-6 3-8 3-16 3 0 3-6 4 5 3 6 3-6 3-6 3 5 3 1 3-5 3-4 3-6 3-7 3-13 4-5 3 2 3-12 3-3 3 0 3 15 3 3 3-7 3-5 3-11 3-14 4 9 3-1 3 1 3-20 3-9 3-6 3-11 3-7 3-9 3-5 3 13 4-20 3 26M464 -336l3 5 3 9 3 9 3 13 3-6 3 7M491 -298l3-15 4-4M535 -254l3-15 3 3 3 3 3-11 3 5 3 0 3 7M566 -252l3 2 3 3 3 3 3 2 3 3 3-3 3-1 3 2 3 2M603 -233l3-5 3 7 3 4 3-3 3 1 3 4 3 0 3 7 3 3 4 0 3 2 3 1 3-2 3 0 3 4 3 1 3-4 3 3M664 -209l4-3 3 1 3-2 3 4 3-2 3-3 3 3 3 7 3-1 3-1 3-3 4 3 3 0 3 1 3 0 3 2 3-4 3 2 3 0 3-1 3 1 3-3 4 1 3-3 3 0 3-2M751 -212l3-1 3-1 3-2 3 1 3 0 4 1 3 0 3-1 3 2 3 0 3 0 3 2 3-3"/><path transform="translate(1031.0 1630.8)" d="M0 -33l3 0 3 1 3-3 3-1 3 1 4-3 3 0 3-1 3-2 3 0 3 0 3-1 3 1M46 -42l3 1 4-3 3-2 3-1 3-2 3-1 3-1 3 1 3-2 3-1 3 2 3 1 4 0 3-1 3-1 3-5 3 0 3 0 3 1 3-1 3 1 3-1 3-4 4 2 3 1 3 1 3-2 3-2 3-2 3-2 3 0 3-1 3 0 3 1 4-2 3 1 3-2 3 0 3-2 3-1 3-5 3 1 3-3 3-2 3 0 4-2 3-1 3-3 3 0 3-2 3 0 3 0 3-2 3-2 3-5 3-5 4-4 3 1 3-2 3-4 3 1 3-2 3-1 3-3 3-2 3-5 3-2 4-4 3-4 3-4 3-2 3 2 3-7 3-5 3-4 3-2 3-2 3 0 4-5 3-7 3 2 3-11 3-9 3-2 3-16 3-7 3-14 3 3 3 9M328 -209l3-5 3-4 3-1 3-2 3 2 3-3 3-17 3-5 3-5 4-16 3-1 3 5 3 9 3 3 3-6 3-4 3 2 3-9 3-8 3-9 4 15 3-17 3-14 3-14 3-3 3 1 3-14 3 1 3-12 3-1 3-4 4 8 3 1 3-13 3 15M448 -338l3-2M491 -301l3-18 4 2 3 20M519 -287l3 5 3 0 3 15M547 -265l3 1 3 0 3 3 3 2 3 3 4 6 3 8M584 -235l3 1 3-6 3 0 3 0 4 4 3 2 3 7 3 4 3 0 3-4 3 1M624 -219l3 5M634 -206l3-2 3 0 3-1 3 0 3-1 3-2 3 0 3 1 3 3M668 -207l3-3 3 5M683 -211l3 8 3 1 3 1 3-5 3 0 4 1 3 0 3 2 3-2 3-1 3 0 3 0 3-1 3 0 3 2 3-3 4 0 3-2 3-4 3 1 3-1 3 1 3-2 3 2 3-1 3 2 3 0 4-2 3 1 3 0 3 1 3 1 3 0 3-2 3-1"/><path transform="translate(1033.9 1631.5)" d="M0 -33l3 0 3 1 3-2 3 1 3-3 4-1 3-1 3-1 3-1 3-3 3 2 3-2 3-1 3 1 3 3 3-3 4-2 3-2 3 1 3-3 3 2 3-4 3-1 3-2 3 4 3 1 3-2 4 0 3 0 3-5 3-1 3 2 3 0 3 1 3-1 3-1 3-1 3-1 4 0 3 1 3 0 3-2 3-2 3 1 3-3 3 0 3-3 3 1 3-2 4 1 3 3 3-2 3-1 3-5 3-1 3-2 3-4 3-1 3-2 3 0 4-1 3 1 3-3 3-3 3 1 3 0 3-2 3-2 3-5 3-3 3-5 4-2 3-2 3-4 3 2 3-2M241 -117l3-3 3 0 3-6 3-2 4-5 3-1 3 0 3-5 3-2 3-3 3-5 3 2 3 1 3-8 3-4 4-5 3 0 3-11 3-12 3-1 3-15 3-7 3 1 3-8 3-5 3 5 4-1 3 11 3-3 3-6 3-3 3-2 3-4 3-8 3-7 3-10 3 10 4-25 3 8 3 8 3-5 3 12 3-10 3 0 3-10 3-8 3-6 3 7 4-9 3-12 3 1 3-18 3-7 3-4 3-27 3-3 3 22 3-12 3-6 4-3 3 10M454 -329l3-15 4 26 3 1 3 7 3 5M479 -294l3-5 3-9 3 5 3-8 3 10 4-1 3-1 3 12M519 -277l3-5 3 19 3 2M538 -261l3-8 3 5 3 2M553 -266l3 6 3 6 3 8M569 -239l3-4 3 5M581 -232l3-2 3 0 3-6 3 2 3 5 4 5 3 1 3 6 3 0 3-2 3-2 3 0 3 5 3 4M630 -207l4-1 3 0 3 3 3-1 3 1 3-6 3 5 3-3 3-3 3 2 3 1 4 3 3-3 3-4 3 3 3-2 3 12 3-3 3-1 3-1 3 3 3 1 4-1 3 0 3-2 3 0 3 1 3-3 3-2 3 1 3 1 3-1 3 1 4-1 3-6 3 3 3-4 3 1 3 0 3 0 3 1 3-2 3 0 3 0 4-1 3 1 3 1 3 1 3 1 3 1 3-3 3-1"/><path transform="translate(1036.8 1632.3)" d="M0 -33l3-2 3 4 3-1 3-1 3-3 4-1 3-2 3 0 3-3 3 0 3-1 3 0 3 4 3-3 3 0 3 0 4-4 3-2 3 1 3 1 3-1 3-4 3 2 3 0 3 0 3 1 3-1 4-2 3 0 3-5 3 0 3 2 3 1 3-2 3 1 3-1 3-1 3-1 4 1 3 0 3-3 3-2 3-1 3 1 3-1 3-3 3 1 3-1 3 1 4 0 3 1 3-1 3-5 3-1 3-2 3-3 3-2 3 0 3-2 3 0 4-1 3-1 3-1 3 1 3-3 3-2 3-2 3-2 3-6 3-4 3 0 4-2 3-6 3 0 3-4 3-3 3 4 3-1 3-3 3-3 3-1 3-11 4-3 3-2 3 0 3-8 3-3 3 4 3-7 3 5 3-5 3-3 3-7 4-6 3 1 3-5 3-15 3-8 3-9 3-5 3-1 3-6 3 10 3-5 4 4 3-7 3-6 3 7 3-9 3 2 3-4 3-9 3-2 3-7 3-9 4-10 3 6 3 6 3 7 3 0 3-7 3-5 3-7 3-4 3 0 3 1M396 -286l3-18 3 6 3-22 3-19 3 1 3 6M420 -318l3-14 4-12 3-1 3-5 3 1 3-5 3 21M448 -345l3 2M467 -309l3 8M482 -290l3-14 3 5M494 -290l4-1 3-11 3-4 3 18 3-3 3 2 3 5 3 12 3 10 3-1 3 8M541 -261l3-1 3-2 3 0 3 3 3 9 3 5 3-1 4 9 3 2 3-3 3 4 3 5 3-1 3-2 3 1 3-5 3 1 3 10 4 3 3 3 3 5 3-4 3 0 3-3 3 5 3 5 3-1 3 8 3 0 4 1 3-1 3 1 3-2 3 0 3-1 3-1 3 0 3 1 3 3 3-2 4 1 3-1M677 -211l3 11 3-5 3 1 3 2 3 1 3-2 3 4 4-2 3 0 3-3 3 2 3-4 3-1 3 1 3 0 3-1 3 1 3-1 4-5 3-2 3 0 3-1 3 2 3-1 3 2 3-2 3 1 3 0 3-1 4 2 3 1 3 1 3 0 3 0 3-2 3-1 3-1"/><path transform="translate(1039.8 1633.0)" d="M0 -32l3-2 3 1 3-1 3 0 3-2 4 0 3-4 3-1 3-1 3 3 3-2 3 0 3 0 3 0 3 0 3-2 4-3 3-1 3 0 3 1 3-2 3 3 3-2 3-1 3-1 3-1 3-1 4-2 3 0 3-3 3 2 3 1 3 0 3-1 3-2 3 0 3 1 3 2 4-2 3-2 3-2 3-1 3-1 3-1 3 0 3-3 3 3 3-1 3 0 4 2 3-2 3-4 3-2 3-2 3-4 3 0 3 0 3-2 3 0 3-2 4 2 3-4 3 0 3-2 3 1 3-4 3-4 3-4 3-1 3-7 3-1 4-1 3-4 3 0 3-4 3-4 3 1 3 2 3-1 3-4 3-4 3-2 4-4 3-7 3-8 3 7 3-9 3 3 3-2 3-2 3-1 3-2 3-2 4-4 3-16 3-7 3-11 3-10 3 1 3-6 3-1 3 2 3 9 3-12 4 9M331 -196l3-3 3-10 3-6 3-6 3-10 3-13 3 7 3-10 4 3 3-7 3 24 3-14 3 6 3-9 3-7 3-19 3 18 3-4 3-32 4 4 3-5 3-5 3-14 3-12 3-13 3-5 3 1M427 -338l3-3 3-7 3 5 3-4 3 8 3-9 3 15M457 -305l4-7M473 -286l3-3 3-2 3 3 3-15 3-2 3 9 3 11 4-2 3-1 3-9 3 0 3 16M516 -272l3 3 3 16 3-12 3-8 4 7 3 3 3 2 3-2 3 9 3 1 3-3 3 6 3-1 3 11 3-4 4 6 3 6 3-1 3-5 3 9 3 0M587 -233l3 3 3 2 3 7M603 -212l3-7 3 0 3 0 3 1 3 4 3 2 3 3 3 4 3 1 4 1 3 0 3-5 3 4 3 1 3-3 3 0 3-1 3 3 3-2 3 0 4-1 3-3 3-3 3 12 3 0 3-2 3 0 3-1 3 3 3 1 3 1 4-1 3-1 3 1 3-3 3-2 3-1 3-1 3 0 3 2 3-1 3-3 4 0 3-4 3 1 3 0 3 1 3 1 3 0 3-1 3 1 3-2 3-2 4 2 3 2 3-1 3 1 3-2 3 1 3-1 3-2"/><path transform="translate(1042.7 1633.8)" d="M0 -34l3 0 3 1 3-1 3-4 3 2 4-2 3-1 3-2 3 2 3-1 3 1 3 1 3 1 3-3 3 1 3-5 4-2 3-1 3 2 3-1 3 2 3 0 3-1 3-1 3-1 3-2 3 0 4-4 3-2 3 2 3 0 3 2 3-3 3 1 3-3 3 0 3 0 3 1 4-2 3 0 3-1 3-2 3 1 3-2 3 1 3-2 3-1 3 1 3 0 4-3 3 0 3-1 3-2 3-3 3-2 3-2 3 1 3-4 3 2 3-1 4-2 3-1 3 0 3-2 3-3 3-1 3-5 3-3 3-3 3-4 3 0 4-2 3-1 3-3 3-2 3-7 3 3 3-4 3 2 3-3 3-4 3-7 4-1 3-3 3-8 3 1 3 1 3-1 3-1 3-4 3 1 3-5 3-5 4-7 3-11 3-9 3-16 3-3 3-1 3 7 3 2 3 4 3-7 3-4 4 3 3-2 3 1 3-9 3-2 3-2 3-15 3-2 3-2 3-11 3 1 4 1 3 6 3-3 3-3 3-14 3 5 3-5 3-2M386 -267l3-33 4 22 3-18 3-1 3-12 3-2 3-14 3-11 3 21 3-11 3 1 3-16 4 10 3-18 3 6 3 15 3 9 3-29 3 16 3-1 3 0 3 10 3 20M464 -299l3-3 3-4 3 27 3-16M485 -289l3-8 3 16 3 4 4-7 3-5 3-3 3 6 3 3 3 5 3 11 3 11 3 1 3-5 3-8 4 9 3 6 3-2 3 6 3-1 3-3 3 7 3 2 3-2 3 6 3 7 4 4 3-1 3 1 3 3 3-3 3-4 3-6 3 9 3 1 3 8 3 3 4 4 3-3 3-1 3 0 3 1 3 2 3 5 3-2 3 3 3 7 3-2 4 3 3 0 3-3 3 0 3 1 3-5 3 4 3 1 3-3 3 1 3 1 4-2 3-2 3 10 3-3M683 -202l3-1 3 4 3 0 3-1 3 2 4-1 3-3 3 1 3-4 3-1 3 0 3 1 3 1 3-1 3-4 3-1 4-1 3-2 3 2 3-2 3 2 3 0 3 1 3 0 3-3 3 4 3-2 4 0 3 0 3 1 3-2 3 2 3-1 3-2 3 1"/><path transform="translate(1045.6 1634.5)" d="M0 -33l3 0 3 0 3-3M15 -37l4 2 3-3 3 1 3-2 3-1 3 2 3-1 3 0 3-1 3-1 3-4 4 0 3-2 3 3M65 -44l3-1 3-1 3 1 3-1 3-3 3-5 4 1 3 2 3 0 3 2 3-2 3-4 3 0 3 1 3 1 3-1 3-2 4 0 3-1 3 0 3-1 3-1 3-1 3 0 3-1 3 1 3-1 3-2 4-2 3-1 3-1 3-3 3-1 3-1 3-2 3-1 3-1 3-1 3 1 4-3 3-2 3 0 3 0 3-6 3-2 3-3 3-3 3-1 3-6 3 0 4-1 3-1 3-4 3-3 3 1 3-5 3 2 3-5 3-2 3-2 3-4 4-1 3-7 3-2 3-4 3-1 3 4 3-11 3 7 3-1 3-6 3-8 4-10 3-8 3-18 3-2 3-8 3 4 3 14 3 0 3 0 3-7 3-1 4-1 3 4 3-8 3-10 3 3 3-9 3-7 3-5 3-5 3-10 3 3 4 1 3 6 3-16 3 4 3-2 3-5 3 1 3-18 3-4 3-11 3 9 4-22 3 2 3-11 3-20 3 4 3-14 3 1 3 24 3-9 3 8 3-18 4-14 3 18 3-14 3 17 3 1 3-11 3-6 3 17 3-2 3 17 3-9 4 11 3 9 3-3 3 16 3-5 3-16 3 7 3-4 3 15 3 11 3 0 3-4 4-3 3-2 3 0 3 8 3 0 3 8 3 3 3 11 3-11 3 2 3 7 4-1 3 1 3 2 3-2 3 0 3 5 3 7M556 -236l3 1 3 7 4 0 3 1 3 2 3-6 3 6 3-9 3 3 3 4 3 2 3 10 3 1 4 6 3-6 3-2 3-1 3 3M618 -208l3 5 3 1 3-2 3 1 4 0 3 2 3-3 3 5 3-1 3-1 3-4 3 0 3-1 3 1 3 1 4-1 3 10 3-8 3-1 3 0 3 2 3 1 3 2 3 1 3 2 3-3 4 0 3-1 3-1 3-3 3 0 3-1 3 4 3-3 3-6 3 2 3-4 4-1 3 2 3-2 3 3M751 -208l3 0 3-2 3 0 3 0 3 2 4-4 3 1 3-1 3-1 3 0 3 0 3-1 3 0"/><path transform="translate(1048.5 1635.3)" d="M0 -32l3-2 3-2 3 0 3-1 3 1 4-2 3-1 3 1 3-2 3 0 3 3 3-2 3-3 3 1 3 0 3-2 4-1 3-1 3-1 3 1 3 2 3-1 3-1 3-1 3-3 3-2 3-2 4 3 3-1 3 1 3-2 3-1 3 0 3-1 3 0 3 2 3-1 3-2 4 0 3-2 3 0 3-1 3 0 3-1 3 0 3 0 3-1 3-2 3-1 4-1 3-3 3-1 3-3 3 1 3 0 3-4 3-3 3 0 3-1 3 0 4 1 3-1 3-2 3-5 3-3 3-3 3-1 3-4 3-1 3-2 3-3 4 2 3 1 3-5 3-4 3 2 3-9 3-3 3 1M250 -119l3-4 4-8 3-1 3 3 3-3 3-5 3-6 3 2 3 0 3-7 3-1 3-10 4-7 3-12 3-16 3 8 3-5 3 8 3-3 3-1 3 3 3-6 3-2 4 0 3-8 3-2 3-1 3-2 3-2 3-12 3-3 3-16 3 4 3 7 4-2 3-13 3 12 3-11 3-10 3 8 3-7 3-11 3-16 3-2 3-7 4-12 3-6 3-17 3 5M408 -311l3 1 3-3 3-7 3 1 3-3 4 2 3 2 3 5 3 0 3 4 3-7 3-9 3 22 3-6 3 16 3-9 4 10M467 -285l3-7 3 6 3-10 3 7 3 18 3-5 3 8 3 5 3-12 4-1 3 1 3-6 3 15 3 2 3 11 3-4 3 7 3-11 3 5 3 0 4 12 3 1 3-5 3 12 3-4 3-3 3 5 3 1 3 7 3 1 3 6 4 3 3 3 3-2 3-2 3-4M584 -222l3 0 3 4 3 7 3 2 4 2 3-13 3 7 3-4 3 3 3 6 3 3M624 -200l3-2 3 1 4 0 3 0 3 0 3 3 3-3 3 2 3-1 3-1 3 0 3-5 3-1 4 10 3-2 3-2 3 0 3 0 3-1 3 1 3 2 3-2 3 3 3-2 4 1 3-1 3-1 3-4 3 1 3-1 3 1 3-1 3-3 3-2 3-3 4-1 3 1 3 2 3 0 3 1 3 2 3-1 3 0 3 1 3 0 3-1 4-1 3-2 3-2 3 0 3-2 3 3 3 1 3-2"/><path transform="translate(1051.5 1636.0)" d="M0 -33l3-1 3 0 3-1 3-2 3 2 4-1 3-2 3 1 3-1 3 0 3-1 3 0 3-1 3-2 3 2 3-6 4 2 3-1 3-1 3 1 3 2 3-2 3 0 3-1 3-3 3-2 3 2 4-1 3 1 3 0 3-1 3-2 3 0 3-1 3 1 3-1 3-1 3-1 4 0 3-1 3-1 3 1 3-1 3 0 3-1 3 0 3-1 3-2 3-3 4 0 3-3 3-2 3 0 3-2 3 0 3-1 3-2 3-2 3-1 3-2 4 1 3-4 3-1 3-2 3-2 3-2 3-3 3-2 3-2 3-2 3-1 4-4 3-3 3 0 3-2 3 0 3-8 3-2 3-1 3-2 3 5 3-9 4-1 3-5 3 4 3-5 3-4 3-4 3 0 3 0 3-6 3-13 3-7 4-3 3-14 3-2 3-3 3 5 3-4 3 8 3-5 3 3 3-7 3-4 4 2 3-8 3-5 3-6 3 2 3 3 3-13 3-4 3-8 3 14 3-7 4-12 3 7 3-5 3-11 3-5 3 2 3-17 3-6 3-11 3 3 3-16 4 3 3-12 3-9 3-15 3 0 3 8 3-7 3 5 3 8 3-2 3-4 4 12 3-8 3 3 3 9 3-9 3 14 3-4 3 2 3-11 3 24 3-9 4 1 3 7 3 1 3 11 3 4 3-15 3 14 3 1 3 6 3-10 3 4 3 10 4-9 3 1 3 4 3 6 3 8 3-1 3 2 3 1 3-6 3 9 3 1 4 2 3-3 3 7 3-6 3 8 3 3 3 4 3 1 3 4 3 3 3 0 4 0 3 4 3-4 3-3 3 0 3 1 3 4 3 3 3 2 3 0 3 2 4 1 3-1 3 3 3 3 3 1 3 1 3-1 3 5 3-2 3 0 3 3 4-2 3 2 3 3 3-1 3 0 3 0 3-1 3-1 3-3 3 0 3 8 4-1 3-3 3-1 3 0 3-1 3 0 3 2 3-1 3-2 3 0 3 1 4-3 3 2 3-2 3-1 3 2 3 0 3-1 3-3 3-4 3 0 3-1 4 1 3-1 3 3 3-2 3 2 3 1 3-3 3 3 3 0 3-1 3-2 4 0 3-3 3-1 3-1 3 2 3 0 3-1 3 2"/><path transform="translate(1054.4 1636.8)" d="M0 -33l3-1 3 0 3 0 3-2 3 0 4 0 3-1 3-1 3 0 3-1 3-1 3 0 3-1 3 0 3-1 3 0 4-1 3-1 3-1 3-1 3 1 3-2 3-1 3 2 3-1 3-1 3 0 4-1 3 0 3-2 3 2 3-1 3-2 3 1 3-1 3-1 3 1 3-2 4-1 3 1 3-1 3-1 3 0 3-1 3 0 3-2 3-1 3-1 3-2 4-1 3-1 3-3 3 0 3-3 3 1 3-4 3 0 3-1 3-3 3-1 4-2 3-1 3-2 3-3 3 0 3-3 3-3 3 0 3-4 3-2 3-1 4-1 3-4 3-1 3-3 3-1 3-1 3-4 3-1 3-4 3-2 3 1 4-3 3-5 3-2 3-1 3-4 3-2 3-3 3-7 3-7 3-9 3-7 4-9 3 8 3-5 3-1 3 3 3-7 3 4 3-4 3 2 3-6 3-7 4-5 3-1 3 0 3-10 3 5 3-1 3-5 3-1 3-7 3-1 3-5 4-1 3-8 3 3 3-8 3-13 3 0 3-5 3-13 3-15 3 9 3-7 4-15 3 5 3-10 3-7 3-12 3 3 3-2 3 7 3 7 3-1 3 5 4-6 3 9 3 4 3-8 3 12 3 1 3-2 3 6 3 2 3 0 3 2 4 6 3-6 3 8 3 2 3 2 3 3 3-6 3 10 3-7 3 11 3-2 3 1 4 6 3 0 3 0 3 3 3 4 3-3 3 6 3 2 3-1 3 3 3 2 4 2 3 0 3 6 3-5 3 6 3 4 3-1 3 1 3 3 3-2 3 3 4-8 3 8 3 6 3 0 3-1 3 5 3-2 3 3 3-2 3 0 3 7 4-4 3 6 3-3 3 3 3-1 3 4 3-3 3 1 3 5 3-2 3 1 4-1 3 2 3-4 3 5 3 0 3-1 3 1 3-4 3-2 3 7 3-1 4-2 3 0 3 0 3-1 3 1 3-2 3 0 3-1 3 0 3 0 3 0 4-2 3 1 3 0 3-2 3-1 3-1 3 2 3-5 3-1 3 1 3-3 4 2 3 1 3-1 3 1 3-1 3 2 3-2 3 1 3-1 3 0 3-1 4-2 3-1 3-2 3 0 3 1 3 0 3 1 3 0"/></g><g stroke="url(#gc)"><path transform="translate(1845.6 1451.2)" d="M-284 -214l3 0 3 3 3 11M-258 -181l3 5 3 0 3 11M-240 -160l3 6M-220 -133l3-1 3 5M-205 -124l3 7 3-1 3 0 3 6 3 1 3 7 3-3M-173 -101l3 3 3-1 3 1 3 6M-152 -89l3-1 3 1 3 3 2-1 3 2 3 0 3 1 3 2 3 0 3 2 3 0 3-1 3 6 3-3 3 3 3 1 3 2 2 2 3 1 3 2 3 1 3 2 3 2 3 0 3 4 3-1 3 3 3 2 3 0 3 2 3 2 2 2 3 0 3 4 3-1 3 2 3 1 3 3 3 0 3 3 3-1 3 2 3 0 3 1 3 1 2 0 3 1 3 3 3-2 3 1 3 1 3 0"/><path transform="translate(1842.5 1451.9)" d="M-255 -181l3 5 3 3 3 6M-237 -160l3 3 3 5M-225 -146l2 5M-214 -132l3 4 3-1 3 4 3-2 3 9 3 5M-182 -104l3-2 3 3M-170 -101l3 2 3 5 3 2 3-3 3 1 3 1 3 2 3 3 3 5 2-2 3 3 3 0 3 0 3 2 3 1 3 0 3-2 3 4 3 1 3-1 3 1 3 4 3 0 2 0 3 6 3-2 3 1 3 3 3 2 3 2 3 3 3-1 3 1 3 3 3 0 3 1 3 2 2 2 3 1 3-1 3 4 3 4 3-1 3 1 3 1 3 0 3 4 3 2 3 1 3-1 3 1 2 1 3 1 3-1 3 1 3 2 3-2 3 1"/><path transform="translate(1839.4 1452.7)" d="M-299 -232l3 9 3-2 3 4M-278 -217l3 10 3 2M-252 -183l3 8 3 5 3-1 3 2 3 5 3 3 3 4 3 6 3 1 2 3 3 4 3 6 3 0 3 5 3 4 3 3 3 7 3-3 3 3 3 4 3 0 3 1 3 2 2 0 3 4 3 4 3-3 3 3 3 0 3 7 3 2 3 1 3 2 3-3 3 3 3 1 3 6 2 0 3-1 3 0 3 4 3 1 3 3 3-2 3 0 3-1 3 1 3 4 3 2 3-1 3 2 2 0 3 3 3 2 3 3 3 3 3 1 3 0 3 4 3-1 3 2 3 0 3 2 3 0 3 1 2 0 3 2 3 2 3 1 3 3 3 2 3 1 3 0 3 2 3 2 3 0 3 2 3 2 3 2 2-1 3 2 3 0 3-1 3 0 3 1 3-1"/><path transform="translate(1836.3 1453.4)" d="M-305 -251l3 13M-290 -224l3 4 3 3 3-2 3-2 3 5 3 6 3 9M-249 -181l3 7 3 3 3 1 3 0 3 8M-220 -147l3 5 3 0 3 8 3 4 3 0 3 4 3 3 3 4 3 6 3-2 3 1 3-1 2 4 3-1 3 5 3 2 3 2 3 3 3 3 3 3 3 1 3 2 3-2 3-3 3 4 3 9 2-2 3 1 3 2 3-1 3 1 3 1 3 4 3 0 3 1 3-2 3 4 3 4 3-3 3 1 2 1 3 6 3 0 3 0 3 2 3 3 3 3M-76 -57l3-1 3 2 3 1 3 2 3-2 2 3 3 3 3 0 3 0 3 5 3-1 3 3 3 1 3-1 3 2 3 2 3 2 3 2 3 1 2 2 3-1 3 2 3-1 3-3 3 3 3 0"/><path transform="translate(1833.2 1454.1)" d="M-299 -236l3-9 3 19 3-2 3 10M-275 -218l3 6M-243 -170l3-5 3 12 3 2 3 0 3 2 3 1 2 4 3 1 3 10 3 3 3-4 3 9 3 2 3 5 3 0 3 9 3 1 3-2 3 9 3-4 2 0 3 4 3-2 3 6 3 0 3 6 3 3 3 2 3 4 3 0 3-2 3 2 3-3 3 4 2 5 3-1 3 4 3 1 3-1 3 4M-120 -78l3 0 3 1 3 4 3-1 3 5 3 0 2 1 3-1 3 1 3 1 3 3 3 3 3 4 3-3 3 1 3-1 3 5 3-1 3 2 3-1 2 3 3 1 3 2 3 1 3 1 3 1 3 2 3 1 3 3 3-1 3 2 3 2 3 2 3 0 2 3 3 1 3-2 3 1 3-1 3-1 3 1"/><path transform="translate(1830.1 1454.8)" d="M-293 -223l3-9 3 11 3-2 3 5 3-6 3 6 3 2 3 12 3-14 2 21M-243 -177l3 3 3 3M-231 -161l3 2 3-5 2 10 3 0 3 6 3 3 3-1 3 6 3 5 3 7 3-1 3 0 3 10 3-2 3 4 3 4 2 2 3-3 3 5 3 3 3-1 3 2 3 4 3 0 3 5M-152 -89l3-3 3 3 3-3 2 1 3 5 3 2 3 3 3 1 3 1M-120 -80l3 2 3 3 3 1 3 1 3 3 3 0 2 2M-79 -58l3-1 3 1 3 3 3-1 3 3 3 0 2 2 3 1 3 2 3 1 3 1M-41 -45l3 1 3 1 3 2 3 2 3-1 3 3 3 1 2 3 3 0 3 2 3-1 3-2 3 0 3 0"/><path transform="translate(1827.1 1455.5)" d="M-290 -230l3 1M-281 -219l3-3 3 8 3-3 3 10M-234 -167l3-2 3 5 3 6 2 1 3 1 3 7 3-1M-205 -132l3 2M-193 -124l3 1 3 5 3 2 2 3 3 3 3 2 3 3 3 0 3-2 3 7 3 0 3 1 3 3 3 2 3 2 3 1 3 0 2 1 3 1 3 4 3 3 3 2 3 1 3-2 3 1 3-4 3 8 3-1 3 4 3 2 3 2 2 1 3 0 3-2 3 2 3 2 3 1 3 2 3 1 3 3 3 1 3 0 3 4 3 2 3-2 2 2 3 3 3 1 3 2 3-1 3 0 3 0 3 0 3 3 3 0 3 5 3-1 3 2 3 0 2 4 3 2 3-1 3 1 3 0 3-2 3 1"/><path transform="translate(1824.0 1456.3)" d="M-287 -234l3 12M-237 -187l3 14 3-1 3 10 3 4 2 0 3 3 3 6 3 4M-205 -139l3 4 3 5 3 1 3-3 3 10 3 2 3 4 2-1 3 0 3 10 3-3 3 6 3-3 3 1 3 6 3-1 3 5 3-3 3 5 3 4 3 2 2-3 3 0 3 2 3 4 3 4 3 0 3 4 3-1 3-3 3 3 3 3 3 5 3-3 3 3 2-1 3 4 3 1 3 0 3 1 3 2 3 0 3 0 3 2 3 0 3 7 3 0 3 1 3 1 2 3 3 0 3 1 3 1 3 2 3 0 3-1 3-1 3 1 3 2 3 4 3 0 3 1 3 0 2 3 3 0 3 2 3 0 3 3 3 0 3-2"/><path transform="translate(1820.9 1457.0)" d="M-290 -253l3 9M-275 -221l3 2M-240 -192l3 2 3 0 3 14 3 6 3 4 2 6 3 0 3 7 3 3M-199 -136l3 6 3-1 3 1 3 3 3 7 2 4 3 1 3 4 3 2 3 3 3 2 3 0 3 0 3 3 3 6 3-2 3 4 3-2 3 4 2 2 3 2 3-2 3 4 3 2 3 3 3 0 3-1 3 2 3 1 3 5 3 0 3 2 3-2 2 5 3-2 3 2 3 0 3 3 3 2 3 0 3 0 3 3 3-1 3 1 3 3 3 3 3 3 2 1 3 0 3 0 3 3M-41 -46l3 0 3-1 3 2 3 2 3 1 3 4 3-1 2 1 3 0 3 4 3 3 3 0 3-1 3 1"/><path transform="translate(1817.8 1457.7)" d="M-293 -266l3 23 3-15 3 16M-240 -200l3 5 3 7 3 0 3 13 3 1 2 10 3 9M-205 -148l3-5 3 10 3 7 3 3 3 7 3 1 3 3 2 7 3 3 3 0 3 6 3 0 3 0 3-2 3 4 3 4 3 2 3 1 3-1 3 6 3 2 2 0 3 3 3-1 3 2 3 0 3 1 3 6 3 1 3-3 3 2 3 1 3 7 3-3 3 2 2 1 3-1 3 4 3-1 3 1 3 1 3 3 3 3 3-2 3 2 3 3 3 2 3 0 3 3M-53 -48l3-2 3 3 3-2 3 2 3-1 3 3 3 0 3 2 3 0 3 4 3-1 2 2 3 2 3 3 3 0 3 2 3 0 3 0"/><path transform="translate(1814.7 1458.5)" d="M-293 -257l3-3M-240 -205l3 1 3 8 3 7 3 6 3 11 2 9 3 1 3 2 3 6 3 1 3 1M-202 -150l3 5M-193 -132l3 6 3 3 3 0 2 2 3 7 3 5 3-4 3 5 3 0 3 5 3-1 3 0 3 5 3 2 3-1M-141 -90l3 0 3 3 3 1 3 3 3-2 3 4 3-2 3 2 3 0 3 2 3 4 3 2 3 3 2-1 3 1 3 3 3 1M-85 -64l3-2 3 2 3 0 3 2 3 2 3-1 3 4 3 1 2 1 3 2 3 1 3 2 3 3 3-2 3 2 3 2 3-1 3 1 3 1 3 0 3 2 3 1 2 2 3 3 3-2 3 5 3 1 3 1 3 0"/><path transform="translate(1811.6 1459.2)" d="M-316 -287l3 9M-299 -261l3-8 3 5 3 6 3 0 3 1 3 15M-246 -208l3-6 3 1 3 6 3 11 3 4 3 3 3 10 2 10 3 4 3 9 3 6 3-6 3 6 3-2 3 0 3 0 3 7 3 1 3 9 3 9 3-3 2 8 3 4 3 2M-155 -102l3 0 3 5 3-1 3 2 2 3 3 4 3 3 3 0 3 2 3-1 3 2 3 1 3 0 3 3 3-2 3 2 3 4 3 2 2 1 3 3 3 1 3 1 3 1M-82 -66l3 0 3 0 3 4 3 1 3 1 3 4 3 0 2 1 3 2 3 1 3 1 3 1 3 0 3 1 3 3 3 2 3 1 3-1 3 1 3 2 3 1 2-1 3 3 3 2 3 2 3 1 3 2 3 0"/><path transform="translate(1808.5 1459.9)" d="M-296 -260l3-10 3 6 3 0 3 10 3 8M-246 -219l3 7 3 3 3 1 3 9 3 5 3 4 3 5 2 4 3 18M-211 -157l3 6 3 2 3 0 3 0 3-2 3 7 3 9 3 1 3 10 2 0 3 5M-170 -112l3 1 3 1 3 4M-152 -100l3-1 3 2 3 3 2 4 3-4 3 3 3 6 3 2 3 4 3-5 3 4 3-1 3 0 3 2 3 5 3-1 3 3 2 4 3 3M-91 -68l3 3 3-3 3 1 3 0 3 1 3 3 3 0 3 2 3 1 3 4 2 2 3-2 3 2 3 1 3 2 3 3 3 0 3 4 3-1 3 0 3 2 3 0 3-1 3 2 2 2 3 3 3 1 3 3 3-1 3-1 3 2"/><path transform="translate(1805.4 1460.6)" d="M-249 -217l3 1 3-5 3 13 3 2 3 0 3 1 3 13 3 10 2-3 3 9 3 8 3 2 3 7 3 2 3 5 3 0 3 4 3-2 3 4 3 3 3 6 3 11 2 3 3-1 3 5M-167 -111l3 1 3 4 3-3 3 4 3 2 3 1 3 1 3 7 2-2 3 6 3 0 3 1 3 3 3 2 3 1 3 0 3-1 3 1 3 0 3 3 3 3 3-2 2 5 3 2 3 4M-85 -67l3-1 3 0 3 1 3 5 3-1 3 4 3-1 3 3 2 3 3 0 3 1 3 1 3-1 3 4 3 0 3 5 3-2 3 1 3 3M-23 -43l3 1 2-1 3 5 3 0 3 4 3 1 3 1 3 0"/><path transform="translate(1802.3 1461.4)" d="M-255 -216l3-8 3-1 3 7 3 2 3 7 3-6 3 15 3-4 3 6 3 6 2 9M-214 -167l3 2 3 11 3-6 3 6 3 4 3 2 3 3 3 3 3 2 3 7M-155 -107l3-1 3-2 3 8 3 1 2 6 3 3 3 1 3 1 3 7 3-2M-120 -84l3 1 3-4 3 5 3 1 3 0 3 3 2 1M-91 -68l3-3 3 2 3 2 3 3 3 0 3-2 3 3 3 3 3 2 3 0 2 2 3 2 3 0 3 0 3 4 3-1 3 3 3 3 3 2 3 0 3-1 3 1 3-2 3 2 2 1 3 2 3 1 3 4 3-1 3 1 3 1"/><path transform="translate(1799.2 1462.1)" d="M-281 -253l3-1 3 8 3 5 3-10 3 1 2 0 3 18 3 6 3-3 3 15 3-6 3 0 3 7 3 1 3 2 3-3 3 8 3 10 3 5 2 6M-211 -169l3 6 3 11 3-2 3 4 3 7M-184 -137l2 0 3 9M-161 -113l3 4 3 2 3 0 3 4 3 0 3-1 2 4 3 3 3 2 3 7 3 3 3-1 3 2 3-3 3 2 3 2 3 4 3-3 3 0 3 1 2 3 3-1 3 6 3-1 3 4 3 2 3 1 3 1 3 1 3 1 3 2 3 2 3 3 3 0 2 2 3 1 3-2 3 0 3 4 3 4 3-2 3 6 3 2 3-2 3 1 3-1 3 0 3 0 2-1 3 4 3-1 3 5 3 0 3 0 3 2"/><path transform="translate(1796.1 1462.8)" d="M-281 -260l3-5 3 16 3-1 3 3 3 3 2-1 3 3 3 9 3 2 3 8 3 4 3 5 3 1 3 1 3-1 3-4 3 6 3 16M-214 -180l3-2 3 12 3 9 3 12M-196 -149l3 2 3 0 3 6 3 0 2 3M-167 -121l3-2 3 3 3 7 3 3 3-2 3 5 3 4 3 2 2 1 3 1 3 7 3 4 3-3 3 2 3 3 3 0 3 4 3 0 3 1M-102 -79l2-1 3 2 3 3 3-1 3 4 3 3 3 7 3-2 3-1 3 1 3 1 3 2 3 3 3 2 2-1 3 1 3 2 3 4 3-3 3 0 3 6 3 1 3 1 3 4 3-1 3-1 3-3 3 4 2-2 3 2 3 2 3-1 3 2 3 3 3 0"/><path transform="translate(1793.1 1463.5)" d="M-302 -287l3-6 3 11M-284 -264l3-8 3 9 3 0 3 13 3 3M-264 -244l3-5 3 7 3 17 3 5 3 5 3-11 3 11 3 1M-234 -209l3 3 3 5M-211 -187l3 8M-202 -160l3 9M-193 -150l3 4 3 2 3 3 2 2M-176 -130l3-4 3 5 3 6 3-2 3 3 3 4M-152 -108l3 0 3 1 3 6 2 3M-126 -89l3 2 3 3M-111 -82l3-1 3 0 3 1 2-3 3 6 3 2 3 4 3-3 3 6 3 4 3-2 3 0 3 3 3 2 3-1 3 5 3 0 2 3 3 0 3 3 3 0 3 4 3-1 3 1 3 3 3 0 3 2 3 1 3 0 3 0 3-2 2 0 3 2 3 1 3 2 3-1 3 1 3 4"/><path transform="translate(1790.0 1464.2)" d="M-302 -291l3-2M-281 -279l3 20 3-4 3 1 3 12 3 4 2-3 3 12 3-4 3 0 3 13 3 14M-243 -211l3 0M-228 -204l3 0M-208 -191l3 12 3 5 3 12 3 14M-190 -150l3 5 3 1M-173 -134l3 2 3 6 3 3 3-2 3 7 3 3 3-3 3 6 3 4 3 8M-129 -93l3 2M-111 -79l3-4 3 3 3-3 2 2 3 3 3 1 3 1 3 1 3 0 3 3 3 6 3 0 3-1 3 2 3 3 3 2 3 2 2 0 3 5 3 2 3 0 3 0 3 0 3 1 3 4 3 0 3 2 3 0 3 2 3 0 3 2 2-4 3 4 3-2 3 0 3-1 3 3 3 3"/><path transform="translate(1786.9 1465.0)" d="M-302 -299l3 5 3 5M-281 -271l3-6 3 18 3 7M-264 -243l3-4M-249 -220l3 1 3 12 3-7 3 6M-214 -188l3 0 3 1 3-3 3 11 3 15 3 10 3-3 3 0 3 5 3 9 2 0 3 1M-170 -137l3 6 3 0 3 7 3-3 3 9 3-2 3 8 3 5 3 2 2 4M-129 -95l3-3 3 9 3-1 3 1 3 3 3 1 3 2 3 2 3 2 2-2 3 0 3 1 3 3 3 2 3 0 3 1 3 4 3 2 3 1 3 3 3 2 3 3 3-1 2 3 3 1 3 3 3 0 3 4 3 1 3 0 3 1 3-2 3 4 3 4 3-2 3 1 3 2 2 1 3-2 3 0 3-1 3 0 3 1 3 1"/><path transform="translate(1783.8 1465.7)" d="M-302 -295l3-5M-284 -280l3-4 3 6 3 20M-246 -226l3 10M-237 -208l3-3M-182 -141l3-5 3 7 3-3 3-2 3 4 3 11M-158 -121l3-2 3 3 3 1 3 6 3 11 2-2 3 0M-129 -102l3 4 3 1 3 5 3 1 3 2 3 2 3 5 3 0 3 5 2-5 3 1 3 1 3 2 3 1 3 2 3 0 3 0 3 4 3 6M-61 -56l2-2 3 2 3 3 3 1 3 2 3-1 3 3 3 0 3 3 3 1 3 2 3 1 3 1 3-1 2 2 3 0 3-2 3 2 3-2 3 0 3 3"/><path transform="translate(1780.7 1466.4)" d="M-307 -298l2 5 3-4 3 1 3 3 3 2M-287 -285l3-4 3-2 3 26M-261 -252l3 3 3 10 3-12 3 16 3-1 3 10 3 5 3 3 3 11M-208 -192l3 6 3 8 3-1 3 6M-184 -151l2 1 3 5 3 3 3-1 3 4 3 3M-161 -128l3-1 3 6 3 1 3 2 3 8 3 4 2 1 3 4 3-2 3 1 3 3 3-3 3 8 3-3 3 6 3 3 3 3 3 1 3 3 3 6M-91 -78l3 0 3 3 3 2 3-2 3 5 3-1 3 8M-64 -61l3-1 2 5M-50 -51l3-1 3 3 3-2 3 4 3 0 3 5 3 0 3 0 3-1 3 2 2 0 3 2 3 2 3-5 3 3 3-3 3 3"/><path transform="translate(1777.6 1467.2)" d="M-343 -296l3 2M-305 -296l3 1 3 11 3-9 3 13M-261 -259l3 9 3 3 3 4M-243 -233l3 5 3 8 3 2 3 8 3-3M-205 -187l3 0 3 2 3 12M-187 -152l3-4 2 2 3 5 3 10M-170 -140l3 3 3 2 3-1 3 5 3 3 3 5 3 6 3-1 3 7 2 4 3 1 3 1 3 1M-126 -99l3-5 3 7 3-2 3 6 3 5 3-1 3 7 3 3 2 0 3 0 3-2 3-1 3 2 3 4 3-2 3 6 3 0 3 3M-61 -64l2 2 3 4M-50 -54l3 0 3 3 3 2 3 2 3 2 3-1 3 3 3 1 3-2 3 1 2 2 3 0 3 4 3 1 3-1 3-1 3-1"/><path transform="translate(1774.5 1467.9)" d="M-290 -280l3-17 3 7 3-8 3 25M-261 -257l3-1 3 16M-240 -232l3 4 3 5M-208 -200l3-6 3 11 3 11 3 11M-187 -167l3 4 2 12M-176 -142l3-1 3-3 3 5 3 8 3-5 3 3 3 3 3 3 3 13 3 1 3 0 2 3 3 1 3 9 3-4 3 1 3 3 3 0 3 0 3 3 3 4 3 3 3 3 3 4 3 0 2 6 3-1 3-2 3 3 3 1 3 2 3-1 3 5 3 2 3 0 3 3M-64 -65l3-3 2 5 3 1 3 2 3 2 3 2 3 6 3 1 3 2 3 2 3 0 3 2 3 0 3 0 3-1 2 2 3 0 3 3 3 5 3-3 3 1 3 1"/><path transform="translate(1771.4 1468.6)" d="M-299 -289l3-10 3 10 3 3 3 2M-240 -241l3 4 3 18M-217 -214l3-5 3 12 3 2 3-2 3 13 3 6 3 8 3 6 3-1 3-6 3 14 2 14M-170 -141l3-1M-155 -135l3 4 3 7 3 7 3 2 2 1 3 7 3 1 3 7 3-2 3 2 3-3 3 4 3-2 3 2 3 5 3 4 3 0 3 2 2 2 3 5 3 2 3 1 3 2 3-4 3 1 3 2 3 4 3 0 3 1 3 2 3-1 3 1 2 4M-53 -61l3 1 3 4 3 2 3 3 3 3 3 1 3 3 3-2 3 1 3 2 3 0 2 0 3 2 3 0 3 2 3 1 3 2 3-2"/><path transform="translate(1768.3 1469.3)" d="M-214 -219l3 6 3 0 3 4 3 18 3-5 3 14M-187 -168l3-4 2 7 3 6 3 4 3 3 3 8 3 3M-158 -137l3-6 3 8 3 9 3 6 3 0 2 5 3 6 3 0 3 5 3 3M-123 -97l3-2M-114 -100l3 2 3 2 3 7 3 4 2 2M-94 -80l3 2 3 4M-79 -79l3 5 3 1 3 6 3-1 3-2 3 2 2-2 3 3 3-1 3 7 3 3 3 2 3 1 3 5 3 2 3 1 3 1 3 3 3-2 3 4 2-2 3 1 3 0 3 3 3 1 3 1 3-1"/><path transform="translate(1765.2 1470.0)" d="M-287 -291l3 3 3 5M-246 -255l3 15M-220 -210l3-4 3-5 3 0 3 8 3 8M-190 -177l3 0 3 8 2 7 3-1M-173 -152l3 6 3-2 3 9M-158 -136l3-4 3 2 3 4 3 7 3 4 2 7 3 10 3-4 3 1 3 3 3 4M-120 -101l3 4 3-4 3 0 3 6 3 6 3 1 2 5 3 1 3-2 3 6M-76 -79l3 3 3 4 3 5 3-2 3 0 2-2 3 4 3 3 3 0 3 7 3 1 3 1 3 4 3-1 3 3 3 2 3 2 3 0 3 3 2 2 3 0 3-1 3 2 3 0 3 0 3 2"/><path transform="translate(1762.2 1470.8)" d="M-331 -299l3-1M-319 -292l3-5M-237 -242l3-9 3 12M-223 -219l3-2 3 9 3 4 3-9 3 9 3 5M-193 -188l3-2 3 6 3 13 2-2 3 5 3 9 3-3 3 8M-164 -149l3 8 3-1 3 2 3 1 3 4 3 3 3 4 2 9 3 7 3 0 3 1 3 2 3 2 3 5 3-1 3 2 3 5 3-4 3 1 3 3 3 6 2 5M-94 -81l3-2M-85 -74l3-3 3-4 3 0 3 1 3 10 3-1 3 3M-59 -70l3 2 3 5 3 0 3 0 3 9 3-2 3 2 3 1 3 3 3 2 3 2 3 3 3 0 2 1 3 4 3 0 3 0 3 2 3-3 3 3"/><path transform="translate(1759.1 1471.5)" d="M-337 -311l3 16M-293 -290l3-15 3 4 3 8M-261 -290l3 13 3 6M-243 -254l3 3 3 4M-220 -220l3 4 3 0 3 4 3 8 3 4M-199 -200l3-2 3 4 3 4 3 12M-176 -167l3 5 3-2 3 13M-155 -144l3 4 3 6 3 3 3 8 2-2M-135 -112l3-1 3-4 3 12 3-5 3 10 3 1 3-3 3 8M-102 -89l2-3 3 7 3-3 3 7 3-1M-82 -78l3 2 3 1 3-2 3 4M-61 -67l2-4 3 1 3 7 3-2 3 2 3 1 3 7 3 0 3 2 3 1 3 2 3 3 3 1 3 4 2 2 3 1 3 0 3 2 3 1 3-1 3 1"/><path transform="translate(1756.0 1472.2)" d="M-334 -295l3-19 3 13M-313 -298l3 10M-266 -282l2-21 3 19 3-3 3 3 3 20 3 1 3 0 3 5 3 1 3 12 3-10 3 10M-223 -239l3 14 3 1 3 14 3 4M-205 -204l3 2 3-7 3 1 3 9 3-2 3 16 3-3 2 4 3 9 3 0 3 10M-155 -144l3-2 3 8 3 7 3-3M-132 -114l3 2 3 3 3 0 3 8M-105 -96l3-1 2 4 3 5 3 6M-85 -82l3-1 3 4 3 3 3 3 3-1 3-1 3 4 3 0 2 1 3 2 3 2 3 3 3 3 3-3 3-1 3 9 3 2 3 0 3 1 3 3 3 3 3 3 2 2 3 2 3 1 3 2 3 0 3-4 3 2"/><path transform="translate(1752.9 1473.0)" d="M-293 -301l3-7 3 7 3 11M-252 -273l3 4 3-4 3 12 3 14 3-11 3 11 3-7 3 14M-223 -239l3-4 3 14 3 6 3 13M-205 -201l3-3 3 5 3-15 3 20 3-2 3 3 3 5 2 13M-176 -171l3-1 3 0 3 10 3 0M-149 -142l3 7 3 7M-135 -126l3 1 3 7 3 6 3 5M-114 -103l3 2M-105 -97l3-1 2 4 3 4M-88 -84l3-1 3 2M-76 -77l3 1 3 2 3 0 3-1M-59 -69l3 0 3 2 3 3 3-2 3 4 3 1 3-2 3 7 3-1 3 6 3-1 3 3 3 7 2 2 3 1 3 2 3 0 3 0 3-1 3 1"/><path transform="translate(1749.8 1473.7)" d="M-290 -293l3-11 3 14M-269 -286l3-1M-261 -290l3-1M-252 -274l3-5 3 15 3 3 3 12 3-10 3 9 3 9 3-3M-223 -241l3-10 3 26M-196 -194l3-21 3 25 3 0 3 0 2 7 3 5 3 3M-167 -167l3 3 3 4 3 0 3 8 3-2 3 8 3 1 3 13M-114 -102l3-5 3 6 3 3 3-2 2 11 3-5 3 2 3 4 3 4 3-3 3 4M-70 -74l3-1 3 0 3 2 2-2 3 5M-50 -65l3 0 3-1 3 3 3 3 3-3 3 11 3 0 3 2 3 1 3 5 2 0 3 3 3 2 3 4 3-2 3-3 3 2"/><path transform="translate(1746.7 1474.4)" d="M-334 -313l3-6M-293 -303l3 6 3-8 3 12M-240 -248l3-8 3 15M-225 -240l2-13 3 6 3 10 3 5 3 4 3 20 3-2 3 0 3 6 3 4 3 3 3-1 3 11M-173 -171l3-9 3 10 3-2 3 10 3 0 3 9 3 1 3 12 3-1M-123 -112l3 0 3 2 3 4 3 3 3 1 3-1 3 1 2 7 3 2 3 1 3 0 3 2 3 7 3-3 3 4M-59 -75l3 2 3 2M-47 -66l3 1 3 0 3 4 3-1 3 1 3 12 3-1 3 5 3-3 2 5 3 1 3 2 3 2 3-2 3 0 3 2"/><path transform="translate(1743.6 1475.1)" d="M-290 -296l3 5M-278 -288l3-11 3-7 3 8 3-3 2 9 3 13 3-15 3-5 3 8M-237 -258l3 10M-223 -239l3-3 3-4 3 13M-208 -218l3-7 3 16 3 7M-173 -181l3 6 3-4 3 6 3 1 3 9 3 3 3 8 3 5 3 10M-138 -131l3-3M-114 -111l3 2M-105 -101l3 1 2-1 3 2 3 6 3 0 3 0 3 5 3 2 3 2M-67 -78l3 0 3 4 2-3 3 0 3 6 3-1 3 2 3 2M-35 -63l3 3 3 1 3 10 3 2 3-1 2 4 3-2 3 5 3 1 3 2 3-2 3 1"/><path transform="translate(1740.5 1475.8)" d="M-305 -288l3-23M-281 -282l3-15 3 3 3 1 3-3 3-5 2 16M-258 -280l3-5M-246 -291l3 2 3 9 3 12 3 22 3 3 3-10 3 8 2 0M-214 -240l3 3 3 4 3 14M-184 -187l2-6M-173 -174l3-10 3 14 3 2 3 4 3 6 3-2 3 9 3 0 3 10 3 2M-138 -134l3-3 3 9M-126 -133l3 4 3 7M-102 -101l2 1 3 5M-70 -84l3 0 3 0 3 11 2-2 3-1 3 1M-47 -70l3 3 3 1 3 0 3-1 3 3 3 8 3-1 3 9 3 1 2-1 3 2 3 1 3 3 3 1 3 2 3 0"/><path transform="translate(1737.4 1476.6)" d="M-305 -300l3-3M-272 -281l3-19 3 19 2-11 3-2M-255 -283l3-1 3-5M-237 -277l3 20 3 7 3 1 3 1 2 0M-217 -225l3-27 3 15 3 2 3-2 3 13M-184 -197l2-2 3 19M-173 -185l3 0 3 5 3 5 3 14 3-8 3 11M-149 -150l3 2M-135 -141l3 7 3 1 3-5 3 4 3 5 3 3 3 5 3 8 3 0 3 5 3 0M-70 -85l3 0 3 4 3 5 2 3 3-3 3 2 3 2 3-4 3 5 3 7 3-3 3 0 3 5 3 3 3-1 3 3 3 12 2-4 3 3 3 2 3 0 3 0 3 2 3 2"/><path transform="translate(1734.3 1477.3)" d="M-261 -284l3-8 3 3 3 6M-240 -284l3-3 3 10 3 21M-225 -241l2-2 3-13 3 14M-211 -232l3-7 3 14M-173 -196l3 8 3 4 3 7 3 0 3 15 3 1M-138 -135l3-8 3 13 3-6 3 1 3-1 3 13 3-6 3 11 3 4M-73 -87l3 1 3-1 3 5 3 1 2 3 3 4 3 2 3-1 3-1 3 5 3-1M-32 -63l3 1 3 3 3 5 3-4 2 13 3 0 3 1 3-3 3 4 3 1 3 3"/><path transform="translate(1731.2 1478.0)" d="M-305 -304l3-10M-269 -287l3-2 2-4 3 3M-255 -285l3 1M-243 -283l3-10 3-8 3 17 3-5 3 31 3-3M-211 -239l3 4 3-2 3 13M-176 -191l3-2M-167 -180l3-4 3 13 3-1 3 11M-138 -142l3 1 3 1 3 2 3 4 3 1 3 2 3 7 3 6 3-2 3 5 3 5M-73 -90l3-1 3 5 3 2 3 1 2 4 3 4 3 0 3 0 3 3 3 0 3 1 3 2 3-2 3 3 3 3 3 8 3-1 3 1 2 0 3 11 3 0 3-1 3 3 3 2 3 2"/><path transform="translate(1728.2 1478.8)" d="M-272 -291l3-8 3 13M-246 -290l3 16 3-17M-234 -292l3 9 3 5 3 20M-214 -247l3 1 3-1 3 17M-176 -189l3-9 3 12 3-16 3 14 3 13 3 2 3 7 3 5M-143 -161l2 5 3 13 3-3 3 5 3 0 3 1 3 7 3 1 3 3 3 6 3-5 3 10 3 6M-91 -102l3-1 3 5M-79 -89l3-4 3-3 3 3 3 4 3 5 3-3 2 8 3 0 3 1 3 2 3 3 3 0 3 4 3 2 3 2 3 1 3 0 3 2 3 9 3-8 2 9 3-7 3 16 3-4 3 3 3 1 3 3"/><path transform="translate(1725.1 1479.5)" d="M-310 -318l3-4M-275 -290l3-25 3 18M-264 -290l3 4 3-3M-243 -290l3 15 3 1 3-17 3-4 3 18 3 20 2 2 3-3M-205 -239l3 8 3-4 3 16M-184 -205l2-2 3 5 3 1 3 4 3 4 3 4 3 5 3 10 3 0 3 0 3 3 3 16 3-2 3-7 2 4 3 7 3 3 3 0 3 9 3 1 3 10 3 1 3-2M-111 -127l3 4 3 2 3 8 2 0M-91 -111l3 6M-79 -96l3 0 3 5 3-6 3 9 3 1 3 2 2 6 3-1 3 3 3 0 3 3 3 7 3-1 3-3 3 5 3 2 3 4 3 0 3 1 3 2 2 3 3-3 3 3 3 14 3-3 3 0 3 2"/><path transform="translate(1722.0 1480.2)" d="M-307 -318l2 12 3-10 3 7M-272 -308l3 18 3-9 2 5M-246 -293l3 14M-234 -285l3 7 3-16 3 25 2 4 3 10M-211 -246l3 0 3 6M-199 -225l3-11 3 15M-184 -213l2-4 3 15 3-3 3 8 3 3 3 10 3 3 3-5 3 9 3 6M-146 -161l3-3 2 6 3-6 3 8 3 12M-126 -141l3 4 3 2 3 0 3 9 3-5 3 4 3 4 3 5 2 4M-94 -111l3-3 3 6 3 0 3 10 3-2 3-1 3 7 3 3 3-2 3 4 3 2 2 3 3 3 3 3 3-1 3 7 3-1 3 4 3 2 3-4 3 5 3 3 3 1 3 6 3 1 2 1 3-1 3 3 3 1 3 9 3 2 3-2"/><path transform="translate(1718.9 1480.9)" d="M-316 -342l3 11 3 11 3-9 2 15 3-1M-275 -302l3-7 3 2 3 9 2 11 3-3 3 4 3 1 3-4 3-3M-243 -277l3-1 3-15 3 16 3-10 3 16M-202 -241l3 0 3 14 3-9 3 15M-184 -225l2 0 3 16 3 11 3-2 3 11M-155 -176l3 5M-141 -164l3 11M-108 -132l3 3 3 6 2 6 3 7 3-7 3 3 3 3 3-2 3 8 3 2 3 3 3 5 3 3 3-1 3 2 3 1M-56 -85l3 5 3 2 3 0 3 0 3 8 3 0 3 3 3-1 3 5 3 3 3 3 3-1 2 2 3 3 3 2 3 0 3-1 3 12 3 0"/><path transform="translate(1715.8 1481.7)" d="M-305 -326l3 18M-272 -303l3-4 3 6 2 4 3 13 3-4 3-8 3 15 3-7 3-5 3-9 3 10 3 23 3-16 3 6 3 7M-202 -243l3 2 3 8M-187 -217l3-13 2 2 3 8 3 17 3 11 3-2M-143 -166l2 2M-132 -154l3-3 3 13M-120 -139l3-1 3 5 3 3 3-1M-91 -114l3-2M-82 -108l3 1 3 10 3-5 3 2 3 9M-56 -89l3 4 3 1 3 6 3 2 3 2 3 1 3 7 3 1 3 1 3 4 3 1 3-1 2 5 3 0 3 3 3 0 3 0 3 3 3 9"/><path transform="translate(1712.7 1482.4)" d="M-275 -283l3-25 3 10 3 12 2-5M-258 -288l3 3 3 1M-246 -283l3 0 3-10 3 17M-228 -262l3-11M-220 -269l3-4M-202 -247l3 5 3 7M-187 -227l3 4 2-2 3 3 3 18 3 6M-155 -186l3 10M-120 -143l3-1 3 10 3-4 3 8 3-1 3-3 2 6M-82 -112l3 4 3 5 3 3M-61 -92l2 0M-53 -87l3 1 3 7 3 2 3 3 3 3 3 2 3 2 3 4 3 0 3 0 3 0 2 5 3 4 3-1 3 2 3 4 3-1 3 2"/><path transform="translate(1709.6 1483.1)" d="M-275 -307l3 5 3 5M-249 -284l3 1 3-10 3 12 3 6M-220 -264l3-19 3 13M-202 -251l3 3M-193 -234l3-2M-184 -216l2-4 3 8 3-1 3 7 3 13M-149 -178l3 0M-126 -156l3 1M-117 -145l3 1 3 7 3 0 3 8M-79 -109l3 0 3 4 3 5 3 1M-61 -93l2-1 3 7 3-5 3 3 3 7 3 3M-32 -67l3 4 3-3 3 1 3 4 2 1 3 3 3 4 3 0 3 4 3 1 3 2"/><path transform="translate(1706.5 1483.8)" d="M-246 -283l3 0 3 21 3-14 3-8 3 11M-223 -278l3 11 3-8M-211 -269l3-2M-182 -228l3 11 3-5 3 14M-155 -182l3-9 3 5 3 4 3 7 2 0M-111 -143l3 6M-82 -116l3-1M-64 -95l3-5 2 5 3 2 3 0 3 3 3 5 3 3 3 4 3 2 3 1 3 4 3 4 3 5 3-3 3 7 2-3 3 4 3 3 3 0 3 5 3 2 3 4"/><path transform="translate(1703.4 1484.5)" d="M-287 -312l3-14 3 21 3-6 3-3M-269 -302l3 0M-243 -286l3 15 3-2 3-4M-211 -272l3 0 3 18 3 6 3-13 3-2 3 14M-184 -226l2-11 3 9 3 13M-170 -206l3 1 3 6M-149 -186l3 0 3 9M-120 -160l3 6M-102 -136l2 4M-64 -101l3 2 2 0 3 11 3-6 3 0 3 3M-38 -75l3-4 3 6 3 6 3 2 3 2 3-1 2 4 3 3 3-1 3 7 3 2 3 2 3 2"/><path transform="translate(1700.3 1485.3)" d="M-290 -315l3-6 3 9 3-13 3 22M-249 -285l3-15 3 26 3-11 3 11 3 2 3-3M-217 -266l3 1 3-10 3 4M-199 -265l3 11 3 1 3 8 3-5 3 9 2 9 3-1 3 16M-167 -210l3 6 3 11M-149 -186l3 0M-123 -160l3-1 3 1 3 5M-102 -141l2 0 3 10M-70 -108l3-3 3 2 3 6 2 2 3 5 3 2 3 4 3-4 3 7 3-2 3 3 3 8 3 1 3 3 3 5 3 5 3 5 2-1 3 4 3 2 3 3 3 0 3 4 3 2"/><path transform="translate(1697.2 1486.0)" d="M-287 -330l3 23M-264 -309l3 8 3 5 3-13 3 21M-246 -291l3 6 3 8 3-6 3 11M-225 -282l2 3 3 0 3 2 3-3 3 21M-184 -242l2 0 3 9 3 11 3-2 3 10 3 5 3-5 3 15M-155 -192l3-6 3 12 3-7 3 14 2 1 3 0M-114 -159l3 5M-67 -117l3 9 3 5 2 5 3-2 3 11M-44 -90l3-2 3 7 3 3 3 3 3 3 3 6 3 6 3 4 2-1 3 4 3 1 3 6 3 2 3 0 3 3"/><path transform="translate(1694.2 1486.7)" d="M-252 -289l3-17 3 14 3 8 3 5 3-6 3 8 3-4 3 19 3-6 2-12 3 2 3-1 3 8 3 4 3 6M-167 -213l3-5 3 9 3 9 3 6 3-4 3 3 3 1 3 6 2 4M-117 -170l3 9M-70 -116l3 0 3-2 3 10M-47 -94l3 0 3 3 3 0 3 5 3 4 3 10 3 4 3 4 3 4 2 1 3-2 3 4 3 1 3 3 3 5 3-3"/><path transform="translate(1691.1 1487.5)" d="M-281 -326l3 13 3-1 3 5 3-10 3 1 2 14M-249 -285l3-7 3 4M-225 -270l2-7 3 3 3-9 3 6 3 4 3 17M-158 -207l3 3 3 3 3 4 3 11M-135 -177l3-3M-114 -168l3 7M-94 -142l3 2 3 3M-47 -92l3-3 3 2 3 5 3-2 3 7 3 10 3 3 3 5 3 2 2 2 3 3 3 4 3 0 3 1 3 1 3 4"/><path transform="translate(1688.0 1488.2)" d="M-281 -333l3-5 3 26 3 2 3-5M-255 -318l3 17 3 4 3 3 3 6 3 2M-231 -275l3-8 3 8 2 0 3 4 3-1 3-6M-208 -268l3 6M-149 -194l3-2M-138 -188l3 9M-114 -167l3-2 3 12M-94 -151l3 10 3 1M-70 -124l3-2 3 11M-53 -103l3-2 3 7 3 2 3 2 3 2 3 1 3 6 3 8 3 4 3 9 3-1 2 4 3 3 3 2 3 0 3 2 3 0 3 4"/><path transform="translate(1684.9 1488.9)" d="M-278 -317l3-15 3 23 3 8 3-16 2 12M-255 -306l3-9 3 25 3-12 3 8 3 13M-231 -277l3-3 3 4 2 5 3 9 3-8 3 4 3-9 3-1 3 10M-179 -252l3 5M-167 -231l3 2 3 6M-155 -208l3-7 3 14 3 4M-111 -166l3 0M-97 -156l3-2 3 9 3 5M-73 -134l3 4 3 1 3 5 3 3 2 3 3-3 3 8 3 6 3 5 3 6 3 2 3 3 3 1 3 7 3 8 3 1M-18 -62l3 2 3 1 3 1 3 3 3 2 3 3"/><path transform="translate(1681.8 1489.6)" d="M-281 -348l3 1 3 18 3 11M-266 -308l2 3M-258 -312l3 2 3-15 3 18 3-1 3 22M-237 -283l3-6 3 5 3 5M-217 -255l3-9 3 0 3-4 3 0 3-3 3 8 3-2 3-14 3 19M-161 -216l3-14 3 13 3 2 3 16M-117 -172l3-8 3-3 3 14M-97 -157l3-3 3 4 3 13M-70 -135l3 5 3 6M-56 -116l3 2 3 1 3 12 3-1 3 12 3-5 3 4 3 2 3 3 3 9 3 4M-15 -62l3 4 3-1 3 3 3-1 3 5"/><path transform="translate(1678.7 1490.3)" d="M-287 -370l3 2M-275 -337l3-11 3 31 3-1M-258 -307l3-10 3 9M-237 -284l3-5 3 7 3-1M-211 -256l3-14 3-4 3 8 3 0 3 1 3 1 3-2M-184 -272l2 5 3-9 3 24 3 7 3-8 3 12M-161 -229l3 4 3 10 3-2 3 5M-117 -179l3 0 3 8 3-11 3 15 3 0 2 4 3-3 3 5 3 10M-76 -139l3 3 3-4 3 1 3 14M-59 -124l3 0 3 6 3 3 3 4 3 8 3 4 3 6M-29 -85l3 0 3 7 3 3 2 3 3 6 3 0 3 8 3 3 3-2 3 7"/><path transform="translate(1675.6 1491.1)" d="M-316 -437l3-24M-296 -414l3 16 3 21 3-11 3 13 3 9 3 5 3 8 3 16 3 14 3 12M-249 -307l3 2 3-5 3 20 3-3 3 0 3 6 3 17M-217 -270l3 4 3 5 3-2 3 0 3-13 3 13 3 3 3-1M-184 -275l2-5 3 14 3 2 3 5 3 11 3 0 3-1 3 12 3 2 3 17M-146 -206l3-5M-120 -189l3 8 3-3 3 16 3-4 3 7 3 0 2 2 3 1 3 1M-73 -136l3-5 3 6 3 12 3-8 2 9 3 4 3-6 3 9 3 5 3 4 3 3 3 5 3 3 3 3 3 1 3 5 3 5 3 2 2 7 3 2 3 1 3 9 3 0 3 4 3 0"/><path transform="translate(1672.5 1491.8)" d="M-290 -389l3-6 3 17 3 3 3 5 3 15 3 10 3-1 3 36M-249 -293l3-22 3 21 3 4 3-1M-220 -271l3-7M-208 -256l3-6 3 1 3 0 3-6 3-1 3 17 3-17M-182 -274l3 2 3 7 3 2 3 13 3 11 3-5 3-6 3 7 3 14 3 19M-114 -181l3 0 3 8 3 2 3 11M-94 -161l3 3M-76 -147l3 3 3 7 3 2 3 5 3 11M-53 -119l3 0 3 4 3 4 3 6 3 6 3-7 3 18M-26 -90l3 3 3 2 2 7 3 5 3 5 3 2 3 5 3-1 3 4"/><path transform="translate(1669.4 1492.5)" d="M-310 -451l3 4 2 4 3-14 3 7M-293 -422l3 2 3 22 3 22M-278 -365l3 14 3-12 3 37 3 4M-249 -296l3-9 3 2M-220 -263l3-20 3 15 3-5 3 16 3-3 3 3M-193 -260l3 3 3 7 3-11 2-8 3 1 3-7 3 12 3 5 3 9M-158 -241l3 9 3 0 3 23M-102 -161l2-5 3 1 3 5M-73 -149l3 5 3 2 3 15M-53 -117l3-10 3 10 3-1 3 11 3 5 3 2 3 6 3 3 3-2 3 5 3 2 2 2 3 7 3 4 3 7 3 1 3 3 3 7"/><path transform="translate(1666.3 1493.2)" d="M-293 -423l3-2M-284 -380l3-2 3 5 3 8 3 19 3 3 3 10 2 22M-252 -314l3 15 3-15 3 13 3-3 3 1M-220 -280l3 0 3 8 3-5 3 17M-187 -256l3 2 2 3 3-17 3 11 3 0 3 0 3 13 3 8 3-20 3 31 3-13 3 2 3 26M-100 -170l3 6 3 7M-76 -152l3-2 3 4 3 9 3 11M-59 -126l3 0 3 3 3-6 3 6 3 6 3 8 3 0 3 2 3 12 3-2 3 7 3 5 3 1 2 3 3 1 3 4 3 3 3 1 3 9 3 3"/><path transform="translate(1663.3 1494.0)" d="M-293 -437l3-4 3 27M-269 -346l3 8 2 9M-249 -298l3-9 3 9 3-2 3-2M-220 -283l3 1 3 9 3 5 3 14M-184 -251l2-11 3 4 3 4 3-13 3 13 3 5 3 2 3 6M-120 -197l3 7M-76 -155l3-3 3 6 3 3 3 13 3 3M-56 -126l3 0 3-4 3 4 3 8 3 3 3 1 3 5M-29 -102l3 7 3 9 3 2 2 3 3 1 3 2 3 1 3 1 3 11 3 5"/><path transform="translate(1660.2 1494.7)" d="M-281 -403l3 14 3 20M-225 -294l2 3 3-6 3 16 3-2 3 19 3 6 3-7M-141 -222l3-6M-123 -199l3-5M-100 -171l3-6 3 0 3 12M-82 -158l3-1 3-6 3 7 3 1 3 11 3 6 3 5 2 3M-50 -124l3-3 3 4 3 7 3 1 3 2 3 0 3 9 3 1 3 12 3 7 2 6 3-3 3 2 3 3 3 3 3 5 3 4"/><path transform="translate(1657.1 1495.4)" d="M-266 -355l2 0 3 29M-255 -320l3-6M-231 -294l3-12 3 15 2 0 3 9 3-1 3 0 3 11 3-6 3 30M-193 -261l3 1 3 1M-129 -218l3 7M-94 -173l3 3M-70 -149l3 4 3-2 3 4 2 10 3-1 3 3M-41 -117l3-1 3 8 3 3 3 4 3 5 3-1 3 8 2 7 3 10 3-4 3 3 3-5 3 8 3 10"/><path transform="translate(1654.0 1496.2)" d="M-287 -454l3 32M-275 -399l3 10 3 13 3 2 2 20 3 15M-225 -290l2-14 3 28 3 4 3 6M-170 -254l3 1M-161 -256l3 3M-132 -225l3 2 3 9 3 7 3-9M-67 -150l3 4 3-2 2 6 3 5 3 10M-44 -123l3-4 3 3 3 10 3 3 3 6 3 4 3 0 3 8 2 6 3 10 3 1 3 6 3 2 3-4 3 4"/><path transform="translate(1650.9 1496.9)" d="M-287 -453l3 7 3 14M-275 -414l3-2 3 28M-255 -340l3 12M-234 -305l3-3 3 4 3 2 2-1 3 17 3 8M-138 -234l3 7M-129 -228l3 12 3-3 3 8 3 3 3 15 3-8 3 6M-91 -177l3 4M-67 -154l3 1 3 10 2 3M-47 -131l3-4 3 6 3 4 3 11 3 4 3-3 3 8 3-1 3 8 2 6 3 8 3 3 3 5 3 6 3-4 3 9"/><path transform="translate(1647.8 1497.6)" d="M-284 -456l3 19 3-8 3 19 3 0 3 23 3 10 2 23M-258 -350l3 5 3 8M-237 -312l3-15 3 33 3-4 3 0 2 1 3 10 3 14M-170 -254l3-5M-155 -257l3 5M-129 -226l3-2 3 19 3-4 3 9 3-8 3 0 3 16M-97 -190l3-8 3 7 3 8 3 17M-67 -157l3-7 3 16M-47 -128l3-10 3 17 3 5 3-6 3 12 3-2 3 5 3 0 3 3 2 2 3 9 3 8M-6 -74l3-3 3 4"/><path transform="translate(1644.7 1498.3)" d="M-302 -527l3 28M-293 -496l3 29 3-2 3 21 3-11 3 22M-249 -340l3 7M-228 -307l3 15 2-15 3 9 3 17M-179 -263l3 1M-146 -246l3 3M-132 -233l3 3 3 3 3 9 3 6 3 2M-105 -197l3-4 2 10 3-11 3 9 3 9 3-2 3 7 3 7M-64 -159l3 3 2 2 3 8 3 7M-47 -132l3 1 3 0 3 3 3 9 3 5 3 7 3-2 3 2 3 0 2 3 3 9 3 1 3 5 3 8 3 4 3 3"/><path transform="translate(1641.6 1499.0)" d="M-310 -548l3-16 2 18M-290 -492l3 33 3-14 3 24 3-15 3 26M-261 -385l3 2 3 11 3 27M-240 -323l3-4 3 0 3 5 3 14 3 5 2 13 3-4 3 10 3-5 3 16M-196 -270l3 4M-170 -273l3 2 3 8M-155 -251l3-9M-141 -235l3-16 3 9 3-3 3-1 3 26 3 5 3 3M-111 -207l3-7 3 15 3 3 2 4 3-6 3 7 3-4 3 19 3-5M-70 -167l3-1 3-4 3 8 2 13 3 2 3 4 3 3 3 2 3 3 3 10 3-3 3 7 3 6 3 10 3-5 3 10 3 0 2 2 3 1 3 4 3 4 3 5 3 6 3 8"/><path transform="translate(1638.5 1499.8)" d="M-310 -569l3-2 2 14 3 35M-290 -501l3 17 3 24M-278 -434l3-27 3 34M-264 -397l3-13M-255 -379l3 15M-243 -337l3-1 3 5 3 15 3-4 3 32 3-10 2-10 3 15 3 11M-184 -264l2-7 3 4 3-8 3 14 3 0 3-5 3 1 3 16M-152 -256l3 2 3-3 3 1 2 3 3 10 3 8 3-17 3 9 3 15 3-2 3 15M-105 -204l3-7 2 11 3 14 3 0 3-2 3-1 3 6 3 6 3-6 3 8 3 0 3 4 3 5 3 2 3-4 2 10 3 7 3 2 3 6 3 2 3 7 3 4 3 2 3 3 3 7 3 5 3 1 3 8 3 1 2 1 3 6 3-9 3 9 3 9 3 4 3 7"/><path transform="translate(1635.4 1500.5)" d="M-305 -553l3 10 3 13M-287 -472l3-7 3 12M-264 -421l3-15 3 39M-249 -363l3 3 3 19 3 2 3 7 3 0 3 8 3 9 3-5 2 25 3-14 3 15 3 9M-184 -271l2 4M-176 -274l3 8M-164 -269l3 14M-149 -252l3-8 3-1 2 17M-132 -232l3-5 3 11 3 4 3 15M-100 -201l3 6 3 8 3-3 3 6M-82 -178l3-2 3 12M-70 -171l3-5 3 12 3 4 2 4 3 1 3 5 3 12 3-5 3 3 3 4 3-3 3 12 3-1 3 13 3 6 3 6 3 2 2 1 3 4 3-4 3 0 3 16 3-4 3 13"/><path transform="translate(1632.3 1501.2)" d="M-302 -561l3 23M-293 -507l3-24 3 17 3 2 3 54M-269 -440l3 2 2-8 3 17 3 9 3 27M-249 -370l3 8M-240 -331l3 1 3-4 3 2 3 12 3 16 2-13 3 27 3-8 3 18M-208 -278l3-1M-187 -275l3 9M-164 -254l3-25 3 37M-146 -251l3-5 2 8M-135 -239l3-6 3 7M-108 -207l3-7 3 1 2 7 3 3 3 18M-85 -186l3 5M-67 -173l3 8 3-2 2 5 3 11 3 0 3 3 3-2 3 10 3-4 3 6 3 11 3 6 3 1 3 6 3 8M-18 -100l3 2 3 2 3 4 3 1 3 1 3 9"/><path transform="translate(1629.3 1502.0)" d="M-299 -565l3 30M-290 -530l3 14 3 14 3 13M-266 -434l2-3 3 20M-249 -376l3-11 3 31 3 1 3 6 3 26 3-5 3 15 3 13 2-8 3 3 3 13M-208 -272l3-12 3 11 3-12 3 9 3-12 3 23 3-13 3-3 2 15 3-2 3 1M-161 -260l3-4 3 6 3-7 3 10M-141 -244l3-15 3 7 3 6 3 9 3-5 3 6M-108 -207l3-10 3 13 2 3M-91 -192l3 0 3 1 3 9M-73 -173l3-4 3 4 3-1 3 21 2-6 3 6 3 1 3 10 3-2 3-2 3 8 3-2 3 17M-29 -116l3 0 3 8 3 0 2 3 3-2 3 13 3-4 3 10 3-3 3 11"/><path transform="translate(1626.2 1502.7)" d="M-305 -639l3 25M-296 -555l3 7 3 22 3-10 3 19 3 11 3 45M-272 -441l3-42 3 45M-243 -346l3-14 3-3 3 32 3-1 3 16M-220 -296l3 2M-208 -275l3-9 3 21 3 2 3-19 3 4M-187 -265l3-10 2 2M-161 -264l3 3 3 0M-146 -252l3-20 2 24 3 1 3 1 3 6 3-12 3 20M-111 -215l3-9 3 10 3 3 2 14M-94 -202l3 9 3-1 3 15 3-8M-76 -183l3 0M-64 -167l3 4 2 8 3-7 3 13 3-1 3 8 3 0 3 5M-35 -129l3 2 3 10 3-3 3 8 3-2 2 3 3 9 3 4 3 5M-3 -89l3 9"/><path transform="translate(1623.1 1503.4)" d="M-305 -626l3-10 3 49M-293 -550l3 7M-284 -530l3 24 3 26M-269 -473l3 33 2 3 3-14 3 22M-240 -380l3 28M-190 -277l3-4 3 13 2 0M-167 -270l3-10M-158 -264l3 6M-141 -240l3-18 3 18 3 3M-117 -228l3-9 3 12 3 7 3 13M-82 -179l3-6 3-5 3 7M-61 -171l2 10 3-5 3 12 3 15M-29 -128l3 4 3 9 3 4 2 2 3 6 3 3 3 4 3 11 3-1 3-1"/><path transform="translate(1620.0 1504.1)" d="M-310 -622l3-30 2 17 3-5 3 24 3 3M-287 -542l3 1 3 1 3 64M-269 -476l3 26 2 2M-240 -407l3 23 3 45M-205 -267l3-12 3 3M-187 -275l3 7M-167 -263l3-9 3-7 3 7 3 10M-149 -259l3-5M-126 -235l3-6M-111 -226l3 3 3 5 3 10M-97 -204l3-1M-88 -196l3-3 3 11 3 2 3 4M-64 -185l3 11 2 3 3 16 3-1 3 12M-41 -147l3 8 3-1M-26 -126l3 3 3 7 2 5 3 2 3 10 3 2 3 8 3-1 3-6"/><path transform="translate(1616.9 1504.8)" d="M-316 -635l3-14 3 17M-305 -619l3-14 3-3 3 11 3 25 3 37 3-17 3 36 3 11 3 26M-272 -492l3 6 3 42M-246 -410l3-20 3 23 3 0 3 44M-205 -284l3-9 3 21M-190 -272l3 1 3-12 2 18 3-10M-167 -257l3-12 3 4M-135 -251l3 1M-123 -235l3-2M-114 -239l3 7 3 3 3 9 3 7 2 8 3-13 3 12 3 1M-53 -159l3 8M-26 -126l3-4 3 10 2-1 3 6 3 11 3 6 3 5 3 2 3 2"/><path transform="translate(1613.8 1505.6)" d="M-319 -629l3-16 3 15M-302 -635l3 28 3-3 3-26 3 52 3-30 3 60 3 24 3 24M-217 -325l3 13 3-1M-167 -277l3 15M-135 -239l3-24 3 17 3 0 3 12M-111 -230l3 5M-100 -219l3 17M-76 -186l3-3 3 6M-53 -165l3 1 3 16 3-7 3 8M-32 -140l3-2M-23 -134l3 6 2 7 3 8 3 1 3 6 3 7 3 8 3-1"/><path transform="translate(1610.7 1506.3)" d="M-319 -651l3 30M-299 -620l3 0M-290 -626l3 29 3 32M-249 -429l3-2 3 2 3-12 3 23 3 41M-225 -356l2 13 3 3 3 5 3 9M-199 -295l3 21 3-2 3 0 3 14 3-18 2 19M-164 -268l3-3 3 6 3 0M-129 -250l3 1 3 6 3 5M-108 -225l3 2M-97 -215l3 3 3 8 3-4M-70 -185l3-1M-56 -179l3 5 3 7 3 13M-20 -135l2 9 3 2 3 6 3 10 3 7 3 6 3 3"/><path transform="translate(1607.6 1507.0)" d="M-310 -631l3 10M-296 -634l3 20M-287 -610l3 17 3 11 3 40 3 34 3-9M-246 -428l3 3 3-6 3 25M-225 -362l2 5 3 7 3 22 3-8 3 12 3 6 3 6 3 12 3 10 3-8 3 35M-187 -274l3 0M-129 -259l3 7 3 6 3 8 3 5M-108 -236l3-2 3 18M-94 -214l3 3M-76 -195l3-1 3 8M-64 -185l3-3 2 4 3-3 3 13 3 0M-35 -151l3-1 3 2 3 4 3 6 3-2 2 6 3 12 3 7 3 12 3-4 3 9 3 5"/><path transform="translate(1604.5 1507.8)" d="M-290 -609l3-23 3 5 3 64M-258 -460l3-17 3 13 3 16 3-14 3 28 3 15 3 10 3 8M-225 -383l2 3 3 23 3 11 3-5 3 23 3 16 3 3 3 1 3 25M-184 -278l2 9M-164 -272l3-9 3 20 3-10 3 13M-138 -262l3-5 3 4 3 2 3 3M-105 -240l3 9 2 10M-70 -191l3 3 3-2 3 8 2 1 3-4 3 5 3-7 3 18M-41 -157l3-1 3 6 3 4 3 1 3 0 3 6 3 8 2-6 3 9 3 10 3 6 3 4 3 9 3 4"/><path transform="translate(1601.4 1508.5)" d="M-296 -629l3-8 3-10 3 28 3 25 3-5 3 28 3 21 3-14 3 43M-252 -440l3-29 3 35M-225 -406l2 18 3 10 3 24 3 3 3 23 3 5 3 15 3 10M-184 -272l2-8 3 11M-170 -276l3 5M-135 -262l3-6M-126 -261l3 14 3-11 3 27 3 5 3-17 3 11 3-8 3 6M-64 -186l3-8 2 11M-53 -185l3 10M-44 -163l3-4 3 11 3 3 3 4 3-3 3-1 3 10 3 4 2-1 3 12 3 0 3 6 3 6 3 10 3 9"/><path transform="translate(1598.3 1509.2)" d="M-293 -636l3 20 3-14 3 40 3 26 3-12 3 33M-225 -403l2 4M-217 -374l3 31 3 12 3 19 3 1 3 4 3 14M-187 -279l3-8 2 14 3 5 3-7 3 1 3 7 3-19 3 16 3 0 3 11M-108 -229l3-17 3 8 2-1 3 18M-59 -187l3 5M-47 -172l3-6 3 6 3 15 3 0 3 4 3 3 3 8 3 5 3-5 2 3 3 9 3 5 3-2 3 13 3 3 3 10"/><path transform="translate(1595.3 1509.9)" d="M-290 -613l3 11 3 21 3-1 3 41 3-17 3-3 3 7 3 21M-243 -442l3 10M-220 -393l3-6 3 19 3 29 3 30 3 4 3-2 3 18 3 2M-182 -270l3-10 3 9 3 0 3-5M-164 -267l3-3M-111 -239l3-8 3 17 3-11 2 19M-94 -231l3 12M-85 -218l3-4 3 17M-44 -170l3-5 3 8 3 15 3-7 3 14 3-1 3 2 3-4 2 9 3-1 3 14 3-2 3 17 3-8 3 11"/><path transform="translate(1592.2 1510.7)" d="M-299 -629l3-15M-281 -562l3-5 3 4 3-5 3 12M-234 -406l3-8 3-2M-223 -399l3-10 3 24 3 8 3 15 3 26 3 7 3 32M-179 -281l3 13 3-8 3 9M-138 -270l3-6M-91 -225l3 1M-47 -182l3-4 3 7 3 10 3 10 3 1 3 8 3 0M-18 -132l3-6 3 6 3 5 3 4 3 9 3 10"/><path transform="translate(1589.1 1511.4)" d="M-281 -587l3 19 3 20 3-18 3 10M-258 -530l3 20M-234 -425l3-3 3 44 3-34 2 26M-217 -396l3-7 3 18 3 28 3 33M-170 -270l3-5 3 0 3-1M-152 -263l3-6M-138 -266l3-3M-129 -267l3-5M-120 -263l3-7 3 17M-105 -250l3 18M-85 -220l3-14 3 9M-61 -207l2-6 3 14 3 8 3 7 3-3 3-2 3 10 3 9 3 3 3 6 3 19M-18 -143l3 2 3 10 3 1 3 11 3-2 3 10"/><path transform="translate(1586.0 1512.1)" d="M-278 -562l3-5 3 7 3 21 3-13M-255 -532l3 31M-237 -455l3 5 3 19 3 15 3 26 2-11M-217 -409l3 9 3 22 3 16 3 2 3 30 3 23M-193 -312l3 17M-135 -268l3-1 3-3 3-14 3 18M-79 -218l3-7 3 6 3 5 3-4 3 5 3 4 2-3 3 17M-41 -181l3 3 3 2 3 15M-15 -145l3 7 3 6 3 12 3 1 3 8"/><path transform="translate(1582.9 1512.8)" d="M-278 -642l3 36 3 63M-264 -522l3-31 3 16 3 4 3-7 3 42 3-18 3 5 3 1 3 17 3 21 3 28 3 7 3 19 2 20 3 5 3-39 3 26 3 24 3 9 3 12 3 33M-193 -311l3 3 3 3M-170 -278l3 3 3 4M-146 -266l3-3 2 5 3-17 3 5 3 10M-126 -268l3 7M-108 -251l3-6 3-1 2 7 3 12M-88 -227l3-1 3-5M-64 -214l3 0 2 11 3 0 3 7 3 3 3 8 3 4M-38 -178l3 1 3-5 3 19 3 14 3 0 3 7 2 6 3-17 3 6 3 16 3-3 3 12 3 8"/><path transform="translate(1579.8 1513.5)" d="M-281 -626l3-17 3 19 3 27 3 40 3-2 2 13 3 6M-243 -493l3-8 3 25 3 23 3 8 3 17 3 6 2 35 3-24 3 18 3-8 3 3 3 19M-196 -328l3 21M-129 -272l3 6 3-4M-102 -252l2 8 3-1 3 2 3 9M-79 -223l3 0 3 12M-67 -222l3 7 3 1 2 12M-47 -184l3-1M-35 -184l3 13M-23 -165l3 20 2 0 3-1 3 6 3 1 3 5 3 11 3 6"/><path transform="translate(1576.7 1514.3)" d="M-284 -653l3 35 3-13 3 53 3-19 3 5 3 51 2-28 3 22M-249 -549l3 26 3 3 3 24 3 19 3-6 3 29 3 15M-223 -402l3-5 3-6 3 27 3-12 3 18 3 7 3 2 3 20M-193 -331l3 28M-170 -292l3-11 3 18M-126 -271l3 13M-108 -264l3-6 3 8 2 10 3 12M-88 -243l3 9 3-2 3 14 3-9 3 10M-61 -216l2 3 3 5 3-2 3 14 3 4 3-9 3 24 3-13 3 5 3 3 3 6M-23 -166l3 1 2 21M-12 -136l3-6 3 2 3 7 3 13"/><path transform="translate(1573.6 1515.0)" d="M-313 -720l3 5M-278 -593l3-38 3 45 3-17 3 49M-255 -537l3 0 3 13 3-22 3 29 3 5 3 26 3 22 3 24 3-8 3 11M-220 -412l3 11 3 1 3 7 3 3 3 19 3 16M-184 -311l2 9M-176 -300l3-7 3 8 3-1 3 14 3-2 3 10 3 6M-138 -267l3-2M-114 -261l3 1 3-17 3 11 3-1 2 22M-94 -241l3-6M-82 -228l3-10 3 15 3 3 3 3M-56 -206l3-3 3-4 3 15 3-4 3 12M-18 -155l3 4 3 14M-6 -130l3 2 3 8"/><path transform="translate(1570.5 1515.7)" d="M-284 -638l3-12 3 3 3 18M-264 -568l3-3 3 40M-249 -525l3-28 3 31 3 31 3 28 3-15 3 13M-217 -422l3 19 3 8M-190 -329l3-4 3 18 2 0M-176 -300l3-7 3 14 3 7 3 18 3-2 3-7 3 8 3-13 3 14M-120 -271l3 11 3 0 3-6 3 9 3-1 3-9 2 11 3 9M-85 -232l3-10 3 15M-73 -228l3 15M-56 -215l3 7 3 2 3 0M-20 -167l2-1 3 14 3 5 3 5 3 7 3 7 3 7"/><path transform="translate(1567.4 1516.5)" d="M-290 -706l3 44M-281 -664l3 68M-261 -560l3 11 3 23 3-36 3 22 3 11 3 2 3 54 3-6 3-4 3 21 3-8 3 10 2 23 3 9M-214 -414l3 22M-190 -332l3-6 3 26M-173 -303l3 12 3 0 3 3 3 15 3 0 3 1M-126 -260l3-19 3 16M-114 -257l3-7 3-1 3 5 3-7 2 3 3 16M-82 -242l3 5 3 5 3 3M-56 -217l3-5 3 14 3 5 3-1 3 1M-20 -171l2-3 3 21 3-8 3 14 3 13 3 2 3 2"/><path transform="translate(1564.4 1517.2)" d="M-302 -675l3-57 3 29M-272 -634l3-2 3 25M-255 -534l3-15 3 11 3 7 3 28 3 0 3 23M-231 -459l3 4M-220 -421l3-13 3 4 3 7 3 35 3-15 3 16M-196 -373l3 19M-187 -360l3 38 2-11 3 23 3 9 3-7 3 2 3 16 3 3 3 5 3 16M-141 -279l3 12 3 4 3-15 3 6 3 11 3-17 3 22 3-8 3-6 3 5M-105 -253l3-6 2 5 3 8 3-14 3 22 3-17M-82 -238l3-11 3 25M-59 -214l3-11M-50 -206l3 1 3 8M-15 -166l3-1 3 12 3 9 3 13 3 6"/><path transform="translate(1561.3 1517.9)" d="M-299 -728l3 20 3-26 3 23M-272 -614l3-29 3 28 2 9 3-2M-252 -542l3 12 3 31 3-23 3 19 3 32 3-16 3-10 3 46 3-2 2 15 3-19 3 27 3 5 3-18 3 21 3 39M-176 -311l3-2 3 9 3 15 3 0 3 16M-146 -271l3 8M-135 -274l3-8 3 14 3-3 3 10 3-2 3-7 3 1 3 4 3 8M-100 -249l3-12 3 21 3-20 3 10 3 0M-41 -193l3-14M-18 -174l3-8 3 12 3 13 3 8 3 9 3 8"/><path transform="translate(1558.2 1518.6)" d="M-278 -671l3 1 3 4 3 40 3 3M-255 -590l3 32M-243 -521l3 17 3 15 3-4 3 39M-225 -463l2 20 3 9 3 4 3-16 3 19 3 5 3 16 3 10 3 13 3-12 3 9 3 15M-182 -338l3 4 3 15 3 8 3 0M-164 -288l3 6M-141 -262l3-19 3 7 3-2 3 0 3 14 3-3 3 5 3-1 3 4 3 6M-64 -225l3-12 2 26M-47 -207l3-6 3 11 3 6M-20 -178l2-14 3 9 3 6 3 12 3 1 3 16 3 12"/><path transform="translate(1555.1 1519.3)" d="M-296 -721l3 6M-278 -697l3 18 3 10 3 62M-258 -619l3 14 3 11 3 32 3 23 3 18 3-29 3 57 3-10 3 30 3-4 3 25 2 5 3 5 3 7 3-4 3 34 3-12 3 2 3 34 3-6 3 15 3 4 3-4 3 5M-170 -308l3 3M-138 -260l3-12 3 1 3 0 3-10 3 27 3-4 3-10 3 10 3-2M-97 -250l3-7 3 6M-59 -231l3 15M-41 -206l3 3 3 7M-23 -185l3-6 2 2 3 15 3 0 3 8 3 7 3 7 3 16"/><path transform="translate(1552.0 1520.1)" d="M-281 -653l3-72 3 24 3 40 3 30M-261 -595l3-45 3 25 3 13 3 19M-240 -529l3 3 3 45 3-8M-205 -394l3 0 3 7M-193 -364l3-11 3 9 3-3 2 2 3 7 3-5 3 35 3 4 3 9 3 12 3-1 3 18M-143 -272l2-2 3 0 3 6 3 3 3 12 3-17 3 5 3 12M-97 -264l3 0 3 19M-64 -243l3 9M-44 -220l3-4 3 20 3 2 3 4M-26 -207l3 0 3 16 2 12 3 5 3 4 3 5 3 5 3 6 3 16"/><path transform="translate(1548.9 1520.8)" d="M-278 -691l3-9 3 31 3 18 3 43M-255 -600l3 2 3-8 3 22 3 30 3 9 3 7 3 23 3 17 3 20 3-6M-208 -429l3 10 3 7 3 24 3 7M-182 -355l3 1 3-12 3 7 3 27 3 14 3 8 3 5 3 2 3 25M-143 -274l2-4 3 6M-126 -251l3-5M-117 -246l3-16 3 9M-100 -247l3-21 3 23 3-20 3 21M-44 -222l3-1 3 7 3 14 3 8 3-4 3-6 3-5 3 19 2 11 3 7 3 8 3 1 3 3 3 14 3 2"/><path transform="translate(1545.8 1521.5)" d="M-269 -669l3 25M-252 -590l3-12 3 32 3 23 3-29 3 45 3 34 3-11 3 32 3 4 2-13 3 26 3-11 3-1M-208 -435l3-2 3 16 3 33M-182 -359l3-12 3 28 3-2 3 4 3 17 3 17 3 6 3-3M-152 -293l3 20M-143 -273l2-8 3 8 3 3 3 1 3 9 3-3 3-3 3 18M-97 -243l3-13 3-3M-79 -251l3 8M-47 -226l3 1M-38 -211l3-2 3 0 3 22M-23 -192l3-9 2 20 3-3 3 15 3 10 3 10 3-8 3 11"/><path transform="translate(1542.7 1522.2)" d="M-337 -873l3 26M-266 -661l2 24 3 20 3-2 3-2M-240 -571l3 9 3 40 3 12 3 8 3 15 2 19 3-13 3 19M-211 -449l3 4M-202 -406l3-4 3 24M-176 -361l3 25 3-5 3 0 3 17 3 7 3 22M-141 -273l3-5 3 2 3 17M-100 -263l3 6 3 9M-85 -254l3 7 3-12 3 6 3 11M-67 -255l3 3 3 3M-44 -225l3-1 3-2 3 15 3 4 3 24M-18 -189l3-5 3 9 3 26 3 4 3-6 3 16"/><path transform="translate(1539.6 1523.0)" d="M-328 -822l3 19M-266 -681l2-3 3 45 3 3 3 21 3 5 3 0 3 6 3 11M-234 -523l3-25 3 39M-214 -446l3-24 3 0 3 32 3-3 3 32 3 25M-184 -380l2 11 3 3 3-12 3 16 3 23 3 21 3-6 3 4 3 11 3 5 3 3 3 3 3 8 3 8 2-4 3 6 3 9M-126 -260l3 4M-100 -258l3-4 3 15M-88 -241l3-16 3 4 3 6 3-4M-44 -230l3 2 3 3 3 19 3-1 3 16M-23 -176l3-23 2 5 3 1 3 15 3 6 3 8 3 12 3-4"/><path transform="translate(1536.5 1523.7)" d="M-328 -833l3-2 3 77M-281 -701l3-40 3 59M-269 -703l3-17 2 47 3 41 3-8 3 14 3 11 3 19 3-34 3 59M-228 -517l3 25M-211 -446l3-10M-199 -420l3 17M-190 -403l3 10 3 16 2-20 3 30 3 15 3-7 3 8 3 22 3-4M-158 -313l3 1 3 13M-100 -255l3-11 3 20M-88 -254l3 4 3 4 3-6 3 13M-61 -249l2-9 3 11 3-6 3 8M-38 -217l3-1 3 21 3-2 3 6 3 1 3 1 2 10M-12 -187l3 0 3 28 3 0 3 9"/><path transform="translate(1533.4 1524.4)" d="M-299 -712l3-16 3 3M-284 -731l3-1M-266 -681l2-25 3 37 3 31 3-10 3 50 3-15 3 21 3-3 3 27 3-4 3 19 3-22 3 28 3 13 2 68M-205 -447l3-29 3 41 3 25M-187 -395l3 9 2 8 3 5 3 7M-158 -317l3-2 3 11M-146 -285l3-16 2 26M-129 -266l3-11 3 9 3 8M-111 -251l3-4 3-5M-91 -253l3-2 3 2 3 14 3-13 3 15M-64 -242l3-10 2 0 3 3 3 0 3 12M-41 -229l3-15 3 23M-29 -192l3-8 3 16 3-3 2 9M-9 -184l3 6 3 18 3-1"/><path transform="translate(1530.4 1525.2)" d="M-407 -1198l3 16M-296 -708l3-19 3 30M-269 -713l3 11 2-20 3 60 3-3 3 28 3-3M-234 -566l3-27 3 65M-211 -466l3-18 3 12 3 22 3 23 3 15 3-16 3 22M-182 -379l3-3 3 13 3 21 3-13M-161 -321l3-9 3 1 3 38M-143 -290l2 4 3-4 3 6 3 0 3 16 3-3 3 14 3-5 3 15M-108 -258l3 6 3-7 2 1M-61 -244l2-1 3-2M-32 -217l3 2 3 20M-18 -177l3-4 3-5 3-5 3 5 3 11 3 20"/><path transform="translate(1527.3 1525.9)" d="M-413 -1089l3-116 3-9 3-4 3 73M-275 -723l3-8 3 35 3-22 2 27M-255 -695l3 79M-223 -527l3 24 3-11 3 31 3 18 3-7 3 9 3 1 3 33M-193 -425l3 28 3-8 3 7 2-12 3 30 3 28M-170 -360l3 7 3 2 3 10 3 12 3 13 3-4 3 12M-143 -303l2 4 3 16 3-1 3-3 3 15M-123 -265l3 4 3 6M-111 -250l3-13 3 0 3 15M-97 -255l3 1 3 3 3 4 3-5M-35 -231l3 0 3 9 3 13 3 7M-9 -176l3 0 3 15 3 2"/><path transform="translate(1524.2 1526.6)" d="M-416 -1093l3-63 3-20 3 34 3 32M-275 -739l3 16 3 17M-249 -634l3-7 3 18 3 8 3 42 3 2 3-15 3 18M-217 -503l3 3 3 0 3 11 3 45 3-21 3 26 3 7 3 0 3 0 3 37 3-11 2 33 3-22 3 20 3 15 3-1 3-9 3 30 3-10 3 26M-143 -312l2 5 3 20M-129 -282l3 4 3 12 3-1M-114 -234l3-32 3 17 3-11 3 5 2 6M-91 -248l3-10 3 14 3-9 3-2M-41 -244l3-7 3 11 3-3 3 16 3 8 3 30 3-12 2 6 3 20 3-23 3 26 3-11 3 18 3 3"/><path transform="translate(1521.1 1527.3)" d="M-272 -691l3-53 3 54 2-31M-246 -627l3-4M-237 -588l3-4 3 4M-225 -568l2 6 3 6 3 20 3 33 3 3 3 19 3 23M-187 -417l3 22 2-5 3 10 3 30 3 0 3-8 3 10 3 10 3-1M-149 -318l3-3 3 9 2 4 3 7 3 4 3 10 3 9 3-13 3 21 3 12M-105 -251l3-4 2 4 3 15M-91 -240l3-11 3 2M-59 -250l3 11M-50 -242l3-6M-38 -245l3 0 3 2 3 14 3 1 3 16 3 7 2 1 3 9 3-1 3 7 3 12 3 0 3 12"/><path transform="translate(1518.0 1528.0)" d="M-275 -736l3 12 3 9M-249 -653l3-42 3 75M-225 -575l2 10 3 14 3 21 3 8 3 17 3 17 3 31M-182 -402l3 0 3 26 3 0 3 3 3 35 3-18 3 11 3 3 3-7 3 33 3-8 3 2M-141 -316l3 7 3 11 3 8 3 18 3-10 3 12 3-1 3 16M-82 -251l3 0 3 8M-29 -239l3 5M-20 -214l2 16M-12 -193l3 6 3 15 3-7 3 6"/><path transform="translate(1514.9 1528.8)" d="M-290 -767l3 32M-278 -672l3-68 3 26 3-29 3 41M-252 -674l3-15 3 18 3 44M-228 -571l3 2 2-13 3 35 3-5 3 15 3 17 3 25 3 16 3 9 3 10M-184 -438l2 18 3 20M-143 -324l2 5 3 18 3 7 3 10 3-9 3 8 3 14M-114 -266l3 13 3-15 3 14 3 1 2-6M-88 -236l3-20 3 17 3-11 3-1 3 7M-64 -257l3 15M-53 -236l3-27 3 25M-35 -235l3-13 3 13M-18 -208l3 0 3 9 3 3 3 11 3-2 3 19"/><path transform="translate(1511.8 1529.5)" d="M-290 -731l3-31 3 41M-272 -706l3 2 3 10 2-29M-255 -710l3-8 3 18 3 77M-231 -629l3 35M-217 -552l3 8 3 8 3 23 3 23M-190 -454l3-5 3 26 2-1 3 28M-173 -375l3-17 3 19M-152 -330l3-10 3 14M-138 -299l3-21 3 35 3-5 3 18 3 0 3-3 3 16 3-4 3 3 3-1 3 2 3 12M-85 -255l3 6 3 0M-70 -240l3-20M-61 -249l2 1 3 3 3 1M-35 -233l3-25 3 33M-23 -214l3-28 2 30M-12 -199l3-9 3 12 3 8 3 13"/><path transform="translate(1508.7 1530.2)" d="M-310 -924l3 25 2 5 3 46 3 16 3 31 3-25 3 42 3 10 3 51M-272 -711l3-5 3 31 2-3 3-9 3-17 3 1 3 23 3-18 3 63 3-18 3 41M-234 -623l3 4 3-5 3 23 2 15 3 21 3-14 3 26 3 33 3 13 3 18M-187 -453l3-4 2 28 3 8 3 37 3-28 3 24 3 2M-161 -360l3 8M-141 -317l3-6 3 9 3 8 3 12 3 4 3 14 3-7 3 21 3-9 3 5 3 10M-102 -244l2-22 3 23M-85 -249l3-9 3 29 3-13 3 8 3-14 3 10M-15 -216l3-4 3 20M-3 -180l3 2"/><path transform="translate(1505.6 1531.0)" d="M-302 -843l3-46 3 70 3 24 3 0 3 25 3 27 3 47 3-62 3 45M-266 -686l2-6 3 28 3-30 3-33 3 16 3 10 3 46 3 30M-234 -633l3-1 3 22 3-10 2 45 3 10 3-3 3 29M-208 -508l3-2 3 33 3-35 3 36 3 4 3 5 3-5 3 17 2 1 3 31 3 4 3 15M-161 -356l3-8 3 15 3-11 3 28M-138 -325l3 16 3 5M-126 -281l3-4 3 2M-82 -242l3 3M-20 -230l2-12 3 20 3-8 3 13 3 12 3 1 3 26"/><path transform="translate(1502.5 1531.7)" d="M-290 -799l3 40 3 20 3-25 3 59 3-13 3-28 3 22 3 2 2 59 3-7 3-6 3-1M-246 -661l3 9 3 14 3 7 3 19 3-37 3 31 3 25 2-13 3-5 3 48 3-7 3 25 3-2 3 30 3 23M-196 -481l3-12 3 29 3 7 3-7 2 17 3 16 3 13 3 17 3-11 3 14 3-4 3 27 3-7 3 28 3-6 3 16M-141 -333l3-6 3-2 3 41M-126 -292l3 1 3 16M-79 -238l3-1M-18 -244l3 12 3 1 3 14 3 18 3 5 3 13"/><path transform="translate(1499.5 1532.4)" d="M-337 -945l3-27 3 4 3 19M-302 -915l3 23 3 27 3 13 3 27 3-3 3 95 3 20 3-28 3 12 3 37 3 32M-261 -643l3-22 3 7M-249 -663l3-20 3 14 3 14 3 33 3 7 3-33 3 36 3-8 2 47 3-11 3 3 3 22 3 27 3-33 3 67 3-14 3 25M-190 -464l3 9 3 10 2 3 3 8 3-12 3 35 3 19 3-17 3 28 3-3 3 2 3 15 3 13 3 0 3 1 3 14 2 4 3 1 3-1 3 33 3-6 3 1 3 12 3 5 3 18M-94 -252l3 3 3-1M-79 -238l3-14 3 14M-35 -243l3-11 3 3M-18 -240l3-8 3 18 3-4 3 12 3 25 3 9"/><path transform="translate(1496.4 1533.1)" d="M-307 -906l2-38 3 43 3-24M-293 -873l3 46M-281 -727l3 10 3-17 3 42 3 32M-246 -659l3-9 3 59 3-24 3 51M-225 -594l2-30 3 23 3 43 3-24 3 34 3 46 3-25 3 8 3 25 3-2 3 2 3 9 3 5 3 38M-179 -426l3 6 3-8 3 29 3-12 3 11 3 9 3 13 3 19 3 3 3 13 3 7 3-2 2-13 3 20 3 28M-105 -269l3-4 2 6 3 6 3-3 3 7 3 11 3 0M-73 -235l3-5 3 2M-41 -250l3 5M-18 -234l3-5 3-8 3 18 3 16 3 19 3 7"/><path transform="translate(1493.3 1533.8)" d="M-340 -1038l3 22M-284 -792l3-3 3 80 3 0 3 25 3-15 3 58M-246 -628l3-61 3 57 3 17 3 30M-228 -574l3-23 2 2 3 11 3 3 3 14 3 24 3 5 3 27 3 11 3-6 3 1 3 3 3 26M-173 -403l3-14 3 21 3-1 3 34 3-21 3 18 3-5 3 27 3 2M-141 -313l3-30 3 31 3-8 3 8 3 10 3-1 3 7 3 21M-100 -273l3 17 3-3 3-1 3 20M-82 -244l3-5 3-5 3-4 3 20 3 1M-59 -256l3 31M-50 -240l3-26 3 8M-38 -245l3-3 3-8M-20 -238l2-18 3 8 3 29 3 1 3 10 3 0 3 20"/><path transform="translate(1490.2 1534.6)" d="M-348 -1132l2 27M-340 -1071l3 14M-296 -866l3-42M-278 -790l3 44 3 52 3 1 3 28M-246 -623l3-51 3 48 3 28 3-25M-220 -598l3 32 3-11 3 10 3 13 3 30 3 21 3 13 3 20 3-16 3 26M-184 -445l2-11 3 13 3 18 3-1 3 11 3 21 3-9 3 20 3 8 3 2 3-1 3 12 3 17 3 5 2 2 3 4M-126 -295l3-19 3 24M-97 -264l3 7 3 2 3 0 3 14 3-2 3-4 3-1 3-2 3 5 3 1 3 12M-59 -236l3-15 3 8 3 6M-29 -253l3 12M-18 -251l3 6 3 16 3 9 3 8 3 12 3 0"/><path transform="translate(1487.1 1535.3)" d="M-348 -1081l2-52 3 30 3 13M-302 -948l3-4 3 76M-281 -800l3-31 3 80M-252 -703l3 21 3 31 3-4 3 39 3 6M-217 -585l3 5 3 6 3 34 3 2 3 47M-182 -474l3 30 3 0 3 11 3 27 3-11 3 38 3-24 3 26 3 3 3 2 3 28 3-5 3 6 2-3 3 27M-123 -304l3-4 3 15 3 1 3 4 3 0M-94 -272l3 16 3-7 3 11M-79 -247l3 1 3 5 3-28 3 26M-61 -238l2-5 3 2 3-5 3 7M-26 -245l3-9 3 19 2-18 3 3 3 6 3 6 3 25 3 2 3 17"/><path transform="translate(1484.0 1536.0)" d="M-275 -783l3-10 3 52 3 33M-249 -681l3-16 3 37 3 7 3 29 3 21 3-6M-220 -610l3 30 3-16 3 37 3 15 3-13 3 58 3 4 3-9 3 13 3 32 3-21 3 6 2-1 3-8 3 36 3 6 3 2 3 25 3 22 3 13 3-5 3 9 3 8 3 9 3 12 3-3 2 9M-126 -315l3-2 3 10 3 5 3 14M-100 -278l3-2 3 12M-88 -255l3 9 3-7 3 4 3 0 3 6 3 1M-64 -236l3 0 2-4M-41 -248l3-10 3-4 3 7 3 5M-20 -241l2-8 3 5 3-7 3 26 3 6 3 5 3 16"/><path transform="translate(1480.9 1536.8)" d="M-307 -937l2-15 3 19M-275 -834l3 18 3 35 3 48 2 24 3 1 3 58 3-31 3 2 3 17 3-31 3 52 3 17 3-24 3 37 3 3M-225 -616l2 13 3-10 3 2 3 52 3-37 3 61 3-21 3 18 3 44M-190 -502l3 18 3 14 2-11M-176 -458l3 8 3 17 3 11 3 26 3 12 3-2 3 19 3 16 3-13 3 6 3 12 2 5 3-4 3 4 3 10 3 9M-123 -312l3 0 3-7 3 21M-100 -269l3-18 3 12 3 6 3-4 3 17 3 18 3-8 3-2 3-4 3 13 3-6 3 6 3-1 2 5 3 6 3-17 3 12M-41 -244l3-8 3 3 3-5 3 6 3-13 3 18 3-9 2 4 3 7 3 7 3-9 3 21 3 15 3-1"/><path transform="translate(1477.8 1537.5)" d="M-392 -1050l3-41 2 51M-296 -951l3 24 3 3 3 41M-275 -878l3 29 3 56 3 29 2 44 3 53 3-33 3 21 3 0 3 1 3-4 3 17M-231 -593l3-9 3-7 2-7 3 17 3-8 3 46M-208 -565l3-9 3 43 3 26 3-3 3 33 3-12 3-18 3 21 2 22 3-11 3-5 3 16 3 22 3 15 3 32 3 1 3 19 3 5 3 2M-143 -361l2 20M-129 -319l3-17 3 10 3-2 3 21M-105 -290l3 4 2 0 3-2 3 13 3-2 3 19M-73 -234l3-3 3-3 3-1 3 5M-56 -226l3-11 3 5 3-8 3-8 3 15 3-13 3 8 3-5 3-24 3 24 3-9 3 3 2 12 3 13 3-20 3 14 3 6 3 4 3 17"/><path transform="translate(1474.7 1538.2)" d="M-392 -1049l3-11M-334 -1082l3-16M-313 -1011l3 48 3 14 2 21 3-39 3 107 3-75 3 3 3 42 3-4 3 3M-275 -885l3-4 3 85M-264 -728l3-9 3 16 3 45 3-6 3 14 3 24 3-10 3 21 3 14 3-14 3 17 3 26 3 3 2-14 3 17 3 10M-211 -563l3-13 3-4 3 37 3 29 3 12 3 10 3 11 3 10 3-8 2 28 3-4 3-5 3 16 3 22 3 23 3 4 3 21M-149 -360l3-18 3 24 2-15 3 27 3 2 3 21M-117 -305l3-7 3 4 3 6 3 21 3-14 2 9 3 7 3 6 3 8 3 5 3-5 3 21 3-17 3 19 3-8 3 18M-64 -222l3-18 2 8 3-8 3 12 3-3 3 2 3-10 3 9M-35 -242l3 1 3-10 3-5 3 8 3 5M-15 -224l3-5 3 17 3-10 3 6 3 8"/><path transform="translate(1471.6 1538.9)" d="M-720 -429l3-12 2 12M-682 -422l3-9 3-4M-392 -998l3-42 2 62M-357 -1151l3 47 3-44M-334 -1143l3 40 3 71M-307 -914l2-40 3 60 3 27 3-30 3 36 3-34 3 27M-272 -818l3-29 3 38 2 55 3-9 3 63 3-22 3 47 3-2 3 44M-231 -611l3 18 3-27 2 24 3 30 3 8 3-1M-208 -562l3-6 3 4 3 32 3 17 3 11 3 8 3 16 3 38 2-25 3 23 3-14 3 5 3 22 3 12 3 20 3 25M-155 -363l3-8 3 3 3 26 3-5 2 8 3 8 3 6 3 3 3-10 3-3 3 8 3 4 3 2 3 14 3 6 3 6 3 13 3-5 2 1 3 14M-85 -259l3 2 3 2 3 14 3 4 3-10 3 7 3 6 3-4 2 7 3-18 3 13 3 8 3 14 3-24 3 8 3 15 3-33 3 12 3-5 3-11M-15 -228l3-4 3 11 3-3 3 9 3 7"/><path transform="translate(1468.5 1539.7)" d="M-750 -423l3-2M-688 -419l3-16 3 11M-413 -951l3-10M-392 -1007l3-59 2 53M-360 -1126l3-32 3 75M-343 -1146l3-31 3 9 3 14 3 9 3 94M-319 -1012l3-48 3 47 3 40 3-50 2 71 3 64 3 7 3 9 3-42 3 67 3-11M-278 -891l3-32 3 45 3-21 3 94 2-3 3 8 3 62 3 35 3 53 3 11M-237 -620l3-20 3-19 3 51 3 10 2 36 3 12 3-10 3 13 3-15 3-19 3 19 3 4 3 8 3 17 3 13 3 36 3 4 3 21 2 15M-176 -447l3-20 3 16 3 39 3 15 3 19 3-6 3 6 3 7 3 2M-143 -347l2 5 3-11 3 26 3-7 3 18 3 4 3-8M-117 -307l3 14 3 19 3-5 3-11 3 6 2-17 3 28M-91 -279l3 2 3 9 3 9 3 13 3 3 3 3 3 10M-61 -228l2 3 3-1 3-12 3 15 3-6 3 16 3 13M-29 -243l3-1 3 7 3-18 2 16M-9 -213l3-4 3-6 3 7"/><path transform="translate(1465.5 1540.4)" d="M-744 -424l3-9M-688 -423l3-14 3 15M-656 -435l3-20M-527 -699l3-54M-395 -1050l3-5 3 3 2 75 3-46 3 59 3-108 3 29M-363 -1115l3-49 3 41 3 26 3-15M-340 -1120l3-31 3 6 3 78M-322 -1073l3 1 3-31 3 93 3 11 3-18 2 19 3 75M-290 -843l3 20 3-44 3-12M-275 -892l3-22 3 24 3 71 2 0 3 34 3 17 3 55 3 25 3 49M-237 -611l3-33 3 53 3-35 3 38 2 61 3-45 3 24M-208 -559l3 0 3 6 3 1 3 31 3 1 3 40 3-3 3 18 2 14 3-7 3-5 3 12 3-13 3 43 3 42 3-14 3 10M-152 -384l3 14M-143 -367l2 14 3 21 3-12 3 21 3-9 3 12 3 6 3 5 3-4 3 2 3 32 3-10 3-5 3 8 2 18 3-7 3-4 3 1 3-1 3 16 3 13 3 14 3-14 3 10 3 10M-61 -236l2-2 3 17 3-10 3 19 3 4 3 2 3-12 3 17 3-18 3-15 3-3 3-1 3-1 3-14 2 7 3 1 3 2 3 6 3 22 3-15 3 6"/><path transform="translate(1462.4 1541.1)" d="M-744 -421l3-4M-720 -435l3-5M-712 -442l3 12M-662 -442l3-10 3-3 3 5M-635 -448l2-7M-507 -805l3-5M-451 -950l3 43M-413 -944l3 7 3-18M-395 -1051l3-19 3 41 2-14 3 38M-378 -1035l3 9M-366 -1081l3-15 3-25 3 8 3 54 3 4 3-83 2 13 3 52 3-93 3 24 3 24 3 11 3 5 3 18 3 20 3 35 3-39 3-32 3 83M-299 -885l3-35 3 23 3 52 3-9 3 49 3-56 3-7 3-30 3 10 3 49 3-2 2 26 3 31 3-12 3 75 3 13 3 40 3 13 3 31 3-32 3-7 3 38 3 8 3-8 3-4 2 28 3 28 3 40M-211 -553l3 0 3 2 3 21 3 1 3 15 3 12 3 1 3 24 3 22 2 11 3-6 3-4 3 20 3 11 3 8 3 43M-158 -373l3-9 3 0M-146 -371l3 10 2 2 3-1 3 21 3 7 3 11 3 4 3-5 3 15 3 16 3-16 3 20 3 6 3 0 3-8 2 9 3 3 3 4 3 0 3-8 3 17 3 16M-67 -225l3-11 3-7 2 13 3 12 3 2M-41 -204l3 10M-32 -213l3-15 3 1 3 2 3-1 2-22 3 7 3 9 3-7 3 22 3-6 3 1"/><path transform="translate(1459.3 1541.8)" d="M-750 -409l3-7 3-4 3-9 3 9 3 4 3-19 3 0 3 3M-679 -426l3 1 2-1M-668 -427l3-10 3 1 3-15 3 27M-510 -767l3-38 3-1 3-3 3-24M-448 -889l3-56 3-5 3 30M-416 -904l3-13 3-33 3 23M-384 -970l3-80 3 73M-372 -1027l3-37 3-46 3 12M-357 -1093l3 7 3 21M-346 -1090l3-3 3-35 3 20 3-12 3 49 3-3 3 5 3 28 3-5 3 5M-310 -1060l3 60 2-64 3 90M-296 -911l3 58 3 3 3-31 3 26 3 79 3-61 3 20 3-12 3-8 3 59 2-72 3 45 3 69 3-13 3 29 3 32 3 53 3 17 3 7 3-8 3 20 3 0 3-8 3 28 2-5 3 28 3 3 3-1 3-3 3 7 3 18 3 30 3-20 3 16 3-3 3 20 3 19 3 10 2 16 3-16 3 23 3 7 3-3 3 27 3 28M-158 -385l3 14 3 2 3 3 3-23 3 16 2 23 3 4 3-5 3 27 3-2 3-3 3 24 3-1 3 2 3 7 3-3 3 17 3 13M-100 -275l3-8 3 16 3-7 3 5 3 2 3 5 3 19M-61 -222l2-2 3-9 3 29M-47 -210l3-12 3 8 3 10 3 8M-29 -220l3-2 3-5 3 4 2-7 3 2 3 9 3-8 3 6 3-11 3 6"/><path transform="translate(1456.2 1542.5)" d="M-750 -397l3-18 3 4 3-5 3 1 3 6 3-23 3 14 3-11 3 1 3-10 3-5M-671 -418l3-14 3 3 3 4M-510 -788l3 12 3-12M-457 -933l3-7M-445 -927l3 11 3 14 3-18M-422 -939l3 7 3-16 3 1 3 43 3-13M-395 -988l3-57 3-6 2-12 3 12 3 65M-366 -1071l3 29 3-24 3-20 3 41M-343 -1106l3 16 3-23 3 29 3 50 3-11 3-10 3-51 3 93 3 9 3-59 3 4 3 4 2 52 3-38 3 64 3 9 3 22 3 87 3 40 3-10 3 35 3 14 3 3 3-35 3 15 3-7 2 25 3 19 3-20M-252 -718l3 17 3 34 3 13 3 53 3 11 3 0 3 0 3 12 3-7 2 23 3 36 3-15 3 3 3 8 3-3 3 5 3 14 3 23 3-22 3 40 3-10M-184 -451l2 2 3 8 3 11 3 11 3-22 3 47 3 8 3 9 3-13 3 5 3 8 3 10 3 7 3-1 2 15 3-1 3 12 3 7 3-7 3 29 3-29 3 28 3 22 3 0 3-11 3 28 3 8 3-21 2 2 3-13 3 19 3 5 3 14 3 2M-64 -242l3 15 2 2 3 5 3 8 3-5 3 1 3-4 3 16 3 1 3-1 3 9 3-9 3-10 3-11 3 8 2 9 3-9 3-1 3-13 3 8 3-10 3 18"/><path transform="translate(1453.1 1543.3)" d="M-750 -408l3 7 3-6 3 12 3-11 3-7M-729 -409l3-15 3 2M-674 -423l3-4M-665 -414l3-12M-656 -423l3-13M-633 -433l3-27M-586 -492l3-36M-510 -764l3-9 3 29M-457 -905l3-41 3 39 3-36 3 3M-422 -907l3-34 3 26 3 67M-401 -904l3-52 3 10 3-76 3 14 2-7 3-21 3 25M-340 -1093l3 31 3 22 3 14 3-67 3 88 3-60 3 49M-305 -1061l3 51 3 30 3 10 3 57 3 22 3 54 3 40 3 3 3 19 3 19 3-44 3 33 3 21 2 0 3 27 3-24 3 8 3-29 3 50 3 49 3 14 3 30 3 45 3-7 3-26 3 26 3 42 2 1 3 7 3-3 3 23 3-17 3 1 3-3 3 21 3 29 3-9 3 20 3-7 3 2 3-4 2 9 3 27 3 30 3 12 3-1 3 24 3-7 3-14 3 29 3 0 3 4 3-19 3 26 3 30 2-24 3 6 3 10 3 2 3 19 3-5 3 14 3-2 3 16 3 20 3 8 3 14 3-26 3 9 2 7 3-1 3 4 3 5 3 5 3-6 3 3 3-6 3 12 3-4 3-4 3 20 3-14 3 4M-53 -214l3-14 3 17 3-9 3 13 3 5 3 0 3 6M-26 -195l3-16 3 11 2-15 3 10 3-2 3-4 3-18 3 11 3 10"/><path transform="translate(1450.0 1544.0)" d="M-747 -395l3-4 3 8M-717 -419l2-16 3-8 3 10 3-7 3-2 3 3M-676 -442l2 13 3 4 3-1 3-1 3 13M-633 -446l3-3 3 9 3-13 3 16M-594 -496l2-5 3 2M-583 -505l3-14 3-1 3-6 3-8M-512 -752l2 49 3-72 3 55 3-31 3-38 3-7 3-7M-469 -897l3-33 3 28M-448 -911l3-37 3 17M-430 -902l2-48 3 20 3 8 3-28 3 66M-407 -861l3-38 3-2M-395 -916l3-48 3-66 2 34M-372 -1003l3 16M-354 -999l3-74 3 66M-337 -1090l3 55M-322 -1019l3 11M-310 -1013l3-16 2-20 3-15 3 83 3-13 3 116 3-12 3 65 3 43 3-27 3 67 3-1 3 14 3 14 3-25 2 34M-255 -730l3-62 3 97 3 2 3 29 3 67M-234 -553l3-10 3-14 3 39 2-1 3 4M-211 -521l3-2 3 35 3 1 3-7 3 24 3-8 3-9 3 13 3-7 2 37 3 3 3 41M-167 -397l3 22 3-2 3-1 3 14 3-8 3 21 3-5 3-10 2 20 3 12 3-2 3 16 3-5 3 9 3 4 3 21 3-8 3 8 3 25 3-4 3 17 3-13 2-11 3 27 3-12 3 15 3-4 3-9 3 15 3-3 3 2 3 3M-67 -241l3-6M-59 -236l3 2 3 7 3 10M-44 -201l3-16 3 12M-32 -197l3-5 3 6 3-2 3-4 2 4 3-2 3-6 3 4 3-11 3 3 3 10"/><path transform="translate(1446.9 1544.7)" d="M-750 -390l3-1 3-4 3 1 3 10M-723 -416l3-3M-706 -433l3-5 3 7 3-3M-685 -430l3-20 3 17M-656 -422l3-8 3-11 3 20M-635 -447l2-12 3 2 3 12M-603 -465l3-17M-594 -482l2-14 3-1 3 5 3-26 3 11 3 1 3-14 3 12M-539 -618l3-2M-498 -727l3-52 3-32 3 87M-477 -883l3 9 3-28 2 0M-463 -913l3 17M-454 -932l3 12 3-2 3-8M-392 -935l3-5 2-51 3-19M-378 -1002l3-35 3 30 3-11 3 32 3-38 3 32 3-41 3-44 3 73 3-42 2 28M-340 -1069l3-8 3-23 3 59 3 38 3-49 3 9 3 22 3 13 3-8 3-17 3 22 2-10 3-26 3 125 3-11 3 9 3 74 3 8 3 64 3 9 3 24 3 9 3-2M-261 -712l3-27 3 19 3-2 3-25 3 57 3-7 3 64 3 40 3-10 3 16 3 56 3-16 2 11 3 24 3 0 3-35 3 25 3 1 3 33 3 12 3 29 3 5 3-16 3-22 3 4 3 0 2 12 3 21 3 20M-170 -390l3-19 3 13 3 20M-146 -355l3-13 2 16 3 17 3 7 3-11 3 27 3-12 3 3 3 17 3 17 3 5 3 14 3 17 3-6 3-6 2 2 3 6 3 2 3 3 3 6 3-5 3 6 3 5 3 5 3-9 3-1 3 3 3-8 3 3M-53 -220l3-5 3 6 3 0 3 4 3 6 3-1 3 3 3 9 3 2 3 14 3-8 2 0 3-6 3 7 3-15 3-3 3 8 3-6"/><path transform="translate(1443.8 1545.5)" d="M-747 -384l3-1 3-1 3 0 3-7 3-9 3 0M-688 -438l3-14 3 20 3-4M-668 -428l3-10 3 33M-653 -418l3-5M-638 -445l3-12 2 14M-624 -440l3-14 3 2 3 22M-600 -458l3-24 3-1 2-10 3 6M-577 -501l3-7 3-14M-545 -591l3-27 3 21M-498 -731l3-4 3-22M-463 -901l3-14 3 19M-398 -894l3 6 3-50M-387 -930l3-29 3-24 3 1 3-23 3-17 3 4 3 12 3 21 3 42 3-93 3 18 3 13 3-6 2-13 3-29 3-27 3 19 3 8 3 59 3-56 3 66 3-30 3 49 3-43 3 47 3-28 3-46 2 11 3 84 3-17 3 1 3 60 3 22 3 42 3 36 3 42 3 2M-261 -717l3 2 3-1 3-11 3-9 3 34 3 66 3 1 3 23 3 6 3 49 3-11 3 48 2-3 3 24 3 3 3-46 3 49 3 1 3 20 3-4 3 43 3-19 3-6 3 11 3-21 3 19 2-4 3 12 3 21 3 7 3-17 3 17 3 14 3 6 3 14 3-2 3 29 3-28 3 15 3 4 2 9 3-5 3 11 3 25 3-14 3 21 3 12 3 17 3-11 3 30 3-14 3 25 3-2 3-6 2 9M-94 -249l3 8M-85 -235l3-16 3 5 3 6 3 11 3-10M-61 -243l2 0 3 1 3 4 3 17 3 0 3 1 3 12 3-5 3 3 3 11 3 3 3-9 3 7 3 16 2 8 3-27 3-10 3 28 3-14 3-6 3 13"/><path transform="translate(1440.7 1546.2)" d="M-744 -385l3-1 3 9 3-2M-726 -395l3-26 3-4M-697 -422l3-15M-685 -444l3 8M-671 -443l3 17M-662 -416l3 1 3 6M-644 -438l3 7M-635 -446l2-2 3-6 3 11M-580 -506l3 4 3-4 3 5M-553 -553l2-27M-498 -744l3-14 3 44M-474 -855l3-2 2 5 3-43 3 0 3 5M-448 -931l3 23 3-6 3 3M-430 -878l2-41 3 37M-410 -887l3-32 3 70 3-43 3 72M-387 -912l3-29 3 9 3-24 3-72 3 62 3-30 3 36M-357 -919l3-86 3-8 3-1M-343 -1018l3-9 3-6 3 2 3 39M-325 -993l3-58 3 74 3-12 3 63 3-54 3 49 2-43 3 32 3-4 3 13 3 13 3 48 3 53 3 12 3 15M-266 -727l2-15 3 16 3 12 3 38 3 31M-246 -673l3 47M-237 -622l3 5 3 38 3 16 3 19 2 11 3 49 3-14 3 10 3-2 3 9 3 23 3-7 3 22M-190 -441l3-14 3-4 2 9 3-1 3 4 3 37 3-7 3 5 3 0 3 17 3 23 3 13 3 6 3-9 3 11 3-17 2 9 3 28 3-22 3 17 3 20 3 23 3-7 3 7 3 22 3 5 3 4M-97 -250l3-6 3 6 3 5 3 2 3 1 3 2 3 8 3-3 3 2 3-1 3-8 3 4 2-9 3 11 3 1 3 11 3 7 3-4 3 10 3 6 3 4 3 0 3 11 3-2 3 2 3 0 2 14 3 7 3-11 3-13 3 3 3 3 3 3"/><path transform="translate(1437.6 1546.9)" d="M-738 -382l3-2 3 9M-726 -396l3-2M-694 -433l3 11 3-11 3 6M-671 -438l3 4M-662 -423l3-6 3 23 3-7 3-1M-644 -428l3-12 3 19M-624 -440l3-7 3-3 3 19M-606 -456l3-3 3 6 3-22 3 9 2 7M-580 -489l3-14 3-1M-553 -553l2-7 3-11M-542 -580l3-21M-507 -686l3-16 3-39 3 18 3-11 3-1 3 10M-480 -745l3-80 3-23 3 7M-460 -860l3-45 3 43 3-28 3-50 3 4 3 84M-433 -932l3-9 2 5 3 43M-410 -911l3-24 3 125 3-75 3 71 3-49M-389 -885l2-43M-381 -904l3-43 3-28 3 18 3-15 3-11 3 11 3-26 3 5 3 61M-348 -964l2-43 3 34 3-46 3 9 3-34 3 68 3-24 3-19 3-9 3 48 3-18 3 45 3 25 3-10 2-9 3 30 3-2 3-15 3 63 3 25 3-2 3 2 3 91M-269 -744l3 8 2 19 3 56 3-47 3 86 3-34 3 2M-243 -658l3 10M-234 -647l3 50 3 12 3 33 2 16 3 15 3 33 3 13 3 13 3-17 3 25 3-1 3 25 3-21 3 9 3-1 3-5 3 14 2-4 3 12 3-3 3 23 3-8 3 17 3 1 3 20 3 4 3 17 3 10 3-14 3-1 3 25 2 11 3-2 3-1 3 7 3 7 3 11 3 12 3 4 3 9 3 2 3 14M-105 -262l3-3 2 16 3-13 3 2 3 13 3 2 3 11 3-3 3 8 3-5 3 3 3 7 3-2 3-14 3 3 2-3 3 9 3 15 3 7 3-3 3-8 3 16 3 3 3 4 3 7 3 8 3 0 3 0 3-2 2 7M-12 -164l3-18 3-7 3-2 3-3"/><path transform="translate(1434.5 1547.6)" d="M-685 -423l3-21 3 4 3 6 2 1 3-1 3-10 3 17M-659 -440l3 21 3 11M-635 -434l2 3M-627 -442l3-5 3-8 3 15 3 16 3-21 3 6 3 1M-600 -428l3-43 3 11 2 1M-580 -482l3-20 3 12 3-17M-542 -582l3-3 3-10 3 15 3-14 3-28 3 7M-504 -693l3-2 3-41 3 10 3 20M-457 -849l3-40 3 13 3-24 3 32 3-8 3 13 3-28 3-22 3-28 2 49 3 39M-392 -811l3-67 2 3 3-7M-363 -931l3-51 3 24 3-24 3 46 3 11 2-81 3 62M-337 -959l3-64 3 53 3-56 3 37 3 12 3 27 3 12 3 18 3 4 3 6 2 42 3-32 3 64 3-45 3 13 3 22 3-40 3 75 3 21 3-5 3 43 3-17 3 16 3 4 2 48 3-2 3 58 3-43 3 79 3-63 3 30M-240 -672l3 27 3 1 3 1 3 46 3 49 2 33 3 16 3 22 3 2 3 23 3-26 3 10 3 37 3-25 3 7 3 19 3 7 3-1 3-14 2 10 3 4 3 0 3 21 3-3 3 18 3 2 3 19 3 7 3 7 3 12 3 12 3-3 3 24 2-17 3-19 3 27 3 6 3-2 3 5 3 2 3 23 3 19 3-13 3 9 3 0M-100 -252l3-11 3 5 3 1 3 7 3 8 3 12 3-5 3 10 3-6 3 13M-64 -223l3-16 2 14 3 10 3 1 3-4 3 8 3 4 3 9 3 11 3-1 3 13 3-1 3-2 3 3 3-3 2 4 3-11 3 16 3-11 3 5 3-6 3 0"/><path transform="translate(1431.5 1548.3)" d="M-688 -430l3 8M-676 -424l2-22 3 23 3-14 3 9M-659 -430l3-10 3 19 3 13M-633 -425l3-18 3-4 3 6 3 3 3 4 3-6M-592 -449l3 1M-551 -558l3 22M-542 -568l3-8 3 0M-530 -563l3-56 3 31M-515 -629l3-49 2 28 3-37 3-5M-495 -688l3-33 3 16M-480 -733l3-47 3 1 3-12M-460 -846l3-23 3 25 3-23 3-20 3 56M-436 -869l3-16 3 9 2 5M-419 -818l3-102 3 2 3-11 3-8 3-18 3 89 3-21 3 84 3 13 3-64 2 20 3-28 3-16 3-65 3 51M-354 -923l3-23 3 6 2 48M-337 -996l3 5 3-10 3 18 3-13 3 14 3 3 3 19 3 26 3 84 3-38 2-8 3 16 3-5 3 64 3-32 3-7 3 54 3-13 3 53 3-36 3 22 3 17 3-26 3 62 2 39 3 30 3 0 3 12 3 1 3 4 3 20 3-36 3-20 3 6 3 44 3 18 3 4 3 41 2 28 3 3 3 61 3 35 3 1 3 8 3-19 3 3 3 8 3 0 3 11 3 19 3-9 3 19 2 3M-176 -397l3-2 3-1 3 27 3 9 3 1 3-2 3 36 3-7 3 6 3 13 3-4 2 5 3-13 3 11 3 17 3-20 3 20 3 5 3-7 3 25 3 6 3 7 3-1M-102 -259l2-7 3 7 3-1 3 9 3 21 3-8 3 14 3 11 3-7 3-15 3 10 3 6 3-11 3 5 2 3 3 16 3 2 3-17 3 14 3 10 3 3 3 4 3 2M-29 -175l3 3 3-5 3 10 2-1 3 2 3-1 3 5 3-1 3-12 3 8"/><path transform="translate(1428.4 1549.1)" d="M-738 -374l3-12 3 3M-688 -424l3-9 3 18M-676 -420l2-10 3-5 3 13 3 0 3-12 3-5 3 6 3 12M-638 -416l3-6 2-9 3 5 3-5 3-23 3 7 3 21 3-1M-594 -435l2-24 3 20M-580 -488l3 14 3-11 3-9 3-1M-562 -497l3-2 3-6 3-13 2-14 3-21 3 6 3-20M-515 -644l3-3 2-5 3-18 3 12 3-27 3-31 3 22 3-10 3 15 3-18 3-24 3 8M-460 -847l3 0 3 4 3-18 3 32M-433 -852l3-56 2 61M-404 -906l3 13 3 18 3 61 3-13 3 13 2-17 3 8 3-27 3-21 3-44 3 26 3 25 3-81 3-13 3-10 3 17 3 2 3 50M-343 -928l3-48 3-17 3-31 3 47M-325 -990l3 22 3 3 3 40 3 32 3-18 3 21 2 30 3-22 3 23 3-34 3 85 3-30 3-5 3 41 3 5 3 23 3 16 3 8 3 29 3 13 2 53 3-7 3 41 3 24 3-33 3-8 3 22 3 2 3-4 3-11 3 1 3 24 3 2 3 44 2 28 3 10 3 38 3 21 3 18 3 4 3 23M-199 -420l3-13 3 3 3 26 3 14 3-18 2 0 3 26M-173 -396l3 15 3-5 3 35 3-3 3-7 3 23 3-9 3 25 3 9 3-4 2-15 3 18 3 11 3-2 3 8 3 4 3-13 3 24 3 1 3 0 3 3 3 17 3-7 3 15 2-14 3 13 3-2 3 14 3-3 3 23 3-16 3 25 3-10 3-6 3 6 3 5 3 6 3-7 2 1 3 17 3 7 3-13 3 3 3 2 3 16M-29 -173l3-2 3 2 3 5 2 5 3 3 3-2 3-1 3 6 3-2 3-4"/><path transform="translate(1425.3 1549.8)" d="M-738 -372l3-11 3 7 3-19 3 7M-694 -426l3-8 3 0M-682 -429l3 8 3 9 2-27 3 22M-656 -430l3-7 3 17 3-4 3 22M-630 -416l3-19 3 3 3-9 3 11M-580 -458l3-25 3 1 3-1 3-11M-559 -498l3 1 3 0 2-31 3 4 3 9 3-3 3-38 3-3 3-12M-512 -636l2-4 3-1 3-2M-498 -684l3-32 3 23 3 9 3-5 3-22 3 3M-463 -788l3-52 3-4 3 26 3-13 3 14M-413 -854l3-30 3-17 3 14 3-33 3 52M-392 -826l3-42 2 58 3 21 3-26 3-45 3 6 3 14 3-61 3 18 3-7 3-48 3 91 3-72 3-4 3 31 2-24 3-1 3-8 3-9 3-23 3-38 3 18 3-7 3-22 3 96 3-26 3 21 3 35 3-13 2 11 3 56 3-34 3-7 3 39 3-12 3 29 3-10 3 38 3-4 3 9 3 21 3 15 3 20 2 53 3 10 3 24 3 41M-249 -595l3-25 3 15 3-7 3-3 3 18 3 18 3-15 3 43 2 4 3 39 3 38 3 16 3 3 3 16 3-1 3 16 3-12 3 9 3-7 3 32 3-10 3 42 2-15 3 3 3-10 3-22 3 7 3 25 3 6 3 19 3 9 3 1 3 8 3 4 3 9 3 2 2 16 3-3 3-2 3 5 3 2 3 5 3 13 3 15 3-8 3 13 3-1 3-2 3 12 3-12 2 3 3 17 3 6 3 4 3 4 3 7 3 0 3 12 3 1 3-13 3 1 3 7 3-3 3 14 2 4 3 1 3 7 3 5 3-3 3 12 3-13 3 18M-29 -189l3-1 3 22 3 9 2 3 3 4 3-16 3 9 3-6 3 4 3-3"/><path transform="translate(1422.2 1550.5)" d="M-750 -360l3-7M-738 -375l3-3 3 14 3-8 3-8M-720 -386l3 9M-682 -431l3 0 3 19M-662 -437l3 8 3 3 3-4M-647 -418l3 5M-635 -412l2-13 3 14 3-9 3-3 3-4 3 2M-609 -421l3-17M-583 -436l3-17 3-17 3 4M-551 -495l3-20 3-1 3-7 3-15 3 14M-530 -557l3-29 3 28M-512 -621l2-36 3 29 3 2 3-9M-489 -683l3 2M-469 -742l3-15 3-26 3-43 3 34 3 4 3-2 3-2 3-81 3 82M-410 -862l3 31M-389 -832l2 33 3 28 3 3 3-52 3-19 3-14 3 49M-357 -857l3-28 3 51 3-66 2-25 3 40 3-8 3-15 3-27 3-25 3 37 3-15 3 4 3 27 3 7 3 39 3-37 3 49 2 7 3-28 3 12 3 23 3-26 3 24 3 33 3 67 3-31 3 11 3-40 3 35 3 42 3-26 2 75 3-27 3 74 3 37 3-9 3-12 3 3 3-8 3 8 3 39 3 0 3 2 3 5 3 23 2-8 3 19 3 31 3 29 3-5 3 35 3 14 3 31 3-6 3 3 3-1 3 13 3 9 3-5 2 32 3-18 3 5 3-17 3-5 3 17 3 15 3-6 3 8 3 20 3 12 3-19 3 14 3 2 2 3 3 15 3-12 3 7 3 12 3 9 3 6 3 4 3 11 3-16 3 10 3 14 3-1 3-2 2 4 3 10 3 12 3 1 3-3 3 8 3 15 3-10 3 11 3-5 3 0 3 3 3 0 3 8 2-7 3 16 3-8 3 14 3-3 3 16M-35 -183l3-13 3 8 3-3 3 19 3 0 2 15 3-2 3 4 3-3 3 2 3-1 3 5"/><path transform="translate(1419.1 1551.2)" d="M-750 -356l3-8 3 7 3-16 3-3 3 3 3 5 3 4 3-16 3 4M-706 -405l3-10 3-14 3-4 3 17M-682 -423l3-12 3 21M-656 -431l3 14M-647 -419l3-10 3 18 3-5 3 11 2-20 3 13 3 9 3-17 3 4M-615 -427l3-11M-606 -421l3-11M-592 -444l3-14 3 15M-571 -457l3-21 3-3 3-8 3-9M-551 -491l3-17 3 14M-527 -557l3-16 3 12 3-31 3-5 3-11 2-3M-489 -678l3-11 3 40M-428 -887l3 19M-419 -859l3-8M-392 -870l3 17M-381 -769l3 0 3 5 3-62 3 37 3-56 3 55M-348 -870l2-22 3 46M-337 -860l3-24 3-56 3 11 3-5 3 16 3 11 3-3 3 57 3 13 3 15 2-67 3 18 3 76 3-20 3-36 3 31 3 37 3 11 3 4 3 77 3-78 3 13 3 38 3 35 2-18 3 62 3-7 3 85M-249 -603l3 11 3-12 3-3 3 38 3-12 3-10 3 41 3-12 2 48 3-22 3 54 3-1 3 12 3 28 3 37 3 14 3 0 3 19 3-10 3-4 3 4 3 8 2 8 3 29 3-15 3-2 3-16 3 14 3 26 3 5 3-4 3 30 3-23 3 16 3-1 3 10 2 2 3-2 3 6M-129 -276l3 3 3 2 3 3 3 7 3-1 3 7 3-3 3 0 3 13 2 3 3 7 3 2 3 7 3-8 3 12 3 9 3 4 3 4 3-2 3-2 3 0 3-2 3 12 2 4 3-2 3 9 3 4 3 4 3 0 3 4 3-5 3-2 3 0 3-3 3-3 3 7 3 15 2 2 3 20 3-7 3-11 3 17 3-1 3 2"/><path transform="translate(1416.0 1552.0)" d="M-750 -360l3-5 3 6 3-8 3 4 3 0 3-5 3 10M-715 -383l3-1 3 0M-703 -401l3-15 3-2 3-5 3 1 3-11 3 6 3-10 3 6 3 1 2 18M-647 -419l3-10 3 4 3 17 3-6 2 16 3 7 3-14 3-2 3 1M-612 -419l3-17 3 7 3 15M-594 -433l2-6 3 0 3-6 3 5 3-11 3-5 3 15M-556 -500l3 0 2-5 3 12M-536 -504l3-26 3 0 3-13 3-17 3 6 3-34 3 11 3-9 2-3M-492 -660l3-12 3-9M-477 -680l3-17M-463 -731l3-38 3 7M-442 -777l3-30 3 17 3-66 3 9 2-26 3-29 3 33 3-6 3 19 3 18 3-41M-392 -870l3-33 2 82 3 17 3-10 3 55 3-3 3-24 3 3M-363 -771l3-46 3-32 3 22 3-48 3 18 2-21 3-4 3 38 3-55 3 7 3 22 3-46 3 55 3 20 3-56 3 64 3-48 3 69 3-19 2 9 3-34 3 50 3-11 3 25 3-15 3 26 3 53 3-4 3 40 3-56 3 53 3-41 3 33 2 42 3 33 3 16 3 35 3-22 3-11 3 6 3 17 3-11 3 53 3-7 3 14 3-4 3-15 2 47 3 14 3 17 3-10 3 43 3 16 3 21 3 9 3 19 3 12 3 4 3-2 3-6 3 8 2 23 3-16 3 33 3-39 3 28 3 8 3 5 3 4 3 34 3-26 3 8 3-10 3 13 3 14 2-8 3 5 3 0 3-8 3 10 3 10 3 25 3-16 3 11 3 5 3-9 3 20 3-4 3 7 2 7 3 2 3 8 3-8 3-1 3 1 3 28 3 3 3-6 3-5 3-4 3 20M-59 -191l3-5 3 9 3 9M-41 -169l3-5 3-13 3 5 3 0M-23 -187l3 11 2 4 3 2 3 19 3 3 3-10 3 15 3-5"/><path transform="translate(1412.9 1552.7)" d="M-750 -353l3-3 3-5 3 6 3-4 3 5 3-1 3-8M-723 -358l3-13 3 3 2-19 3 5 3 3 3-9 3-8 3-5 3-8 3 2 3-23 3 16 3 0 3-10 3-13 3 14 2 9 3 5 3-11M-662 -425l3 6M-653 -424l3-11 3 13 3-10 3 30M-633 -406l3 11 3-19 3 23M-612 -423l3-4 3 23 3-20 3 15M-589 -430l3-11 3 14 3-7 3 12M-565 -453l3-6 3-25 3-2 3 0 2-11 3 22M-527 -516l3-24 3-21 3 8 3-25 3 9 2-13M-498 -614l3-18M-489 -683l3 19M-466 -722l3-14 3 12 3-28 3 19M-433 -824l3-3 2-26 3 15 3 15 3 24M-413 -817l3-55 3 33 3-32 3 42 3-17 3-4 3-47 3 6 2 46 3 32 3-21 3 103 3-44 3 23 3-10 3-38 3 1 3-5 3 19 3-16M-348 -859l2 31 3-54 3 43M-334 -854l3 13 3-6 3 0 3-41 3 34 3-11 3-4 3 18 3 52 2-59 3 88 3-48 3-25 3 48 3 48 3-14 3 45 3 13 3 10 3 2 3 12M-266 -691l2 38 3 45 3 1 3 34 3-19 3-23 3 34 3-13 3 38 3 3 3 5 3 9 3 54 3-24 2-5 3 19 3 19 3 16 3 36 3-1 3 16 3 21 3 6 3 11 3 5 3-10 3 21 3-7 2 11 3 7 3 2 3 6 3 17 3 7 3 10 3-4 3 4 3 14 3-1 3 3 3-7 3 3 2-6 3 26 3-12 3 2 3 16 3-5 3 2 3 0 3 10 3 3 3 8 3 7 3 1 3 7 2 10 3 3 3-5 3 13 3-12 3-3 3 7 3 8 3 9 3 0 3 0 3 1 3-6 3 5 2-4 3 8 3 6 3 6 3 1M-41 -168l3-5 3 2M-29 -173l3-8 3-6 3 1 2 8 3 15 3 6 3 3 3 8 3-5 3 11"/><path transform="translate(1409.8 1553.4)" d="M-750 -355l3 16 3-12 3 4M-723 -356l3-18 3 11 2-16 3-7 3 9 3 2 3-4 3-12 3-3 3-12 3-7 3 8 3-2 3-5 3-11 3 10 2-7 3 13 3-12 3 11 3-36 3 17 3 9 3-20 3 7 3 9 3 6 3 4 3-4 3-1M-627 -399l3 2M-615 -401l3-24 3 2 3 13M-592 -440l3-6 3 13M-577 -425l3-9 3-13 3 10M-562 -455l3-1M-553 -476l2-17 3 2 3 18M-524 -526l3-5M-512 -559l2 4M-492 -611l3-28 3-7 3 0M-469 -676l3-24M-445 -745l3-52 3 49 3-41 3 10 3-55 2 30 3-40 3 11 3 46 3-25 3 12M-407 -815l3-47 3 1 3 14 3 7 3 0 3 0 2-18 3 22 3-13 3 43 3 42 3 30 3-19 3 2 3-57 3 2 3 31 3-3 3-31 3-35M-340 -820l3-53 3 9 3-3 3 69 3-36 3-19 3 25 3-22 3 15 3 15 3 18 2-37 3 25 3 55 3-36 3 23 3 51 3-9 3 26M-275 -666l3-11 3 16 3-35 2 17 3 61 3-9 3 35 3 6 3 45 3 7 3-21 3 12 3 5M-231 -525l3 5 3-2 2 47 3-4 3 15 3 15 3-7 3 35 3 23 3 2 3 25 3-21 3 35 3-9 3 25 3-15 2 22M-176 -322l3 1 3 13 3 7 3 12 3 8 3-7 3 1 3 3 3 3 3 3 3-10 2-6 3 17 3 8 3 11 3 2 3-16 3 16 3 8 3 7 3 2 3-12 3 17 3 16 3 4 2-1 3-7 3 8 3-3 3 3 3-2 3 7 3 5 3 1 3 8 3-8 3 7 3 0 3 1 2 3 3-4 3 8M-41 -184l3 7 3 8 3-4 3-8 3 5 3 5 3 10 2-8 3 2 3 9 3 2 3 11 3 5 3 0"/><path transform="translate(1406.7 1554.2)" d="M-747 -347l3-1 3 10M-723 -358l3-7 3-1 2 3 3-13 3 4 3-5 3 16 3-6 3-3 3-19 3-13 3-2 3 11 3-10 3-16 3 18 2-7 3-1 3 9 3-18 3 9 3-10 3-2 3-5 3-8 3 21M-635 -414l2 8M-612 -406l3-13 3 20M-594 -402l2-36 3 13 3-7 3-2 3 13M-565 -434l3-40 3 17 3 9 3-31 2 5 3-7 3 6M-518 -517l3-38 3 0M-501 -593l3-27 3-3M-474 -640l3-43 2 0 3-6 3 4 3-34 3-11 3-26 3 45M-445 -748l3-44 3 27M-430 -780l2-39 3 29 3-38 3 74M-410 -772l3-40 3-2 3-11 3-3 3-32 3 68 3-77 2-25 3 71 3-26 3 70 3-33 3 48 3 44 3-4 3 0 3-31 3-24 3 19 3 3 3-39 2-52 3-8 3 31 3-21 3 12 3 54 3-14 3 20 3 40 3-81 3-15 3 31 3 21 3-40 2 0 3 3 3-16 3 44 3 40 3 30 3-9 3 7 3 18 3-7 3 2 3 31 3 17 3-18 2-8 3 10 3 58 3 61 3-39 3 14 3 31 3 16 3-2 3 28 3-29 3 0 3 14 3 25 2 1 3 18 3 22 3 0 3 29 3 30M-202 -401l3 25 3-10 3 34 3 7 3 2 3 9 2-20 3 18 3 5 3 4 3 26 3-10 3 24 3 4 3-11 3 15 3 6 3-2 3 3 3 0 2-14 3 20 3 4 3-6 3 11 3 2 3 13 3 3 3-17 3 27 3-4 3-7 3 20 3-1 2 4 3 4 3 0 3 1 3 4 3 0 3 3 3-9 3 9 3 16 3-9 3 9 3-4 3-5 2 7 3 0 3 1 3 3 3 4 3 4 3 0 3 0 3 0 3 14 3 4 3-3 3-4 3-3 2 10 3 3 3-3 3 2 3 6 3 20 3-4"/><path transform="translate(1403.6 1554.9)" d="M-750 -341l3-4M-741 -334l3-1M-729 -349l3-9 3 0 3-2 3 0 2-1 3-2 3-15 3 12 3-9 3 11 3 7 3-7 3-8 3-13 3-2 3-16 3 13 3-8 2-4 3-19 3 32 3-10 3-6 3-8 3 16M-650 -415l3-12 3 22M-618 -392l3-1 3-15 3-2 3 5M-589 -409l3-37 3 21 3-10 3 21M-568 -423l3-19 3 10 3-21 3 5 3-8 2 2 3-15 3-6 3 1M-518 -520l3-15 3 2M-501 -583l3-4 3-14 3-22 3-2 3 21 3-21 3-6M-460 -661l3-59 3 12 3 22 3-30 3-36 3-23 3 21 3-7 3-34 3 26 2-10 3 12 3-31 3 41M-410 -781l3-17 3 4 3 17M-389 -801l2-36 3 8 3-4 3 13 3 26 3 20 3 23 3 62 3-26 3-20 3-4M-346 -782l3-47 3 7 3-16 3-22 3 55 3 15 3 50 3-2 3-26 3 12 3-33 3-6 3 25 2-23 3 0 3 33 3-5 3 10 3 42 3 10 3 8 3-8 3 28 3 19M-269 -656l3 0 2-28 3 45 3-18 3 48 3 25 3 23 3 34 3-32 3 32 3 14 3-6 3 29 3-4 3 5 2 21 3-18 3 17 3 31 3 8M-205 -407l3-10 3 18 3 33 3-14 3 42 3 9 3 1 2 2 3-1 3 24 3-14 3 16 3-8 3 21 3 4 3-7 3 27 3-4 3 7 3-1 3-13 2 9 3 2 3 6 3-5 3 4 3 2 3 4 3 10 3-8 3 10 3 2 3 5 3 9 3 8 2 11 3-6 3 6 3-4 3 10 3 4 3 10 3-6 3 1 3 2 3 2 3 5M-61 -185l2-19 3 11 3 2 3 11 3-1 3 7 3 2 3-7 3 8 3 0 3 4 3 9 3-5 3 1 2 7 3-10 3 15 3 0 3-7 3 9 3 12"/><path transform="translate(1400.5 1555.6)" d="M-750 -340l3-3 3-1 3-4 3 0 3 14 3-10 3-6 3-5 3 11 3-4 3-9 2-3 3-6 3 10 3-12 3 12M-682 -379l3-16 3-5 2 6 3 1 3-8 3-8 3 21M-650 -411l3-12 3 15M-621 -412l3 11 3 11 3 6 3 2 3-6M-594 -408l2-12 3 1 3-8 3 0 3 25M-574 -427l3-4 3 4 3-4 3 4 3-12 3 2 3 5 2-27 3 24M-536 -479l3-23 3-2 3 1M-518 -524l3 1 3 8 2-33 3-1 3-28 3 51M-495 -576l3-21M-486 -616l3 22M-477 -637l3-16 3-29 2 1 3 56M-460 -682l3-7 3 21 3-35 3 20 3-3 3 21 3-27 3-6 3-28M-416 -748l3-70 3 27 3-20 3 33 3 18 3-53 3 40 3-30 3-44 2 37 3 22 3-19 3-35 3 46 3-1 3 48 3 45 3-19 3 41 3 8 3-70 3-23 3 44 2-31 3-42 3 6 3-10 3 28 3 3M-325 -726l3-9 3-17 3 28 3-39 3-5 3 46 2-35 3 15 3-8 3 32 3-36 3 18 3 16 3 31 3 1 3 36M-269 -636l3-17 2-5 3 8 3 32 3 49M-249 -536l3-8 3 27 3 13 3-13 3 36 3 11 3-12 3 9 2 4 3 5 3 1 3 30 3 17 3-29 3 25 3 8 3 11 3 17 3 20 3-1 3 29 3 11 2 4 3 4 3 2 3 17 3-12 3 15 3-8 3 12 3-7 3 34 3 5 3-8 3-1 3 7 2-7 3 2 3 13 3-3 3-4 3-2 3 4 3 6 3 19 3-2 3 11 3 2 3 14 3 5 2 1 3 1 3 0 3 9 3 3 3-2 3 2 3 4 3 5 3 8M-61 -180l2-7 3 3 3-5 3 14 3 0 3-1 3 7 3 4 3 1 3-3 3 0 3 14 3 6 3-9 2 3 3 0 3 5 3 2 3 4 3 1 3 11"/><path transform="translate(1397.5 1556.3)" d="M-750 -333l3-5 3 1 3 7 3-7 3 1 3 4 3-4 3-7 3 3 3-6 3-5 2 4 3-5 3-4 3 1 3 8M-679 -380l3-11 2-4 3 7 3-9 3-5 3 3 3 6 3-4M-650 -402l3-23 3 13 3-5M-627 -414l3 6 3-14 3 18 3 9 3 6 3 11 3-11 3 6M-594 -400l2-22 3 14M-574 -414l3-17 3 20 3 0 3-2 3-16 3-2 3 12M-521 -514l3-4 3-6 3 24M-486 -595l3-11 3-3 3-10 3-14 3 5 2-42 3 26 3 15 3-25 3-19 3 17 3-14 3-4 3 11 3-15 3 20M-430 -698l2-73 3 40 3-21 3-36 3 50 3-26 3 8 3-19 3 5 3-26 3 44 3-49 3 13 3-8 2 67 3-34 3-1 3 4 3-51 3 64 3-4 3-54 3 102 3 26 3-13 3 14 3-20 3-10 2-89 3 62 3 6 3-1 3-24 3-1 3 10 3-49 3 53 3 26 3 13 3-5 3-11 3-32 2 18 3-37 3 32 3-7 3 23 3 24 3-6 3 22M-278 -638l3-45 3 31 3-7 3-7 2 37 3 6 3 49 3-32 3 23 3 5 3 16 3 33 3 13 3 28 3 17 3-20 3 34 3 3 2 2 3 9 3-2 3 32 3 1 3 4 3-9 3-3 3 13 3 32 3-1 3 38 3-20 3 37 2-7 3 9 3 0 3 25 3-16 3 18 3-11 3 12 3-7 3 24 3 14 3-2 3 4 3 2 2 7 3-1 3-14 3 7 3-9 3 9 3 6 3 10 3-3 3 3 3 11 3 3 3 21 3-6 2 2 3 17 3-8 3 9 3 8 3-2 3-1 3 9 3 14M-67 -172l3-6 3-6 2-10 3 10 3 9 3-7 3 3 3 11 3 1 3-2 3 8 3-14 3 25 3 1 3 4 3-3 2 3 3 0 3-2 3 6 3 1 3 3 3 7"/><path transform="translate(1394.4 1557.0)" d="M-750 -329l3-6 3 14 3-10 3 3 3-4 3 7 3-8 3-7 3 4 3-9 3 10 2-12 3 10 3-17 3 3M-691 -357l3-4 3 7 3-9 3-14 3-8 2-4 3 1M-665 -395l3-4 3 9 3 2M-638 -417l3-4 2 12 3-7 3 1 3-6 3 28 3-7 3 5 3 10 3 4 3-3M-589 -414l3 2 3-15 3 7 3 3M-568 -408l3-15 3 23 3-4 3-19 3 16 2-31 3 2 3 5M-539 -460l3-11 3 1 3-10 3-2M-515 -499l3 3 2 5 3-24M-495 -558l3-16 3 13 3-41 3-2 3 13 3-14 3-9 3-24 2 19 3-1 3 19 3-27 3-39 3 26 3-4 3-15 3 18 3-6 3-27 3 9 3-20 3 3 2-30 3-21 3-1 3-32 3 40 3 9M-407 -713l3-9 3-53 3 22 3 70 3-69 3-36 2 31 3-11M-378 -758l3-19 3 21 3-17 3 21 3 18 3 39 3-13 3 43 3-8M-346 -682l3-49 3 46 3-25 3 8 3 5 3-51 3 59M-310 -683l3-7 2-10 3-7 3-20 3 5 3 14 3 29 3-3 3 16 3 12 3-23 3 28 3 16 3-35 3 6 2 46 3 4 3 38 3 35 3-11 3-3 3 10 3 32 3-10 3 8 3 43 3 14 3-2 3 3 2 15 3-11 3 47 3-13 3-6 3-4 3 23 3 13 3 16 3-5 3 20 3-2 3 20 3-5 2 19 3 24 3 13 3-12 3 9 3 17 3-21 3 4 3 6 3 12 3-1 3 20 3 1 3 7 2-7 3 11 3-10 3 6 3-3 3 7 3-4 3 11 3 10 3-4 3 3 3 7 3 15 3-4 2 11 3 0 3 9 3 1 3-2 3 9 3 9 3-2 3 2 3 6 3-1 3-8 3 1 3 5 2-19 3 17 3-10 3 8 3-3 3 0 3 16 3-13 3 9 3 6 3 12 3 3 3-2 3 2 2 3 3 3 3 5 3-2 3 7 3 4 3 0"/><path transform="translate(1391.3 1557.8)" d="M-750 -329l3 6 3 4 3-10M-729 -324l3-9 3-5 3 7 3-8 2 5M-703 -350l3-5M-694 -363l3-3 3 9 3 1 3-4 3-9 3 5M-668 -387l3-8 3 9M-641 -414l3 1 3-4 2 3 3 0 3 5 3 3 3 4 3 6 3 3 3 14 3-4 3 3 3 2M-592 -398l3-13 3-7 3 17 3-6M-574 -420l3 7 3-12 3 14 3 11 3-13M-553 -401l2-10M-539 -445l3-12 3 0 3-16 3 3M-518 -499l3-22 3 8 2 25 3-13 3 10 3-36M-492 -553l3-7 3 3 3-44 3 15M-474 -584l3-24 2 29 3-14 3-38 3 30M-454 -625l3-34 3 25 3 10 3-24 3 12 3 3 3-42 3 10M-425 -683l3-19 3 4 3-31 3 5 3 2 3-27 3 21 3 34 3 1 3-66 3 10 3 35 2-40M-381 -727l3-50 3 22 3-18 3 18 3 30M-357 -671l3-22 3 45M-346 -703l3 18 3-6 3-21 3 27 3-19 3 29 3 0 3-13 3 7 3 14 3-30 3 20 3-9 2 28 3-33 3 23 3-22 3-12 3 55 3-17 3 44 3-5 3-34 3 9 3 10 3-13 3 4 2 41 3 33 3 29 3 21 3-41 3 13 3 18 3 7 3 20 3 41 3 4 3 3 3 26 3-9 2 11 3-2 3 14 3 3 3 4 3 4 3 5 3 5 3 13 3 3 3 25 3 2 3 15 3-1 2 32 3-8 3 21 3-9 3 20 3 17 3-14 3-5 3-6 3 21 3 13 3-2 3 11 3 2 2 1 3 5 3 3 3-4 3 3 3 3 3 6 3 0 3-4 3 5 3 0 3 9 3 14 3-6 2 11 3 2 3 16 3-4 3 4 3-2 3 0 3 7 3 9 3-5 3 7 3 2 3-7 3 1 2 2 3 4 3-10 3-2 3 7 3 10 3-3 3 6 3 1 3 8 3-1 3 4 3 1 3 2 2-1 3 11 3 2 3 5 3 0 3-2 3 4"/><path transform="translate(1388.2 1558.5)" d="M-750 -325l3 2 3-9 3 8M-729 -327l3-1 3 2 3-9 3 10M-706 -338l3-15 3 4 3-7 3 3 3-11 3 5 3 5 3 8M-676 -360l2-4M-665 -392l3 3M-656 -392l3-3 3 9 3-17 3-8 3 1 3-2 3-5 2 6 3 0 3-13 3 24 3 12 3-8 3 6M-600 -368l3-28 3 18M-589 -405l3 2M-580 -403l3 6 3-15 3-14 3 29 3-8 3 16M-539 -415l3-40 3 10 3-13 3-10 3 21 3-37 3-18 3 14 3-13 2 0 3 18 3-19 3-4 3-1M-489 -536l3-14 3 10 3-23 3-36 3 14 3-9 2 19 3-18 3-15 3-11 3 26 3-35 3-21 3 22 3 7M-439 -621l3-31M-419 -687l3 1 3 3 3-13 3-17 3 1 3 32 3-7 3-19 3 32M-387 -720l3-25 3-17 3 20 3 25 3 19 3-2 3-21 3-27 3 22 3-3 3 38 3 12 3 19 2 13 3-64 3 27 3 6 3 22 3-2 3-17 3-13 3 39 3 2 3-52 3 15 3 19 3-10 2 8 3 17 3-13 3-9 3-23 3 27 3 8 3 0 3 40 3-28 3 6 3 34 3-17 3 7 2 56 3-24 3 62 3 20 3-22 3-12 3 19 3 37 3-9 3 15 3 17 3 5 3 8 3 21 2-1 3 19 3 7 3 5 3-11 3 27 3 1 3-5 3 12 3 21 3-9 3-10 3 23 3 21 2 9 3 16 3-4 3 2 3 5 3 11 3 10 3 3 3 1 3 11 3 8 3 2 3-15 3 21 2 10 3 7 3 0 3 3 3-1 3-7 3 10 3-7 3-8 3 20 3-10 3 11 3 14 3-7 2 11 3 11 3-3 3-1 3 16 3-5 3 4 3-5 3 12 3-6 3 13 3-2 3 0 3 8 2-8 3 6 3-8 3 11 3-17 3 7 3 3 3 7 3-4 3 6 3 5 3-4 3 8 3 3 2 6 3 11 3-6 3 0 3 5 3-5 3 0"/><path transform="translate(1385.1 1559.2)" d="M-750 -327l3 3 3 0 3 5 3-5 3 3 3-13 3 4 3-1 3 11 3-6 3 1M-706 -334l3-9 3 2 3-7 3 1 3-5 3-8 3 8 3 4 3-8 3-1 2-3 3 4M-662 -383l3-4M-653 -390l3-3 3 9 3-18 3-5 3 8 3-9 2-10 3 12 3 5 3 2 3 9M-606 -381l3 5 3 3 3-4 3-11 2 4 3-17 3-3 3 0 3-9 3 19 3 0 3 2 3 1 3-7M-556 -391l3-21 2-5 3 13M-536 -427l3-18 3 6 3-16 3-1 3-10M-515 -477l3-19 2-13 3 9 3 23M-483 -543l3-1 3-30 3 11 3-6 2-16M-463 -567l3-22 3-18 3 24 3-42 3-6 3 8M-422 -654l3-31 3-4 3 21M-407 -661l3-83 3 69 3-30 3 19 3 22 3-16 2-24 3-19 3-7 3 33 3-35 3-8 3 58 3-8 3-20 3-16 3 31M-346 -648l3-16 3-16 3-1 3 31 3 42 3-46 3 53 3-62 3 25 3-13 3-34 3 8 3 28 2 27 3-13 3 4 3-33 3 4 3-9 3 32 3 32M-278 -592l3-1 3 26 3-34 3 8 2 28 3 14 3 29 3 7 3 5 3-11 3 9 3 41 3-3 3 28 3 14 3-23 3 27 3 6 2 7 3 5 3 40 3-23 3 9 3 12 3-2 3 10 3 30 3-22 3 1 3 15 3 14 3 3 2 9 3 7 3-2 3 10 3 11 3 11 3 13 3-3 3 13 3-5 3-4 3 17 3-2 3 2 2 9 3 7 3 10 3-9 3 12 3 0 3 8 3-6 3 1 3-3 3 7 3 8 3-4 3 4 2 8 3 10 3 5 3-6 3 2 3 2 3 4 3 11 3 7 3-10 3 11 3 1 3-5 3 10 2-2 3 0 3 3 3-8 3 8 3-6 3-12 3 12 3-2 3 13 3-4 3 3 3 4 3 6 2-7 3 22 3 0 3 0 3-4 3 0 3 5"/><path transform="translate(1382.0 1560.0)" d="M-750 -322l3-6 3 12 3-4 3-1 3-2 3-1 3-3 3 6 3-7 3 0 3 8 2-1M-709 -332l3-7 3-2 3 3 3-9 3 2 3 1 3-2 3-6 3-8 3 20 3 1 2-2M-656 -376l3-24 3 2 3 31 3-25 3 11 3-16 3 2 2-8 3-2 3 17 3 10 3-17 3 15M-609 -384l3-12 3 8 3 29 3-20 3 14 2-13 3-2 3-18M-577 -379l3-27 3 13 3-1 3 6M-559 -402l3 11 3-12 2 6M-545 -413l3 13M-530 -421l3-27 3 8 3-15 3 15 3-41 3 17 2-30 3 8 3 3M-483 -539l3-3 3 5 3-23 3-11 2 21 3-14 3-24 3-8 3 32M-451 -583l3-51 3 40 3-24 3-13 3 26 3-32 3 5M-425 -642l3-17 3-42 3 43 3-2 3-27 3 23 3-7 3-35 3 23 3-6 3 31 3-14 2 27 3-40 3 14 3-26 3-37 3 60 3-29 3 24 3-14 3-31 3 44M-351 -665l3-25 2 49 3 0 3 16 3-6 3-20 3 9 3 4 3 38 3-19 3-8 3-13 3 5 3-8 3 29 2-16 3 23 3 15 3-55 3 1 3-19 3 25 3 19 3 16 3-25 3 32 3 37 3 19 3-9 2-15 3 30 3 43 3-19 3-2 3 13 3 14 3 9 3 33 3 5 3 0 3-9 3 29 3-5 2 10 3 41 3-16 3 4 3 16 3 2 3 2 3 12 3 10 3 10 3 9 3 0 3-4 3 16 2-9 3 4 3 5 3 29 3-2 3 16 3 7 3 15 3-7 3 5 3 12 3-3 3-3 3 6 2-2 3 9 3 10 3 7 3 3 3 15 3-4 3 0 3-5 3 2 3-13 3 12 3-5 3 7 2 5 3 11 3 6 3 4 3 1 3 2 3 4 3 9 3 8 3-11 3 5 3 0 3 3 3-7 2 14 3 0 3 1 3-4 3 1 3-2 3-1 3-3 3 4M-29 -150l3 8 3 3 3 5 2-5 3 20 3-5 3 10 3-10 3 2 3 0"/><path transform="translate(1378.9 1560.7)" d="M-750 -320l3 4 3 5 3-2 3-3 3 5 3-2 3-4 3 14 3-19 3 11M-706 -334l3-3 3-11 3 10 3-10 3 15 3-12 3 8 3-11 3-4 3 7 2 9 3-8 3 0M-662 -370l3-15 3-8 3 9 3 4 3 0M-638 -381l3-11 2 5 3 3 3-12M-621 -401l3 17 3-5 3-12 3 10 3 1 3 10 3 9 3 9 3 3 2-3 3-18 3 1 3-21 3 9 3-6 3-13 3 17 3 5 3 1M-551 -400l3-1 3-7 3-6 3 17 3-29M-530 -433l3 10 3-8M-515 -455l3-11M-507 -479l3-8 3 7M-495 -492l3-6M-486 -522l3-43 3 17 3 39 3-26 3-13 2-6 3-7 3-17 3 20 3-9 3 6M-439 -598l3-7M-430 -639l2 6 3-55 3 31 3 19 3-20 3-5 3 0 3-10 3 25 3-29 3-14 3 37 3 8 3 16M-381 -662l3-39 3 28 3-7 3-26M-363 -669l3-12 3 23 3-19 3-27 3 3 2 62 3 33 3 36 3-25 3 1 3 3M-322 -583l3-51 3 53M-310 -611l3-25 2 35M-299 -588l3-9 3-41 3 30 3-11 3 50 3-16 3 5 3 41 3-29 3 38 3 9 2 30 3-19 3-3 3 36 3 9 3-23 3 13 3 24 3-2 3 24 3-6 3-5 3 23 3 2 2 6 3 22 3 3 3 14 3-5 3 26 3 7 3-7 3 6 3 37 3-20 3 0 3 23 3-18 2 31M-176 -290l3 2 3 16 3-8 3 30 3 1 3-4 3 21 3-2 3 5 3-3 3 10 2 4 3-7 3 0 3 14 3 6 3-1 3 9 3 5 3-2 3-7 3-1 3 6 3-6 3 15 2 11 3-9 3 7 3 2 3 0 3 16 3 3 3-3 3-5 3 8 3 10 3-8 3-6 3 9 2-1 3-1 3 3 3 9 3 6 3-3 3-8 3-12 3 6M-26 -148l3 3 3-1 2 14 3 7 3 2 3 4 3 1 3 3 3-7"/><path transform="translate(1375.8 1561.4)" d="M-750 -315l3 1 3-6 3 15 3-1 3-12 3 4 3 8 3-5 3 3 3-2M-706 -322l3-15 3 2 3-3 3 5 3-14 3 9 3-5 3 3 3 1 3-14 2 25 3 0 3-10 3-9 3-3 3-28 3-1 3-4 3 14 3-6 3-5 3-12 3 7 3-5 2 14 3-15 3-1 3 6 3-13 3-1 3 15 3-4 3 10 3-6 3-2 3 5 3 18 3-7 2 19 3-20 3 4 3-7 3-7 3-21 3 19 3 3 3-7 3 29M-553 -395l2-1 3 0 3 1 3-9M-533 -404l3-30 3 6 3 16M-504 -481l3 6M-492 -491l3 9 3-29 3-39 3 28 3-11 3 30 3-18 2 12 3-26 3-5M-448 -577l3-18 3-13 3 17 3-20 3 14 3-42 2 17 3-11 3 13 3-25 3 19 3-2 3-7 3-20 3 19 3-12 3 4 3 18 3-10 3 38M-375 -674l3-55 3 59 3-29 3-2 3 43 3 13 3-52 3 47 3-17 2 33 3-4 3 36 3 28 3-23M-328 -567l3-62 3 52 3-29 3 22M-310 -593l3-24 2 45 3-37 3-18 3 40 3 0 3 17 3-41 3 80 3-26 3-22 3 35 3-10 3 6 3 2 2 13 3 44 3 0 3 40 3-8 3-10 3-8 3 14 3 33 3-13 3 30 3-27 3-1 3 29 2 19 3-2 3 28 3 8 3 4 3-9 3 6 3 37 3-4 3 6 3 1 3 1 3-2 3 6 2 2 3 9 3 5 3 0 3 9 3 9 3 22 3 5 3 4 3 14 3 9 3 2 3 1 3 6 2-1 3 1 3 4 3 10 3-1 3 14 3-5 3 2 3-3 3 0 3 6 3 8 3-7 3 8 2 2 3 6 3 2 3-1 3 4 3 4 3 9 3 0 3-1 3 1 3 3 3-2 3-3 3 2 2-2 3 9 3 4 3 6 3 5 3-5 3 0M-29 -150l3-5 3 10 3 0 2 8 3 2 3 9 3 7 3 1 3 1 3-1"/><path transform="translate(1372.7 1562.1)" d="M-750 -318l3 13 3-11 3 8M-735 -308l3-4 3-2 3 9 3 4 3-5 3-1M-712 -304l3-11 3-10 3-5 3-2 3 0 3 2 3 3 3-10 3 7 3-8 3-4 3 1 2 3M-665 -328l3-19 3-15 3-7 3-1 3-8 3 9 3 12M-638 -377l3-7 2 11 3-3 3-7M-621 -381l3-12 3 0 3 7 3 0 3-1 3 24 3-18 3 17M-592 -367l3 8 3 0 3-2 3-15 3 5 3-1 3-9M-565 -376l3 3 3-13 3-11 3 16M-548 -388l3-5 3-3M-536 -398l3-4 3-14M-521 -413l3-23M-510 -449l3-6 3-35 3 6 3 11 3-7 3-3 3-7 3 8 3-36 3-2 3-1 3 28 3 13 2-15M-451 -550l3-20 3-25 3 18 3-18 3 16 3 7 3-7 2-31 3 23 3-21 3 41M-404 -639l3 30 3-37 3 23 3 8 3 23 2-27 3 7M-372 -684l3 11 3 0 3-2 3 19 3-13 3 34M-348 -667l2 34 3 17 3 29 3-26 3 64M-307 -583l2 1 3-15 3 8 3-34 3 28 3 27 3-2 3-2 3 16 3 6 3 14 3-1 3 16 3-32 2 31 3 41 3 18 3 1 3 19 3 3 3-2 3 12 3-16 3 18 3 20 3-6 3-3 3 18 2 20 3 10 3 14 3-14 3 22 3 14 3 9 3-3 3 12 3-2 3 17 3-3 3 10 3-13 2 2 3 11 3 2 3-7 3 23 3 4 3 24 3 8 3-1 3 11 3 7 3 3 3-8 3 19 2 7 3-3 3 7 3-8 3 4 3 6 3-1 3 15 3-9 3-3 3 11 3 5 3 3 3-10 2 16 3 2 3 5 3 2 3-3 3 11 3-1 3 5 3 3 3-3 3 0 3-4 3 11 3-10 2 7 3 1 3 8 3 3 3-3 3 0 3 6 3-3 3-11 3-9 3 7 3-5 3-5 3 3 2 18 3 10 3 0 3 4 3 2 3 3 3 3"/><path transform="translate(1369.6 1562.8)" d="M-750 -317l3 7 3 6M-729 -313l3 3 3 8 3-10 3 10M-712 -315l3-2 3 7 3-6 3-9 3-3 3 0 3 3 3 1 3-5 3-7M-665 -334l3 3 3-1 3-8M-638 -362l3-14 2 3 3-3 3 6 3-10 3-9 3 15 3-8 3 3 3-9 3 15 3-5M-597 -378l3 5M-589 -364l3 10 3-7 3-7 3-1 3-5 3-15 3 14 3-10 3-1 3 14M-553 -374l2-20 3-9 3 10M-524 -417l3-3 3 11M-512 -425l2-26 3-11 3 12 3-6 3-1 3-13 3 6M-486 -464l3-26 3-1 3-31 3 32M-451 -542l3-4 3-23 3-24 3 8 3 3 3 14M-422 -576l3-10M-413 -601l3-10 3-16 3-17 3-1 3 27 3 37M-375 -656l3-25 3 6 3-13 3 17 3 10 3 0 3 32 3-16 3-33 2 2 3 103 3-62 3 47 3 40 3 21 3-53 3-20 3 9 3-1 3-24 3 14 3 18 3 4 2-33 3 43 3-5 3-28 3 73 3-58 3 39 3-4 3-1 3 33 3 0 3-6 3 12 3 10 2 12 3 23 3 18 3 4 3 7 3 5 3-6 3 18 3 15 3-28 3 36 3 8 3 4 3 7 2 15 3 6 3 4 3 9 3 7 3 21 3-10 3 22 3 16 3-17 3 9 3 13 3-6 3 14 2-7 3-9 3 9 3 14 3-10 3 23 3 0 3 24 3 7 3-1 3 1 3 16 3 1 3-11 2 20 3-3 3 12 3-9 3 4 3 14 3-9 3 8 3 6 3-3 3-4 3 6 3 6 3-1 2 11 3-3 3 5 3 0 3 8 3 0 3 10 3 1 3 4 3-9 3 6 3-2 3 9 3-8 2 14 3 2 3-3 3-3 3 10 3-5 3 6 3-3 3 0 3-9 3-11 3-5 3-8 3 11 2 4 3 10 3 15 3 5 3 1 3 4 3 2"/><path transform="translate(1366.6 1563.6)" d="M-750 -308l3-1M-738 -309l3-3 3 0 3 7 3 2 3-5 3 8 3-3 2-2M-709 -313l3 3 3-1 3-6 3 2 3-12 3 3 3-5 3 3M-679 -329l3-9 2 0 3 5M-665 -324l3-11 3 12 3-9 3-1M-644 -358l3-8 3 6 3-12 2 1 3 10M-621 -378l3-7 3-7 3 21M-586 -369l3 13 3 0 3 0M-565 -366l3-17 3 0 3 13 3-11 2-7M-545 -376l3-19 3 7 3-11 3 4 3-20 3 16 3-12 3-11 3 11 3 2 3-19 2-15 3 5 3-18 3 5 3 11 3-8 3-9 3-12 3-10 3-4 3 7M-469 -472l3-18 3 8M-445 -536l3-18 3-12 3 11M-430 -568l2-2 3 20 3-48 3 21M-413 -592l3-22 3 29M-401 -596l3-31 3 32 3-21 3 45M-384 -597l3-2 3-16 3-26 3-22 3 23 3-10 3-20 3 38 3 0 3 19 3-23 3 38 2-39 3 9 3 17 3 39 3-1 3 24 3-6 3 8 3-27 3-7 3 11 3-3 3-4 3 9 2-20 3-14 3 58 3-14 3 10 3 16 3 20 3-1 3-3 3-28 3 26 3-7 3 19 3 10 2 32 3 10 3 11 3 18 3-6 3-13 3 19 3-6 3 13 3 20 3-11 3 21 3 1 3 7 2 48 3-24 3 19M-211 -324l3-4 3 8 3 9 3 15 3 6 3 1 3 8 3-9 3 9 2 3 3-3 3 10 3-5 3 8 3 6 3 11 3 13 3 15 3-4 3 9 3 11 3-3 3-3 2 3 3 9 3 1 3 7 3 10 3-17 3 6 3 13 3 0 3 1 3-1 3-6 3 15 3-4 2 0 3 12 3 4 3-3 3 3 3 16 3-4 3 15 3-6 3-1 3-6 3 7 3 6 3 0 2 10 3-4 3-3 3 4 3 2 3 5 3-2 3 4 3-6 3-2 3-3 3-7 3-9 3 4 2 1 3 4 3 13 3 9 3-3 3 5 3 2"/><path transform="translate(1363.5 1564.3)" d="M-750 -310l3 3 3 1 3-1 3-1 3-5 3 6 3-2 3-2 3-2 3 10 3-2 2 9 3-3 3-13 3 1 3 6 3-7 3 4 3-3 3 5 3-15 3 0 3-6 3-1 3-7 2 5 3 1 3-11 3-2 3 6 3 15M-641 -350l3-11 3-7 2 10 3-5 3 3 3-19 3 14M-609 -380l3-6 3 6 3 9 3-4 3-5 2 0 3 5 3 2 3 7 3 15 3-4 3 10M-565 -372l3-1 3-1 3 0 3 11 2-17 3-7 3 1 3-6 3 15 3 0 3-29 3 4 3 5 3 7 3-4 3-16 3 6 3-2 2-25 3-6 3 7 3-24 3 16 3-4 3 4 3-22 3-13M-480 -477l3 10 3-25 3-5 2 6 3-22 3 40 3-17 3-28M-448 -549l3-5 3 10 3 13M-430 -558l2-15 3 41 3-59 3 23 3-2 3-27 3 14 3 3 3 5 3-12 3-26 3 13 3 50 3-27 2 1M-378 -586l3-47 3 7 3 11 3-5 3 12 3-59 3 33 3 38 3 6 3-24 2 1 3-2 3 9 3 4 3 21 3-1 3 30 3 2 3 15 3-11 3-38 3 45 3-27 3 17 2-19 3 16 3 38 3-19 3 27 3-12 3 31 3-9 3 13 3-3 3-19 3-10 3 11 3 16 2 42 3 18 3-11 3 23 3 7 3 11 3-16 3 30 3-32 3 26 3 24 3-22 3 25 3 6 2 2 3 32M-214 -331l3-11 3 1 3 21 3 23 3 11 3-6 3 11 3 2 3 13 3 7 2-11 3 12 3-3 3-13 3 21 3 2 3 16 3 12 3-5 3 15 3 0 3 9 3-2 3 0 2 7 3 3 3 6 3-3 3 3 3 1 3 7 3 6 3 4 3-1 3 7 3-9 3 3 3 3 2 6 3 5 3 2 3 3 3-5 3 12 3-5 3 11 3 2 3 1 3-2 3 1 3-1 3 17 2-3 3 4 3 1 3-1 3 1 3-3 3 3 3 2 3 1 3-1 3-7 3-2 3-11 3-4 2 4 3 3 3 10 3 11 3-1 3 8 3 2"/><path transform="translate(1360.4 1565.0)" d="M-750 -309l3 0 3 5 3 0 3 2 3-8 3 4 3 0 3-2 3 9 3 0 3 3 2-3 3-1 3-3 3-5M-694 -305l3 0M-682 -312l3-15 3 0 2 1 3 3 3-10 3 3 3 8 3 1 3-9M-650 -324l3-17 3-8 3-7 3-1 3 7 2-7 3 1 3-1 3-16 3 8 3-9 3-4 3 9 3-11 3-2 3 13 3-12 3 6 3 12 2 6 3-11 3-10 3 22 3 1 3 11 3-1 3-12 3-11M-553 -376l2 12 3 6 3-26 3 6 3-4 3 4 3 4 3-16 3 11 3 2 3-1 3-18 3 4 3-10 2-10 3 4 3-25 3-9 3 13 3 6 3-12 3 0M-483 -453l3-22 3 1 3 7 3 0 2-1 3-18 3 10 3 1 3-8M-448 -523l3-41 3 20 3 14 3-2 3-16 3-14 2-13 3 12 3 3 3-6M-413 -562l3 2M-398 -569l3-14 3-10 3 24 2-6M-375 -590l3-24 3-21 3 41 3 4 3-8 3 0 3 4 3 16 3-4 2-9 3 23 3-47 3 11 3 2 3 18 3 35 3 7 3 19 3 18 3 1 3-25 3-12 3 2 2 13 3 3 3 5 3-5 3 23 3 18 3 1 3 8 3-16 3 8 3 8 3 9 3-18 3 19 2-12 3 30 3 18 3 4 3 18 3-24 3 38 3 32M-234 -368l3 8 3-1 3 9 2 9 3 19 3-12 3-12 3-3 3 38 3-3 3 28 3 8 3 4 3-14 3 29 3-6 3 1 2 1 3 5 3 1 3 4 3 1 3 6 3 10 3 3 3-2 3 25 3-13 3 17 3 8 3 0 2 6 3 2 3 11 3-3 3 11 3-9 3 1 3 7 3 9 3 0 3 0 3-4 3-1 3 7 2 12 3-4 3 0 3-2 3 6 3 5 3 5 3 1 3 7 3-13 3 4 3 6 3 4 3 4 2 10 3-6 3-1 3 1 3 4 3 0 3 3 3 0 3 5 3-2 3 0 3-8 3-2 3-12 2 3 3 3 3-2 3 3 3 17 3-4 3 6"/><path transform="translate(1357.3 1565.8)" d="M-750 -306l3 1 3 3 3-5 3 7 3 2 3-5 3 0 3 0 3 6 3 2 3-3 2 1M-709 -291l3-17 3 3M-694 -303l3-1 3-4 3-9 3 0 3 2 3 4 2-7 3-12 3 12 3-14 3 5M-656 -321l3-8 3-1 3 1 3-5 3-15 3-6 3 2 2-6 3 17M-621 -351l3-11 3-19 3 12 3-8 3-2 3 2 3 11 3-6 3 12 2-2 3 0 3 3 3-3 3 13M-574 -348l3 4M-551 -365l3-8 3 6 3-8 3 5M-530 -360l3-15 3 18 3-6 3-14 3-5 3-7 2-15 3 6 3-1 3-24 3-22 3 21 3-14 3 23 3-20 3-22 3-16 3 17 3 4 3 2 2-8 3 15M-454 -492l3-10 3-41 3 9 3 7 3 6 3-23 3 21 3-24 2 8 3-27 3 43 3-18 3-20 3 6 3-2M-404 -566l3-12 3 38 3-27 3 17 3 12 2-16 3-17 3 5 3-4 3-33 3 30 3-42 3 15 3 2 3 23 3-14 3 9 3 8 3-13 2 28 3 5 3-45 3-17 3 24 3 44 3-8 3 24 3-17 3 60 3 2 3-21 3 5 3-5 2-25 3 13 3 19 3 22 3-20 3 28 3-17 3 19 3 4 3-1 3-18 3-1 3 37 3-19 2 30 3 14 3-9 3 22 3-13 3 35M-240 -365l3-25 3 14 3-3 3 42 3-3 2-12 3 16 3 19 3-9 3 8 3 6 3 7 3 7 3 24 3 6 3-2 3 6 3 9 3 3 2-4 3 15 3-3 3-7 3-4 3 9 3 12 3 18 3-1 3-6 3 19 3-4 3 7 3 10 2-7 3 6 3 12 3-1 3-5 3 16 3-10 3 6 3 3 3 4 3 1 3 5 3 3 3 4 2 2 3-4 3 13 3-8 3 6 3 1 3 4 3 9 3-3M-70 -133l3 4 3-1 3 1 2 11 3 3 3-2 3 3 3-5 3 7 3 1 3-7 3 8 3-7 3 3 3 4 3-12 3 1 2-5 3-5 3-1 3-1 3 12 3 8 3 9"/><path transform="translate(1354.2 1566.5)" d="M-750 -301l3-4 3 3 3 1 3 1 3 3 3 3 3 2 3-7M-720 -296l3 0 2-1 3 6M-703 -297l3-11 3-7 3 11 3 1 3 4 3-8 3-5 3 7M-671 -321l3 2 3-9 3 6 3-4 3-4 3 7 3 11 3-6 3-4 3-3 3-29 3-6 2 17M-612 -373l3 0 3 12 3-5 3-2 3-3 3-2 2 21 3-10 3-1 3 11M-574 -338l3-11 3 7M-562 -362l3-10 3 10 3 3 2-17 3 5 3 1 3 5 3 8 3-12 3-7 3 13 3 2 3-2 3-5 3 4M-512 -377l2 5 3-14 3-2 3-27 3 5 3-3 3-1 3-2 3-6 3-8 3-12 3-23 3 29 3 3 2-11 3 2 3 1M-451 -479l3-39 3-2 3 5 3-32 3 31 3 11 3-21 2-15 3 2 3 5 3 12 3-21 3 27 3-13M-404 -524l3-73 3 53 3-18M-389 -555l2 15 3-12 3-13 3-6 3-26 3 29 3 7 3-20 3 25 3-20 3 47M-348 -547l2-29 3-7 3 39 3-10 3-2 3 8 3 49M-322 -530l3 33 3 23 3 2 3-18 3-7 2 21 3-1 3-10 3 10 3 14 3 3 3 11 3-20 3 1 3 8 3-28 3 41 3-6 3-12 2 34 3 19 3 2 3-23 3 11 3 20 3 4 3 1 3 13 3 14 3 10 3 3 3-3 3 16 2 12 3 4 3-9 3 17 3 18 3-2 3 4 3 9 3 13 3 1 3 11 3 21 3-8 3 1 2 12 3-9 3 15 3-8 3 3 3 9 3 13 3 3 3-2 3 19 3-7 3 0 3 16 3-1 2 6 3-5 3 11 3 0 3 8 3 3 3-7 3 2 3 9 3 11 3-5 3 0 3 3 3 7 2-6 3 3 3 3 3 5 3 4 3 0 3 8 3-2 3-5 3 5 3 2 3-5 3 4 3 9 2-4 3 11 3 1 3-4 3 6 3 0M-35 -110l3-1 3-1 3 2 3-4 3-7 2 2 3-4 3-7 3 4 3 9 3-1 3 10"/><path transform="translate(1351.1 1567.2)" d="M-750 -301l3 1 3 8 3-4 3-4 3 7 3-1M-726 -291l3-5 3 1 3-1 2 1 3 3 3-6 3-1 3-2 3-3 3-1 3 5 3 1 3 0 3-3 3 5 3-7 3-6 2 0 3-7 3-5 3 4 3-2 3 2 3-8 3 3 3-3 3 12 3-1 3-8 3 3M-618 -359l3 5 3-8 3-13 3 4 3 13 3-8 3 5 3-8 2 11 3 1 3-5M-577 -363l3 14 3-5 3 22M-562 -348l3-12 3 0 3-15 2 8 3 3 3 1 3-5M-536 -366l3 8M-518 -359l3-2M-510 -365l3-17 3-5 3 6 3-4 3-20 3-16 3 2 3 9 3-12 3-10 3 2 3 16M-469 -419l3-14 3 4M-448 -482l3-15 3 6 3-11 3-10 3-7 3-3 2 26 3 4 3-15 3 4 3 2 3-3 3-17 3 0 3-38 3 22M-392 -538l3-15 2-8 3 22M-375 -537l3-37 3 2 3-25 3 33 3 2 3 28M-351 -532l3-37 2-8 3 31 3-28 3 22 3 19 3 14 3 25 3-7M-316 -474l3-7 3 9 3 2 2 7 3 3 3-18 3 25 3-12 3 0 3 19 3-5 3-21 3 24 3-3 3 11 3 1 3 20 2-8 3 15 3-13 3 18 3-6 3 16 3 14 3-6 3 6 3 16 3-1 3 18 3 4 3 9 2 13 3 25 3-13 3 9 3 10 3 8 3-1 3-15 3 19 3 17 3 4 3 7 3 16 3-5 2 3 3 2 3 1 3 6 3 4 3 7 3 7 3 5 3-7 3 16 3 6 3 7 3-7 3 0 2 14 3-5 3 12 3 6 3-5 3 7 3-1 3-1 3 4 3 10 3 2 3 6 3-7 3 8 2 8 3-9 3 7 3-5 3 1 3 6 3 3 3-2 3 7 3 1 3-1 3-9 3 5 3 2 2 7 3-1 3 4 3 3 3-1M-35 -104l3-7 3-2 3 3 3 6 3-6 2 6 3-9 3-2 3-9 3-2 3 10 3 8"/><path transform="translate(1348.0 1567.9)" d="M-750 -298l3 6 3 0 3 2 3-2M-729 -286l3-6 3-2 3 8 3-16 2 11 3 0 3-1 3 7M-688 -294l3-1 3-5 3-1M-674 -305l3-4 3 1 3-8 3-4 3 7 3-4 3-6 3 11 3-6 3 4M-621 -354l3-5 3-3 3 22 3-5 3-5 3-13 3 8 3-13 3-1 2 10M-574 -350l3-5 3 7 3 20 3-18 3-5 3-8M-548 -357l3-7 3 1 3-1 3-3 3-2 3 18M-524 -359l3-6 3 4M-512 -359l2-12M-504 -374l3 0M-495 -394l3 6M-486 -400l3-1 3 0 3-14 3-1M-469 -422l3 6M-445 -478l3-11 3-20 3 34 3-23 3 1 2 32 3-35 3 10 3-8 3 8 3-24 3 15 3-2 3-15 3-12M-389 -536l2 4 3 9 3-20 3-8 3 7 3 4 3-21 3 16 3 3 3-11 3 6 3 27M-348 -542l2 0 3-9 3-2 3 57 3-30 3 51 3 6 3-42 3 25 3-11 3-29 3 61 3 8 3 10 2-9 3-3 3 6 3 13 3-12 3 8 3 4 3 15M-278 -408l3-24 3 1 3-2 3 8 2 10 3-2 3 6 3 4 3 17 3 4 3-8 3 27 3 4 3 8 3 14 3-17 3 20 3 15 2-9 3 27 3 4 3 9 3 3 3-11 3 14 3 2 3 14 3 4 3 15 3 5 3 15 3-15 2 10 3 3 3 8 3 0 3 7 3 1 3 3 3 5 3 4 3-6 3 15 3 8 3 1 3-4 2 5 3 11 3 4 3 1 3 7 3 0 3 1 3 5 3 3 3 9 3-2 3-6 3 10 3 1 2 3 3 1 3-2 3 2 3-3 3 4 3 0 3 5 3 3 3 3 3 1 3-9 3 4 3 13 2-8 3 4 3 5 3 2 3 1M-38 -109l3-5 3 5 3 4 3 1 3-2 3 7 2 0 3-7 3 0 3-1 3-3 3-5 3 11"/><path transform="translate(1344.9 1568.7)" d="M-750 -295l3 7 3-8 3 5 3 3M-729 -294l3 2 3 6 3 0 3-11 2 5 3 2 3 1 3-3 3 8 3-4 3-11 3 4 3-6 3-6 3 6 3 7 3-3 3-3 2-4 3-1 3 11 3-6 3-7 3-4 3 1 3-7 3 0 3 8 3-10 3 5 3 5M-624 -341l3-6 3-11 3 8 3 7 3 2 3 1 3-9 3-1M-580 -357l3-3 3 15 3-22 3 26 3-4 3 7M-551 -358l3-6 3 2 3 10 3-16 3 13 3-7 3-2M-524 -361l3-6 3 12 3-7 3 0 2 1 3-6 3-5 3-4 3 7 3-23 3-4 3 6 3-24 3 13 3 3 3-12 3 20M-466 -409l3-17 3 2 3-13M-451 -441l3-56 3 32 3-22 3 10 3-2 3-11 3 29 2-12M-416 -499l3 15 3-25 3 11 3-15 3 2 3-26 3 4 3-14 3 25 2-24 3 18 3 23M-375 -503l3-27 3 11 3 3 3-11 3 28 3-30 3 20M-348 -544l2 3 3-2 3 15 3 30 3 8M-325 -485l3-7 3-9 3-14 3 25 3 17 3 21 2 20 3-13 3-1 3-2 3 3 3 15 3 31 3-14 3-15 3 2 3 12 3-13 3 21 3-16 2 16 3 20 3-6 3-1 3 26 3-5 3 10 3-15 3 30 3-12 3 11 3 6 3 13 3-9 2 33 3-1 3 21 3 14 3-11 3 0 3 16 3-4 3 12 3-9 3 8 3 21 3-5 3 1 2 7 3-6 3 10 3 0 3 20 3-3 3 0 3 18 3-10 3 8 3 8 3 5 3 0 3 3 2 5 3-7 3 18 3 5 3-3 3 14 3-7 3 7 3-2 3 7 3 3 3 3 3 2 3-4 2 11 3-4 3 4 3-6 3 0 3 10 3-3 3 0 3 0 3 3 3 0 3 5 3-7 3 7 2 4 3 1 3 0 3 0 3 8 3-1 3-4 3-6 3 9 3-1 3 6 3 6 3 0 3-1 2-1 3 11 3-6 3-4 3 1 3-2 3-11"/><path transform="translate(1341.8 1569.4)" d="M-750 -291l3-1 3 2 3 2M-723 -292l3 7 3-1 2-2M-700 -283l3-8 3-2 3 2 3-7 3 4 3-6 3 6 3-2 2 0 3 3M-662 -304l3 3M-635 -310l2-8 3-3 3-20 3-4 3-6 3 17 3-6 3-1 3 0 3 8M-600 -344l3-13 3 0 2 0M-583 -364l3 5 3-2 3 13 3-14 3 18M-559 -341l3-8 3 3 2-15 3 12 3 5 3 5 3-8 3-5 3 2M-521 -353l3-7 3-6 3 8 2-1 3 5 3-5 3 0 3-3 3-6 3-22 3 9 3-7 3-11 3 9M-474 -384l3-12 2-16 3-18M-451 -433l3-29 3 20 3-27 3 16 3-14 3-2 3-5 2 23 3-19 3-3 3 10 3-19 3-11 3 3 3-12 3-4 3 27 3-18 3-24 3-33 3 32 2-16 3 28 3-17 3 16 3-14 3 14 3 20 3-18 3-6M-354 -509l3-15 3-12 2-2 3 11 3 3 3 7 3 12 3 20 3-18 3 8 3-8 3 24 3-15 3 29 3 20 3-18 2 38 3 9 3-23 3-16 3 18 3 16 3 4 3 16M-278 -400l3 8 3-25 3-1 3 14 2-6 3-4 3 45 3-13 3 12 3 3 3 10 3 5 3-10 3 12 3 13 3 19 3-16 3 18 2 8 3 14 3 6 3 8 3 14 3 4 3-3 3-2 3 6 3 12 3 12 3-6 3-2 3 10 2-8 3 9 3 12 3 3 3 8 3 4 3-5 3 9 3-2 3 6 3 6 3 6 3 3 3 11 2 0 3 4 3 5 3 4 3 5 3 9 3 1 3 1 3 4 3-1 3 5 3-6 3 5 3 3 2 3 3-1 3 4 3-1 3 4 3-8 3 2 3-2 3 9 3-1 3 3 3-1 3 10 3-4 2-2 3 9 3-4 3 6 3-4 3 5 3-6 3 7 3-5 3 1 3 3 3 8 3 3 3 0 2 0 3 8 3-2 3-1 3-2 3-7 3-3"/><path transform="translate(1338.7 1570.1)" d="M-750 -292l3 2 3 4M-735 -286l3-4 3-7 3-1 3 2 3 4 3 7 2 0 3-5 3 1 3 3 3 0 3-4 3 4 3-3 3-2 3 0 3-3 3-6 3 8 3 4 2-5 3-3 3 5M-662 -295l3-12 3 7M-644 -318l3-2 3 9 3-2 2 0M-627 -325l3-11 3 0 3 6 3-9 3 9M-589 -362l3 13 3-12 3 2 3-8 3 21 3-8 3 12M-559 -340l3-3 3 5 2 7 3-14 3-1 3 23M-533 -349l3 0 3-5 3-20 3 16 3-5 3 8 3 2 2-2 3-13 3 24 3-6 3-7 3-3 3-5M-486 -379l3 11 3-9M-474 -388l3 1 2-6 3-8 3-19 3-1M-454 -422l3-15 3-5 3 4 3 4 3-6 3-5 3 2M-428 -462l3 3 3-1 3-11 3 6 3-44 3 30 3-24 3 10 3-5M-395 -482l3-38 3 3 2-21 3 17 3 8 3 4 3 1 3 10 3 14M-360 -489l3-21M-351 -509l3 0 2-5 3 6 3 14 3 16 3-19 3 6 3 11 3-19 3 7 3 15 3 16 3 13 3-4 3 21 2-9 3 5 3 13 3 18 3-9 3-7 3 13 3 12 3-21 3 8 3 5 3 32 3-23 3-4 2 14 3 9 3 13 3-1 3 6 3-5 3 16 3 6 3 7 3-12 3 19 3 7 3-1 3 19 2 1 3 18 3 3 3 12 3 7 3 8M-202 -242l3-7 3-9 3 15 3 5 3-1 3 6 2 5 3 2 3 3 3 3 3-3 3 14 3 16 3-4 3-6 3 6 3 7 3 14 3 2 3 5 2 5 3 2 3 1 3 7 3 1 3 10 3-5 3 7 3 3 3 3 3 0 3-1 3 7 3-10 2 8 3 5 3 0 3-4 3 7 3-4 3 5 3-4 3 10 3 1 3 0 3 0 3-3 3 8 2 3 3-5 3 2 3 2 3-3 3 3 3 3 3-3 3 1 3 1 3 2 3 4 3 4 3 3 2 3 3 4 3 1 3 1 3 0 3-9 3-4"/><path transform="translate(1335.6 1570.8)" d="M-750 -286l3 0 3 4 3-10 3 4 3-6 3 2 3 4 3-7 3 4 3-1 3 5 2 5 3-2 3 3 3-4 3 2 3 3 3-10 3 3 3 2 3-3 3 5 3-6 3-11 3 7 2 4 3 6 3-2 3-6 3-10 3 0 3-2 3 0M-647 -309l3-7 3 3M-633 -301l3-12 3-2 3-11 3-7 3 6 3-10 3 6M-603 -340l3 4 3-4 3-7 2 6M-586 -361l3 6 3-2 3 7 3-2 3 11M-565 -336l3-18 3 1 3 14 3 12 2-18 3 19 3-8 3-5 3 8M-527 -352l3 0 3 0 3-14 3 15 3-7 2 3 3 3 3 16M-498 -351l3 0 3-6 3-3 3-17 3-1 3 17M-471 -387l2 9 3-18 3-9 3-10 3-7 3 8 3-8 3 3 3-10 3 17 3-26 3 2 3 1M-428 -472l3 14 3-2 3 17M-410 -472l3-10 3-6 3 24 3-24 3-12 3 33 3-41 2-2 3-23 3 34 3-5 3 0 3 28 3 5 3 0 3-24 3-8 3-9 3 32 3-39 3 17 2 13 3-12 3-10 3 27 3-8 3-6 3 32 3-25 3 1 3 13 3 12 3 11 3 10 3 12 2-15 3 11 3 10 3-2 3 31 3 8 3-15 3 16 3-6 3 8 3-7 3 13 3-6 3 4 2 13 3-3 3 5 3 12 3-2 3 20 3-4 3 1 3 5 3 3 3 16 3 6 3 2 3 11 2-4 3 15 3 11 3 2 3 20 3 13 3-9 3-6 3 10 3 6 3 0 3 2 3 14 3-6 2 3 3 6 3 0 3-1 3 22 3-1 3-6 3 10 3-3 3 8 3 19 3-2 3 8 3 0 2 10 3 2 3 0 3 6 3-5 3 11 3 1 3-1 3 1 3 6 3-5 3 6 3 0 3 6 2 1 3 2 3 0 3 3 3-2 3 0 3 7 3-1 3 1 3 6 3-7 3 7 3 4 3 1 2 4 3-4 3 2 3-1 3 1 3-5 3 4 3-1 3 5 3-4 3 2 3 8 3 0 3 10 2-3 3 3 3 4 3 3 3-5 3 2 3-8"/><path transform="translate(1332.6 1571.5)" d="M-750 -285l3-2 3 2 3-3M-735 -284l3-6 3 5 3-3 3-2 3-3 3 6 2 4 3 5 3-6 3 0 3 4 3 0 3-2 3 6 3 3 3-5 3-2 3-5 3-9 3 2 2 6 3-2 3 8M-659 -289l3-9 3-7 3 3 3-13 3 0 3 4 3-8 3 1 2 3 3 7 3-1 3 4 3-11 3-9 3-9 3-2 3 6 3 7 3-18 3 0 3 8M-589 -338l3-14 3-6 3 0 3 7 3-2 3 4 3 14 3-10 3-5 3 7 3 9 3-8 2 9 3 1 3 0 3 0M-524 -346l3 3 3-5 3 7 3-4M-507 -331l3-19 3 13M-495 -340l3-15 3-8 3 5 3-14 3 9M-469 -387l3 9 3-14 3-12 3 4 3-11 3 10 3-18 3 6 3-7 3 17 3-32 3 10M-428 -437l3-50 3 37M-410 -479l3 2 3 19M-389 -476l2-26 3-10 3 32 3-13 3 19 3-13 3 36M-357 -482l3 0 3-12 3 11M-343 -451l3-50 3 32 3-8 3 3 3 14 3-6 3 10 3-21 3 38 3-16 3 35 3-5 2-18 3 28 3 2 3 16 3 4 3 12 3-18 3 14 3 1 3-2 3-3 3 9 3 10 3-8 2 4 3 8 3 9 3 5 3 25 3-19 3 17 3 3 3 2 3 22 3-7 3-18 3 29 3 2 2 4 3 4 3 20 3 3 3 30M-202 -247l3 0 3 7 3 12 3 9 3-1 3 11 2-7 3 5 3 3 3-2 3 11 3-3 3-1 3 6 3 13 3 2 3 14 3-5 3 14 3-7 2 1 3 10 3 3 3-3 3 12 3-4 3 6 3 2 3 2 3 4 3 0 3 4 3-2 3 5 2-2 3 1 3 9 3-5 3 4 3-2 3 6 3-1 3 1 3-2 3 9 3-4 3 13 3-3 2 2 3 1 3-3 3 4 3-3 3 1 3 2 3-3 3 6 3-6 3 6 3 1 3 0 3 7 2 4 3-1 3 1 3 5 3 0 3 2 3-7"/><path transform="translate(1329.5 1572.3)" d="M-750 -282l3-4 3-1 3 2 3-3 3-2 3-2 3 7 3-5 3-1 3 5 3 3 2 1 3-4 3 14 3-6 3-6 3 9 3-1 3-2 3 6 3 1 3-9 3 5 3-8 3 2 2 3 3-10 3 10 3-7 3 0 3-7 3-1 3-2 3 0 3-3 3-3 3-5 3-4 3 4 2-4 3 0 3 1 3 10 3-12 3-1 3-14 3 7 3-19 3 6 3-4 3 14M-592 -331l3-15 3 6 3-3 3-14 3 5 3 4 3-5 3 4 3 1 3 8 3-3 3 5 3 8M-542 -321l3-19 3 4 3-2M-527 -346l3-3 3 1 3 12 3-15 3 2 2 10M-504 -346l3 3 3 12 3-22 3 6 3 2 3-11 3 19M-471 -366l2-21 3-3 3 19M-457 -397l3 0 3-13 3 6 3 18M-428 -425l3-28 3 9 3-18 3 12 3-1 3-9 3-14 3 1 3 8 3 6M-392 -475l3-13 2-2 3 6 3 4 3-6 3 7 3 44M-363 -457l3-28 3 1 3-11 3 23 3-6 2-8 3-6 3 17 3 1 3 6 3 3 3 7 3 12 3 15 3 2 3-1 3 6 3-22 3 33 2-6 3-14 3 25 3 9 3 2 3 20 3 5 3 7 3-27 3-1 3 23 3 5 3-25 3 18 2 21 3 9 3 18 3-21 3 12 3 15 3 9 3-17 3 15 3 7 3-2 3 3 3 19 3-2 2 9 3 4 3 7 3 6 3 9 3 12 3 0 3-11 3 5 3 3 3 13 3 10 3 12 3-1 2-5 3 2 3 9 3 9 3-8 3 6 3-1 3 6 3 13 3-8 3 5 3 16 3 5 3-5 2 6 3 1 3 3 3 7 3 6 3-9 3 5 3-1 3 5 3 9 3-1 3 4 3 5 3-3 2-1 3 5 3 11 3-4 3 2 3 0 3 2 3 4 3-4 3 2 3 4 3 4 3-1 3 5 2-1 3-2 3 6 3-3 3 1 3 4 3-3 3 3 3 3 3-7 3 5 3 2 3 0 3 1 2 0 3 6 3 4 3-7 3 8 3 2 3-1"/><path transform="translate(1326.4 1573.0)" d="M-744 -279l3-7 3 5 3-8 3 7 3-5 3 6 3-4 3-1 3 5 2-1 3 0 3 3 3 7M-700 -276l3 0 3 0 3 10 3-4 3-11 3 8 3-5 3 1 2 0 3-1 3 2 3-6 3 2 3-9 3 4 3 0 3-5 3-4 3-4 3-2 3-4 3 3 2-3 3 7M-609 -317l3-14 3 4 3 2 3-11 3 9M-589 -341l3 2 3 4M-577 -340l3-5 3-10 3 7 3 9M-559 -335l3-11 3 8 2 10M-545 -324l3-7 3 14M-530 -338l3-16 3 11M-518 -335l3 2 3-5M-498 -344l3-3 3 6 3-6M-474 -358l3-17 2 1 3 1 3 9 3-12 3-7 3-11 3 12M-433 -411l3-16 2 6 3 3 3-20 3-13 3 9 3-4 3-8 3 20 3-30 3 10 3 11 3 12 3-43 3 1 2 10 3 13 3-15 3 21 3-6 3 2M-363 -457l3-20 3 4 3 14 3-7 3 5 2-25 3 35 3-15 3 14 3-8 3-5 3 16 3 10 3-7 3 3 3 20 3-3 3 16 3-6 2 18 3-1 3 3 3 7 3 11 3-8 3 29 3-11 3 0 3-17 3-1 3 5 3 16 3 12 2 1 3 6 3-2 3 25 3 7 3 6 3-7 3-1 3 24 3-21 3 23 3 18 3-7 3 10 2 8 3 1 3-10 3 24 3 0 3 11 3 3 3-12 3 12 3 8 3 9 3 12 3-3 3 7 2-2 3 1 3 2 3 1 3 5 3 7 3 1 3 7 3 9 3 4 3-3 3 11 3 10 3-11 2-3 3 3 3 7 3 5 3 3 3 8 3-9 3 7 3-1 3 5 3 1 3 7 3 4 3 1 2 0 3-4 3 10 3 1 3 0 3 6 3-4 3 6 3-1 3-2 3 5 3 2 3 3 3 6 2-4 3 1 3 7 3-4 3 3 3 0 3 1 3 2 3-2 3 3 3-2 3-1 3 3 3 0 2 3 3 1 3 2 3 4 3-4 3 3 3 2"/><path transform="translate(1323.3 1573.7)" d="M-747 -277l3-6 3-2 3 2 3 4 3 1 3-7 3 5 3 1 3-4 3 3 2 3 3-11 3 9 3 0 3 5 3 1 3-5 3 2 3 0 3 9 3-3 3-5 3 2 3-1 2 4 3-2 3-7 3 4 3 1 3-4 3-1 3-1 3-6 3-2 3-4 3-8 3 5 3-2 2 3 3-8M-597 -316l3-18 2 2 3-10 3 2 3 10M-577 -340l3-7 3 4 3-2 3 2 3 6M-553 -337l2 0 3 14 3-13 3 5 3 9M-530 -326l3-14 3-7 3 11 3-12 3 11 3 8M-492 -336l3-12 3 15M-474 -348l3-12 2-9 3 4 3-10 3-10 3 15 3-7 3 8M-439 -395l3 4 3-15 3-11 2-5 3-6 3 1 3 20 3-25 3-4 3-20 3 25 3 3M-398 -431l3-7 3-7 3-3 2-9 3 20 3-5 3-10 3 21M-363 -464l3-5 3 13 3-9 3 28 3-12 2-19 3 19 3 8 3-9 3-2 3-12 3 16 3 5 3 3 3 9 3 19 3 8 3 1 3 8M-299 -385l3-10 3 16 3-8 3 18 3 18 3-11 3-6 3-17 3 4 3 13 3 19 2 20 3 23 3-28 3 26 3-10 3 9 3 5 3 6 3 8 3 11 3-4 3 9 3-7 3 21 2-5 3 6 3 1 3 9 3 4 3 13 3 3 3-2 3 4 3 6 3 6 3 6 3 11 3-6 2 8 3 5 3-8 3 7 3 11 3-6 3 14 3 9 3-5 3 10 3-2 3 3 3 11 3-14 2 6 3-1 3 2 3 7 3 6 3 10 3-8 3 2 3-2 3 9 3 4 3 5 3 4 3-1 2-2 3 1 3 2 3 3 3 4 3 4 3 0 3 6 3-7 3 8 3-1 3 2 3 9 3-7 2 9 3-2 3-1 3 2 3 0 3 2 3-2 3-5 3 13 3-5 3 1 3 1 3 3 3-4 2-4 3 2 3 8 3-2 3 4 3 2 3 1"/><path transform="translate(1320.2 1574.5)" d="M-750 -273l3-7 3 0 3 1 3-7 3 8 3-2 3 4 3-5 3 6 3-2 3 3 2-2 3-6 3 3 3 0 3 0 3 3 3 2 3-3 3 5 3 0 3 4M-679 -271l3 4 2-3 3-1 3-3 3-2 3 0 3 3 3 0 3-2 3-5 3 2 3-12 3 4 3-8 3-3 2 1 3 3M-603 -321l3 6 3 2 3-15 2 6 3-11 3-5 3 1 3 8 3-10 3-2 3-6 3 4 3 12 3-9 3 4M-548 -334l3 2 3 7M-536 -325l3-1M-527 -330l3-6 3 1M-501 -335l3-16 3 5 3 9M-480 -335l3-14 3 5 3-14 2 3 3-3 3-9 3-10 3 9M-436 -383l3-12 3-17 2 9 3 2 3-7 3-8 3-7 3 4 3-12 3 12 3-10 3-3 3-7 3 7 3 1 3 13 2-25 3 26M-366 -434l3-15 3-11 3-7 3 4 3 29 3-21 2 1 3 21 3-19 3 13 3-8 3-2 3 10 3 16 3 8 3 3 3-4 3 18 3-9 3 17 2-5 3 2 3 4 3 7 3 9 3 3 3-1 3 18 3 2 3-2 3-5 3-3 3-4 3 17 2 15 3 22 3-5 3 10 3 5 3-10 3 17 3-3 3 6 3 12 3 3 3 13 3-6 3 18 2-2 3-13 3 8 3 13 3 8 3 2 3 7 3-1 3 19 3-21 3 15 3 9 3 16 3-10 2 15 3-6 3 7 3-6 3 12 3-4 3 17 3 6 3 3 3-8 3 6 3 5 3 7 3 0 2-6 3 6 3-3 3 7 3 4 3 0 3 2 3 6 3 1 3 8 3 1 3 4 3 0 3 3 2-3 3 2 3 5 3 1 3 0 3 3 3-2 3 5 3 2 3 4 3-4 3 5 3 7 3-1 2 2 3 7 3-3 3-2 3 2 3-2 3 0 3-4 3 7 3-4 3-1 3 5 3 1 3 0 2-3 3 8 3-4 3 1 3 9 3 1 3 1"/><path transform="translate(1317.1 1575.2)" d="M-747 -274l3-1 3-6 3 3 3 1 3 2 3 5 3-6 3 0 3 2 3-3 2 3 3-10 3 4 3 2 3 3M-697 -270l3-7 3 5 3 5 3 0 3 1 3-5 3-1 2 3 3-5 3 7 3-2 3 1 3 2 3 5 3-10 3 1 3-5 3 3 3-11M-633 -290l3-7 3 6M-606 -303l3-17 3 2 3-3 3-8 2 8 3-6 3 3 3 2 3-10 3 3 3-12 3 12 3-13 3 12 3 4 3-4 3-9M-545 -339l3 9 3 7 3-7 3 1 3 8 3-13 3 4M-518 -335l3-10 3 23M-495 -333l3-11M-477 -349l3 9M-469 -354l3-2 3 2 3 0 3-10 3 14M-448 -362l3-21 3 8M-433 -392l3 4 2-12 3 8 3-28 3 18 3-2 3-3 3-2 3-10 3 18 3 4 3-15 3-16 3 10 3 1 2-14 3 2 3 13M-369 -412l3-36 3-2 3 24 3-22 3 13 3 14 3-23 2-4 3 9 3 12 3 2 3-10 3 6 3 24 3-13 3 21 3-12 3 6 3-1 3-6 3 16 2 2 3 0 3 26 3-11 3-5 3 29 3-5 3 11 3 1 3-5 3 0 3-9 3 25 3 4 2 20 3 17 3-1 3 6 3 2 3-5 3 5 3 2 3 10 3 4 3 6 3 4 3 8 3 4 2 0 3 4 3-1 3 11 3 4 3 4 3 1 3 11 3 1 3-7 3 18 3-4 3 11 3 10 2-8 3 9 3 2 3 2 3 5 3 8 3 7 3 3 3-3 3 10 3 2 3-7 3 12 3 1 2-3 3 1 3 3 3 3 3 6 3-1 3 7 3-5 3 12 3-6 3 8 3 4 3 0 3 1 2 1 3-2 3 7 3-1 3 5 3-4 3 6 3-1 3 0 3 6 3 6 3-5 3 8 3 2 2-2 3 5 3-3 3 1 3-1 3 3 3-6 3 2 3 1 3 2 3 6 3 1 3-6 3 4 2 0 3-7 3 2 3 6 3 8 3 3 3-3"/><path transform="translate(1314.0 1575.9)" d="M-750 -271l3-2 3-1 3 2 3-6 3 3 3 5 3 0 3-6 3 7 3-4 3-2 2 0 3 0 3-1 3 2 3-2 3-1 3-3 3 7 3 5 3-5 3 3 3 5M-674 -269l3-1 3 0 3 3 3-3 3 0 3 5 3 0 3 2 3-5 3-4 3-4M-627 -292l3-3 3-7 3 3M-609 -301l3-11 3-4 3 11 3-7 3-2 2 5 3-5 3-4 3-5 3 4 3-15 3 6 3-8 3 13 3 2 3-8 3 4 3-5M-539 -334l3 10M-501 -328l3-18 3 14M-480 -332l3-11 3-7 3 8 2-11 3-8 3 24 3-14 3-9 3 3M-445 -367l3-5 3-22 3-5 3 12 3-11 2 12 3-16 3 4 3 1M-413 -386l3 0 3-12 3-13 3 19 3-16 3-1 3 8 3 2M-378 -424l3-6 3-11 3 12 3-1 3 14 3-15 3 13 3 13 3-23 3 25 2 0 3-14 3 26 3-14 3-20 3-4 3 18 3 1 3 0 3 12 3-11 3 3 3 18 3-4 2 5 3 9 3 19 3-10 3 13 3 5 3-12 3 22 3-3 3 17 3 3 3 0 3-7 3 15 2 4 3 19 3 18 3-19 3 8 3 5 3 7 3 2 3 5 3 3 3-8 3 19 3 8 3 1 2-1 3 13 3-5 3 1 3 16 3 6 3-5 3 3 3 0 3-1 3 5 3 14 3 7 3-3 2 10 3 1 3 9 3-9 3 9 3 1 3 4 3 12 3 5 3 3 3 2 3-1 3 6 3 1 2-2 3 5 3 3 3-1 3 3 3 6 3 1 3 6 3-2 3 0 3 7 3 1 3 4 3-6 2 5 3 6 3 2 3-6 3 12 3-4 3 1 3 1 3 3 3-2 3 6 3-1 3 5 3 4 2 1 3 3 3 0M-47 -83l3-1 3 3 3-3 3 0 3 5 3 3 3 1 3-3 3 0 2 0 3 0 3 3 3 0 3 2 3 3 3 2"/><path transform="translate(1310.9 1576.6)" d="M-750 -266l3-2 3 3 3-5 3 1 3 3 3-4 3 0 3-3 3 10 3-6 3 1 2 0 3 0 3-2M-703 -272l3 0M-694 -273l3 1 3 7 3-4 3 2 3 0 3-1 2-1 3-3 3 2 3 3M-656 -266l3 0 3 1 3 1 3-8 3 6 3-11 3 0M-627 -290l3-7 3 7M-609 -307l3 4 3-7 3 1 3-3 3 3 2-7 3 7 3-2M-577 -320l3 1 3-9 3 4 3 4M-559 -325l3-1M-545 -344l3 2 3 4 3 3 3 14 3-4 3 2 3 6 3-16M-501 -330l3-11 3 5 3-9M-486 -339l3-8 3 2 3 8 3 2 3-2 2-1 3-1 3 13 3-12M-454 -342l3-11 3-9 3-5 3-7 3 12 3 2 3-6 3-13 2 13 3-20 3-7 3 17 3-25 3-1 3 21 3-2 3-10 3 3M-392 -395l3-4M-384 -407l3 1 3-9 3-12 3-2 3 4 3-6 3 4 3 15 3 1 3 7 3 3 3-2 2 0 3 5 3 5 3-17 3 3 3 6 3-8 3 19 3 2 3 6 3-15 3 11 3 5 3 10 2-2 3 19 3-1 3-11 3 12 3-6 3-1 3 10 3 17 3 11 3 8 3 9 3-1 3 2 2 1 3 13 3 21 3-4 3 12 3-7 3 7 3-4 3 23 3-12 3 15 3-20 3 12 3 19 2-6 3-1 3 17 3-5 3 4 3 4 3 4 3-2 3 2 3 3 3 4 3 7 3 9 3 6 2-4 3 6 3 7 3 0 3 7 3-4 3 9 3 9 3-2 3 3 3 8 3 6 3-2 3-4 2 6 3-4 3 8 3 0 3 1 3 5 3 6 3 2 3 9 3-4 3-1 3 6 3-6 3 4 2 0 3 9 3 1 3 7 3 6 3-6 3-2 3 0 3 5 3-5 3 3 3 1 3 4 3 6 2 3 3-2 3 2 3 1 3-5 3 1 3 8 3-2 3-2 3 3 3 1 3-1 3 1 3-3 2 1 3 5 3-1 3 4 3-3 3 5 3 3"/><path transform="translate(1307.8 1577.3)" d="M-750 -265l3 0 3 3 3-6 3 1 3-1 3 0 3-2 3 2 3 2 3-1 3-2 2 4 3 4M-697 -273l3-5 3 0 3 12 3 7 3-4 3 4 3-6 2 5 3-9 3-1 3 3 3 6 3-8 3 2 3-4 3 10 3-7 3 6 3-2 3-4 3-10 2 4M-627 -284l3-10 3 1 3-1 3 3M-609 -294l3-10 3-4 3 6M-592 -308l3-6 3 8M-580 -308l3-10 3-5 3 11 3-13 3 3 3-2 3-3 3 3 3 3 2-9M-542 -335l3 0M-533 -324l3-3 3 4M-492 -336l3-6 3-6 3 9 3 3 3 3 3 14 3-13 2-1 3-6 3 11 3-9 3 14M-439 -352l3-10 3-7 3 13 2-17 3 2 3 1 3-14 3-1 3-6 3-9 3 4 3 19M-395 -389l3-6M-387 -396l3-4M-378 -402l3-19 3 1 3-1 3 13 3-18 3 20 3 6 3 7 3 7 3 12 2-14 3-3 3-1 3 11 3 7 3-19 3 14 3-9 3 1 3 3 3-7 3-1 3 7 3 17 2 7 3 36 3-35 3 23 3-7 3 13 3-26 3 16 3 12 3 16 3 8 3-5 3 2 3 0 2 9 3 12 3 1 3 21 3 1 3-3 3-2 3 17 3 3 3-1 3-4 3 10 3 6 3 11 2-9 3-3 3 9 3 9 3 9 3 3 3-3 3 11 3 3 3 6 3 2 3-3 3 9 3 1 2 1 3 3 3 11 3 3 3-5 3 5 3 4 3 9 3-2 3 2 3 7 3 10 3 0 3-2 2 4 3 1 3 2 3 1 3 2 3 4 3 7 3 5 3-5 3 5 3 2 3 2 3-3 3-1 2 7 3-1 3 2 3 6 3 3 3 1 3-3 3 3 3-6 3 4 3 2 3 6 3 2 3 1 2 5 3 3 3-2 3-2 3 1 3 0 3-3 3 5 3-1 3 1 3 5 3-3 3 3 3-2 2-1 3 6 3-3 3 3 3 4 3-2 3 5"/><path transform="translate(1304.7 1578.1)" d="M-750 -263l3 1 3 1 3-1 3-2 3-3 3 2 3-2 3-5 3 8 3 2 3 2 2 1 3-1 3 0M-703 -262l3-9 3-1 3 0 3 2 3 3 3 7 3 6 3-5 3 1M-671 -263l3-1 3 2 3-3 3-4 3 4M-627 -286l3-5 3 10 3-14 3 5M-609 -292l3-17 3 10 3-5 3 1M-586 -306l3-3 3-2M-574 -311l3-6 3-5 3 0 3 1 3 3 3-2 3-4 2-1M-545 -330l3-17 3 4 3 11 3 2 3 11 3-4 3-2M-492 -324l3-17 3 17 3 2 3-8 3 17 3-17 3 8 2-6 3 2 3-12 3 11 3-6 3 5 3-16 3 6 3-10 3 0 3 3 3-12 3 5 3-4M-422 -373l3 4 3-17 3 9 3-7 3 8 3-5 3 11 3-27 3 6 3-6 3 6 2 5 3-13 3 7 3-25 3 13 3-9 3 15 3-19 3 3 3 10 3 2 3 4 3 18 3 10 2-5 3 6 3-7 3-7 3 13 3-23 3 18 3-8 3 7 3-6 3 6 3 3 3-3 3 6 2 15 3-5 3 27 3-17 3 4 3 7 3-1 3-5 3 18 3 11 3 4 3 5 3-2 3 6 2 6 3 7 3 13 3 3 3 7 3-6 3 9 3-1 3 9 3 16 3-5 3 9 3 12 3-1 2 9 3-11 3 12 3 12 3-10 3 11 3-5 3 10 3 4 3 1 3-5 3 12 3 8 3 5 2-3 3 5 3-8 3 15 3 5 3 3 3-1 3 5 3 5 3 1 3 3 3 0 3 5 3-1 2 10 3-7 3 7 3 5 3-2 3 4 3 2 3 5 3 3 3 9 3-5 3-2 3 0 3 2 2 3 3 1 3 7 3 2 3 3 3-2 3 1 3 3 3 1 3 1 3 2 3-2 3 8 3 0 2 1 3 2 3-1 3-1 3 2 3-3 3 1 3 3 3 0 3-2 3 2 3 3 3 1 3-1 2 7 3-2 3 1 3 1 3 3 3 4 3-5"/><path transform="translate(1301.7 1578.8)" d="M-750 -258l3-1 3 4 3-5 3-3 3 0 3 0 3 0 3 2 3-2 3 2 3-2 2 8 3-2 3 0M-700 -268l3 3 3-2 3 1 3 1 3 2 3 3 3 8 3-5 2-1 3-2 3-5 3 6 3-4 3-1 3-3 3 2 3 1 3-5 3 2M-618 -286l3-8 3 3 3-4 3-3 3 4M-594 -302l2 0M-580 -308l3-4 3-8 3 8 3-5 3 6 3 6 3-18 3 5 3-9 2 15 3-10 3-7 3-9 3 10 3 9 3-6 3 4 3-7 3 12M-512 -323l2-15 3 3 3-5 3 8 3-1 3-6 3 4 3 6 3 7 3-4 3 4M-471 -318l2-8 3 0 3 1 3-6 3 6 3-1 3-7M-445 -345l3 9M-433 -359l3 10M-422 -352l3-25 3 18 3-17 3 0 3 14 3-2 3 10 3-3 3-20 3-13 3 2 2-5 3-1 3 7 3-18 3 15 3-1 3 1 3 6 3-19 3 10 3 22 3-15 3 16 3 1 2 5 3 3 3 2 3-13 3 18 3-30 3 31M-319 -365l3-8 3-1 3 19 3-6 2 6 3 7 3 5 3 3 3-4 3 16 3-5 3-8 3 6 3 19 3 7 3 2 3 10 3 0 2 5 3 4 3 21 3-1 3-1 3 5 3 7 3 7 3 2 3 11 3 2 3 4 3 1 3 5 2 6 3 7 3-5 3 4 3 14 3 3 3 6 3-4 3 3 3 6 3 3 3 4 3 3 3 6 2-1 3 8 3-4 3-3 3 17 3 2 3-5 3 7 3 1 3 4 3 3 3 1 3 3 3 6 2-5 3 11 3-5 3 8 3-1 3 3 3 4 3 4 3 0 3 0 3 5 3-3 3 3 3 2 2 6 3-2 3 2 3 8 3-2 3 6 3 1 3-3 3 1 3 2 3 1 3 4 3 1 3 0 2 3 3 1 3 3 3-5 3 1 3 1 3 1 3-1 3 1 3-2 3 8 3-4 3 6 3-2 2 3 3 1 3 1 3-2 3 6 3-5 3 2"/><path transform="translate(1298.6 1579.5)" d="M-750 -259l3 5 3-5 3 4 3-1 3-4 3 1 3-8 3 3 3 4 3 2 3 0 2 0 3 4M-700 -263l3-3 3-3 3 0 3 7 3 0 3 0 3 3 3 6 2-2 3-2M-662 -259l3-8 3 6 3 1 3-3 3-1 3-3 3 0 3-1 3 2M-627 -270l3-12 3-3 3-4 3 0 3 1M-606 -287l3-18 3 15M-586 -302l3-10 3 4 3 0 3-3 3 15M-559 -313l3 4 3-5M-548 -312l3-13 3 5 3-6 3-3 3 14 3-3 3-1 3-3 3 8 3-17 3 14 3-8 2-5 3 8 3-9 3 7 3 0 3-11 3 4 3 13 3-7 3 7M-471 -328l2-1 3 9 3-11 3 11M-419 -355l3-1 3 0 3-13 3 5 3 22 3-13M-395 -377l3 14 3-24 2-7 3 25 3-22 3 13 3 1 3-19 3 18 3-14 3 3 3 5 3-4 3 12 3 17 3 1 2 5 3 8 3 4 3-8 3-23 3 16 3 13 3-15 3-2 3-8 3 0 3 10 3 0 3 6 2-9 3 19 3 16 3-5 3 13 3-14 3-3 3 6 3-4 3 15 3 12 3 17 3-1 3-4 2 7 3 11 3 0 3 10 3 1 3 2 3 4 3 3 3 16 3 3 3 4 3 2 3 8 3 1 2 8 3 7 3 5 3 3 3 3 3-3 3 16 3-4 3 4 3 0 3 2 3 13 3 1 3 8 2-5 3 0 3 9 3 0 3 5 3-3 3 14 3-4 3 7 3-6 3 5 3 1 3-1 3 9 2-3 3 0 3 5 3 6 3 1 3 1 3 3 3 4 3-2 3 7 3 2 3-3 3 3 3 3 2-1 3 2 3 5 3 0 3 7 3 4 3 1 3-1 3 1 3 1 3 4 3 3 3-4 3 5 2-4 3 2 3 2 3-2 3 2 3 0 3 6 3-7 3 0 3 5 3 2 3 1 3 2 3-3 2 6 3 2 3 0 3-3 3 2 3-2 3 4"/><path transform="translate(1295.5 1580.2)" d="M-750 -255l3 4 3 1M-735 -258l3 0 3-2 3 0 3 5 3-3 3-1 2 2 3-2 3 5M-703 -260l3-6 3-1 3 2 3 2 3-1 3 0 3 2 3-2 3 6 2 3M-665 -262l3 3 3-3 3 2 3 3M-644 -257l3-3 3-8 3 6 2-2M-627 -268l3-7 3-1 3-6 3-3 3 1 3-9 3 0 3-1 3 0 3-1 3-6 2 0 3 0 3-2 3-1 3-6 3 12 3-5M-548 -314l3-3 3-2 3-3 3 3 3-2 3-2 3 8 3 3 3-4 3 3 3 0 3-12 2 10 3-5 3 6 3-10 3-1 3-4 3 13 3-10 3 7M-466 -321l3 5M-457 -321l3-9 3-1M-425 -348l3-13 3-7 3 10 3 13 3-2 3-5 3 13M-398 -349l3-4 3-25 3 11 2-21 3 10 3-1 3-4 3 13 3-26 3 27 3-16 3-8 3 8 3 13 3-1 3 16 3 17M-340 -334l3-8 3-15 3 10 3 6M-322 -336l3-14 3-13 3 18 3-1 3-4 2 26 3-6 3 7 3-5 3 4 3-6 3 1 3 17 3 0 3 13 3 14 3 2 3 5 3 0 2-7 3 4 3 7 3 10 3 11 3-4 3 4 3 15 3-4 3 16 3-9 3 9 3 19 3-23 2 11 3 8 3-1 3 12 3-1 3 13M-199 -176l3-1 3-4 3 14 3 1 3 2 2 8 3 1 3 6 3 1 3 2 3 2 3 2 3 8M-155 -134l3-3 3 5 3 0 3 3 2 3 3 3 3 2 3 2 3 8 3-7 3 7 3 1 3 4 3-1 3 6 3 0 3-2 3 4 2 0 3 5 3 0 3 4 3 4 3-2 3 4 3 2 3 1 3-1 3 5 3-1 3-1 3 1 2 7 3-3 3 0 3 1 3 0 3 6 3-6 3 1 3 2 3 0 3 2 3 3 3 3 3-4 2 6 3 0 3-4 3 5 3-4 3 1 3 3"/><path transform="translate(1292.4 1581.0)" d="M-750 -254l3 1 3 3 3 0M-735 -256l3-4 3 4 3 1 3-3 3 1 3-1 2-4 3 8 3-2 3-2 3 1 3-2 3-1 3-4 3 2M-682 -262l3 2 3-5 2 11M-668 -251l3-9 3-5 3 7 3-3 3 4 3-3 3 0 3 1 3-1 3 2 3-4 2 4 3-3 3-9 3 5 3-7 3-4M-606 -289l3-4 3 6 3-3 3-1 2 2 3-13 3 10 3-12 3 5 3 8M-553 -309l2 1 3-10 3 1 3 4 3 2 3-7 3 5 3 6 3-11 3 9 3 2 3-6 3 3 3-8 2 11 3-4 3-5 3 7 3-6 3 0 3 1 3-10 3 8 3 0 3-10 3 13M-457 -315l3-5 3 3 3 4M-430 -349l2 5 3-16 3 12 3 6 3-7 3-5 3 22 3 1 3 0M-398 -322l3-28 3 1 3-17 2 1 3 6 3-7 3 4 3 19 3-18 3-7 3-13 3 14 3-2 3 7 3-6 3 18 3 19M-337 -343l3 16 3-6 3 3 3 1 3-21 3 12 3-4 3-4 3-2 3 18 2 21 3-16 3 3 3 0 3-6 3 14 3-10 3 11 3-1 3 19 3 5 3 8 3-6 3 6 2 4 3 7 3 8 3 16 3-2 3 1 3 2 3 10 3 2 3 6 3-2 3 4 3 14 3-3 2 11 3-8 3 5 3 1 3 19 3 1 3-2 3 1 3 10 3-5 3 10 3-1 3 5 3 5 2 7 3 3 3 7 3-2 3 5 3 7 3-1 3 5 3 2 3-9 3 0 3 7 3-5 3 11 2 0 3 3 3 4 3 4 3 2 3 7 3-2 3-3 3 9 3-2 3 1 3 11 3-7 3 1 2-2 3 4 3 0 3 4 3 4 3 7 3-3 3-4 3 6 3 2 3 5 3 0 3-1 3-1 2 5 3 0 3-2 3 4 3 3 3 3 3-8 3 4 3-2 3 1 3-1 3 6 3 2M-15 -63l3 3 3-1 3 1 3-1 3 6"/><path transform="translate(1289.3 1581.7)" d="M-750 -251l3 1 3 0 3 3M-732 -255l3-6 3 5 3 2 3-4M-715 -257l3 1 3-1 3 2 3-4 3 1 3-3 3 2 3 4M-685 -263l3-2 3 3 3 4 2-1 3 3 3-4 3 3 3 2M-656 -257l3-3 3 2 3 0 3 0 3-1 3 6 3-8 2 5 3-3 3-7 3-1 3 1 3-5 3-8 3 2 3-6 3-3 3-3 3-2 3 3 3-8 2 6 3-13 3 11 3-1 3 0 3 0M-559 -308l3-8M-548 -302l3-12 3 10 3-7 3 6 3-3 3-14 3 16 3-6 3 2M-512 -310l2 0 3 1 3-6 3 7M-495 -308l3-3 3-5 3 0 3-5 3-1 3 14M-471 -320l2 2M-463 -315l3-4 3 0 3-5 3 17M-436 -336l3-15 3 17 2-10 3 10 3 0 3-2 3-6 3-8 3 20 3-13 3 15 3-6 3-5 3 2 3-3 3-9 2-4 3-1 3 0 3-7 3 20 3-6 3-17 3 2 3-15 3 20 3-1 3 1 3 26 3-7 2-2M-340 -331l3-20 3 20 3-3 3 2 3 5 3-8 3 13 3-20 3 6 3 14M-305 -325l3 5 3 4 3-3 3 12 3 2 3-1 3-3 3 18 3 8 3-6 3 1 3 14 3 2 2-6 3 7 3 6 3 22 3-3 3 7 3-5 3 8 3 12 3 4 3-3 3 6 3 7 3-4 2 0 3 1 3 11 3 0 3 3 3 11 3 4 3 0 3 7 3-9 3 15 3 0 3 5 3 6 2 3 3 4 3 3 3 5 3-1 3 6 3 3 3 4 3-2 3 2 3 2 3 3 3 0 3 3 2 0 3 4 3 4 3 4 3 3 3 2 3 0 3 1 3-2 3 7 3 0 3 6 3-2 3 3 2 1 3 3 3-1 3 5 3 2 3-3 3 1 3 4 3 3 3 2 3 5 3 1 3-2 3-1 2 2 3 4 3 3 3 0 3 1 3 3 3-1 3-2 3 0 3 2 3-1 3-1 3 5 3-1 2-3 3-1 3 2 3 6 3 5 3-2 3-1"/><path transform="translate(1286.2 1582.4)" d="M-750 -254l3 4M-726 -256l3 0 3 1 3-2 2-5 3 4 3 2 3 1 3 1 3 1 3-6 3 1 3 1M-685 -261l3 0 3 1 3 0 2-2 3 5 3 0 3 2 3-3 3 4M-647 -256l3 0 3 1 3-1 3 3 2-5M-621 -259l3-9 3-2M-609 -275l3-2 3-6 3-2 3-5 3 5 2-11 3 11 3-10 3 7 3-1M-553 -310l2-7 3 8 3-1 3 3 3-1 3-3 3 1 3-3 3-3 3 9M-504 -309l3-1M-489 -312l3-5 3 7M-466 -320l3-12 3 8 3 14 3-2 3 7 3 4 3-15 3 2 3-27 3 12 3-6 3-3 2-8 3 6 3 0 3 3 3 3 3 5M-407 -332l3-7 3 11 3 2M-389 -329l2-20 3 13 3-8 3 5 3-5M-369 -347l3-1 3-15 3 7 3 8 3 16 3-2M-328 -328l3-2 3 1 3 18 3-23 3 8 3-14 3 17 2-12 3 9 3 10 3 1 3 2 3 8 3 6 3 14 3-5 3-1 3 15 3-5 3 21 3-14 2 8 3-6 3 8 3 9 3 13 3 0 3 5 3 2 3 19 3-2 3-6 3 15 3-2 3-2 2 7 3 1 3 4 3 9 3-7 3 4 3 13 3 5 3 0 3 11 3-5 3 5 3 1 3 3 2 0 3 5 3 3 3 8 3 6 3 5 3 1 3 3 3-3 3 5 3-6 3 9 3 5 3 6 2-1 3-1 3 0 3 6 3 1 3 7 3-4 3 5 3 4 3-2 3-1 3 4 3 1 3 2 2 1 3 1 3 3 3 1 3 4 3 1 3 0 3 2 3 0 3 2 3 3 3-1 3 9 3 0 2-3 3 1 3 2 3 3 3 2 3 0 3 1 3 2 3-1 3-2 3 1 3-2 3 1 3 3 2-2 3 1 3 3 3-1 3 4 3 1 3-1"/><path transform="translate(1283.1 1583.2)" d="M-750 -247l3-5 3 3M-738 -250l3 2 3-6 3 0 3-2 3-1 3 1 3-2 2 4 3-3 3 2 3 1 3 1 3-1 3 0 3-3 3 4 3-7 3 5 3-8 3 8 3-1 2-5 3 3 3 4M-662 -250l3-5M-644 -253l3 1 3-5 3 4 2-1 3-5 3 1M-609 -273l3-4 3 6 3-9 3 1 3-11 2 6 3-9 3 4 3 2 3-3M-565 -296l3-8M-556 -302l3-11 2-2 3 4 3 3 3-3 3 6M-533 -306l3-5 3-2 3 2 3 3 3 0 3 0 3-7 2 14 3-13 3 4 3 2 3-4M-486 -301l3-11 3 5 3-3 3 2 3-5 2-6 3 3 3-4 3 8 3 3 3 3 3 8 3-6 3-7 3 10 3-18 3 4 3-17 3-5 2 15 3 1 3-3 3-2 3-10 3 2 3 4 3-4 3 3 3 9 3-14 3 10 3-11 3-8 2 13 3-5 3-7 3 14 3-4 3-13 3 6 3-18 3 14 3 2 3 1 3 18M-337 -341l3-7 3 6 3-2 3 13 3 4 3 8 3-10 3 5 3 3 3-16 2 28 3 0 3-7 3 14 3 8 3-3 3 6 3 4 3 1 3 3 3-3 3 14 3 14 3-4 2-4 3-1 3 5 3 13 3 22 3-7 3 1 3 10 3 0 3 6 3 5 3-2 3 0 3 12 2 11 3-1 3 3 3-10 3 5 3 5 3 10 3-5 3 9 3 1 3 9 3 0 3 5 3-1 2 1 3 6 3 5 3 3 3 0 3 12 3-7 3 9 3 6 3 1 3-2 3 1 3 7 3 6 2-4 3-1 3 7 3 2 3 2 3 2 3 2 3 3 3-1 3 2 3-1 3 9 3 0 3 3 2-2 3 3 3-2 3 5 3-1 3 4 3-3 3 3 3 0 3 4 3 3 3 0 3 5 3-1 2 2 3 4 3-6 3 3 3 5 3-1 3 5 3-3 3 1 3 0 3-4 3 4 3 0 3-3 2 4 3 1 3 1 3 0 3 5 3-1 3 1"/><path transform="translate(1280.0 1583.9)" d="M-750 -248l3 0 3-1 3-1 3-1 3 3 3-2 3-4 3-2 3 5 3-5 3 2 2-1 3 2 3-1 3 1 3-1 3-3 3 8M-691 -250l3-4 3 0 3-6 3 3 3 1M-671 -256l3-2 3 4 3-2 3 5M-647 -259l3-1 3 1 3 9 3-3 2 1M-606 -270l3-6 3 4 3 1 3-10 2-1 3-3 3 0 3-8 3 12M-571 -285l3-12 3 6M-536 -302l3-16 3 12 3-6 3 0 3-2 3 8 3-6 3 7 2-5 3 5 3 0M-483 -308l3 4 3-3M-469 -308l3-10 3-4 3 10 3 4 3 6M-448 -305l3 12 3-20 3 12 3-14 3-1 3-10 2-2 3 7 3 8 3-6 3-7 3 10 3-1M-401 -324l3-21 3 26M-389 -326l2-7 3 6M-369 -336l3-6 3-4 3 19 3-3 3 21M-340 -342l3 3 3-2 3 3 3-1 3 2 3 16 3 1 3-1 3 15 3-9 3-14 2-1 3 15 3 10 3 5 3 18 3-1 3 0 3 5 3-1 3 6 3 7 3-4 3 10 3 6 2-8 3 5 3 13 3 2 3 9 3 9 3 3 3 8 3-6 3 11 3-4 3-2 3 5 3-2 2 6 3 16 3-1 3-4 3 7 3 5 3 8 3 3 3 2 3 5 3 8 3-12 3 9 3 8 2-5 3-1 3 3 3 6 3 7 3 2 3 2 3 7 3 6 3-1 3 6 3 0 3 6 3-1 2 3 3 1 3 3 3-2 3 2 3 4 3 3 3-1 3 0 3 3 3 4 3 3 3 0 3 1 2 1 3 2 3 1 3 6 3-6 3 4 3-2 3 4 3 3 3 2 3 2 3 0 3 4 3 2 2-1 3 3 3-2 3 5 3-1 3 5 3 0 3 2 3-1 3-3 3 0 3-1 3 3 3-1 2-1 3 1 3 5 3 1 3 5 3-6 3 2"/><path transform="translate(1276.9 1584.6)" d="M-747 -249l3 1M-732 -251l3 3 3 2 3-6 3 2 3-2 2 6 3-1 3-1 3-4 3 2 3 0 3 1 3-4 3 1 3 2 3-5 3 3 3-5 3 3 2-5 3 3 3-2 3 4 3-5 3 7M-653 -251l3-9 3-4 3 3 3 6 3 3M-624 -256l3-9 3 2M-606 -270l3-4 3 3 3-7 3 1 2 2 3-8 3-1M-574 -287l3-4 3 3 3-2M-559 -301l3 1 3-10 2 6 3-8 3 1M-533 -307l3-5M-515 -307l3 1M-507 -302l3-14 3 21M-492 -302l3-11 3 1 3-4 3 4 3 9 3 3 3-12 2-3 3 5 3 0 3 4 3 3M-448 -296l3-6 3 7 3-13 3-1 3 6 3-5 2-1 3 6 3-8 3-6 3 3 3 1 3 3M-395 -319l3-6 3 5 2-15 3 11 3-17 3 7 3 6 3 1 3-7 3-7 3 20 3-23 3 28M-340 -332l3-4 3-5 3 2 3 6 3 7 3 16 3 1 3 14 3-21 3 3 3-13 2 14 3 7 3 1 3 9 3 3 3 8 3 10 3-3 3 7 3 11 3 5 3-15 3 10 3 16 2-10 3 9 3 9 3 8 3-6 3 5 3 9 3 8 3 0 3 3 3-5 3 0 3 4 3 3 2 11 3 8 3-4 3 3 3 8 3 5 3-1 3 8 3 5 3 3 3-1 3 7 3-4 3 1 2 8 3 2 3-4 3 7 3 2 3 7 3 6 3 7 3-1 3-3 3 7 3 1 3 5 3 2 2 1 3 6 3-2 3 0 3 1 3 4 3-1 3 5 3-2 3 5 3 0 3 4 3 0 3 4 2 0 3 1 3 1 3 1 3-1 3 2 3 2 3 2 3 6 3-2 3 2 3 1 3 3 3 3 2 1 3-1 3 3 3 2 3-4 3 4 3 2 3 0 3-1 3 1 3 1 3-2 3-1 3 2 2 4 3-1 3 1 3 1 3 3 3-2 3 3"/><path transform="translate(1273.8 1585.3)" d="M-747 -248l3 0 3 0M-735 -249l3-6 3 3 3 6 3-1 3-1 3-1 2-1 3 1 3 4 3-5 3 3 3-3 3 6 3-5 3-2 3-2 3 5 3-7 3 6 3-4 2 1 3 0 3-2 3-1 3 2 3 1 3-2 3 3 3-3 3-3 3 1 3 2 3 3 3 4M-624 -256l3 0 3-4 3-2 3-3 3-1 3 4M-583 -283l3-3 3-3 3 6M-559 -295l3-9 3 13M-495 -305l3-1 3-8 3 5 3 9M-474 -298l3-10 2 2 3 0 3-1 3 17M-448 -299l3-1 3 1 3-2 3 1 3 1 3-6 2-7 3 24 3-20 3 9M-398 -320l3-19 3 12 3 6 2-4 3 9 3 2M-375 -329l3 1 3-3 3-1 3 5 3 4 3-11 3 7 3 16 3-7 2-8 3-6 3 5 3-16 3 19 3 11 3-20 3 3 3 26 3 0 3 6 3-1 3-5 3 7 2-6 3 2 3 2 3 3 3 17 3-4 3 0 3 15 3 21 3-9 3 8 3-5 3-6 3 11 2 13 3 0 3 13 3 5 3-3 3 3 3 5 3 3 3 4 3 4 3-3 3 0 3-4 3 5 2 11 3 2 3 9 3-3 3 6 3-1 3 4 3 7 3 9 3 8 3-7 3 7M-184 -147l2 1 3-5 3 6 3 5 3 5 3 4 3 3 3 3 3-1 3 5 3 5 3 1 3 1 3 3 2 4 3-4 3 5 3 2 3 0 3 6 3-2 3 5 3-2 3 5 3 4 3 0 3 3 3-2 2 5 3-3 3 1 3-1 3 1 3 2 3 3 3 2 3 3 3 3 3 0 3 1 3 4 3 1 2-2 3 2 3 1 3 3 3-3 3 7 3-3 3 1 3 3 3 1 3-1 3-1 3 1 3-1 2 4 3-2 3 2 3 1 3 0 3 4 3 0"/><path transform="translate(1270.7 1586.0)" d="M-750 -244l3-3 3 0 3-5 3 4 3-5 3 4 3 1 3 1 3 1 3 2 3 0 2-2 3-2 3 0 3 5 3-5 3 0 3 2M-682 -246l3-3 3 0 2-2 3-3 3 8 3-7 3-1 3 4M-650 -250l3-2 3-2 3 1 3 1 3 3 2-3M-609 -257l3-6M-597 -270l3 0M-539 -305l3-7 3 10M-492 -309l3 9 3-7M-480 -299l3-17 3 20 3-8 2 6 3 0 3 0M-457 -304l3 5 3-6 3 15 3-12 3 4 3 0 3-3 3 0 3 4 2-5 3 7 3 0 3 3 3-5 3-10M-404 -310l3-8 3-16 3 14 3-7 3 27 2-6 3-9 3 1 3 5 3-18 3-3 3 1 3 7 3 11 3-11 3 7 3-7 3 3 3-2 2 10 3-20 3 3 3-7 3 14 3 9 3-1 3 20 3-20 3 17 3-9 3 5 3 17 3-12 2 2 3-6 3 7 3 18 3-5 3-4 3 17 3 0 3 3 3 3 3 15 3-1 3 3 3 1 2-4 3 13 3 4 3 0 3 6 3 11 3-5 3 9 3-1 3 11 3-11 3 12 3-6 3 8 2 4 3 7 3 0 3-1 3 10 3 7 3-7 3 7 3 5 3 4 3 0 3 7 3-2 3 2 2 2 3 6 3-1 3 9 3 0 3 10 3 1 3 5 3-1 3 6 3-3 3 6 3 0 3 1 2 4 3-1 3 4 3 2 3 2 3-1 3 7 3 3 3-5 3 4 3 5 3 2 3 3 3-2 2-2 3 3 3 2 3-1 3 3 3 2 3 1 3 0 3 2 3 3 3 0 3 2 3 1 3 3 2-1 3 3 3-2 3 0 3 5 3 5 3-2 3 2 3 0 3 2 3 0 3 2 3-2 3 0 2-1 3-1 3 2 3-1 3 5 3 1 3-1"/><path transform="translate(1267.7 1586.8)" d="M-747 -244l3-3 3-1 3 0 3 0 3 1 3 0 3 2 3-2 3 4 3 2 2-2 3 0 3-4 3-2 3 0 3 5M-668 -252l3 2M-659 -252l3-3 3 2 3 5 3-4 3 4 3-2M-618 -255l3-4 3 2M-536 -309l3 2 3 1M-471 -302l2 3 3-1 3 2 3 5 3-6 3-5 3 8 3 4 3-15 3 13 3 1 3-7 3 8 3-7 2-9 3 17M-416 -294l3-6 3-1 3-10 3 10 3-14 3-2 3 1 3-5 3 11 2-11 3 18M-369 -321l3 10 3-8 3 5 3 4 3-4 3 4 3-10M-343 -314l3 8 3 4 3-3 3-10 3 13 3 5 3-17 3 15 3 0 3 9 3-3 3-3 2 28 3-17 3 4 3 2 3-4 3 18 3-1 3 6 3 12 3 8 3-5 3 1 3 8 3-8 2 18 3-5 3 7 3 9 3-7 3-1 3 7 3 9 3-4 3 11 3 4 3 6 3 3 3-4 2 5 3 2 3-3 3 10 3 9 3-4 3 0 3 8 3 2 3 6 3-2 3 5 3 0 3 5 2 2 3 4 3-4 3 11 3 2 3-1 3 13 3-2 3 7 3 2 3 3 3 0 3 3 3 1 2 2 3-2 3 0 3 3 3 4 3 5 3 0 3 1 3 5 3 0 3 2 3 1 3 2 3 2 2 2 3-6 3 6 3 2 3 2 3 2 3-2 3 2 3 4 3 2 3 0 3 2 3-4 3 2 2 1 3 3 3 1 3 2 3 2 3 2 3 3 3 0 3 1 3 1 3 2 3-1 3 3 3-3 2 0 3 2 3-1 3 2 3-1 3 2 3 0"/><path transform="translate(1264.6 1587.5)" d="M-750 -242l3-3 3 0 3 2 3-4 3 0 3-2 3 0 3 2 3 1 3 1 3 2 2 0 3 0 3 1M-700 -242l3-4 3-1M-682 -249l3-1 3 0 2 3 3-6 3 2 3-2 3 4M-647 -251l3 6 3-1M-635 -251l2 1M-627 -249l3-6 3 4 3-6 3 3M-609 -258l3 2M-586 -270l3-7 3 1M-539 -303l3-3 3 7 3-11 3 11M-518 -313l3 9M-501 -304l3-6M-489 -309l3 0M-474 -300l3-12 2 13 3 3 3-4M-457 -298l3 6 3-7 3 3M-442 -295l3 1 3-1 3-3 3 10M-425 -284l3-17 3 4M-410 -294l3-15 3 9M-398 -306l3-9 3 15 3-20 2 18M-381 -312l3 6 3-3 3-4 3-15 3 3 3 12 3 2M-354 -298l3-15 3 12 2-6 3-13 3 10 3 3 3-10 3 25 3-10 3-3 3 5 3 0 3 11 3 4 3-4 3 8 2 4 3-6 3 3 3 14 3-17 3 10 3 15 3-4 3 21 3-5 3 8 3 5 3-8 3 7 2-2 3 5 3 9 3 2 3 4 3-3 3 8 3-7 3 19 3-5 3-5 3 11 3 11 3 9 2-3 3 1 3 5 3 0 3 0 3 1 3 6 3 10 3 2 3 3 3-2 3 2 3 8 3-1 2 3 3-1 3 5 3 4 3 5 3 5 3-2 3 8 3 1 3 7 3-1 3 3 3-1 3 4 2 1 3 3 3 0 3 4 3 2 3-1 3 2 3 4 3 1 3 4M-108 -85l3 4 3 3 2 0 3-1 3-1 3 5 3-2 3 2 3 0 3 3 3 3 3-4 3 4 3 0 3 4 3 0 2 2 3 2 3-2 3 3 3 2 3 2 3 3 3 5 3-1 3 1 3 1 3 0 3 1 3 0 2 0 3-3 3 1 3 0 3-1 3 4 3 2"/><path transform="translate(1261.5 1588.2)" d="M-750 -241l3 1 3-2 3-2 3 0 3-3 3 2 3 1 3-3 3 4M-712 -241l3 2 3-4 3-3 3 0 3 2 3 0 3-2 3-4 3 1 3-3 3 1 3 2 2 0 3 3 3 0 3-4 3 4 3-2 3-7 3 1 3 3 3-4 3 1 3 13 3-6 3 1M-624 -247l3-7 3 4M-592 -266l3-6 3 0 3-3 3 1 3-2M-539 -307l3 2 3 10M-501 -308l3 0M-489 -302l3-6M-451 -294l3-4 3 3M-428 -290l3-12 3 9 3 2 3 1 3-6 3 4 3 0M-401 -297l3-11 3 7 3-4 3-5 2 9 3-8 3 5 3-5M-369 -306l3-15 3 15 3-2 3 1 3-4 3 11 3-2 2-4M-340 -291l3-5 3 8 3 3 3-9 3 2 3-2 3-3 3 5 3-4 3 12M-305 -279l3-2 3 9 3-3 3 5 3 0 3 20 3-12 3 4 3 19 3 0 3 6 3 0 3-6 2 7 3 8 3 2 3 3 3 1 3 4 3 8 3-10 3 18 3 1 3 0 3-3 3 7 3-3 2 19 3 2 3 7 3-2 3-1 3 3 3 4 3 5 3 4 3 7 3-4 3 7 3 0 3 7 2-3 3 7 3 1 3 1 3 3 3 3 3 2 3 8 3-2 3 6 3 2 3 1 3 1 3 3 2 5 3 1 3 1 3 1 3 2 3 0 3 1 3 4 3 3 3-1 3 1 3 1 3 0 3 5 2 3 3 4 3-1 3-2 3 1 3 2 3 5 3-1 3 0 3 1 3 2 3 1 3-1 3 5 2 1 3 0 3-2 3 0 3 7 3 0 3 1 3 6 3-1 3 0 3 2 3 1 3 1 3 1 2 1 3-1 3-1 3 0 3 1 3 1 3-1"/><path transform="translate(1258.4 1589.0)" d="M-750 -240l3 1 3-2 3-1 3 0 3-3 3 0 3 2 3 1 3-1 3-2 3 2 2-1 3 1 3 0 3 5 3-4 3 2 3-3 3 0 3-2 3 0 3 0 3-5 3 3 3-1 2 0 3 0 3 3M-656 -246l3-5 3 0 3 2M-594 -259l2-11 3-2 3 8 3 0 3-9 3 4M-498 -316l3 9M-489 -303l3-9 3 12M-474 -303l3-11 2 7M-451 -294l3 2 3-2 3 10 3 6 3-19 3 3 3 1 2-6 3 7 3 7 3-15 3 15 3-14 3 8M-404 -293l3-5 3 4M-392 -304l3-5 2 11 3-10 3 3M-369 -310l3 3 3-4 3 9 3 7 3-5M-340 -308l3 14 3 7 3-7 3 0 3 9 3-11 3 1 3-1 3 2 3 6 3 1 2 6 3-4 3 10 3 8 3 4 3 6 3 4 3 2 3 8 3-2 3 9 3 3 3-7 3 3 2-1 3 3 3 16 3 3 3 2 3-7 3 21 3-4 3 4 3-7 3 5 3 10 3 5 3 5 2 3 3 9 3-2 3 4 3-2 3 4 3 6 3-3 3 9 3-6 3 12 3 7 3-2 3 4 2-1 3 3 3 6 3 6 3-5 3 4 3 9 3-5 3 5 3 6 3 3 3 3 3 2 3 2 2 1 3 4 3 1 3-2 3 1 3-2 3 6 3 2 3 2 3 1 3 2 3-1 3 1 3 3 2 8 3 1 3-2 3-1 3 3 3 3 3-1 3 3 3 1 3 0 3 1 3 1 3 2 3 0 2 2 3 2 3 0 3 2 3-1 3 3 3 5 3 2 3-2 3 1 3 1 3 2 3 0 3 2 2 2 3 0 3 1 3-2 3-2 3 3 3 0"/><path transform="translate(1255.3 1589.7)" d="M-750 -239l3 1 3 1 3-2 3-2 3 1 3-1 3 1 3-5 3 4 3-1 3 1 2-5 3 2 3 3 3 2 3 0 3-2 3-1 3-3 3 3 3-2 3-2 3 0M-676 -245l2-5 3 4 3 3M-653 -249l3 0 3-2 3 2 3-1 3 1 3 3 2 3 3-6M-589 -264l3-10 3 11M-545 -291l3-9 3 0 3-1 3-4 3 8M-521 -299l3-13 3 8 3-3 2-7 3 6 3 2 3-10 3 9 3-11 3 9 3 2 3 2 3-1 3 1 3-8 3 6 3 5M-442 -291l3 2 3-7 3 9 3-3 2 3M-401 -291l3-4M-389 -302l2-1 3 17M-375 -301l3-7 3-3 3 4 3 11 3 4 3 0 3-8 3 8 3-12 2 0 3 1 3 8 3-14 3 23 3-7 3-2 3 8 3 7 3-12 3 4 3 1 3 1 3 8 2 13 3-14 3-1 3 11 3 7 3-2 3 14 3 4 3 10 3 2 3 3 3 2 3-6 3 7 2-5 3 5 3 12 3 5 3-3 3 3 3-3 3 5 3 4 3 5 3-2 3 8 3 0 3 11 2 10 3 4 3 9 3-4 3 5 3-2 3-1 3 7 3-2 3 7 3-2 3 7 3 2 3 3 2 3 3 7 3-1 3 3 3 1 3 7 3 4 3 4 3 1 3 1 3 3 3 2 3 1 3 1 2 3 3 3 3-2 3 6 3 1 3-2 3 5 3 1 3 1 3 3 3 0 3 0 3 3 3 3 2 2 3 3 3 0 3-2 3 4 3 2 3 1 3 0 3 1 3 0 3-2 3 3 3 4 3 1 2 3 3 0 3 2 3-1 3 2 3 0 3 3 3 2 3 1 3 1 3 3 3-1 3 0 3 1 2 3 3 3 3-2 3-1 3 0 3 2 3 0"/><path transform="translate(1252.2 1590.4)" d="M-750 -237l3 0 3 4 3 0 3-1 3-3 3-1 3 1 3-3 3-3 3 1 3 1 2-4 3 0 3 6M-697 -240l3-2 3-2 3 2 3 1M-679 -244l3-7 2 4 3 1 3 3M-650 -250l3 1 3 7 3-10 3 4M-594 -255l2-11 3 2 3-4 3 3 3-5M-530 -295l3-7 3-2 3-7 3 9 3-6M-510 -313l3 9 3-12 3 3 3 6 3-13 3 8 3 13 3-14 3-5 3 14 3-3 3-1 3 8 2-3 3-6 3-1 3 2 3 0 3 6 3 7 3-4 3 1 3 9 3-1 3 6M-425 -284l3-16 3 27M-398 -284l3-19 3 17 3-23 2 2 3 17M-366 -303l3-8 3 15 3 14 3-3 3-8 3 1 2 10 3-13 3-7 3-5 3 15 3 0 3 14 3-5 3 7 3-4 3 5 3-8M-307 -279l2 1 3 9 3 2 3 4 3 5 3 2 3 5 3 5 3 2 3-1 3 11 3 9 3-5 3 0 2 3 3-3 3 5 3 18 3-1 3-6 3 7 3 2 3 1 3-4 3 11 3 10 3 0 3 13 2-4 3 7 3 7 3 2 3 0 3 5 3 1 3 7 3-1 3 1 3-1 3 6 3 6 3 7 2 0 3 0 3-2 3 8 3 1 3-1 3 5 3 7 3 1 3 6 3 2 3 4 3-2 3 4 2-2 3 2 3 4 3 1 3-3 3 5 3 3 3 0 3 3 3-1 3 3 3-2 3 5 3 0 2 6 3 0 3 0 3 4 3 3 3-4 3 3 3-1 3 1 3 0 3 2 3 1 3 2 3 4 2 1 3 3 3 0 3 1 3-2 3 4 3 2 3 1 3 4 3-1 3 2 3 1 3-2 3-1 2 7 3-2 3 2 3 2 3-3 3 1 3-2"/><path transform="translate(1249.1 1591.1)" d="M-750 -236l3 0 3 2 3 1M-735 -234l3-1 3-2 3-5 3 4 3-1 3-3 2 2 3 0 3-2 3 1 3 1 3 1M-694 -237l3-3M-682 -242l3-4 3-1 2 3 3-1 3 2 3 0M-647 -246l3-3 3 0 3 1M-633 -249l3 0M-624 -247l3-9 3 7 3-8 3 4 3 2 3-5 3 3M-592 -259l3-4 3 3 3-6 3-4 3 5M-542 -291l3-5M-524 -299l3-6 3 2 3-4 3 5 2-9 3-8 3 15 3 0 3 1M-486 -300l3-1 3-6 3 15 3-13 3 9 2-2 3-5 3-12 3 14 3-3 3 15 3-15 3 3 3 15 3 8 3-15 3 12M-416 -283l3-3M-369 -316l3 16 3-4 3 18 3-2 3-3 3 0 3 0 2-1 3 10M-337 -293l3 2 3-2 3 14 3-7 3 8 3 10 3-7 3 3 3-13 3 6 2-3 3 4 3 11 3 6 3 7 3-2 3 11 3 6 3-2 3 14 3 0 3 7 3 0 3-3 2 2 3-10 3 13 3 3 3 13 3-1 3 5 3-9 3 1 3 9 3 3 3 5 3 10 3 1 2 7 3 1 3 7 3-3 3 5 3 7 3 8M-199 -145l3-5 3 3 3 6 3 6 3-2 2 7 3 2 3-2 3 5 3 0 3 2 3 6 3 1 3 8 3 2 3 6 3 2 3-2 3 3 2-1 3 2 3 1 3 3 3-1 3 0 3 5 3-1 3 3 3-4 3 7 3 3 3-1 3 6 2 0 3 2 3 3 3-1 3-2 3 5 3 0 3 0 3 2 3 2 3-1 3 2 3 1 3 2 2 5 3 0 3 1 3 1 3 3 3 1 3 1 3 0 3 1 3 0 3 3 3 0 3-2 3 2 2 3 3 2 3 2 3-1 3 2 3-2 3 0"/><path transform="translate(1246.0 1591.8)" d="M-750 -236l3 1 3 1M-732 -233l3-2 3-2 3-2 3 1 3-2 2 2 3-2 3 1 3 0 3 0 3-1 3 1 3-1 3-1M-685 -242l3 0 3-2 3 1 2-1 3-3 3 6 3 2M-647 -243l3-11 3 14 3-7 3 1 2-5 3 2 3 3 3-3 3 3 3-9 3 2 3 2M-592 -261l3 1M-510 -296l3-19 3 11 3-2M-474 -294l3-7M-460 -302l3-1 3 0 3-1 3 11 3 2 3-2 3 3 3 9 3-4M-416 -285l3-7 3 11M-401 -294l3 3M-392 -285l3-10 2 1 3-9 3-1 3 5 3 6M-369 -300l3-15 3 19 3 13 3 3M-348 -288l2-2 3 6 3-8 3-5 3-4 3 18 3 1 3 9M-319 -268l3-10 3 6 3 1 3 5 2-9 3 7 3 5 3 10 3-9 3 1 3 23 3 7 3-6 3-3 3 12 3 6 3-1 3 5 2 7 3-12 3 12 3-7 3 9 3 6 3 0 3 1 3 8 3 2 3 0 3 4 3 12 3 2 2 13 3-11 3 10 3-3 3 13 3 2 3 3 3-1 3 2 3-3 3 5 3-1 3 5 3 9 2-1 3 8 3-4 3-1 3 3 3 8 3 3 3 6 3-1 3 2 3 5 3-2 3 2 3 5 2-3 3 4 3 3 3-4 3 7M-123 -87l3-4 3 6 3-1 3 5 3 0 3 0 3 4 2 1 3 3 3 4 3-2 3 3 3-1 3 3 3-1 3 1 3 0 3 1 3 3 3 1 3 4 2-1 3 2 3 2 3 2 3 1 3 2 3 0 3 3 3 1 3-1 3 1 3 1 3 0 3 3 2 0 3 1 3 2 3 0 3 3 3-3 3 1"/><path transform="translate(1242.9 1592.6)" d="M-750 -232l3-3 3-1 3 1 3 0 3 1 3 0 3 0 3-1 3-1 3-1 3 1M-709 -240l3 1 3 0 3-2 3 3 3-2 3 4M-682 -239l3-1 3-3 2 1 3 3 3-4 3 4 3-4 3-1M-650 -244l3-7 3 3 3 1 3 1 3-2 2 4M-627 -247l3-3 3 7 3-5 3-3 3 2M-594 -260l2-1 3-1M-580 -265l3 4M-507 -300l3-9 3 12M-480 -307l3 12M-471 -294l2 1 3-11 3-4 3 8 3-2 3 1 3-1 3 19 3 0 3-2 3 2 3 3 3 0 3-4M-416 -291l3 0 3 5 3 1 3-9 3 2M-387 -289l3-12 3 13 3-11 3 7 3-4 3 7 3-10 3 11 3 3 3-2 3 14 3-16 3 6 2-9 3 3 3 3 3-3 3 0 3 12 3 3 3-1 3-9 3 6 3 7 3-1 3 7 3-1 2 9 3 0 3 7 3-7 3-1 3 18 3-4 3 14 3 0 3 5 3 5 3-7 3 10 3 1 2 2 3-1 3 2 3 4 3-2 3 5 3 12 3-11 3 13 3 0 3 6 3-3 3 10 3 4 2 7 3 2 3 3 3 0 3 7 3 6 3 3 3 0 3 4 3 1 3 3 3-4 3 4 3 4 2 7 3 1 3 3 3 0 3 7 3 3 3 0 3 3 3-3 3 6 3 3 3 3 3 2 3 0 2 0 3 4 3 3 3 2 3 0 3-2 3 0 3 3 3 0 3 7 3 0 3 4 3 1 3 5 2 0 3 1 3 0 3 3 3 0 3 1 3 0 3 2 3-2 3 4 3-2 3 6 3 0 3 0 2 5 3-2 3 3 3 3 3 4 3 0 3 0 3 1 3-1 3 3 3-1 3-2 3 3 3 1 2 3 3 3 3-1 3 1 3 3 3 0 3-3"/><path transform="translate(1239.8 1593.3)" d="M-750 -233l3 1M-741 -235l3-1 3 0 3 3 3-1 3 1 3-3 3-2 3 4M-709 -240l3 1M-697 -240l3-5 3 6 3 1M-682 -241l3-3 3 5 2-6 3 9M-659 -241l3-3 3-5 3-1 3-1 3 3 3 4M-630 -243l3-10 3 4 3 1 3 2 3 3 3-4M-600 -256l3-2M-507 -303l3 4M-460 -295l3 0 3-2 3 6 3 5 3 4 3-6 3 16M-428 -277l3-15 3 7 3-7 3 0 3 2 3 0 3 11M-401 -286l3-11M-392 -291l3-10 2 6 3 4 3-3 3 5 3-10 3 16 3-18 3-1 3 14 3 11 3-7 3 1 3 8 3-4 2-8 3 5 3-9 3 6 3-3 3 1M-325 -278l3 6 3 5 3-1 3-1 3 7 3-4 2 12 3 9 3-10 3 4 3 2 3 0 3-5 3 23 3-1 3 8 3-3 3 5 3 8 3 0 2 7 3-3 3 3 3 8 3-9 3 8 3 6 3-2 3 9 3-2 3 4 3 5 3 5 3 1 2 6 3-1 3 4 3-2 3 7 3 4 3 4 3 8M-196 -141l3 1 3 0 3 3 3 4 2 6 3-3 3 7 3 3 3 1 3 8 3 0 3 3 3 3 3 1 3 6 3-1 3-4 3 2 2 2 3 4 3 2 3 0 3 0 3 5 3-1 3 1 3 0 3 5 3 0 3 3 3 1 3 4 2-1 3 3 3 1 3 1 3 3 3 2 3-2 3 1 3 1 3 3 3 1 3 3 3 1 3 0 2 1 3 1 3 1 3 4 3 2 3 2 3 2 3 1 3-2 3 5 3-6 3 3 3 1 3 0 2 3 3 1 3 3 3 1 3-1 3 0 3 0"/><path transform="translate(1236.7 1594.0)" d="M-750 -230l3-3 3 1 3-2 3-2 3 0 3 1 3-2 3 5 3-1 3 0 3-2M-712 -238l3-3 3 2 3-2 3 1 3 0 3-3 3 2 3 2 3 0 3-5 3 2 3-1 2 4 3 2M-665 -237l3-6 3 1 3 1 3-2 3-3 3 1M-635 -246l2 0 3 1M-559 -275l3-1M-504 -296l3-7M-463 -294l3-3 3-5 3 8M-442 -295l3 13M-425 -286l3 5 3-6 3 3 3-6 3 13 3-2M-395 -294l3-1M-387 -282l3-6 3 5 3-2 3 1 3-1 3-3 3-17 3 20 3 9 3 4 3-12 3 6 3 0 2-2 3-1 3 8 3-5 3 6 3-13 3 1 3-2 3 8 3 8 3 0 3 4 3 10 3 9 2 1M-296 -249l3-1 3 7 3 0 3 0 3 13 3 2 3 9 3-6 3 10 3 1 2 10 3 8 3 1 3-6 3 6 3-1 3 9 3-7 3 8 3 1 3 6 3 2 3-2 3 13 2 0 3 2 3-4 3 3 3 4 3 10 3-2 3 7 3-1 3 3 3 2 3 1 3 8 3 4 2 1 3 7 3 2 3 1 3 2 3 1 3 6 3 6 3-4 3 1 3 6 3 2 3-1 3-1 2 0 3 4 3 5 3-2 3 3 3 1 3 1 3 0 3 4 3 3 3 3 3-1 3 2 3 2 2 3 3-1 3 2 3 3 3 2 3 0 3-2 3 2 3 0 3 1 3 4 3 2 3 3 3-1 2 0 3 1 3 2 3 0 3 7 3 2 3 1 3 4 3-2 3-2 3-2 3 0 3 3 3 0 2 2 3 3 3 2 3 0 3-1 3 2 3 0"/><path transform="translate(1233.7 1594.8)" d="M-750 -229l3-3 3 3 3-2 3-6 3 4 3-4 3 2 3 2 3 1 3 0 3-1 2-3 3-2 3-1 3-1 3 2 3-1 3-2 3 3 3-1 3-3 3 2 3 3 3-4 3 5 2-4 3 2 3 1 3-2 3-1 3 1 3-2 3 0M-647 -244l3-3M-638 -245l3-4 2 1 3 6M-600 -251l3-6 3 3M-477 -321l3 10 3 9 2-1 3 3 3 2 3 4 3 1 3-4 3 9M-430 -280l2 1 3-1 3-5 3 1 3-1 3 11M-398 -276l3-17 3 1 3 2 2-3 3 10 3-1 3-9 3 17 3 2 3-9 3-1 3-5 3 22M-354 -265l3-10 3 1 2 1 3-8 3 14 3-9 3 8 3 5 3-3 3-19 3 18 3-4 3 8 3 11 3 4 3-6 2 7 3 4 3-5 3 2 3-4 3 1 3 14 3-1 3 17 3-4 3-4 3 4 3 2 3 10 2 11 3 2 3-3 3 9 3-5 3 7 3 2 3 1 3-4 3 4 3 5 3-3 3 13 3 0 2 6 3 3 3-2 3 1 3 4 3 4 3 8 3 1 3 4 3 4 3 4 3-5 3 11 3-2 2 2 3 6 3 4 3-2 3 4 3 3 3 1 3 8 3 2 3 3 3 0 3-4 3 6 3-1 2-1 3 8 3 0 3 4 3-2 3 0 3 3 3 1 3 4 3 3 3 1 3 3 3 2 3-3 2 2 3 0 3 4 3-1 3 3 3 0 3 0 3 4 3 1 3 0 3 3 3 3 3 2 3 0 2-3 3 4 3 0 3 3 3 2 3 4 3 1 3 1 3 2 3 0 3-2 3 0 3 1 3 0 2 2 3 2 3-1 3 3 3 0 3 1 3 2"/><path transform="translate(1230.6 1595.5)" d="M-750 -228l3-1 3-2 3 1 3-4 3 0 3-3 3-1 3 3 3 3 3 3 3-2 2-2 3-2 3-1 3 0 3-3 3 2 3-3 3 2 3-3 3 0 3 0 3 4 3-2 3 1 2 1 3-1 3-5 3 6 3-5 3 5 3-4 3 8M-644 -246l3 0M-635 -243l2-6 3 1 3 4M-483 -305l3-3 3-7 3-4 3 9 2 9 3 1 3 3 3-7 3 16M-439 -285l3-7 3 10M-413 -275l3-2 3 8M-398 -285l3 0 3-1 3-3 2 11M-375 -273l3-4 3 2 3-5 3 7 3 2 3 5M-348 -268l2-4 3 1 3-4 3 7 3 0 3 4 3-1 3 9M-319 -266l3 10 3 3 3-3 3 19 2-11 3 6 3-9 3-2 3 11 3 7 3-4 3 9 3-8 3 16 3-6 3 11 3 0 3-2 2 20 3 7 3 2 3 2 3 1 3 0 3-6 3 4 3 2 3-2 3 9 3-2 3 6 3 9 2-1 3 2 3 9 3 0 3 0 3 1 3 12 3-4 3 1 3 7 3 0 3 5 3 3 3 11 2-4 3 4 3-1 3 3 3 4 3 1 3 0 3 4 3 9 3-3 3 7 3 0 3-5 3 6 2-1 3 2 3 3 3 0 3 6 3-1 3 4 3 2 3 3 3 1 3-1 3 2 3 0 3 2 2 2 3-1 3 2 3 5 3-1 3 0 3 2 3 1 3 2 3 2 3 0 3 4 3 2 3 0 2-1 3 2 3 2 3 1 3 3 3 0 3 1 3 4 3 2 3-2 3 1 3 1 3 0 3-2 2 1 3 4 3 1 3 0 3-1 3 3 3 1"/><path transform="translate(1227.5 1596.2)" d="M-750 -229l3 1 3-1 3-1 3 2 3-3 3-3 3 0 3 0 3 0 3 3 3 1 2-2 3-1 3-2 3-4 3 2 3-1 3 4 3-1 3-1 3 0 3-1 3-2 3 3 3 0 2 3 3-6 3 0 3-1 3 1 3 4M-650 -238l3-3 3-5 3 1 3-2 3-3 2 3 3 1M-621 -248l3 1M-480 -308l3 4 3-14 3 9 2 2 3-1 3 10 3 2 3 1 3 4 3 2M-433 -282l3 1M-416 -279l3 1M-407 -267l3-13 3-1 3 4 3-10 3 18 3-19 2 1 3 4 3-11 3 14 3-10 3 18 3 1 3 4M-357 -269l3 6M-348 -263l2-7 3 3 3 0 3 3 3 6 3-2 3 4 3-2 3 0 3-10 3 3 3 10 3 12 3-6 2 3 3 3 3 1 3 10 3 1 3-12 3 8 3 3 3-2 3 8 3 8 3-3 3 16 3-4 2 14 3-4 3 14 3-2 3 1 3-1 3-4 3 3 3-4 3 9 3 1 3 3 3 7 3 1 2 13 3-4 3 8 3-5 3 10 3-4 3 5 3 1 3 3 3 2 3 8 3 5 3 4 3 1 2 1 3 3 3 4 3-1 3 3 3 5 3 1 3 1 3-3 3 10 3-3 3 6 3-1 3 3 2 1 3 2 3 3 3 2 3 0 3-1 3 5 3 1 3 4 3 1 3 0 3 5 3-2 3 2 2-1 3 2 3 1 3 5 3-3 3 4 3 2 3 0 3 0 3 2 3 1 3 1 3 4 3 1 2 1 3-1 3 3 3 3 3-2 3 3 3 2 3 1 3 2 3 1 3 1 3-1 3-2 3 3 2 0 3 1 3 0 3 2 3 1 3 3 3-1"/><path transform="translate(1224.4 1596.9)" d="M-750 -226l3-1 3 1 3-2 3-2 3 2 3-4M-720 -231l3-2 2 1 3 0 3 0 3-1 3-2 3 3 3-3 3-1 3 0 3-1 3 1 3 2 3-5 3 5 2 2 3-4 3 5 3-9 3 5M-644 -241l3-3 3-3 3 1 2 3 3-3 3 2M-477 -307l3 2 3-11 2 13 3 5 3-9 3 17 3 2 3 9 3-18 3 9M-439 -291l3 0 3 3M-413 -272l3-7 3 7 3 4 3-8 3 7M-392 -269l3-3 2-6 3 6 3-9 3 0 3 0 3 4 3-3 3 11 3 2 3 3 3-10 3 5 3 7M-340 -272l3 8 3-3 3 7 3 2 3 5M-310 -254l3 0 2 11 3-1 3-1 3 24 3-11 3 7 3-6 3 0 3 4M-275 -225l3 0 3 5 3 15 2 2 3 10 3-3 3 11 3-3 3 3 3 4 3-3 3 1 3 4 3 7 3 0 3 7 3 6 2-6 3 7 3 6 3 3 3 2 3-2 3-2 3 12 3-2 3 5 3 2 3 2 3 4 3 5 2 1 3 4 3-1 3 8 3-2 3 1 3-1 3 4 3 5 3-2 3 3 3 6 3 0 3 1 2 6 3 1 3 0 3 5 3 1 3 1 3-1 3 4M-114 -76l3-1 3 0 3 3 3 1 2 2 3 1 3 2 3 1 3 0 3 3 3 3 3 1 3 0 3 1 3 2 3 1 3 1 3 2 2-2 3 3 3 1 3 2 3 0 3 3 3 0 3 3 3 2 3 3 3 0 3 0 3 1 3-1 2 2 3-3 3 3 3 2 3 2 3 0 3 1"/><path transform="translate(1221.3 1597.7)" d="M-750 -227l3 1 3-2 3 2 3 0 3-2 3-1M-720 -235l3 0 2 3 3 1 3 0 3 4M-700 -231l3-4 3 1M-688 -234l3-1 3-1M-674 -233l3-5 3 5 3-2M-647 -237l3-4 3 0 3 2 3-6 2 1 3 2M-618 -245l3-5M-483 -307l3 2 3-1 3-4 3 8 2-7 3 11 3 1 3-1M-448 -283l3-5 3-5 3 1 3-5 3 11 3-8 2 8 3 4M-401 -275l3 3 3-4 3-1 3-5 2 24M-381 -270l3-14 3 13 3 0 3 1 3 0 3 5 3-6 3 0 3 5 3-2M-343 -265l3 0 3-2 3 8 3-7 3 7 3 6 3-6 3 3 3-4 3-3 3 6 3 3 2 5 3 16 3 0 3 10M-290 -222l3-10 3 5 3 1 3-2 3 0 3 2 3 4 3 13 2 0 3 8 3 9 3 2 3-2 3 11 3-8 3 11 3 3 3 3 3 4 3 2 3-1 3 4M-220 -155l3-6 3 14 3-1 3 1 3 2 3 2 3 8 3 2 3 5 3 0 3 2 3 1 2 7 3 2 3 1 3 4 3-2 3 1 3 4 3 0 3 1 3 4 3 2 3 4 3 5 3-4 2 2 3 5 3 3 3 0 3 2 3 4M-120 -79l3-1 3 0 3 3 3 0 3 3 3 0 2 4 3-1 3 3 3 2 3 2 3 0 3 3 3 3 3-1 3 0 3 4 3-1 3 0 3 2 2-1 3 5 3 0 3 1 3 3 3 0 3 0 3 2 3 1 3 4 3 0 3 2 3 1 3-1 2 1 3 1 3 1 3 0 3 1 3 0 3 1"/><path transform="translate(1218.2 1598.4)" d="M-750 -227l3-1 3 2 3-1 3-1 3 3 3-2 3-2 3-4 3-3 3 1 3-3 2 3 3 7 3-1 3-2 3 2 3-6 3 2 3-2 3 1 3-6 3 4 3 1 3-3 3 1 2 1 3 2 3 3 3-3M-641 -240l3 0 3 1 2-5 3 5M-615 -248l3 0M-489 -309l3-2 3 9 3-6 3 6 3 1M-439 -289l3-4 3 6M-413 -282l3 5 3-3 3 10 3-14 3 8 3 11 3-9 3 8 2-3M-378 -269l3 0 3-2M-363 -269l3 8 3-1 3-4 3-5 3 4M-343 -266l3-6 3 11 3-4 3 4 3 5 3 4 3 3 3-2 3-8 3 6 3 5 3-5 2 14 3 4 3 16M-293 -230l3 2 3 0 3 6 3-9 3 12 3-6 3 5 3 4 3 2 2 3 3 8 3 10 3 1 3 9 3-1 3-2 3 9 3-7 3 17 3-4 3 1 3 5 3 1 2 1 3-3 3 7 3 7 3 0 3 3 3 6 3 1 3-1 3 9 3 8 3 0 3 5 3 0 2 4 3 1 3-3 3 5 3 5 3 1 3 1 3 3 3 4 3-3 3 1 3 4 3 3 3 3 2-3 3 4 3 3 3 5 3-3 3 2 3 3 3 1 3-1 3 5 3 1 3-1 3 3 3-1 2 5 3 0 3 4 3 0 3 2 3 1 3 1 3 3 3-3 3 3 3-3 3 5 3 0 3 3 2-1 3 3 3 2 3 0 3 0 3 3 3 2 3 1 3 1 3 1 3 2 3 2 3 1 3 3 2-2 3 1 3 2 3-2 3 0 3 3 3 1"/><path transform="translate(1215.1 1599.1)" d="M-738 -226l3-2 3 1 3 0 3-2 3-1M-717 -232l2-2 3 1 3 1 3 2 3 2 3-2 3-3 3-1 3 0 3-1 3 2 3-1 3-2 3-1 2 0 3 4 3-2M-659 -233l3-7 3-1M-647 -237l3-3 3 3M-612 -246l3-4 3 0M-533 -288l3 8M-436 -289l3 0M-419 -274l3-14 3 2 3 1 3 7 3-4 3 14 3-3 3 2M-378 -266l3-14 3 18M-366 -273l3 4M-357 -263l3-3M-348 -259l2-7 3-2 3-10 3 13 3 0 3 1 3 16M-322 -241l3-7 3-1 3-2 3 13 3-2 2 6 3 5 3 8M-290 -228l3-1 3 5 3-2 3 10 3-3 3 8 3-1 3 12 2-5 3 13 3-6 3 11 3-1 3-1 3 3 3 9 3-3 3-1 3 14 3 0 3-2 3 4 2-7 3 14 3 4 3-2 3 9 3-3 3 9 3-3 3 7 3 4 3-2 3 10 3 2 3 2 2 3 3-4 3 0 3 10 3-3 3 7 3 5 3-2 3 3 3 3 3 0 3 1 3 2 3 4 2 0 3 4 3-2 3 4 3 3 3 2 3-3 3 2 3 0 3 5 3 0 3 1 3 3 3 4 2-1 3 4 3 0 3 1 3 3 3-1 3 1 3 3 3 1 3 1 3-1 3 2 3 3 3-1 2 0 3 1 3 3 3 3 3 0 3 2 3 2 3 1 3 1 3 0 3 0 3 4 3 0 3 4 2 3 3-3 3 1 3 0 3 0 3 0 3 2"/><path transform="translate(1212.0 1599.8)" d="M-750 -226l3 1 3-4 3 1 3 1 3 0 3 0 3 1 3-3 3-1 3 0M-715 -234l3 2 3 0M-703 -231l3 4 3-3 3-2M-688 -234l3 0 3-1 3-3 3 2 2 1 3 0 3-1 3 6M-653 -237l3-4 3 0 3 2 3 1 3-3M-609 -247l3-1 3-3 3 3M-489 -306l3-1 3-10 3 23M-460 -304l3 12M-439 -293l3 5M-419 -283l3 1 3 4 3-4M-404 -280l3 13 3-4 3 5M-378 -274l3 0 3 1 3 9 3-10 3 0 3 20 3-19 3 10 3-1 3 1 2 1 3-2 3 3 3-2 3-1 3-1 3 28 3-10 3-2 3-1 3 8 3-7 3-2 3 6 2 7 3 12M-290 -219l3-13 3 9 3-2 3 3 3 6 3 6 3 5 3 2 2 8 3 6 3 0 3 6 3 1 3-5 3 12 3-1 3 1 3 5 3-2 3 3 3 4 3-1 2-1 3 7 3 1 3 5 3 3 3 7 3 1 3 2 3 6 3 3 3 4 3 4 3 2 3 2 2 4 3-2 3 0 3 5 3 3 3 2 3 2 3 4 3 0 3 2 3 7 3 0 3-2 3 3 2 1 3 2 3 0 3 3 3 5 3-4 3 4 3-1 3 2 3 2 3 2 3 2 3 1 3 3 2 5 3-3 3 3 3 0 3 2 3 0 3 4 3 5 3-6 3 3 3-1 3 2 3 0 3 2 2 2 3 4 3 0 3 0 3 2 3 0 3 0 3 4 3 2 3 0 3 1 3 0 3 4 3 3 2 2 3 0 3-1 3 0 3 0 3 0 3 3"/><path transform="translate(1208.9 1600.5)" d="M-750 -226l3 1 3-2 3 0 3-1 3 2 3-1 3 4 3-2 3-4 3 0 3 0 2-2 3-4 3 3 3-1 3 2 3 0 3 5M-685 -232l3-2 3-2 3 0 2 1M-653 -236l3-4 3 0 3-2 3 4M-609 -248l3-4 3 6 3-8 3 8M-586 -246l3-6M-486 -309l3 7 3 0M-466 -298l3-5 3 7 3 0 3 0M-439 -295l3 3 3 5 3 0M-401 -278l3 8 3-6 3 16 3-16 2 5 3 2 3 1 3 1 3-6 3 1 3 0 3 16 3-11 3 10 3-12 3 10 3-1M-343 -264l3 6 3-3 3 4 3 5 3-1 3 15 3-10 3 4 3-1 3 5 3 0 3 7 2 1 3 6M-293 -227l3 1 3-1 3 5 3 1 3 2 3 3 3 10 3 6 3 3 2 9 3-4 3 6 3 3 3 0 3 4 3 1 3 7M-237 -169l3-4 3 3 3 1 3 1 2 5 3 1 3 12 3-2 3 4 3 4 3 4 3-1 3 11 3 0 3 3 3 5 3 0 3 1 2 2 3 1 3 8 3 0 3 3 3 2 3 3 3 1 3 7 3-3 3 4 3 1 3 1 3-1 2 2 3 4 3-2 3 3 3 2 3-1 3 1 3 3 3 4 3-2 3 3 3 3 3-1 3 6 2 0 3 2 3-2 3 1 3 4 3 0 3 5 3-2 3 3 3 0 3 0 3 0 3 2 3 1 2 2 3-2 3 4 3 3 3 0 3 3 3 0 3 3 3-1 3 2 3-1 3 3 3 0 3 2 2 3 3 3 3-3 3 1 3 1 3 1 3 1"/><path transform="translate(1205.8 1601.3)" d="M-750 -225l3 0 3-1 3 0 3 1 3-3 3 0 3 2 3 0 3-1 3 1 3-2 2-1 3-5 3 3 3-2 3 0M-676 -231l2-5 3 3M-659 -230l3-8 3 2 3-3 3 1 3-1 3 1 3-1 3 2M-630 -241l3-1M-621 -237l3-9 3 2 3-3 3 1 3-1 3-4 3 2M-480 -298l3 0M-430 -281l2-13 3 14M-404 -274l3-11 3 11 3 4 3 5 3-1 2-10 3 10 3 3 3-13 3 12 3-4 3 2 3 0 3-3 3 20M-348 -258l2-7 3 0 3 1 3 8 3-2 3 9 3-6 3 7 3 14 3-8 3 5 3 0 3 4 3 4 2 5M-293 -224l3-4 3 5 3 1 3 0 3 1 3 13 3 2 3 0 3 9 2-6 3 3 3 13 3-6 3 4 3 12M-243 -170l3-1 3-4 3 7 3 0 3 3 3 0 2 8 3 6 3-2 3 4 3 5 3 9 3 1 3-1 3 5 3 3 3 3 3 0 3-2 3 7 2 2 3 2 3 4 3-2 3 5 3 2 3 4 3 2 3-1 3 3 3 7 3-3 3 4 3-2 2 3 3 2 3 4 3 1 3-2 3 0 3 2 3 1 3 4 3 1 3 0 3 4 3 4 3 1 2 1 3-1 3-2 3 3 3 5 3-2 3 3 3 3M-73 -56l3-1 3 4 3-1 3 0 2 3 3 4 3-2 3 3 3 1 3 1 3 3 3 1 3 0 3 0 3 1 3 2 3 1 3-1 2 4 3 2 3 1 3 1 3 0 3 0 3 2"/><path transform="translate(1202.8 1602.0)" d="M-750 -225l3 0M-741 -225l3-1 3 0 3-2 3 2 3 1 3 0 3-2 3 0 2-1 3-4 3 0 3 0 3-2 3 0 3 1M-682 -233l3-3 3 5M-659 -235l3-1 3 4 3-3 3 1 3-2 3-4 3-1 3 5 2-4M-627 -241l3-3 3 0M-474 -293l3-20 2 5 3 10M-404 -273l3-5 3 6 3-5 3 9 3 2 2-2 3 3 3 5 3-6 3 7 3-7 3-8 3 12 3 2 3 1 3-2 3 5 3-11 3 18M-343 -254l3 1 3-13 3 11 3-2 3 5 3 12 3-1 3 2 3 4 3 2 3 2 3 1 2-1 3 5 3-7 3 10 3-1 3-4 3 3 3-1 3 6 3 6 3 1 3 1 3 5 3 4 2 8 3 4 3-7 3 9 3 6 3 4 3 5 3-4 3 5 3 6 3-1 3 5 3-6 3 1 2 14 3 2 3 9 3-5 3 11 3-3 3 6 3 0 3 4 3 1 3 1 3 4 3-1 3 6 2-2 3 7 3 5 3-3 3 8 3-1 3 1 3 3 3 4 3 2 3-3 3 6 3 0 3 4 2 1 3 1 3 1 3 3 3 0 3 0 3 1 3 2 3 1 3 1 3 3 3-2 3 5 3 2 2 2 3 1 3 1 3 0 3 5 3-3 3 4 3 0 3 1 3-1 3 2 3 1 3 3 3 1 2 0 3 2 3 3 3 0 3 2 3 3 3 1 3 0 3-1 3 2 3 0 3 1 3 2 3 2 2 0 3 3 3 2 3 1 3 1 3 2 3-1"/><path transform="translate(1199.7 1602.7)" d="M-750 -224l3-1 3-1 3 1 3 0 3 1 3 0 3 0M-720 -225l3 0M-712 -225l3-4 3 1 3-4 3-1 3 0M-685 -229l3-6 3 1M-662 -235l3-2M-653 -233l3-3 3 5M-641 -235l3-6 3 3 2-1 3 2M-565 -257l3-4M-471 -293l2-14 3 7M-407 -287l3 6 3 2 3 4 3 3 3 7 3-13M-372 -253l3-15 3 3 3 0 3 12M-354 -260l3 1M-340 -250l3 4 3-7 3 8 3-5 3 7 3 3 3 4 3 0 3 14 3-10 3 4M-302 -221l3-4 3 1 3-3 3-2 3 11 3-1 3 7 3-4 3 5 3 5 3 3 3-3 2 17 3 0 3-3 3 1 3 5 3 9 3-2 3 5 3 7 3-5 3 4 3 9 3-3 3 2 2 2 3 12 3-4 3 9 3 2 3 2 3 3 3 2 3-2 3 7 3-1 3 3 3 2 3 5 2 3 3 4 3 4 3-3 3 3 3 4 3-2 3 3 3 3 3 2 3 0 3 3 3 1 3 0 2 4 3 4 3 1 3-1 3 6 3-3 3 1 3 3 3 3 3-1 3 1 3 1 3 1 3 3 2 1 3 4 3-1 3 1 3 0 3 2 3 0 3 4 3 2 3 1 3-2 3 2 3 4 3-1 2 2 3 2 3 0 3 2 3 1 3 2 3 3 3 0 3 0 3-1 3 1 3 2 3 1 3 1 2 3 3 2 3 0 3 3 3 1 3 2 3 0"/><path transform="translate(1196.6 1603.5)" d="M-750 -224l3 1 3-1 3 0 3 0 3 2 3 0 3-2M-723 -224l3-4 3 3 2-1 3-2 3 0 3 2 3-4 3 1M-679 -232l3-2M-671 -234l3-2M-662 -237l3 1M-647 -236l3 4 3-8 3 4 3 0M-621 -244l3 3M-466 -301l3-3 3 6M-407 -293l3 3 3 18 3-8 3 10 3 7M-378 -265l3 12M-369 -260l3 0M-360 -260l3-2 3 3 3 0 3 2 2 0 3-3 3-1 3 10 3 4 3-2 3 7 3-3 3 11 3-11 3 9M-299 -220l3-3 3 4 3-5 3 15 3-1 3 4 3-2 3 3 3-2 3 1 3 13 2-3 3 7 3-2 3 3 3 4 3 8 3-6 3 10 3 1 3-2 3 4 3 1 3 9 3-1 2 7 3 5 3 5 3 2 3 0 3 5 3 1 3 2 3 2 3 0 3 7 3 1 3 1 3 3 2 6 3 0 3 4 3 1 3 6 3-1 3 3 3-2 3 6 3-5 3 3 3 1 3 6 3 2 2 3 3 3 3 2 3 0 3-1 3 4 3 1 3-2 3 4 3 0 3 1 3 0 3 2 3 3 2 5 3-3 3 1 3 0 3 2 3 3 3-2 3 3 3 4 3 1 3 0 3-1 3 1 3 3 2 0 3-1 3 2 3 2 3 2 3 1 3 3 3 1 3 1 3 0 3 0 3 1 3 2 3 3 2-1 3 1 3 3 3 2 3 3 3 2 3 0"/><path transform="translate(1193.5 1604.2)" d="M-750 -224l3-1 3 1 3-2 3 4 3 0 3 0 3 0 3-3M-717 -225l2 0 3-1 3 1 3 2 3-6 3-1 3-1M-685 -229l3-4 3 0 3 1M-671 -232l3-4 3 1 3-1 3 0 3 3M-647 -233l3-2 3-1M-618 -243l3 2M-580 -256l3-4 3 11M-471 -307l2 1 3 8 3-3M-404 -297l3 13 3 6 3 9 3 4 3-1 2-6M-369 -265l3 7 3-2 3 3M-351 -261l3 2 2 5 3-5 3 3 3 3 3 3 3 2 3 1 3 3 3 6 3-5 3-7 3 16M-307 -226l2 0 3-5 3 3 3-1 3 14 3-10 3 17M-281 -204l3 1 3-1 3 1 3 16 3-7 2-2 3 5 3 9 3 1 3 4 3 1 3 8 3-6 3 2 3 2 3 3 3 8 3-1 3 10 2 1 3 0 3 8 3 1 3 2 3 0 3 4 3 3 3 5 3 4 3-1 3-1 3 4 3 1 2 3 3 9 3-6 3 3 3 7 3 0 3 4 3-1 3 3 3 1 3 0 3 3 3 1 3 4 2 2 3 5 3-1 3 3 3-2 3 2 3 2 3 1 3 1 3 1 3-1 3-1 3 5 3 2 2 1 3 2 3 0 3 2 3 0 3 1 3 4 3 0 3 2 3-1 3 4 3-1 3 0 3 1 2-1 3 3 3 2 3 2 3-1 3 2 3 2 3 3 3 1 3 0 3 1 3 3 3-1 3 2 2 2 3 1 3 2 3 2 3 1 3 2 3 1"/><path transform="translate(1190.4 1604.9)" d="M-744 -223l3-3 3 3 3 1 3 0 3 1 3-2 3-2 3-2 3-1 2 0 3 5 3-3 3 2 3-3 3 0M-688 -232l3-2 3-1 3 7 3-2 2-3 3-2 3-3 3 6M-644 -235l3 0 3 2 3-4 2-1 3 5M-618 -238l3-9 3 9M-586 -249l3-6 3-1 3 7M-483 -294l3-9 3 2 3-18 3 3 2 8 3 14 3-6 3 3M-430 -300l2-5 3 16M-416 -287l3-6 3 1 3 0 3-1 3-2 3 26M-392 -271l3 7 2-3M-369 -254l3-16 3 16M-343 -261l3 7 3 5 3 0 3-4 3 27 3-15 3 7 3-4 3 0 3-14 3 22 3-7 2 22M-299 -220l3-13 3 14 3 10M-281 -203l3-4 3 7 3-2 3 3 3 13 2-4 3 3 3 3 3 4 3-2 3 7 3 3 3 7 3-6 3-1 3 8 3 4 3-1 3 8 2 4 3 1 3 13 3-6 3 5 3 5 3 0 3-1 3 5 3 2 3-1 3 1 3 5 3 1 2 5 3 2 3 3 3 1 3 6 3 0 3 0 3 2 3 1 3 4 3 1 3 1 3 2 3 2 2 4 3 2 3 3 3 0 3 1 3 0 3 1 3 1 3 3 3 2 3-2 3 1 3 3 3 3 2 0 3-1 3 5 3-1 3 2 3 0 3 3 3 1 3 2 3 1 3 0 3 2 3-2 3 0 2 2 3 1 3 2 3 0 3 2 3 0 3 4 3 1 3 1 3 2 3 4 3-3 3 2 3 3 2 0 3 0 3 2 3 2 3 2 3 2 3 1"/><path transform="translate(1187.3 1605.6)" d="M-750 -222l3-2 3 0 3-1 3 1 3-1 3 2 3 0 3 3 3-2 3-3 3 0 2-1 3 2M-688 -236l3-1 3 4 3 2 3 4 2-3 3-3 3 0 3-2 3 4M-641 -235l3-1 3-2 2 3 3 0 3-5 3 0 3 3M-615 -246l3 5M-586 -251l3-2 3 2 3 1M-477 -301l3-14 3 11M-451 -301l3-5M-425 -299l3 5M-407 -294l3 3 3-6 3 15M-387 -262l3-7M-351 -260l3 1M-343 -257l3-5 3 5 3-3 3 20M-319 -233l3-10 3 8 3 2 3 6 2 5 3-12 3 14 3-10 3 8 3 4 3 2 3-5 3 10 3 3 3 5 3 2 3 6 3 2 2 4 3-1 3 8 3 1 3 9 3 4 3-5 3 0 3 6 3 1 3 6 3 1 3 7 3-5 2 7 3 7 3 1 3 1 3 6 3 1 3-2 3 7M-196 -120l3-5 3 3 3 5 3-2 2 4 3 5 3 1 3 1 3 4 3 1 3 3 3-1 3 5 3 0 3-1 3 3 3 0 3 5 2 0 3 7 3 0 3 4 3-2 3 3 3-1 3 3 3 1 3 0 3 0 3 2 3 4 3 1 2 2 3 1 3 0 3 2 3-1 3 5 3-2 3 2 3 3 3 1 3 1 3 0 3 1 3 0 2 0 3 2 3-1 3 0 3 4 3 2 3 0 3 3 3 2 3 2 3 1 3 2 3-1 3 1 2 0 3 2 3 2 3 1 3 2 3 2 3 1"/><path transform="translate(1184.2 1606.3)" d="M-750 -222l3-2 3 1 3-3 3 3 3-2 3 0 3 3 3 0 3 1 3-1 3-2 2-2 3 0M-688 -233l3-3 3 0 3 4 3 4 2-3 3 3 3-5M-644 -235l3-5 3 2 3 3 2 0 3 1 3-1 3 3M-589 -249l3-10 3 6 3 5 3-3M-428 -297l3-9 3 8M-410 -292l3 2 3-1 3 0 3 5 3 9 3-5 3 0 2 10 3 12M-348 -254l2-6 3-9 3 11 3 6 3 9 3-7 3 7M-319 -244l3 5 3 4M-293 -224l3 10 3 6 3-3 3-2 3 8 3 4 3-4 3 9 3 4 2-1 3 6 3 7 3 2 3 2 3 6 3 5 3 0 3-2 3 17 3-6 3 2 3 1 3-2 2-1 3 13 3-1 3 4 3 2 3 5 3-2 3 3 3 2 3 0 3 5 3 4 3 2 3 1 2 7 3 0 3 4 3 1 3 1 3 0 3 4 3 0 3 5 3 1 3-2 3 6 3 1 3 3 2 2 3 2 3-1 3 0 3 5 3-1 3 5 3 1 3 1 3-3 3 2 3 3 3 0 3 5 2 0 3 2 3 2 3 0 3 0 3 3 3-2 3 5 3 2 3-1 3 1 3 1 3 0 3 2 2 0 3 3 3-2 3 2 3 2 3 0 3 2 3 2 3 0 3 2 3 4 3 2 3-1 3 1 2-1 3 2 3 1 3 2 3 1 3 2 3 1"/><path transform="translate(1181.1 1607.1)" d="M-750 -223l3 1 3-2 3-1 3 2M-732 -225l3 3 3 0 3 2 3-2 3-1 2-3 3 2 3-2 3-1 3 1M-685 -232l3-5 3 1 3 6 2 1 3-3 3 5M-644 -238l3-2 3 5 3-2 2 1 3 2 3 0M-589 -250l3-1 3 2M-551 -265l3 3M-518 -278l3 0 3 4M-451 -300l3-7 3 10M-419 -298l3 6M-407 -295l3 10M-392 -280l3-4M-372 -267l3-9 3 18M-360 -260l3-5 3 2 3 6 3-5 2 0 3 10 3-6 3 3 3 19 3-7M-319 -241l3-3 3 5 3 6M-305 -229l3-4 3 7 3 0 3-2 3 0 3 21 3-8 3 10 3-7 3 0 3 14 3-4 3 12 2 4 3 4 3 7 3 2 3 1 3 4 3 3 3-1 3 10 3 0 3 0 3 1 3 3 3-3 2 2 3 5 3 6 3 4 3-3 3 7 3-2 3 1 3 5 3 0 3 4 3 7 3 2 3 0 2 1 3 5 3 0 3 6 3 1 3 0 3 1 3 3 3 4 3 2 3-3 3 4 3 3 3 0 2 4 3 3 3-1 3 6 3-2 3 4 3 1 3 3 3-1 3-2 3 0 3 3 3 2 3 3 2 1 3 1 3 4 3 1 3-1 3 3 3-2 3 4 3 2 3 0 3 0 3 0 3 1 3 2 2 2 3-1 3 3 3-1 3 1 3 2 3 1 3 0 3 3 3 2 3 1 3 3 3 1 3 1 2 0 3 0 3 2 3 2 3 0 3 1 3 3"/><path transform="translate(1178.0 1607.8)" d="M-750 -222l3 0 3 0 3 0 3 0 3 0 3-3 3 0 3 0 3 3 3-1 3 1 2-1 3 0 3-2 3-3 3 1 3 0M-691 -230l3 1 3-7 3 3 3 0 3-1 2 5 3-2 3 4M-647 -234l3-3 3 1 3-1 3 2 2-2 3 4 3-2M-489 -292l3-17 3 7M-428 -309l3 8M-410 -294l3-9 3 7 3 13M-392 -280l3-3 2 7M-366 -267l3 1 3-4 3 8 3-1 3-2 3 0 2 11 3 2M-337 -254l3 10 3 6 3-4 3-4 3 3 3-3 3 1 3 9 3 6M-305 -231l3-1 3 5 3-3 3 1 3 11 3 2 3 1 3 1 3 5 3 5 3-4 3 17 3-3 2 5 3 8 3 3 3 2 3 3 3 2 3 9 3 6 3-6 3 6 3 4M-228 -157l3 2 2 6 3 0 3 4 3 1 3 10 3-6 3 12 3-1 3 2 3 2 3 0 3 6 3 3 3-1 2 8 3-3 3 7 3-2 3 1 3 4 3 2 3-1 3 4 3 1 3 3 3 1 3 3 3 3 2 3 3 0 3 0 3 2 3 3 3 3 3 1 3 0 3 0 3 0 3 0 3 2 3 2 3 3 2 2 3-1 3 2 3 3 3 3 3 0 3 2 3-1 3 2 3 0 3 2 3 0 3 1 3 0 2 4 3 0 3 0 3-1 3 3 3 1 3 1 3 2 3 0 3 5 3-2 3 2 3 2 3 2 2 1 3 0 3 1 3 1 3 1 3 1 3 3"/><path transform="translate(1174.9 1608.5)" d="M-750 -221l3-1 3 0 3 1 3 0 3-1 3-1 3-2 3 0 3 1 3 2 3 0 2 2 3-1 3-2 3 0 3-3 3 0M-685 -229l3-5 3 1 3-1 2 0 3 6 3 1 3-2M-638 -238l3 5 2-1 3-3 3 3M-609 -241l3-3 3-2 3 9M-548 -252l3-17M-489 -298l3-4 3 6M-451 -298l3-10 3 9M-430 -300l2-4 3-2 3 1M-410 -295l3-2 3 10 3-3 3 2M-389 -278l2-4 3 9 3-5 3 11M-372 -261l3-15 3 7M-360 -268l3-9 3 16 3 5 3-7 2 7 3 7 3-3 3 0 3-3 3 14 3 0 3 1 3-9 3 11 3-7 3 12 3 1 3 4 2-3 3-11 3 16 3 1 3 8 3-4 3 5 3-2 3 5 3 6 3-4 3 15 3-3 3 8 2 6 3 5 3 5 3 4 3-1 3 5 3-3 3 12M-234 -151l3-3 3 2 3-4 2 4 3 4 3-1 3 3 3 11 3-4 3 4 3 1 3 3 3 7 3 2 3 2 3 3 3 3 2 2 3 1 3 5 3 3 3-2 3 3 3 1 3 4 3 0 3 2 3 0 3 3 3 5 3 3 2 0 3 2 3 4 3 1 3-2 3 3 3 1 3 2 3 0 3 0 3 3 3 0 3 1 3 1 2 3 3 2 3 0 3 4 3 0 3 3 3-1 3 1 3 0 3 2 3 0 3-1 3 3 3 1 2 1 3 2 3 0 3 3 3-1 3 2 3-2 3 5 3 0 3 1 3 3 3-1 3 1 3 2 2 2 3 2 3-1 3 2 3 2 3 1 3 1"/><path transform="translate(1171.8 1609.2)" d="M-750 -221l3 0 3 0 3 0M-723 -222l3-4 3 1 2 5 3 0 3-1 3-1 3-3 3 0 3-2 3 1 3-2 3-2 3 0 3 3 3-2 3-2M-650 -235l3-3 3 2M-609 -241l3 0 3-2 3-1 3 2M-548 -257l3-4M-527 -272l3-6 3 5M-489 -293l3-6 3 11M-451 -300l3-8 3 15M-419 -301l3-5 3 1 3 8 3 1 3 2 3 6 3-4 3 5 3-4 3 5 2-1 3 14 3-5 3-13 3 29M-366 -261l3-15 3 12 3-5 3 3 3 10 3-3 2 2 3 4 3 7 3-5 3 16 3-2 3-12 3 7 3 2 3-1 3 10M-305 -221l3-10 3 7 3 5 3 4 3-2 3 5 3 4 3-5 3 11 3 0 3 8 3-5 3 14 2-4 3 6 3 10 3-4 3 7 3 0 3 5 3 3 3 2M-231 -156l3 3 3 0 2 5 3 3 3-2 3 4 3 8 3-2 3 2 3 0 3 4 3 7 3 3 3-1 3 5 3 4 2 2 3 1 3 2 3 3 3 3 3-5 3 13 3 0 3 0 3 1 3 0 3 1 3 4 3 5 2 0 3 1 3 5 3-1 3 0 3 2 3 1 3 2 3 0 3 3 3 0 3-1 3 2 3 6 2-4 3 1 3 2 3 3 3 2 3 3 3-1 3-1 3 2 3 2 3 3 3-2 3 1 3 2 2 2 3 1 3 0 3 0 3-1 3 3 3-1 3 3 3 2 3 2 3 0 3-1 3 1 3 3 2 2 3 5 3-2 3 0 3 2 3 1 3 1"/><path transform="translate(1168.8 1610.0)" d="M-750 -222l3 2 3-2 3 1 3 0 3-2 3 1 3 0 3-2 3 0 3-1 3 1 2 2 3 4 3-2 3 0 3-1 3-3 3 1M-691 -226l3-5 3 3 3 0 3-4 3 7M-668 -232l3-1 3 4 3 1 3-4M-644 -237l3-2M-615 -232l3-6 3 1 3-2 3-4M-524 -272l3-6M-495 -285l3-6M-486 -292l3-2 3 5 3-10M-471 -304l2-7M-451 -307l3-1M-436 -301l3-8 3 3M-419 -314l3 8 3 7M-407 -302l3 6 3 3M-395 -285l3-1 3 0M-384 -276l3 3 3 2M-369 -267l3-2 3 14 3-2 3-9M-351 -257l3-3 2 15M-337 -246l3-4 3 12M-319 -240l3 6 3-1 3 3 3 0 2-4 3 9M-296 -227l3 12 3 3 3 4 3-2 3 9 3 0 3 3 3 3 3 3 3 9 2-6 3 9 3 0 3 5 3 4 3 4 3-1 3 3M-231 -159l3 0 3 6 2 3 3 1 3 5 3 0 3 3 3 3 3 0 3 6 3 3 3 6 3 2 3 4 3 0 3 3 2 4 3 1 3 4 3-2 3 1 3 6 3 1 3 4 3 1 3 1 3 0 3 1 3 3 3 3 2 1 3 6 3 0 3 0 3 2 3 3 3 1 3-2 3 6 3-2 3 1 3 1 3 2 3 1 2 2 3-2 3 4 3 2 3 0 3 1 3 0 3 3 3-1 3 0 3 4 3-1 3 2 3 2 2 0 3 2 3 1 3 1 3 1 3 0 3 0 3 1 3 1 3 3 3 0 3 3 3 1 3 0 2 2 3 2 3 0 3 3 3 1 3 0 3 2"/><path transform="translate(1165.7 1610.7)" d="M-750 -220l3 0 3-1 3-2 3 2 3 0 3 0 3 1 3-2 3 1 3-2 3 0 2 2 3 0 3 3 3-1 3 0 3-2M-694 -226l3-1 3-2 3 0 3 2 3 2 3-2 2-3 3-1 3-3 3-1 3 4M-635 -235l2-3 3-2 3 3M-612 -236l3 0M-577 -245l3-9 3 7M-518 -276l3 0M-471 -301l2-1 3-13 3 0 3 1 3 13M-442 -299l3-7 3 4 3 0 3 1 2-1 3-13 3 8 3 8 3-15 3 20M-398 -287l3-4M-360 -264l3 10M-348 -252l2 0 3-2 3 5 3-1M-316 -240l3 5 3 0 3 4 2 3M-299 -225l3 0 3-5 3 12 3 14 3-9 3 5 3 3 3 7 3 2 3-2 3 9 2 10M-255 -178l3 6 3 1 3 4 3 9 3-10 3 6 3 2 3-1 3 2 3 9 2 5 3-4 3 4 3 3 3 2 3 4 3 1 3 3 3 7 3-1 3 6 3 3 3 0 3 7 2-7 3 11 3-2 3 0 3 1 3 8 3 3 3 0 3 1 3 3 3 0 3 1 3 0 3 3 2 2 3 5 3 0 3 1 3 2 3 2 3 3 3 0 3 4 3 0 3 2 3-2 3 3 3 1 2 0 3 1 3-1 3 7 3-1 3 3 3-1 3 0 3-1 3 2 3 3 3-2 3 5 3-2 2 3 3 0 3 2 3 1 3 0 3 2 3 1 3 0 3 1 3 1 3 4 3 0 3 1 3 0 2 3 3-1 3 1 3 4 3 2 3-1 3 1"/><path transform="translate(1162.6 1611.4)" d="M-744 -221l3-2 3 0 3 2 3 1 3 0 3-1 3 0 3-1 3-1 2 1 3 3M-703 -219l3 1 3-2 3-4 3-4 3 1 3 1 3 0 3-1M-668 -231l3-6 3 5 3 1M-647 -235l3-7 3 2 3 1 3 3 2-4 3 3 3 2 3-3 3 4 3-6M-477 -284l3-13 3 1 2-13 3 23M-425 -306l3 9 3-15 3 9 3 12M-395 -287l3 1M-378 -276l3 1 3 2 3 3 3-2 3 3 3 1M-354 -253l3-17 3 9 2-1 3 10 3-3 3-4 3 19 3-10 3 7 3-2 3-7 3 9 3 0 3 1 3 6 3 5 2 2 3-1 3 11 3-10 3 11 3 4 3 11M-281 -201l3-2 3 1 3 4 3 3 3 6 2 2 3 5M-255 -182l3-2 3 17 3 1 3-3 3 4 3 4 3-2 3 3 3-2 3 9 2 1 3 5 3 2 3 9 3-1 3 4 3-2 3 6 3 3 3-1 3 6 3 3 3 0 3 3 2-1 3 6 3 0 3 3 3 2 3 6 3 5 3-1 3 4M-152 -90l3 0 3-3 3 6 2 3 3 2 3 1 3 4 3 0 3-1 3 4 3 1 3 1 3 3 3 2 3-2 3 3 3 2 2 0 3 0 3 0 3 2 3 2 3 2 3 1 3 1 3-1 3 0 3 1 3 2 3 1 3 2 2 2 3 0 3 1 3 1 3 2 3-1 3 2 3 2 3-1 3 0 3 4 3 1 3 1 3 2 2 2 3-1 3 1 3 2 3 1 3 3 3 0"/><path transform="translate(1159.5 1612.1)" d="M-744 -221l3-1 3 0 3 0 3 1 3 4M-723 -218l3-1 3-1 2-1 3 0 3 0 3 1 3 1 3-1 3 2M-688 -225l3-2 3 1 3 1 3 0 2-3 3 2 3-2M-653 -233l3 3 3-2 3-4 3 0 3-4 3 1 2-2 3 5 3-3 3 4 3-3 3 0M-612 -239l3 2 3-1M-413 -300l3 10M-401 -291l3-12 3 15 3-6 3 17M-372 -274l3-1 3 3M-360 -267l3-1 3 1 3 11 3-3 2 7 3 4 3 3 3-13 3 8 3-2 3-1 3 12 3-5 3-1 3 0 3 4 3 20 3-11 2 1 3 6 3-6 3 6 3 8 3 8M-278 -204l3 1 3 11 3-9 3 16 2-2 3 5 3-3 3 1 3 1 3 7 3 4 3 5 3 8 3 0 3 0 3 3 3 1 3 6 2 2 3 1 3 8 3 0 3-2 3 5 3 2 3 5 3 5 3 1 3-1 3 3 3 4 3-3 2 8 3 0 3 1 3 4 3 4 3 2 3 2 3 2 3 0 3 5 3-1 3 1 3 1 3 2 2 3 3 2 3 2 3 1 3 1 3 3 3 4 3-1 3 2 3 2 3 0 3 2 3 2 3 0 2 3 3 0 3 1 3 2 3 1 3-1 3 1 3 1 3 1 3 1 3 1 3 1 3 2 3 3 2-3 3 1 3 5 3 0 3-1 3 1 3 2 3-1 3 0 3 4 3-2 3 1 3 3 3 3 2 0 3 2 3 1 3-1 3 2 3 2 3 2"/><path transform="translate(1156.4 1612.9)" d="M-750 -222l3 1 3-1 3 0 3 0 3 1 3-1 3 1 3 3M-712 -221l3 1 3-2 3 2 3 0 3 1 3-1 3-2 3-2 3-4 3 3 3 0 3 0 2 1 3 0 3-2 3-3M-647 -231l3-1 3-2 3-4 3 1 2-1 3-1 3 3M-621 -237l3 0 3-3 3 1 3-2 3 4M-592 -243l3 1M-542 -258l3-7M-510 -275l3 0M-404 -293l3-11 3 0 3 7 3 10 3 2 2 5M-360 -265l3-6 3 5 3 1 3 9 2 5 3 1M-337 -246l3-3 3-1 3 17 3-5 3 1 3-9 3 5 3 4 3 0 3 4 2 7 3 5M-293 -214l3-1 3 6M-275 -203l3 1 3-2 3 14 2 5 3-2 3 5 3-1 3 3 3 0 3 13 3-2 3 6 3 3 3 2 3 6 3-5 3 12 2-1 3 3 3 6 3-2 3 0 3 5 3 4 3 2 3 2 3 4 3 3 3-5 3 8 3 0 2 0 3 6 3 0 3 7 3-2 3 4 3 2 3 1 3 5 3-3 3 3 3 2 3 4 3 0 2 3 3 2 3 1 3 1 3 0 3 4 3 1 3 1 3 0 3 2 3 4 3 3 3 2 3 0 2-3 3 4 3 2 3-3 3 2 3 3 3 0 3 3 3 0 3 2 3-1 3 1 3 2 3 3 2-1 3 0 3 4 3 1 3-1 3 0 3 2 3 0 3 1 3 1 3-1 3 1 3 1 3 4 2 2 3 1 3 0 3 0 3 2 3 3 3 0"/><path transform="translate(1153.3 1613.6)" d="M-750 -222l3-1 3 1 3-1 3 0 3 2 3 2 3-2 3 2 3-1 3 1 3 1 2-2 3-1M-703 -221l3 0 3 3 3-1M-682 -226l3 2 3 0 2 2 3-2 3-1 3 1M-647 -230l3-3 3 1 3-2 3 0 2 1 3-2 3-1 3-2 3 1 3 5 3-7 3 1M-521 -271l3 1M-507 -271l3-6M-471 -296l2 4M-445 -305l3-8 3 8 3-2 3-5 3 9M-413 -298l3-5M-404 -289l3-15 3 13 3-6 3 9M-360 -275l3 8 3 1 3-3 3 15 2 0 3-1 3 11 3-1 3-4 3 3 3 3 3 4 3 10 3-18 3 15 3 1 3 3 3 2 2 4 3-7 3 13 3-7 3 3M-287 -209l3-2M-278 -208l3 1 3 0 3 14 3 5 2 2 3 1 3 12 3-10 3 5 3 5 3 3 3 2 3 5 3 5 3 4 3 12 3-8 3 4 2 3 3 5 3-3 3 3 3 0 3 5 3-1 3 4 3 4 3 6 3-3 3 6 3 0 3 0 2 5 3 1 3 4 3 4 3 0 3 2 3 5 3-1 3 2 3 2 3-1 3 0 3 3 3 7 2 0 3 1 3 2 3-1 3 3 3-1 3 4 3 3 3 0 3 5 3 1 3 1 3 1 3 1 2 1 3 2 3-1 3 1 3 0 3 2 3 0 3 4 3 0 3 2 3 2 3 2 3-2 3 2 2-2 3 1 3 2 3 4 3-2 3 2 3 0 3 1 3 1 3 2 3 0 3 1 3 0 3 2 2 2 3 2 3 2 3 1 3-2 3 2 3 3"/><path transform="translate(1150.2 1614.3)" d="M-750 -222l3-1 3 0 3 1 3 1 3 2 3 1 3-2 3-1 3 0 3 1 3 2 2-4 3 2 3-2 3 0 3 2 3-2 3-1 3 2 3 2M-674 -222l3 0M-644 -235l3 2 3 2M-624 -235l3-2M-521 -263l3-7 3 1 3-3M-442 -306l3 3 3-6 3-8 3 15 2-7 3 6 3-5 3 4M-401 -293l3-3 3 4 3-1M-357 -262l3-7 3 4M-346 -254l3 2 3 8 3 0 3-13 3 17 3-7 3 8M-319 -228l3-9 3 6 3 9M-305 -220l3 4M-296 -213l3-8 3 4M-284 -210l3 2 3-7 3 8 3 4 3 13 3 5 2-3 3 5 3 5 3-4 3 4 3 1 3 2 3 6 3 8 3 8 3 4 3-2 3 4 3 5 2 3 3 0 3 8 3-5 3 1 3 2 3-2 3 6 3 4 3 2 3-1 3 3 3 2 3 5 2 0 3-1 3 5 3 4 3 4 3 5 3-3 3 0 3 3 3 2 3 1 3 4 3 3 3 4 2-1 3 3 3 0 3 0 3 0 3 4 3 4 3-1 3 3 3 1 3 2 3 2 3 1 3 0 2 3 3 0 3 0 3 1 3 3 3 1 3 0 3 2 3 2 3-1 3 2 3 0 3 0 3 3 2-1 3 2 3 1 3 0 3 2 3 0 3 4 3 1 3-1 3 1 3 0 3 2 3-3 3 1 2 2 3 3 3 2 3 4 3-2 3 3 3 1"/><path transform="translate(1147.1 1615.0)" d="M-747 -223l3-1 3 1 3 2 3 2 3 1 3-1 3 1 3 0 3-3 3 2M-706 -223l3 2 3-1 3 0 3 0 3 2M-674 -223l3-4 3 6M-656 -228l3-7 3-1 3 3 3-1 3-3 3 4 3 1M-612 -233l3-5 3-3 3 5 3-2M-530 -261l3-7 3 9 3-5 3-2 3 2M-474 -292l3-2M-442 -306l3-3M-422 -305l3 2M-387 -290l3-3 3 15M-363 -283l3 6M-346 -250l3-9 3 6 3 9 3 6 3-10 3 20M-307 -224l2-1 3 3 3 7 3-4 3-8 3 16 3-7 3-2 3 6 3 10 3-6 3-2 3 14 3 3 2 10 3 7 3 0 3-3 3-1 3 10 3-6 3 9 3 6 3 7M-231 -151l3 4 3 3 2-2 3 8 3 6M-211 -134l3-3 3 2 3 6 3 1 3 7 3 0 3 3 3-2 3 6 2 0 3 1 3 5 3 0 3 5 3 3 3-1 3 0 3 4 3 1 3 4 3 1 3 2 3 4 2 2 3 1 3 0 3 2 3-1 3 2 3 1 3 5 3 1 3 2 3 2 3 2 3 2 3-1 2 1 3 0 3 4 3 2 3-3 3 3M-76 -56l3 1 3 1 3 2 3 0 3 1 2 1 3 3 3 1 3 0 3 2 3 0 3 0 3 1 3 1 3 1 3 1 3 4 3 0 3-3 2 1 3-1 3 5 3 2 3 2 3 2 3-1"/><path transform="translate(1144.0 1615.8)" d="M-750 -225l3 0 3 0 3 3 3 1 3 0 3 2 3 1 3 0 3-2 3-1 3 0 2 2 3-3 3 1 3 0 3-3 3 3 3-3 3 3M-671 -224l3-2 3 3 3-2 3 2 3-2 3-6 3-1 3-4 3-2 3 6M-565 -253l3-5 3 3 3-1M-527 -259l3-8 3 6 3 1 3-5 3 5M-480 -283l3 1 3-10 3 3 2 0 3-9M-395 -293l3-4M-381 -287l3 2 3 2M-340 -248l3-3 3 4 3-2 3 11 3 2 3 5 3-13 3 10 3 4 3-3 3 7M-302 -218l3 1 3-7 3 11 3-5 3 6 3 0 3 8 3-3 3-1 3 6 3 1 3 13 2 0 3 6 3 0 3 5 3 1 3 4 3-5 3 10 3 0 3 6 3 7 3-5 3 8 3 4 2 4 3 3 3 5 3 0 3 0 3 0 3 4 3-3 3 6 3 2 3 5 3 0 3 3 3 5 2-1 3 2 3 5 3 0 3 5 3 0 3 2 3 6 3 1 3-1 3 4 3-1 3 4 3-1 2 4 3 1 3 0 3 3 3 0 3 2 3 2 3 1 3 0 3 5 3 3 3-1 3 4 3-2 2-1 3 5 3-1 3 3 3 4 3-1 3-2 3 1 3-1 3 2 3 3 3 0 3 3 3-1 2 4 3-5 3 7 3 0 3-1 3 1 3 2 3 0 3 2 3 1 3 2 3 2 3 1 3 0 2 2 3-2 3-1 3 5 3 1 3 2 3 1"/><path transform="translate(1140.9 1616.5)" d="M-750 -224l3-1 3 2M-738 -222l3 2 3 2 3 0 3-1 3 3 3-3 3-1 2-1 3 0 3 0 3-1 3 1 3-1 3 0 3 2 3-1 3-1 3-1 3 3 3-2 3-3 2 0M-668 -223l3-2 3 2 3 1 3-4 3 0 3 0 3-4 3-4 3 0 3 1M-562 -253l3-4 3 1 3 3M-530 -262l3-9 3 17 3-9 3-4 3 7 3-1M-480 -283l3-1 3 4 3-14 2 11 3-8 3-2M-387 -299l3 16M-363 -293l3-1 3 7 3 23 3-15 3 3 2 7 3 10 3-8 3 17 3 3 3 12M-316 -238l3-5 3 10 3 2 2 6 3-6 3 20 3-5 3-2 3-1 3 4 3-3 3 10 3 2 3 6 3 9 3-3 3 3 2 5 3-1 3 2 3 6 3 8 3 1 3 5 3-2 3 4 3 2 3 2 3 11 3-5 3 5 2 3M-217 -134l3-2 3 1 3 3 3-4 3 8 3 1 3 1 3 2 3 4 3 3 3 8 2 0 3-3 3 6 3-2 3 8 3 4 3 3 3-1 3-1 3 3 3 0 3 1 3 4 3 0 2 3 3 1 3 5 3-4 3 4 3 0 3 1 3 4 3 1 3 3 3 3 3 0 3 1 3 2 2-2 3 1 3 3 3 1 3 1 3 0 3 2 3-2 3 0 3 3 3 1 3 2 3 2 3 3 2 0 3 0 3 0 3 1 3 2 3 0 3 0 3 0 3 1 3 3 3 1 3 2 3 2 3 0 2 1 3-2 3 1 3 1 3 4 3 1 3 2"/><path transform="translate(1137.8 1617.2)" d="M-741 -222l3 0 3 1 3 1 3 0 3 2 3-1 3 2 3-2 2-2 3-1 3 0 3 2 3-3 3 3 3-2 3 0 3 0 3-1 3 2 3-4 3 4 3-3 2 0 3-3 3-3 3 3 3 4 3 0 3-2 3 1 3-4 3 1 3-1 3-6 3-2 3 4M-606 -240l3-5 3 8 3-3M-527 -263l3 0M-477 -288l3 7 3-3M-463 -287l3-10M-451 -297l3-8M-430 -304l2-3M-401 -310l3 11M-384 -287l3-11 3 3M-369 -285l3-14 3 11 3-2 3-2 3 12 3 0 3 9 2 5 3 6 3-5 3 7 3 16 3-4 3 10M-319 -232l3-13 3 11 3 1 3 5 2 4 3-3 3 11 3-9 3 8 3 0 3 6 3 3 3 11 3 2 3 3 3 3 3-1 3 4 2 8 3-1 3 3 3-2 3 5 3 1 3 4 3 3 3 6 3-3 3 3 3 15 3-10 3 10 2 1 3 0 3 0 3 7 3 2 3 3 3-3 3 5 3 5 3 4 3-3 3 4 3 1 3 4 2 7 3-1 3 2 3 5 3-2 3 7 3-3 3 5 3 1 3 2 3-1 3 1 3 5 3 1 2 2 3 2 3 0 3-1 3 3 3 1 3 0 3 4 3 1 3 2 3 2 3 4 3 1 3-2 2 3 3 1 3 2 3 0 3 0 3 1 3 1 3 0 3 0 3 2 3 1 3 3 3 3 3-1 2 2 3 2 3 2 3-3 3 1 3-1 3 2 3 0 3 1 3 4 3 1 3 0 3 2 3 0 2 3 3-1 3 2 3-4 3 2 3 5 3 1"/><path transform="translate(1134.8 1618.0)" d="M-750 -227l3 2 3-2 3 3 3-1 3 2 3 0 3 4 3-1 3 2 3 1 3-1 2 0 3-2 3 0 3-2 3 2 3 1 3-1 3 0 3 0 3-2 3 2 3-3 3 3 3 1 2-3 3-2 3-1 3 0 3 1 3 4 3-5 3 1 3 3M-641 -229l3-2 3-3M-609 -237l3-3 3 2M-594 -233l2-10 3 3M-551 -256l3-2 3 2M-536 -251l3-13 3 8 3-6 3 0 3-3M-507 -255l3-14 3 7M-477 -286l3-4 3 9 2-2 3-4 3-6 3 6M-430 -301l2-8 3 5M-395 -300l3-4 3-3M-375 -294l3 5M-363 -293l3 1 3 1 3 18 3-7 3 8 2 14 3 1 3 0M-328 -243l3-1 3 3M-316 -238l3 3 3-4 3 10 2 4 3 5 3-8 3 11 3 3 3 1 3 16 3-1 3-4 3 12 3 1 3 5 3 0 3 0 2 3 3 3 3 1 3 1 3 8 3-6 3 6 3 3 3 4 3 7 3 3 3 2 3 1 3 0 2 0 3 6 3-1 3 7 3 1 3 4 3 2 3 6 3-2 3 0 3-1 3 5 3 3 3 7 2 1 3 3 3 5 3-1 3 2 3 2 3 1 3 1 3 5 3 2 3 1 3 3 3 2 3 0 2 1 3 0 3 2 3 2 3 1 3 1 3 3 3 2 3 1 3-2 3 4 3 5 3-2 3 4 2 0 3 1 3 1 3 1 3 1 3-1 3-1 3 1 3 3 3-1 3 2 3 4 3-1 3 2 2 0 3 4 3-1 3 1 3 2 3-1 3-2 3 4 3 0 3 0 3 2 3 2 3 1 3 3 2 1 3 0 3 0 3 2 3-2 3 1 3 3"/><path transform="translate(1131.7 1618.7)" d="M-750 -227l3 0 3 1 3-2 3 2 3 1 3 2 3 0 3 3 3 0 3 2 3-1 2 2 3 1 3-2 3-1 3 0 3 1 3 1 3 0 3 0 3-2 3 1 3-3 3 0 3 0 2-3 3 5 3-3 3-1M-659 -219l3-5 3 1 3-1 3 2M-641 -226l3-3M-609 -240l3 2 3 3 3-6 3-3 3 10 2-5 3 0M-536 -258l3-1 3 4 3-5 3 0M-507 -265l3 5 3-1M-480 -280l3-6 3 0 3 2 2 0M-442 -302l3 3M-404 -295l3-18 3 3 3 7 3 6M-378 -295l3 6M-366 -284l3-4 3-5 3 21M-351 -275l3 11 2 1 3 7 3 1 3-3 3-2 3 4 3 12 3 3 3 4 3-6 3 2 3 3 3 13 3-2 2 7 3-8 3 2 3 12 3 0 3 7 3 10 3-2 3 3M-269 -192l3 7 2 4 3 4 3 4 3 2M-249 -171l3 3 3 1 3 4 3 7 3 6 3 0 3 6 3-2 2 8 3-1 3 4 3-5 3 6 3 4 3 2 3 1 3 0 3 2 3 1 3 7 3-2 3 2 2 5 3 10 3-3 3 1 3 4 3 1 3 0 3 1 3 2 3 3 3 2 3 7 3-3 3 4 2 2 3-2 3 4 3 0 3 3 3-1 3 3 3 2 3-3 3 5 3 0 3 2 3 4 3 2 2-1 3 5 3-4 3 1 3 2 3-1 3 1 3 2 3 3 3-3 3 4 3 1 3 0 3 2 2 1 3 2 3 1 3-1 3 3 3-1 3-1 3 2 3 0 3 1 3 3 3 0 3-1 3 3 2 2 3 1 3 3 3 2 3-2 3 0 3 3"/><path transform="translate(1128.6 1619.4)" d="M-750 -227l3 0 3 1 3 0 3-2 3 2 3 1 3 1 3 2 3 4 3 0 3 1 2 1 3 1 3-1 3 1 3-2 3-2 3 3 3-1 3 2 3-2 3 0 3 0 3-7 3 3 2 0 3-1 3 3 3-3 3 3M-653 -222l3-1 3 3M-641 -223l3-6 3 3M-603 -237l3-3 3 1M-592 -238l3-2 3 0 3-1M-545 -253l3-1 3 1 3-7 3 3M-527 -259l3 1 3-3 3 2M-512 -266l2 7 3-5 3-3 3 6M-483 -286l3 14M-474 -279l3-4M-410 -309l3 0 3-2 3 11 3 0 3-8 3 10 3-7 2 3M-378 -297l3-3 3 13 3 8 3-12 3 3 3 7 3 0 3 11 3-8 3 3 2 15 3 8 3 3 3-6 3-1 3 6 3 5 3-2 3 0 3 14 3 0 3 2 3 0 3 4 2-1 3 5 3-1 3 8 3-1 3 13 3 3M-281 -195l3 4 3-8 3 9 3 10 3-10 2 2 3 8 3 7 3 6M-249 -171l3 1 3 2 3-1 3 8 3 2 3 9 3 5 3 2 2 2 3 4 3-3 3 3 3 0 3 6 3 1 3 2 3 2 3 2 3 1 3 2 3 2 3 3 2 2 3 1 3 5 3 7 3 0 3-1 3 4 3 1 3 1 3 3 3 3 3 4 3 0 3 3 2 0 3 3 3-3 3 3 3 1 3 3 3 4 3-1 3 2 3 0 3 3 3 1 3 2 3 1 2 0 3 2 3-1 3 2 3 0 3 1 3 2 3 1 3 1 3 2 3-1 3 4 3 0 3 1 2 3 3-2 3 2 3 3 3 0 3-2 3 1 3-1 3 3 3 1 3 1 3 2 3-2 3 0 2 5 3 2 3 3 3 2 3-1 3 1 3 1"/><path transform="translate(1125.5 1620.1)" d="M-750 -228l3 0 3 3 3 0 3-2 3 0 3 2 3 0 3 4 3 0 3 1 3 1 2 2 3 1 3 1 3-1 3 3 3-3 3 1 3 0 3-2 3 0 3 0 3 0 3-1M-671 -218l3-3 3 2M-659 -222l3-4 3 5 3-2 3 4M-635 -226l2-3 3-3 3-4 3 0M-615 -237l3-1 3-2M-603 -239l3-4 3 8 3-5 2-1 3 2 3 1M-559 -247l3-8 3 5M-548 -253l3-4 3 0 3 3 3 0M-530 -254l3-8M-518 -256l3-7 3 0 2-1 3 7M-501 -257l3-9 3 12 3-11 3-8 3-10 3 2 3-4 3 7 3-11 3 8M-439 -295l3-3 3-4M-410 -310l3-8 3 16M-398 -306l3 11 3-2M-387 -306l3 13 3-17 3 9M-372 -294l3 1 3 0 3 9 3 3 3 6 3 5 3 0 3 3 2 6 3 9 3-3 3 0 3 5 3 0 3-1 3 13 3 6 3-8 3 3 3 5 3 11 3-2 2 7 3-8 3 11 3-1 3 7M-275 -190l3 2 3 3 3-2 2 8 3-2 3 7 3 4 3 4 3-5 3-5 3 10 3-3 3 16 3-2 3 0 3 7 3 6 2 2M-217 -135l3 1 3 9 3-1 3-3 3-1 3 7 3 0 3 2 3-5 3 8 3 0 2 4 3 4 3 5 3-2 3 6 3 0 3 1 3 2 3 1 3 6 3 2 3-1 3 5 3 3 2-3 3 2 3 2 3 5 3-1 3 2 3-1 3 2 3 4 3 0 3 3 3 0 3 2 3 0 2 3 3 0 3 2 3 1 3 0 3-2 3 4 3 2 3 2 3 1 3-2 3 4 3 1 3-1 2 1 3 1 3 1 3 1 3 0 3 2 3-1 3 0 3 3 3-1 3 2 3-1 3 2 3 0 2 3 3 2 3 4 3 0 3 1 3 1 3-2"/><path transform="translate(1122.4 1620.8)" d="M-750 -229l3 0 3 2 3 2 3 0 3-3 3 1 3 4 3 1 3 1 3 0 3 2 2 4 3-1 3 1 3 2 3 0 3-5 3 3 3-2 3-1 3 1 3-1 3 3 3-3 3 2 2-1 3-6 3 1 3 3 3 0 3 1 3-2 3-2 3-3 3 4 3-1 3 0M-635 -225l2-1M-615 -238l3 1 3 0M-600 -240l3 1 3 1 2 4 3-7 3 1 3 2 3 0M-556 -250l3-3M-548 -247l3-11 3 7 3-3 3 5M-477 -270l3-10 3-1 2-2 3 5M-442 -306l3 10 3-1 3 4 3-8 2-8 3-2 3 0 3-6 3 12M-410 -311l3-6 3 6 3 1 3 13M-387 -294l3-8 3 8 3 1 3-4 3 0 3 5 3-1 3 8 3 12M-343 -253l3-4M-331 -247l3 2 3 3 3-3 3 16M-302 -221l3 5 3 8M-281 -204l3 2M-272 -192l3 7 3 1 2-2 3 10 3 5 3-1 3 0 3 6 3-8 3 8 3 0 3 10 3-1 3 10 3 1 3 2 2 5 3-2 3 2 3 4 3 5 3 7 3-5 3 7 3-4 3 3 3-2 3 6 3 0 3 1 2 5 3 0 3 4 3 5 3 0 3 2 3 3 3 1 3 2 3 2 3-1 3 6 3 3 3 4 2-2 3 0 3 2 3 3 3 3 3 1 3-1 3 2 3 2 3 0 3 2 3 1 3 2 3 1 2 1 3 1 3 2 3 0 3 0 3 2 3 0 3 6 3-2 3 3 3 0 3 1 3-1 3 3 2 0 3 1 3 1 3 0 3 3 3 0 3-2 3-1 3 4 3 0 3 1 3 1 3 0 3 1 2 1 3 6 3 2 3 0 3 1 3 0 3-1"/><path transform="translate(1119.3 1621.6)" d="M-750 -228l3 0 3 1 3 2 3 0 3 2 3-1 3 0 3 0 3-1 3 4 3 2 2 2 3 0 3 0 3 2 3 0 3 0 3-3 3 2 3-1 3 0 3 0 3 4M-668 -219l3-4 3 5 3 0M-653 -220l3-3 3 3 3-2 3 1 3 2 3-6 2-2 3 1M-615 -239l3-1 3 5 3-3 3-3 3 0 3-2 3 4 2-1 3 1 3-1 3-1 3 3 3 1M-562 -242l3-10 3 0 3 1 2 1 3-3 3-3 3 5 3 6M-521 -261l3-1 3 3M-492 -259l3-3 3-10 3 11M-474 -272l3-3M-442 -285l3-19 3 2 3 16 3-13 2-3 3 2 3 1 3-3 3 3 3 4 3-11 3-4 3-1 3 8 3 2 3 0M-384 -301l3 13 3-9 3-8 3 10M-366 -281l3-5M-331 -252l3 1 3 6 3 4 3 6M-310 -230l3-5 2 4 3 7 3 3 3 9M-281 -200l3-8 3 7 3 0 3 10 3 4 2 5 3 4 3-2 3 9 3 4 3-4 3 3 3 6 3-1 3 8 3 4 3 7M-225 -144l2 0 3 4 3 3 3-2 3 9 3 3 3 4 3 1 3-1 3 4 3-3 3 2 3 3 3 7 2 0 3-1 3 4 3-1 3 4 3 3 3 3 3-1 3 3 3 2 3 1 3 1 3 6 3 2 2 1 3 3 3 1 3 1 3 0 3 5 3-2 3 2 3 0 3 3 3 0 3 3 3 3 3 1 2 1 3 0 3 1 3 1 3 2 3-1 3 3 3 0 3 2 3 2 3-1 3 2 3-1 3 3 2-1 3 4M-47 -47l3 0 3 3 3 0 3 2 3 2 3-1 3 0 3 0 3 3 2 2 3 0 3 4 3 1 3 2 3 0 3-1"/><path transform="translate(1116.2 1622.3)" d="M-750 -233l3 5 3 0 3 2 3 1 3 1 3 3 3-1 3-3 3 2 3 0 3 1 2 2 3 2 3 2M-703 -215l3-1 3 1 3-2 3 2 3-4 3 3 3 3 3-3 3 0M-671 -220l3-2 3 0 3 1 3 2 3 1 3-4 3 0 3 0M-635 -222l2-1 3 0M-621 -227l3-9 3-2 3-1 3 1 3 2 3-2 3 1 3 0 3 2 2 0 3-1M-583 -236l3-2 3-2M-565 -241l3-9 3 4 3 0 3-8 2 4 3-3 3 1 3 3 3 2M-527 -255l3-3M-518 -262l3 8 3-6 2-3M-492 -262l3-2 3 5M-466 -275l3-6M-445 -290l3-4 3 0 3 10 3-16 3 15 2-7 3-7 3-2 3 11 3-15 3 10 3-7 3 4 3-4 3 8M-395 -296l3-8 3-10 2 29 3-12 3-9 3 15 3-15 3 19 3-6 3 1 3 17 3-10 3 4M-331 -253l3-2 3 8 3 3 3 3 3 11M-305 -222l3-7 3 8 3 7 3 18M-278 -198l3-7 3 3 3 14 3-6 2 11 3 1 3 7 3 8 3 0 3 2 3-4 3 3 3 8 3 1 3 4 3 11M-223 -143l3 3 3 5 3 0 3 4 3 3 3 3 3 0 3 4 3 3 3-2 3 3 3 2 3 2 2 0 3 4 3 0 3-1 3 5 3 4 3 3 3 2 3-2 3 3 3 1 3 4 3 3 3 3 2 2 3-2 3 3 3 0 3 4 3-1 3 4 3-1 3 6 3-3 3 2 3 2 3 2 3 4 2 1 3 0 3-1 3 0 3 2 3 1 3 4 3-3 3 1 3 3 3 1 3 3 3 0 3 1 2 3 3-1 3 2 3-3 3 1 3-1 3 3 3 1 3 3 3 1 3 0 3-1 3 1 3 0 2 4 3 1 3 0 3 3 3 0 3 0 3 1"/><path transform="translate(1113.1 1623.0)" d="M-750 -229l3-2 3 4 3 0 3 1 3 3 3 2 3-2 3 0 3-2 3 0 3 3 2 1 3 3 3 2 3-1 3-1M-694 -215l3-2 3 0 3 1 3 1 3 0M-671 -218l3-2 3-1 3 0 3-1 3 2 3 2 3-1 3-1 3-3 3-2 3 4 3-1 2-2 3 4 3-5 3-1 3-2 3-6 3 3M-609 -238l3 2 3-2 3-1 3 1 3 8 2-1 3-7 3 3 3-5M-568 -232l3-14 3-2 3 3 3 0 3 1 2-3 3 1 3-1 3 3 3-1 3 1M-521 -254l3-11 3 3 3 5 2 1 3-2 3-5 3 7 3 6 3-15 3-1 3 15M-483 -262l3-6 3 1 3-5M-439 -282l3-6 3 10M-428 -282l3-13 3-1 3-3 3 11 3-1 3 9M-404 -284l3-7M-389 -299l2 3 3-8 3 11 3 0 3 2 3-3M-340 -270l3 8M-325 -240l3-2 3 0 3 5 3-1 3 4 3-3 2 5 3 11 3-6 3 9 3 7M-284 -204l3-7 3 3 3 3 3 3 3 12 3 3 2 6 3 0 3 8 3-2 3 10 3-2 3 4 3 1 3 3 3 1 3 12M-225 -141l2-6 3 4 3 6 3-1 3 6 3 1 3 0 3 10 3-3 3 3 3-2 3 6 3 1 3 3 2 3 3 3 3 0 3-4 3 8 3-1 3 3 3 4 3-1 3 3 3 1 3 2 3 6 3 0 2 1 3 3 3 1 3 1 3 4 3 2 3 0 3-1 3 2 3 4 3 1 3-1 3 5 3 1 2 2 3 1 3-3 3 4 3 0 3 3 3-2 3 1 3 3 3-1 3 2 3 3 3-1 3 2 2-1 3 4 3-2 3 0 3 2 3-1 3 2 3 0 3 5 3-1 3 1 3 0 3 1 3 1 2 0 3 1 3 3 3 1 3-1 3 1 3 2"/><path transform="translate(1110.0 1623.8)" d="M-750 -232l3 3 3 1 3 2 3 1 3 1 3-1 3 4 3-1 3-1 3-1 3 0 2 2 3 2 3 1M-703 -216l3-3 3 2 3 1 3 2 3-2 3 0 3-1 3 3 3-2 2-2 3 0 3-1 3-1 3-2 3-1 3 3 3 2 3-2 3 3 3-6 3 3 3-2 3-1 2 2 3-2M-621 -226l3-6 3 1 3-1 3-7 3-1 3 4 3 2 3 5M-583 -230l3-12 3 4M-562 -240l3-5 3 4 3 1 2-2 3-5 3 4 3 3M-527 -250l3-3M-498 -259l3-4M-480 -255l3-12 3 12M-463 -268l3-18 3 12 3-4 3-15 3 6 3-2 3 1 3-1 3 0 3 4M-428 -288l3-3 3 7 3 3 3-18 3 22 3-7 3-4 3 6M-389 -295l2-9 3 12 3-8 3 14M-343 -272l3-1 3 7 3-4M-307 -227l2-12 3 7 3 9 3 9 3 5M-278 -205l3 0 3 1 3 9 3 5 2 8 3 7 3 0 3 4M-249 -165l3 0 3 4 3 6 3 0 3-2 3 12 3-4 3-1 2 6 3 5 3-3 3 9 3-3 3 7 3-3 3 5 3 5 3 0 3 1 3 3 3 4 3 2 2-3 3 2 3 5 3 4 3 3 3 1 3 1 3-1 3 2 3 2 3 4 3 3 3 1 3 2 2 0 3 2 3 1 3 2 3 2 3 2 3 1 3 4 3-2 3 3 3 3 3 0 3 4 3 1 2 3 3 1 3-3 3 0 3 2 3 2 3 0 3 2 3 1 3 1 3 0 3 2 3-1 3 4 2 0 3 1 3 1 3-3 3 3 3 0 3 3 3 1 3 2 3 1 3 0 3 0 3 1 3 0 2-1 3 2 3 1 3 1 3 3 3 1 3 1"/><path transform="translate(1106.9 1624.5)" d="M-750 -232l3 2 3 0 3 5 3 0 3 3 3-1 3 1 3-1 3 0 3 1 3-2 2 3 3-1 3 2 3-1 3-2 3 6 3-1 3 3 3-1 3 0 3 1 3-3 3 2 3 1 2-1 3 1 3-2 3-4 3 2 3-3 3 4M-650 -220l3 0M-641 -223l3 0 3 1M-630 -221l3 1M-621 -223l3-4 3 3 3-3 3-4 3 1 3-2 3 2 3 2M-562 -240l3 0 3-5 3 3 2 5 3-7 3 4 3-5 3 4M-521 -253l3-9 3 3 3 0 2 1 3-3 3 4 3-5 3 3 3 0 3 6 3-8 3 7 3-13 3 12 3-9 3 6M-463 -282l3 7 3-6 3 6 3-10 3 10 3-9 3-6 3 3 3 1 3-4 3 7 2-2 3-9 3 14 3-2 3 2M-401 -285l3-1M-375 -291l3 5 3-6 3-3 3 7 3-11 3 13 3 11M-331 -251l3-22 3 15M-319 -248l3 8 3 5M-305 -227l3-3 3 0 3 3 3 18 3 3 3-8 3 9 3-4 3-3 3 5 3 10 3 4 3-1 2 4 3 8 3 5 3 5 3 5 3-6 3 4 3 4 3 6 3 6 3-4 3 2 3 5 3 2 2 7 3-2 3 5 3 3 3 3 3-1 3 4 3 0 3 4 3 5 3 2 3 1 3-3 3 8 2-2 3 8 3 0 3 5 3 0 3-2 3 5 3 0 3 0 3 4 3 1 3 2 3-1 3 2 2 3 3 4 3-1 3 2 3 5 3-1 3 5M-114 -70l3 0 3 2 3 4 3 2 2 2 3-2 3 2 3 1 3 4 3-2 3 1 3 1 3 0 3 1 3 0 3 2 3 1 3 0 2 2 3 2 3 1 3-1 3 2 3-1 3 2 3-1 3 3 3 2 3 0 3 1 3 1 3 0 2 0 3 1 3 0 3 2 3 1 3 2 3 1"/><path transform="translate(1103.9 1625.2)" d="M-750 -233l3 2M-741 -228l3 3 3 1 3 3 3-2 3 1 3 0 3 2 3-3 2 0 3 1 3 1 3 1 3 0 3 1 3 1 3 0 3 3 3 0 3 1 3 0 3-3 3 0 2 2 3 0 3-1 3-1 3-1 3 1M-647 -221l3 1 3-1 3-1 3 2M-621 -226l3 0 3 4 3-6 3 5 3-2 3-2 3-1M-559 -247l3 9 3-6 2 9 3-9 3 6M-533 -240l3-4 3-1 3-5 3-2 3-2 3-7 3 8 2-2 3 5M-501 -254l3-10 3 14 3-11 3 0M-483 -257l3 0 3-3 3 4 3-3 2 0M-463 -269l3-15 3 12 3 9 3-14 3 1 3-3 3-6 3 4 3-9 3 8 3-2 2-3 3 1 3 10 3 8 3-9M-398 -287l3 2M-381 -296l3-2 3 9 3-2 3 10M-360 -290l3 5 3 2 3 1 3-1M-334 -267l3-7 3 17 3-7 3 11 3-10 3 17M-305 -232l3-2 3 11 3 8 3 9 3-4 3-6 3 12 3-9 3 10 3 9 3-4 3 8 3 4 2-3 3 11 3 7 3-4 3 4 3-3 3 4 3 6 3 6 3 6 3-2 3 9 3-1 3 0 2 6 3-1 3 7 3-2 3 3 3 5 3-1 3 1 3 0 3 10 3-1 3 0 3 3 3 0 2 5 3-1 3 6 3 0 3 6 3 5 3-6 3-1 3 7 3 0 3 0 3 1 3 4 3 4 2-3 3 3 3 1 3 2 3 3 3 4 3 3M-111 -70l3 3 3 0 3 6 2-2 3 3 3 0 3 0 3 4 3-2 3 2 3 0 3 0 3 2 3 3 3-1 3 1 3 2 2 1 3 0 3 1 3 0 3-1 3 4 3 0 3-1 3 2 3 2 3 2 3 0 3 3 3-1 2 2 3 0 3-1 3 0 3 3 3-3 3 5"/><path transform="translate(1100.8 1625.9)" d="M-750 -234l3 3 3-1 3 1 3 2 3 5 3 0 3 0 3 2 3 0 3-1 3 5 2-2 3-3 3-1 3 1 3 4 3 0 3 0 3 4 3-1 3 2 3 0 3 1 3-2 3-3 2 4 3 0 3-1 3-1 3 2 3-3 3 1M-650 -221l3-1 3 0 3 3 3 2 3-4M-606 -223l3-7 3 9M-559 -241l3-8 3 12 2-1 3 0 3 3 3-1 3-4M-527 -241l3-7 3 3M-512 -249l2-10 3 11M-486 -259l3 1 3-2 3 6 3-4M-469 -253l3-13 3-6 3-4 3 7 3 0 3 3 3-7 3 2 3-1 3-13 3 8 3-12 3 5 2-4 3 19M-398 -287l3 7 3-5 3-7 2-7 3-3 3 1 3 2 3 9 3 2 3-4 3 9M-351 -280l3-3 2 7 3-5 3 0 3 3 3-4 3 14 3-1 3 4 3 1 3 13 3 7 3 2 3 1 3 7 2 0 3-1 3 12 3-3 3 15 3 0 3 0 3 12 3-5 3 9 3 3 3-3 3 6 3 0 2 7 3 2 3 3 3 4M-249 -170l3-2 3 8 3 4 3 0 3 9 3-1 3 4 3 1 2 6 3 6 3-2 3 3 3 2 3 2 3 3 3 5 3 0 3 4 3-2 3 4 3 3 3 2 2-1 3 3 3 0 3 3 3 2 3 3 3-1 3 4 3 2 3 0 3 2 3 1 3 3 3 0 2 1 3 6 3-1 3-1 3 5 3 3 3 2M-114 -73l3 0 3 1 3 5 3 2 2 2 3 1 3 1 3 2 3 0 3 3 3-2 3 2 3 1 3 0 3 1 3 1 3 2 3 1 2 3 3-1 3 2 3-2 3 2 3 1 3-1 3 0 3 5 3-2 3 1 3 4 3 1 3 3 2-2 3 2 3 3 3-2 3 1 3 2 3-1"/><path transform="translate(1097.7 1626.6)" d="M-747 -232l3 1 3-1 3 3 3 1 3 4 3 1 3 2 3 0M-709 -222l3 0 3 1 3 3 3 1 3 0 3 1 3 1 3 2 3-2 3 2 3-1M-665 -215l3 1 3-4 3 2M-647 -221l3-1 3 0 3 5 3-1M-603 -225l3 0M-568 -235l3-5 3 1 3-7 3 5 3 1 2-2 3 4 3 6 3-3M-527 -243l3 0 3-1 3-5 3-2 3-2 2 0 3 7M-492 -252l3-9 3 9 3-6 3-3 3 7M-454 -271l3 8M-445 -270l3 1 3-7 3-6 3 2 3 0 2 3 3 8M-395 -281l3-6 3 4 2-8 3-16 3 8 3-6 3 14 3 17M-363 -287l3 6 3 2 3-15 3 7 3 4 2 12 3-8 3-9 3 22 3-20 3 12 3 3 3 6 3 6 3 5 3 6 3 11M-307 -237l2-5 3 13 3 3 3 1 3 4 3 8 3 1 3 7 3 2 3 7 3 4 3 7 3-4 3-3 2 8 3 4 3-1 3 10 3-1 3-4 3 6 3 2 3 1 3 9 3 11 3 0 3 2 3 1 2 0 3 8 3 4 3 1 3 3 3 3 3-1 3 6 3-1 3 1 3 1 3 2 3 0 3 8 2-2 3 2 3-2 3 3 3 2 3 3 3 0 3 2 3 3 3 0 3 3 3 3 3-2 3 6 2-1 3 2 3 1 3 0 3 3 3 3 3 2 3 4 3 1 3-2 3-1 3 4 3 2 3 3 2 3 3 3 3 1 3 2 3-1 3 2 3-2 3 2 3 0 3 3 3 1 3 2 3 1 3 3M-53 -46l3-2 3 1 3 3 3 1 3 0 3 1 3 1 3 1 3-1 3 3 3 0 2 2 3 2 3 1 3 0 3 1 3-1 3 2"/><path transform="translate(1094.6 1627.4)" d="M-750 -234l3 1 3 2 3 0 3 3 3 2 3-1 3 5 3-1 3 1 3 0M-709 -221l3-3 3 2 3 0 3 4 3 0 3 2 3 1 3 2 3-3 3 4M-671 -215l3-1 3 3 3-3 3 1 3-3 3 1 3 0 3-6 3 1 3 1 3 0 3 3 2 1 3-4 3-3 3 0M-615 -223l3-3M-603 -226l3 0M-594 -227l2-3 3 4M-580 -233l3-7 3 3M-565 -235l3-5 3 2 3-2 3-2M-521 -242l3-1 3 3M-501 -248l3-6 3-4 3 5 3-5 3-1 3 2 3 7 3-2M-469 -253l3-8 3-3 3 11M-454 -276l3 6 3 4 3 7 3 0 3-13 3 10M-428 -273l3-1 3 4M-398 -294l3 1M-387 -285l3-3 3-2M-375 -289l3 0 3 10M-363 -283l3-2 3 0 3-1 3-4 3 1 2 16 3-4 3 1 3-5 3 15 3-9 3 14 3 4 3-2 3 13 3 0 3 0 3 3 3 3 2 5 3-1 3 7 3 2 3 10 3 3 3 6 3-1 3 6 3 7M-269 -187l3 1 2-4 3 8 3 0 3 6 3 0 3 9 3-3 3 6 3 5 3 5 3 10 3 0 3 1 3-1 2 9 3-2 3 5 3 0 3 5 3-1 3 4 3 5 3-5 3 11 3-4 3-2 3-1 3 7 2 4 3-2 3 1 3 2 3 2 3 3 3-2 3 2 3 5 3 6M-149 -92l3-3 3 5 2-1 3 5 3-1 3 2 3-1 3 5 3 3 3 1M-114 -76l3 1 3 2 3 2 3 4 2 3 3 1 3 1 3 2 3 0 3 2 3-1 3 1 3 0 3 5 3-1 3 3 3 1 3 2M-56 -47l3-2 3 1 3 2 3 2 3-1 3 0 3 4 3 1 3 0 3-1 3 4 3-3 2 5 3 0 3 4 3-1 3-2 3 2 3 0"/><path transform="translate(1091.5 1628.1)" d="M-750 -232l3 0 3-3 3-1 3 6 3 2 3 0 3 3 3 3 3 0 3 0M-712 -221l3-2 3 1 3 1 3 1 3 1M-691 -216l3 0 3 0 3 2 3 2 3 0 2-1 3-1 3-3 3 1 3 0 3 2 3-2 3 1 3-2M-633 -217l3-1 3-4 3-1 3 1 3-4 3 1 3 3M-606 -225l3-2 3 3 3 0M-592 -226l3-2 3 2 3-5 3-3 3 0 3 0 3-5 3 3M-556 -240l3-1 2 3 3-6 3 8M-539 -231l3-7 3 5 3-3 3-9 3-1 3 2 3 0 3 5 3-1M-495 -251l3 0 3-6 3 3 3 5 3 1 3-3 3-1 3-3 2-3 3 1 3 4 3-6 3-3M-451 -274l3 6M-433 -261l3-17 2-5 3 7 3 5 3-7 3 12M-404 -274l3-14 3 2M-392 -288l3 1 2 2 3 1 3 5 3-14 3 1 3 2 3 5 3 5 3-14 3 8 3 12 3-5M-337 -261l3-12 3-4 3 14 3-3 3 8 3 13 3 0 3-7 3 14 3 11 2-4 3 3 3 9 3-4 3 4 3 5 3 8 3-2 3 7 3-2 3 5 3 8 3-1 3 9 2 0 3 0 3-2 3 11 3 0 3 0 3 2 3 7 3 7 3 3 3 5 3 0 3 1 3 7 2 5 3 4 3-2 3 7 3 3 3-2 3-1 3 4 3 5 3 0 3 2 3 3 3-2 3 2 2-2 3 7 3 3 3-1 3-2 3 3 3-1 3 6 3 2 3 7 3 0 3-3 3 0 3 3 2 3 3 0 3 4 3 0 3 0 3 1 3 1 3 3 3 4 3-3 3 1 3 5 3 0 3 5 2 1 3 2 3 2 3 2 3-1 3 2 3 0 3 1 3 2 3 0 3 2 3 3 3 2 3 0 2 0 3 1 3-1 3 3 3 2 3-1 3 2 3 1 3 0 3 2 3-1 3 1 3 0 3 0 2 1 3 2 3 4 3 1 3 0 3 1 3 0"/><path transform="translate(1088.4 1628.8)" d="M-750 -234l3 3 3-2 3-2 3 3 3 1 3 1 3 2 3 2 3 4 3 0M-715 -222l3-5 3 5 3 2 3-2 3 1 3 1 3 0 3 1 3 1 3 4 3-1 3 2 3-2 2 2 3 1 3-1 3-3 3 1 3-2 3 2 3 0 3 0 3-3 3-2 3-2 3 0 3 0 2 1 3 1 3 5 3-8 3 0 3-5 3 3 3 2 3-1 3-5 3 1 3 6 3-5 3 5M-589 -224l3-3 3-5 3 6M-571 -234l3-1 3 0 3-7 3-1 3 5 3-3 2-1 3 1 3 9M-533 -232l3-4 3-2M-518 -241l3-5 3 7M-495 -247l3-5 3 1 3 2 3-1 3 6 3-3 3 7 3-8 2-7 3 2M-460 -255l3-2 3-2 3-6 3-6M-436 -266l3-1 3-1M-422 -272l3 3 3-1 3-8 3 2M-404 -282l3 6 3-6 3-7 3-6 3 3 2 7 3 3 3 1 3 5 3-8 3 1 3-2 3-1 3-1 3 10M-348 -286l2 7M-337 -266l3 0 3 8 3-19 3 18 3 0 3 11 3 1 3 4 3 6 3 18 2-6 3 11 3-4 3-11 3 7 3 1 3 10 3 6 3 3 3 5M-269 -186l3-1 2-2 3 5 3 8 3 3 3-3 3 11 3-3 3 8 3 3 3 5 3 5 3-2 3 4 3 0 2 5 3 4 3 10 3-9 3 4 3 2 3 4 3 8 3-6 3 7 3 4 3-3 3 3 3-1 2 1 3 4 3 1 3 4 3-4 3 1 3 7 3 0 3 5 3 0 3-1 3 0 3 2 3 2 2-4 3 7 3 2 3 2 3 3 3 1 3-1 3 3 3-3 3 3 3 3 3 2 3 5 3-1 2 4 3 3 3-3 3 2 3 2 3 2 3 2 3-2 3 3 3 1 3 1 3 4 3 1 3 1 2 1 3-3 3 1 3 1 3 4 3 1 3-1 3 1 3 1 3-1 3 3 3 0 3 1 3 1 2-1 3 2 3 3 3 2 3 2 3-2 3 0"/><path transform="translate(1085.3 1629.5)" d="M-750 -228l3-3 3-1 3-2 3 0 3 2 3 5 3 0 3 2 3 1 3 3 3 0 2-3 3 0 3-1 3 2 3 4 3-1 3 3 3-3 3 2 3 1 3 0 3 3M-674 -212l3 1 3-1 3-1 3 0 3-1 3 0 3 3 3-5 3 2 3-2 3-2 3-2 3 3 2-3 3 2 3-2 3 4M-612 -223l3-5 3 4 3 3 3-1 3 1M-586 -225l3 1 3-4 3-1 3 3 3-3 3-6 3 5 3-12 3 9 3-4 3 1 2 8M-527 -234l3-6 3 4 3-3M-495 -253l3-4 3 6 3 8 3 3 3-11 3 8 3 1 3-6 2 5 3-15 3 5M-454 -248l3-7 3-4 3-8 3-6 3 10 3-4 3-7 3 8 2-4 3 3 3-8 3-5 3 12 3 5 3-12 3 10 3-18 3 0 3 9 3-6 3-6 3-2 2-4 3 7 3 9 3-4 3 12 3-16 3 5 3-3 3 8 3-1 3-3 3 2 3 2M-340 -277l3 5 3-2 3 9 3-1 3-2 3 7 3 4 3 13 3 4 3 3 3 6 2 7 3 5M-296 -215l3-5 3-3 3 13 3 3M-275 -193l3-5 3 0 3 9 2 8 3 9 3-5 3 6 3 5 3-2 3 7 3 5 3 3 3 1 3 4 3-3 3 3 3-3 2 13 3 6 3-2 3 2 3 2 3 1 3 1 3 11 3-5 3 1 3 1 3 7 3 3 3 0 2-4 3 5 3 1 3-1 3 3 3 7 3-1 3 1 3 3 3 1 3 5 3-4 3 3 3 1 2-4 3 6 3 0 3 5 3-1 3 1 3 2 3 1 3-1 3 2 3 3 3 6M-102 -66l2 0 3 0 3 3 3 2 3 3 3-1 3 2 3 0 3-1 3 2 3 2 3 2 3 2 3 2 2 1 3 0 3-4 3 3 3 0 3 3 3 2 3 0 3 0 3 1 3 1 3-1 3 2 3-1 2 2 3 3 3 1 3 0 3 1 3 3 3-1"/><path transform="translate(1082.2 1630.3)" d="M-750 -231l3 1 3 1 3-3 3 3 3-1 3 0 3 3 3 4 3 1 3 1 3-1 2-1 3 1 3-2 3 0 3 4 3 1 3 3 3-2 3-2 3 2 3 1 3 1 3 2 3 0 2-1 3 2 3 1 3-1 3 1 3-3 3 0 3 0 3 1 3 1 3-2 3-4 3 3 3-1 2-4 3 1 3 1 3 4 3-4 3 3 3-6 3-4 3 1 3 1 3-2 3 0 3 5M-589 -227l3-2 3 1 3 5 3 0 3-1 3-6 3-4 3 3 3 1 3-1 3-7 3 2 2 3 3-2 3 0 3-2M-536 -231l3-10 3 6 3-1 3 1 3-1 3 2M-512 -238l2-2M-495 -248l3-7 3 6 3 1 3 5 3 2 3-7 3 8 3 3 2-4M-457 -254l3-3 3 13 3-9 3-11 3-2 3-6 3 11M-422 -270l3-3 3 10 3-6 3 4 3-5 3-9 3 10 3-9 3 17 3-8 3-12 2-8 3 10 3 4 3 10 3-10 3-2 3 4 3-2 3 11M-357 -264l3 4 3-13 3-7 2 3M-340 -280l3-5 3 22 3 3 3-4 3-2 3-5 3 14 3 4 3 17M-302 -225l3 7 3 0 3 1 3 1 3-6 3 9 3 8 3 5 3-4 3 6 3 8 3 1 2 13 3 1 3 7 3-2 3 0 3-1 3 9 3 8 3-1 3 7M-231 -149l3-4 3 6 2-2 3 12 3 6 3 2 3 0 3 1 3 3 3 6 3 3 3 2 3 4 3-6 3 4 3 1 2 2 3 3 3-1 3 1 3 2 3 2 3 0 3 6 3 2 3 0 3 2 3-4 3 6 3-1 2 2 3 1 3 1 3 1 3 1 3 1 3 6 3-1 3-2 3 4 3 1 3 9 3-4 3 3 2 0 3 2 3 1 3 4 3 2 3 2 3-1 3 2 3 2M-70 -54l3 1 3 1 3 2 2 2 3-2 3 4 3-1 3 1M-41 -44l3-1 3 1 3 1 3 2 3 2 3-1 3 1 2-1 3 1 3 3 3 1 3 0 3 3 3 0"/><path transform="translate(1079.1 1631.0)" d="M-750 -230l3 2 3-3 3 3 3 0 3-2 3-1 3 2 3 5 3 2M-717 -222l2 2 3 0 3-1 3 2 3-3 3 5 3 2 3-3 3 2 3-3 3 0 3 0 3 4 3 2 2 1 3-1 3 2 3-1 3 1 3 0 3-2 3 0 3 1 3-3 3 0 3 3 3-6 3 0 2-2 3 0 3-2 3 4 3 5 3-6 3-2 3 3 3-1 3-3M-589 -225l3-3 3 1 3-3 3 6 3 0 3-4 3 2 3-3 3-4 3 6 3-6 3 1 2-3 3 4 3 2M-536 -239l3 5 3-3 3 2 3 1 3 8 3 2M-512 -230l2-14M-501 -248l3 7 3-9 3 1 3 1 3 3 3 3M-477 -242l3-3 3 3 2 3 3 0 3-7 3-11 3 1 3-2 3 9 3-4 3 3 3-10 3-9 3 0 3 8M-416 -265l3 3 3-3 3 10 3-8 3 7 3-11 3 0 3-4 3-2 2-1 3-8 3 1 3 5 3 13 3-2 3 6 3-3 3-10 3 1M-340 -278l3-2 3 7 3 15 3 6 3-4 3-7 3 6 3 12 3-5 3 9 3 4 2 7 3 3 3 6 3 1 3 11 3-6 3 6M-281 -209l3 0 3 4 3 6 3 3 3 10 2 4 3 3 3 11 3-5 3 8 3-7 3 1 3 10 3 5 3 5 3 0M-228 -150l3 1 2 8 3 4 3 3 3 0 3 6 3 1 3 7 3 1 3-4 3 8 3 5 3 1 3 2 3-1 2 1 3 3 3-4 3-2 3 7 3-1 3 7 3 1 3 1 3-2 3 2 3 1 3 0 3 2 2 5 3-2 3 3 3 1 3 0 3 2 3 4 3 1 3-4 3 5 3 0 3 3 3 4 3 3 2 1M-94 -64l3 0 3 1 3 2 3 2 3 3 3 1 3-2 3 3 3-1 3 3 3 1 2 3 3 0 3 1 3 0 3 1 3-1 3-1 3 3 3 3 3 0 3 1 3 1 3 1 3 1 2 0 3-1 3 1 3 4 3 1 3 1 3 0"/><path transform="translate(1076.0 1631.7)" d="M-750 -229l3 2 3 0 3-1 3 0 3 1 3 1 3 0 3 2 3 0 3 2 3-2 2 1 3 3 3 1 3-2 3 0 3 0 3 3 3 1 3 2 3-3 3 2 3-4 3 8 3-3 2 2 3 0 3 2 3-1 3 1 3 1 3-1 3 1M-647 -211l3-2 3 2 3 0 3-4 2 1 3-4 3 1 3 0 3 0 3 1 3 2 3-3 3-2 3 1M-589 -225l3-1 3 0 3 0 3-1 3 5 3 2M-559 -226l3-4 3-2 2-2 3 0 3 5 3 0 3-6 3-5 3 3 3 0 3-1 3 8 3 4 3 1 3-1 3-2 2-9 3-2M-495 -241l3-3 3-5 3 2 3 7 3-1 3-6 3 6 3-1 2-1 3 5 3 1 3-8 3-5 3-5 3 4 3 4 3 2 3-8 3-10 3 0M-430 -262l2 1 3-4 3-2 3-4 3-2 3 5 3 7 3 2 3-1 3 2 3 4 3-11 3 5M-384 -270l3-17 3 10 3-2 3 22 3-4 3-3M-357 -265l3-5M-343 -261l3-18 3-5 3 19 3 14 3-5 3-4 3 11 3-5 3 0 3 8 3-1 3 7 2 3 3 4 3 7 3-2 3 15 3 6M-284 -214l3 4 3-5 3 14 3-4 3 11 3 4 2 4 3 6 3 2 3 10M-246 -165l3-6 3 6 3 12 3 2 3 2 3-5 3 4 2 8 3 7 3-1 3 1 3 5 3 2 3 5 3 0 3 4 3 6 3 1 3 3 3 1 3 3 2 3 3-5 3 1 3 0 3-2 3 8 3 1 3 2 3 1 3-1 3 4 3-1 3-1 3 5 2 4 3 0 3 2 3 1 3-1 3 0 3 1 3 3 3 2 3-1 3 3 3 0 3 4 3 1 2 3 3 0 3 2 3 2 3 4 3-2 3 3 3 3 3-1 3 0 3 1 3 1 3 2 3 0 2 4 3-1 3 4 3-1 3 2 3 0 3 0 3 0 3 3M-26 -39l3 0 3 0 2 1 3-1 3 2 3 2 3 0 3 1 3 2"/><path transform="translate(1072.9 1632.5)" d="M-750 -228l3 1 3-1 3 4 3-2 3-2 3 2 3-1 3 1 3 1 3 2 3 0 2 0 3 0 3 3 3 0 3-1 3 0M-694 -216l3-1 3 0 3 0 3 0 3 2 3 0 2 1 3 2 3 1 3 1 3-1 3 2 3 2 3-1 3-4M-635 -211l2 0 3-3 3-3 3 0 3 1 3 4M-612 -214l3-1 3-3M-592 -223l3 0 3-1 3 2 3 1 3-3 3 5 3 2 3-2 3-6 3 4 3-4 3-3 3-1 2-3 3-2 3 6M-539 -223l3-10 3-4 3 2 3 10 3-3 3 10 3-2 3-1M-510 -229l3-10 3 5 3-9 3 3 3-5 3-1 3 6 3-4M-480 -239l3-4 3-1 3 5 2 1 3-1 3-1 3 9 3-10 3-5 3-8 3 0 3 19M-439 -248l3-7 3-13 3 5 2-2 3 8 3-6 3 7 3-5 3-5 3 6 3 1 3-6 3 7 3 1 3 12M-387 -260l3-12 3 10 3-18 3 7 3 11 3-3 3 13M-357 -266l3-6 3 6M-346 -260l3-9 3 0 3-2 3 1 3 16M-325 -247l3-2 3 9 3-5 3-5 3 5 3 0 2 7 3 4 3 5 3 8 3 8 3 4 3 0M-278 -211l3-3 3 10 3 3 3 8 2 9 3-7 3 12 3 9 3-1 3 6M-243 -164l3-1 3 7 3 6 3 0 3 3 3 3 2 9 3-1 3-1 3 5 3 0 3 6 3 7 3 1 3 0 3 4 3 5 3 2 3 2 3 4 2-1 3 2 3 0 3-2 3 3 3-2 3 4 3 2 3 5 3 0 3-2 3 3 3 1 3 0 2 6 3-3 3 3 3 0 3-1 3 1 3-1 3 4 3 2 3 3 3 2 3-1 3 0 3 3 2 3 3 3 3 1 3 1 3 0 3 3 3-3 3 5 3 1 3 2 3 1 3 1 3 1 3 3 2 0 3 2 3 0 3 4 3-1 3 0 3 0 3 1 3 0 3 2 3 0 3 1 3 1 3 2 2 0 3 2 3 0 3 3 3-3 3 4 3 1"/><path transform="translate(1069.9 1633.2)" d="M-750 -226l3-2 3 1 3 3 3 0 3 0 3-3 3-1 3 2 3 2 3 0 3 1 2-1 3 1 3 4 3-3 3 5 3-1 3-1 3-2 3 4 3 1 3 2 3-1 3-1 3 4 2-3 3 4 3 0 3 3 3 0 3 2 3 1 3-5 3 2 3-3 3-1 3-1 3 1 3 0 2 0 3 2M-618 -212l3-2 3 0 3 0 3-2 3-1M-594 -218l2-8 3-1 3 7 3 0 3 1 3-2 3 1M-568 -220l3 2 3-5 3 3 3-12 3 8M-545 -226l3-6 3 2 3 0 3 2 3-3 3-2 3 4 3 6 3 3 3 2 3-4 2 1 3-3 3-11 3-4 3 0 3 0 3 2M-486 -234l3-12 3 1 3 1 3 8 3-1 2 1 3 2 3-2 3-5 3 6 3-7 3-2 3-8 3 6 3 4 3-4 3-7 3 3M-428 -266l3 3 3 6 3-7 3 14 3-7 3-7 3 3 3 4 3 2 3 3 3 6 3-4 3 8 2-22 3-6 3 4 3-3 3 1 3-2 3 8 3 1 3 3M-357 -262l3-9 3 8 3-5 2-2 3 8 3 4 3 3 3-2 3-1 3 12M-319 -243l3-3 3 1 3-1 3 4 2 5 3 2 3 4 3-3 3 17 3 6 3 6M-272 -213l3 4 3 8 2 6 3 7 3 11M-252 -171l3 8 3-2 3-4 3 2 3 4 3 8 3 4 3 0 3 8 2-4 3 9 3 0 3 4 3 2 3 1 3 5 3 8 3 1 3 2 3 4 3 0 3 6 3 3 2 0 3 0 3-1 3 3 3-2 3 3 3-1 3 4 3 2 3-4 3 6 3 1 3 3 3-1 2 2 3 2 3 1 3 1 3 0 3 2 3 0 3-3 3 2 3 6 3 1 3 2 3-3 3 4 2 0 3 5 3 3 3 0 3-1 3 2 3 2 3 2 3 2 3 1 3 1 3 0 3 4 3 0 2 2 3 0 3 1 3 2 3 2 3 1 3 0 3-1 3 1 3-1 3 2 3 2 3 3 3 0 2 0 3 1 3 1 3 0 3 1 3 2 3-1"/><path transform="translate(1066.8 1633.9)" d="M-750 -228l3 2 3-2 3 4M-735 -223l3-2 3 0 3 0 3 2 3-4 3 4 2-1 3 1 3-1 3 4 3 3 3 0 3 1 3-2 3-1 3 2 3 2 3 1 3-1 3 2 2 1 3 0 3-1 3 2 3 5 3 0 3 1 3-3M-647 -210l3-1 3 0 3 0 3 0 2 0M-627 -210l3-4 3-2 3 2 3 0 3 1 3 2 3-3 3-1 3-1 3-6 3-2 2-2 3 5 3-2 3 4 3 3 3-1 3 0 3 3 3-5 3-1 3 1 3-2 3-4 3 4M-545 -232l3 1 3 4 3-2 3 0 3 2 3 1 3-3 3 8 3 0 3-1 3 4 2 0 3-3M-501 -228l3-6 3-5 3 6 3-2 3-10 3 8 3-4 3 4 3-2 3 2 2 3 3-6 3 4 3 4 3 2 3-7 3 0 3-1 3-4 3-3 3 1 3 4 3-8 3-5 2-13 3-3 3 13 3 7 3 3 3-10 3 0 3-4 3 3 3 6 3 0 3-5 3 13 3-3 2-12 3 6 3-12 3-4 3 3 3-1 3 0M-363 -258l3-6 3 1 3-4 3 11 3-5M-343 -247l3-3 3-5 3 5 3 12M-325 -254l3-11 3 6 3 11 3 11 3-6 3 4 2 5 3-4 3 4 3 7 3 16 3-2 3 7 3 2 3-13 3 6 3-5 3 2 3 1 3 5 2 17 3 1 3 4 3 7 3 0 3 6 3 9 3-4 3 2 3 3 3-1 3 11 3 2 3 5 2 1 3 8 3 3 3-1 3 2 3 4 3 4 3 3 3 6 3 0 3 3 3 4 3-1 3 7 2 3 3 1 3 0 3 0 3-1 3 3 3-2 3 1 3 1 3 5 3 2 3 2 3 1 3-2 2 3 3 2 3-4 3 5 3 1 3-2 3 0 3 4 3-2 3 5 3 0 3 3 3 2 3 1 2-2 3 4 3 3 3 2 3 0 3 0 3 4 3 2 3-1 3 3 3 2 3 0 3 1 3 3 2 1 3 0 3-1 3 4 3 1 3 0 3 1 3 1 3 2 3-3 3 2 3 2 3 1 3 4 2 0 3 0 3-3 3 4 3-2 3 1 3 2"/><path transform="translate(1063.7 1634.6)" d="M-750 -225l3-2 3 1M-735 -224l3-2 3 4 3 0 3 0 3 0 3-1 2 0 3 1 3 0 3 4 3 1 3 0 3 0 3-1 3 1 3-2 3-1 3 9 3-2 3 0 2 2 3 0 3 1 3-1 3 3 3 0 3 0 3 0 3 1M-644 -210l3-2 3 2 3 1 2-1 3-2 3 0 3 0 3-1 3-1 3 2 3 2M-600 -215l3-2 3-3 2-3 3-1 3 6 3 3 3 2 3-1 3-4 3 2 3-4 3 5 3-4 3 1 3 0 3-1 2-6 3 0 3-6 3 0 3 0 3 2 3 3 3-1 3 4 3-2 3 2 3 9 3-7 3 1 2 5 3-8 3 3 3-12 3 0 3-1 3 1 3 4M-483 -235l3-1 3 2 3 4 3-2 2-1 3 5 3-4 3-4 3 4 3 0 3 7 3-11 3 0 3-13 3 13 3-3 3 7 3-7 2-14 3-12 3 2 3 5 3 10 3 5 3-8 3-5 3-6 3 4 3 19 3-16 3 6 3 6 2-11 3 5 3-3 3-9 3 11 3-12 3-2 3-4 3 2 3 9 3-3 3 1 3-4 3 2 2 1 3-1 3 11 3 3 3 1 3 1 3-3 3-1 3-8 3 6 3 10 3 10 3 8 3-11 2-7 3 6 3-1 3 8 3 19M-284 -203l3 0 3-7 3-8 3 5 3 3 3 4 2 9 3 5 3 9 3 0 3 6 3 5 3 5 3 4 3 4 3 6 3-1 3-2 3 6 3 11 2 0 3 3 3 1 3 5 3-4 3 6 3 1 3 3 3 8 3-1 3 5 3 0 3 6 3 4 2 0 3 1 3 4 3 0 3-2 3 1 3 2 3-5 3 5 3 5 3 0 3 4 3-2 3 1 2 0 3 1 3 3 3-1 3 1 3 1 3 0 3 3 3-2 3 2 3 3 3 3 3 4M-100 -72l3-1 3 4 3 1 3 6 3 0 3-1 3 5 3-1 3 5 3 0 3 1 3 1 3 2 2 1 3-1 3 2 3-1 3 3 3 3 3 1 3 2 3-1 3-1 3-1 3 4 3 0 3 2 2 2 3-1 3 1 3-1 3 1 3 2 3 1"/><path transform="translate(1060.6 1635.3)" d="M-747 -225l3-1 3 1 3-1 3 1 3 0 3 0 3 2 3 1 3-1 3 0 2 1 3 0 3 4 3-1 3-1 3 2 3 2 3-3 3 2 3 2 3-3 3-2 3 8 3-1 2 2 3-1 3 1 3 0 3 1 3 3 3 0 3 0 3 0 3 0 3-2 3-2 3 1 3 1 2 0 3-3 3 1 3 2 3-2 3 0 3-1 3-2 3 4 3-4 3 1 3 0 3-3 3-2 2-3 3 0 3 3 3 1 3 3 3 3 3-3 3-4 3 3 3-1 3 1 3-1 3 5 3-4 2-1 3-8 3 0 3-1 3 2 3 0 3-2 3 2 3-3 3 7 3-3 3 3 3 3 3-1 2 3 3-1 3-3 3-2 3-4 3 1 3-4 3 5M-483 -229l3-8 3 5 3 3 3 8 2-11 3 4 3 0 3-1 3-2 3 5 3 2 3-5 3-4 3-8 3-6 3 7 3 7 3-4 2 2 3-13 3-6 3 7 3-7 3 17 3-10 3-5 3 3 3-4 3 0 3 5 3-2 3 11 2-3 3-9 3-5 3 2 3 3 3 1 3-4 3 2 3-4 3 4 3-9 3 19 3-2 3-18 2 5 3 8 3 7 3 2 3 10 3-6 3-10 3-1 3-2 3-2 3 7 3 2 3 13 3 1 2 0 3-1 3 3 3 4 3 4 3 8 3 2 3 4 3 6 3-12 3 9 3-9 3 1 3 9 2-5 3 16 3 3 3 0 3 14 3 4 3 4 3 1 3 2 3 12 3-8 3 7 3-2 3 9 2 2 3 9 3 1 3-1 3 4 3 2 3 2 3 0 3 4 3 6 3 2 3 2 3 1 3 5 2-1 3 4 3 6 3-5 3 4 3 0 3 1 3-5 3 2 3 4 3 2 3 4 3 1 3 1 2 0 3 0 3 0 3 0 3 3 3-2 3 1 3 1 3 3 3 4 3-2 3 2 3 4 3 0 2 1 3-1 3 3 3 4 3 2 3 2 3-1 3 1 3 1 3 2 3 4 3 1 3 2 3 2 2-1 3 2 3 2 3-1 3 1 3 3 3 1 3 0 3 3 3-1 3 0 3 1 3 2 3 1 2 2 3-2 3 1 3 1 3-2 3 2 3 1"/><path transform="translate(1057.5 1636.1)" d="M-750 -226l3 1 3 0 3-2 3 1 3 1 3 0 3 0 3-1 3 4 3 0 3 2 2-1 3 1 3 0 3 2 3-2 3 3 3-1 3 4 3-1 3 0 3 0 3 0 3-4 3 10 2-1 3 1 3-2 3 1 3 1 3 1 3 0 3 0 3 0 3 0 3-1 3 2 3-3 3-2 2 4 3-2 3 0 3-1 3 3 3-1 3-1 3-2 3 1 3 0 3 0 3 0 3 0 3-3 2 1 3-3 3 1 3 0 3 1 3 3 3 2 3-4 3 2 3 0 3-3 3 0 3 0 3 0 2 2 3-1 3-11 3 6 3-2 3-1 3 0 3 0 3 3 3 0 3-1 3 3 3-2 3 2 2-3 3 4 3-3 3-5 3 2 3-2 3 1 3 1 3 4 3-16 3 5 3 6 3 0 3 0 2-6 3 0 3-3 3 5 3 3 3-5 3-3 3 8 3-11 3 6 3-6 3 2 3 9 3-16 2 6 3-3 3-10 3 7 3 0 3 7 3 1 3-11 3 1 3-1 3 1 3 0 3-2 3 8 2-2 3-8 3-3 3-4 3 6 3 1 3-3 3 2 3-16 3 6 3 15 3-8 3 4 3-3 2 5 3 5 3-6 3 11 3-4 3-3 3 2 3-4 3 10 3-2 3 0 3 12 3-17 3 11 2 4 3-5 3 5 3 1 3 6 3 5 3 4 3-14 3 15 3-5 3 4 3 9 3-4 3 6 2 1 3-1 3 10 3 5 3 3 3 11 3 7 3 0 3 5 3-1 3 6 3 4 3-2 3 0 2 8 3-1 3 12 3 2 3 1 3 1 3 3 3-2 3 8 3 2 3 0 3 4 3 2 3 2 2 1 3 3 3 7 3 1 3-2 3 2 3-2 3 0 3 4 3 0 3-1 3 6 3 2 3-2 2 3 3 0 3-1 3 5 3-3 3 0 3 4 3-1 3 2 3 4 3 0 3 1 3-2 3 4 2 3 3-3 3 4 3 1 3 2 3 2 3 4 3 2 3-2 3 3 3 1 3 1 3 2 3 1 2 1 3 2 3 0 3 2 3 0 3-1 3 4 3 0 3 2 3 0 3 0 3 2 3 1 3 0 2 0 3 1 3 1 3 1 3 0 3 1 3 1"/><path transform="translate(1054.4 1636.8)" d="M-750 -226l3 0 3 0 3-2 3 1 3 0 3 1 3 2 3 1 3 1 3-1 3 2 2 0 3 2 3 0 3 1 3 1 3-1 3 2 3 0 3 2 3-1 3 1 3 1 3 0 3-2 2 5 3 0 3 1 3 0 3 0 3 1 3 0 3 0 3-1 3 1 3-1 3 3 3 0 3-3 2 2 3 0 3-1 3-1 3 3 3-5 3 3 3 0 3-1 3 2 3-3 3 2 3 0 3 1 2-2 3 2 3-1 3-1 3 1 3 1 3-2 3-1 3 2 3 0 3-5 3 3 3 2 3-5 2 3 3 0 3-3 3 2 3-1 3 0 3 0 3-2 3 1 3 1 3-4 3 3 3-1 3 0 2-2 3 1 3 1 3-3 3-1 3 3 3-2 3-2 3 3 3-1 3-3 3 4 3-5 3 4 2-4 3 0 3 3 3-3 3-2 3 2 3-3 3 3 3-3 3 0 3-1 3 1 3-1 3-11 2 11 3-2 3-2 3 0 3 4 3-9 3 8 3-6 3 0 3 4 3-6 3 4 3-3 3 2 2-7 3 4 3 1 3-8 3 7 3-2 3-5 3 5 3-8 3 7 3-1 3-8 3 7 3-2 2-1 3 2 3 2 3 1 3 1 3-1 3 5 3-3 3 7 3-3 3 3 3-1 3 3 3 0 2 4 3-5 3 9 3-5 3 8 3-1 3 2 3-3 3 8 3 1 3-1 3 2 3 12 3-1 2 10 3-2 3 5 3 8 3-1 3 7 3 1 3 4 3 7 3 0 3 8 3 1 3 4 3 3 2 4 3 1 3 1 3 3 3 4 3-1 3 6 3 0 3 4 3 1 3 3 3 3 3 1 3 1 2 6 3 2 3-1 3 5 3-1 3 2 3 4 3-1 3 1 3 2 3 1 3-1 3 4 3-1 2 2 3 0 3 3 3-2 3 5 3-2 3 3 3-2 3 5 3-3 3 4 3-1 3 1 3 4 2-1 3 2 3 2 3 1 3 4 3 0 3 1 3 1 3 2 3 1 3 3 3 2 3 0 3 2 2 1 3 3 3 0 3 1 3 1 3 0 3 2 3 0 3 1 3 1 3 0 3 2 3 0 3 1 2 0 3 3 3-2 3 1 3 3 3-1 3 1"/></g></g><g filter="url(#ba)"><path d="M304.4 325.1L304.4 1443.7L1054.6 1637.3L1846.4 1452.0" class="a"/><line x1="304.4" y1="1443.7" x2="275.9" y2="1436.4" class="a"/><line x1="304.4" y1="1220.0" x2="275.9" y2="1212.7" class="a"/><line x1="304.4" y1="996.3" x2="275.9" y2="989.0" class="a"/><line x1="304.4" y1="772.5" x2="275.9" y2="765.2" class="a"/><line x1="304.4" y1="548.8" x2="275.9" y2="541.5" class="a"/><line x1="304.4" y1="325.1" x2="275.9" y2="317.8" class="a"/><line x1="304.4" y1="1443.7" x2="276.6" y2="1452.3" class="a"/><line x1="679.5" y1="1540.5" x2="651.7" y2="1549.1" class="a"/><line x1="1054.6" y1="1637.3" x2="1026.8" y2="1646.7" class="a"/><line x1="1054.6" y1="1637.3" x2="1082.1" y2="1647.3" class="a"/><line x1="1450.5" y1="1544.7" x2="1478.0" y2="1554.7" class="a"/><line x1="1846.4" y1="1452.0" x2="1873.9" y2="1462.0" class="a"/><linearGradient id="cbg" x1="0" y1="1" x2="0" y2="0"><stop offset="0" stop-color="#3e26a8"/><stop offset="0.03125" stop-color="#422ebf"/><stop offset="0.0625" stop-color="#4536d5"/><stop offset="0.09375" stop-color="#4741e5"/><stop offset="0.125" stop-color="#484cef"/><stop offset="0.1562" stop-color="#4757f7"/><stop offset="0.1875" stop-color="#4562fc"/><stop offset="0.2188" stop-color="#3f6efe"/><stop offset="0.25" stop-color="#347afd"/><stop offset="0.2812" stop-color="#2e85f8"/><stop offset="0.3125" stop-color="#2c90f0"/><stop offset="0.3438" stop-color="#269ae9"/><stop offset="0.375" stop-color="#21a3e3"/><stop offset="0.4062" stop-color="#1aacdd"/><stop offset="0.4375" stop-color="#0cb3d3"/><stop offset="0.4688" stop-color="#01b9c6"/><stop offset="0.5" stop-color="#12beb9"/><stop offset="0.5312" stop-color="#28c2ab"/><stop offset="0.5625" stop-color="#34c79c"/><stop offset="0.5938" stop-color="#44ca8a"/><stop offset="0.625" stop-color="#5ccc76"/><stop offset="0.6562" stop-color="#77cc60"/><stop offset="0.6875" stop-color="#94ca4a"/><stop offset="0.7188" stop-color="#afc637"/><stop offset="0.75" stop-color="#c8c129"/><stop offset="0.7812" stop-color="#debc2a"/><stop offset="0.8125" stop-color="#f1ba37"/><stop offset="0.8438" stop-color="#febe3c"/><stop offset="0.875" stop-color="#feca33"/><stop offset="0.9062" stop-color="#f9d62d"/><stop offset="0.9375" stop-color="#f5e327"/><stop offset="0.9688" stop-color="#f6ef20"/><stop offset="1" stop-color="#f9fb15"/></linearGradient><rect x="2013.5" y="133.5" width="94" height="1505.5" fill="url(#cbg)"/><path d="M2013.5 1639V133.5H2107.5V1639" class="a"/><line x1="2092.5" y1="1521.0" x2="2107.5" y2="1521.0" class="a"/><line x1="2092.5" y1="1366.6" x2="2107.5" y2="1366.6" class="a"/><line x1="2092.5" y1="1212.2" x2="2107.5" y2="1212.2" class="a"/><line x1="2092.5" y1="1057.8" x2="2107.5" y2="1057.8" class="a"/><line x1="2092.5" y1="903.4" x2="2107.5" y2="903.4" class="a"/><line x1="2092.5" y1="749.0" x2="2107.5" y2="749.0" class="a"/><line x1="2092.5" y1="594.6" x2="2107.5" y2="594.6" class="a"/><line x1="2092.5" y1="440.2" x2="2107.5" y2="440.2" class="a"/><line x1="2092.5" y1="285.8" x2="2107.5" y2="285.8" class="a"/></g><g filter="url(#bt)"><text x="1070.0" y="104.5" class="tl" text-anchor="middle">Alpha=3.1</text><text x="240.5" y="1238.4" class="tk" text-anchor="end">0.2</text><text x="240.5" y="1014.7" class="tk" text-anchor="end">0.4</text><text x="240.5" y="790.9" class="tk" text-anchor="end">0.6</text><text x="240.5" y="567.2" class="tk" text-anchor="end">0.8</text><text x="240.5" y="343.5" class="tk" text-anchor="end">1</text><text x="244.0" y="1462.1" class="tk" text-anchor="end">0</text><text x="129.5" y="1546.0" class="tk">0.5</text><text x="575.5" y="1643.0" class="tk">0</text><text x="839" y="1742.5" class="tk"><tspan font-size="64">−</tspan><tspan dx="3.7">0.5</tspan></text><text x="1104.2" y="1742.5" class="tk"><tspan font-size="64">−</tspan><tspan dx="3.7">0.5</tspan></text><text x="1508.5" y="1646.0" class="tk">0</text><text x="1905.0" y="1555.5" class="tk">0.5</text><text x="430.5" y="1818.0" class="tk">y/m</text><text x="1545.5" y="1820.0" class="tk">x/m</text><text transform="translate(83,884) rotate(-90) scale(1.014,0.875)" class="tk" text-anchor="middle">Intensity(arbitrary unit)</text><text x="2136.0" y="1551.0" class="cb">0.1</text><text x="2136.0" y="1396.6" class="cb">0.2</text><text x="2136.0" y="1242.2" class="cb">0.3</text><text x="2136.0" y="1087.8" class="cb">0.4</text><text x="2136.0" y="933.4" class="cb">0.5</text><text x="2136.0" y="779.0" class="cb">0.6</text><text x="2136.0" y="624.6" class="cb">0.7</text><text x="2136.0" y="470.2" class="cb">0.8</text><text x="2136.0" y="315.8" class="cb">0.9</text></g></svg></body></html>
